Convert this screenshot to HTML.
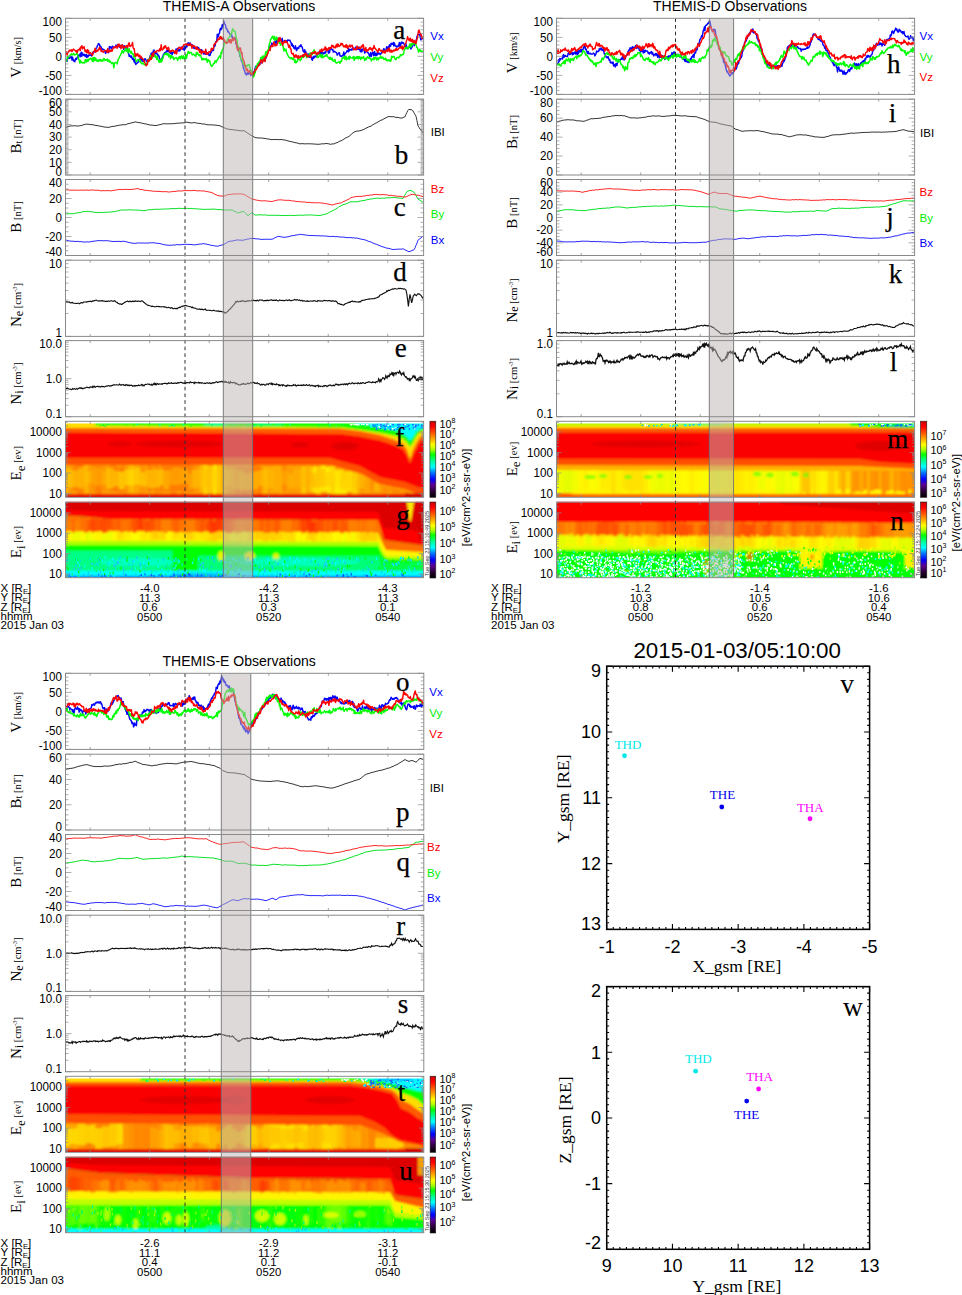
<!DOCTYPE html>
<html><head><meta charset="utf-8"><style>
html,body{margin:0;padding:0;background:#fff;}
svg{display:block;}
</style></head><body>
<svg width="962" height="1295" viewBox="0 0 962 1295">
<defs><filter id="blr" x="-5%" y="-20%" width="110%" height="140%"><feGaussianBlur stdDeviation="1.1"/></filter><clipPath id="cp_Af"><rect x="66" y="423.6" width="357.60" height="73.50"/></clipPath><clipPath id="cp_Ag"><rect x="66" y="501.8" width="357.60" height="75.80"/></clipPath><clipPath id="cp_Dm"><rect x="557" y="423.6" width="357.60" height="73.50"/></clipPath><clipPath id="cp_Dn"><rect x="557" y="501.8" width="357.60" height="75.80"/></clipPath><clipPath id="cp_Et"><rect x="66" y="1078.6" width="357.60" height="73.50"/></clipPath><clipPath id="cp_Eu"><rect x="66" y="1156.8" width="357.60" height="75.80"/></clipPath><linearGradient id="cbg" x1="0" y1="0" x2="0" y2="1"><stop offset="0.000" stop-color="#c80000"/><stop offset="0.070" stop-color="#ff0000"/><stop offset="0.120" stop-color="#ff3000"/><stop offset="0.180" stop-color="#ff7000"/><stop offset="0.240" stop-color="#ffb000"/><stop offset="0.310" stop-color="#ffff00"/><stop offset="0.370" stop-color="#b0ff00"/><stop offset="0.440" stop-color="#00ff00"/><stop offset="0.520" stop-color="#00ff90"/><stop offset="0.600" stop-color="#00ffff"/><stop offset="0.680" stop-color="#0070ff"/><stop offset="0.760" stop-color="#0000ff"/><stop offset="0.840" stop-color="#5c0090"/><stop offset="0.920" stop-color="#2a0035"/><stop offset="1.000" stop-color="#000000"/></linearGradient></defs>
<g clip-path="url(#cp_Af)"><g filter="url(#blr)">
<path d="M62.0 423.6L428.0 423.6L428.0 501.0L62.0 501.0Z" fill="#ff9b00"/>
<path d="M62.0 466.1L66.1 466.1L66.1 492.8L62.0 492.8Z" fill="#ffb000" fill-opacity="0.9"/>
<path d="M65.8 462.5L70.1 462.5L70.1 493.1L65.8 493.1Z" fill="#ffa900" fill-opacity="0.9"/>
<path d="M69.8 462.0L74.7 462.0L74.7 492.0L69.8 492.0Z" fill="#ff9100" fill-opacity="0.9"/>
<path d="M74.4 465.1L77.0 465.1L77.0 490.7L74.4 490.7Z" fill="#ff7b00" fill-opacity="0.9"/>
<path d="M76.7 464.9L83.0 464.9L83.0 493.6L76.7 493.6Z" fill="#ff7b00" fill-opacity="0.9"/>
<path d="M82.7 464.3L85.6 464.3L85.6 490.8L82.7 490.8Z" fill="#ffa300" fill-opacity="0.9"/>
<path d="M85.3 461.8L88.3 461.8L88.3 492.8L85.3 492.8Z" fill="#ffb800" fill-opacity="0.9"/>
<path d="M88.0 464.3L92.1 464.3L92.1 493.7L88.0 493.7Z" fill="#ff9c00" fill-opacity="0.9"/>
<path d="M91.8 464.0L96.1 464.0L96.1 491.9L91.8 491.9Z" fill="#ff8e00" fill-opacity="0.9"/>
<path d="M95.8 466.0L102.1 466.0L102.1 494.0L95.8 494.0Z" fill="#ff7b00" fill-opacity="0.9"/>
<path d="M101.8 463.3L105.4 463.3L105.4 490.9L101.8 490.9Z" fill="#ff9100" fill-opacity="0.9"/>
<path d="M105.1 466.1L110.4 466.1L110.4 492.4L105.1 492.4Z" fill="#ff9900" fill-opacity="0.9"/>
<path d="M110.1 461.9L116.3 461.9L116.3 491.5L110.1 491.5Z" fill="#ff7d00" fill-opacity="0.9"/>
<path d="M116.0 466.8L121.9 466.8L121.9 492.5L116.0 492.5Z" fill="#ff7f00" fill-opacity="0.9"/>
<path d="M121.6 465.8L124.2 465.8L124.2 491.8L121.6 491.8Z" fill="#ff7b00" fill-opacity="0.9"/>
<path d="M123.9 466.8L126.5 466.8L126.5 494.3L123.9 494.3Z" fill="#ff8800" fill-opacity="0.9"/>
<path d="M126.2 462.5L129.0 462.5L129.0 490.8L126.2 490.8Z" fill="#ff9d00" fill-opacity="0.9"/>
<path d="M128.7 464.8L134.2 464.8L134.2 492.7L128.7 492.7Z" fill="#ffb800" fill-opacity="0.9"/>
<path d="M133.9 462.7L137.0 462.7L137.0 493.7L133.9 493.7Z" fill="#ffa500" fill-opacity="0.9"/>
<path d="M136.7 463.1L139.4 463.1L139.4 491.8L136.7 491.8Z" fill="#ffab00" fill-opacity="0.9"/>
<path d="M139.1 463.6L145.3 463.6L145.3 494.9L139.1 494.9Z" fill="#ff9200" fill-opacity="0.9"/>
<path d="M145.0 466.4L148.2 466.4L148.2 493.7L145.0 493.7Z" fill="#ff9b00" fill-opacity="0.9"/>
<path d="M147.9 463.2L150.6 463.2L150.6 491.8L147.9 491.8Z" fill="#ff7b00" fill-opacity="0.9"/>
<path d="M150.3 463.7L155.6 463.7L155.6 490.9L150.3 490.9Z" fill="#ff8900" fill-opacity="0.9"/>
<path d="M155.3 463.4L158.0 463.4L158.0 493.5L155.3 493.5Z" fill="#ff8200" fill-opacity="0.9"/>
<path d="M157.7 467.0L161.5 467.0L161.5 492.9L157.7 492.9Z" fill="#ff8600" fill-opacity="0.9"/>
<path d="M161.2 463.2L165.8 463.2L165.8 491.3L161.2 491.3Z" fill="#ff7b00" fill-opacity="0.9"/>
<path d="M165.5 463.5L171.4 463.5L171.4 491.4L165.5 491.4Z" fill="#ff7b00" fill-opacity="0.9"/>
<path d="M171.1 463.3L176.4 463.3L176.4 495.3L171.1 495.3Z" fill="#ff7b00" fill-opacity="0.9"/>
<path d="M176.1 464.5L181.9 464.5L181.9 491.0L176.1 491.0Z" fill="#ff7b00" fill-opacity="0.9"/>
<path d="M181.6 463.6L184.1 463.6L184.1 494.0L181.6 494.0Z" fill="#ff7b00" fill-opacity="0.9"/>
<path d="M183.8 465.4L187.1 465.4L187.1 492.0L183.8 492.0Z" fill="#ff7b00" fill-opacity="0.9"/>
<path d="M186.8 462.8L189.8 462.8L189.8 491.6L186.8 491.6Z" fill="#ff7b00" fill-opacity="0.9"/>
<path d="M189.5 465.5L194.0 465.5L194.0 491.9L189.5 491.9Z" fill="#ff7b00" fill-opacity="0.9"/>
<path d="M193.7 462.6L199.7 462.6L199.7 491.8L193.7 491.8Z" fill="#ff9300" fill-opacity="0.9"/>
<path d="M199.4 463.4L203.5 463.4L203.5 492.3L199.4 492.3Z" fill="#ffb700" fill-opacity="0.9"/>
<path d="M203.2 464.4L207.8 464.4L207.8 495.0L203.2 495.0Z" fill="#ffd800" fill-opacity="0.9"/>
<path d="M207.5 466.1L213.7 466.1L213.7 493.4L207.5 493.4Z" fill="#ffca00" fill-opacity="0.9"/>
<path d="M213.4 462.7L216.3 462.7L216.3 495.1L213.4 495.1Z" fill="#fff200" fill-opacity="0.9"/>
<path d="M216.0 462.8L221.1 462.8L221.1 493.7L216.0 493.7Z" fill="#ffca00" fill-opacity="0.9"/>
<path d="M220.8 464.3L225.0 464.3L225.0 495.5L220.8 495.5Z" fill="#ffb600" fill-opacity="0.9"/>
<path d="M224.7 466.4L227.3 466.4L227.3 495.0L224.7 495.0Z" fill="#ffb200" fill-opacity="0.9"/>
<path d="M227.0 466.7L232.2 466.7L232.2 495.1L227.0 495.1Z" fill="#ffa100" fill-opacity="0.9"/>
<path d="M231.9 467.3L235.6 467.3L235.6 494.9L231.9 494.9Z" fill="#ff9200" fill-opacity="0.9"/>
<path d="M235.3 467.1L239.3 467.1L239.3 493.4L235.3 493.4Z" fill="#ff7b00" fill-opacity="0.9"/>
<path d="M239.0 465.8L243.8 465.8L243.8 493.5L239.0 493.5Z" fill="#ff8400" fill-opacity="0.9"/>
<path d="M243.5 467.8L246.1 467.8L246.1 494.9L243.5 494.9Z" fill="#ff7b00" fill-opacity="0.9"/>
<path d="M245.8 466.6L251.0 466.6L251.0 493.4L245.8 493.4Z" fill="#ff8400" fill-opacity="0.9"/>
<path d="M250.7 463.3L254.8 463.3L254.8 494.3L250.7 494.3Z" fill="#ff7b00" fill-opacity="0.9"/>
<path d="M254.5 465.3L256.9 465.3L256.9 491.7L254.5 491.7Z" fill="#ff7b00" fill-opacity="0.9"/>
<path d="M256.6 466.0L261.7 466.0L261.7 495.1L256.6 495.1Z" fill="#ff7b00" fill-opacity="0.9"/>
<path d="M261.4 464.5L264.7 464.5L264.7 493.9L261.4 493.9Z" fill="#ffa300" fill-opacity="0.9"/>
<path d="M264.4 467.5L267.6 467.5L267.6 493.8L264.4 493.8Z" fill="#ffbf00" fill-opacity="0.9"/>
<path d="M267.3 464.7L271.3 464.7L271.3 493.8L267.3 493.8Z" fill="#ff9e00" fill-opacity="0.9"/>
<path d="M271.0 467.1L274.1 467.1L274.1 495.1L271.0 495.1Z" fill="#ffa400" fill-opacity="0.9"/>
<path d="M273.8 466.0L279.6 466.0L279.6 492.1L273.8 492.1Z" fill="#ffad00" fill-opacity="0.9"/>
<path d="M279.3 467.3L282.2 467.3L282.2 494.7L279.3 494.7Z" fill="#ffad00" fill-opacity="0.9"/>
<path d="M281.9 464.5L287.0 464.5L287.0 491.3L281.9 491.3Z" fill="#ff8800" fill-opacity="0.9"/>
<path d="M286.7 464.3L290.8 464.3L290.8 492.6L286.7 492.6Z" fill="#ff9b00" fill-opacity="0.9"/>
<path d="M290.5 464.8L295.3 464.8L295.3 494.7L290.5 494.7Z" fill="#ff9b00" fill-opacity="0.9"/>
<path d="M295.0 463.6L301.3 463.6L301.3 490.7L295.0 490.7Z" fill="#ff9f00" fill-opacity="0.9"/>
<path d="M301.0 466.8L306.8 466.8L306.8 493.4L301.0 493.4Z" fill="#ffc600" fill-opacity="0.9"/>
<path d="M306.5 463.4L310.0 463.4L310.0 491.2L306.5 491.2Z" fill="#ffad00" fill-opacity="0.9"/>
<path d="M309.7 467.5L313.8 467.5L313.8 491.7L309.7 491.7Z" fill="#ffd600" fill-opacity="0.9"/>
<path d="M313.5 466.5L316.4 466.5L316.4 492.7L313.5 492.7Z" fill="#fff400" fill-opacity="0.9"/>
<path d="M316.1 467.4L320.9 467.4L320.9 495.3L316.1 495.3Z" fill="#ffe600" fill-opacity="0.9"/>
<path d="M320.6 465.8L325.6 465.8L325.6 491.4L320.6 491.4Z" fill="#fff400" fill-opacity="0.9"/>
<path d="M325.3 467.0L327.7 467.0L327.7 491.4L325.3 491.4Z" fill="#fff400" fill-opacity="0.9"/>
<path d="M327.4 467.0L330.8 467.0L330.8 493.1L327.4 493.1Z" fill="#fff400" fill-opacity="0.9"/>
<path d="M330.5 466.2L335.2 466.2L335.2 494.5L330.5 494.5Z" fill="#ffdd00" fill-opacity="0.9"/>
<path d="M334.9 470.2L340.8 470.2L340.8 494.1L334.9 494.1Z" fill="#fff400" fill-opacity="0.9"/>
<path d="M340.5 469.8L343.4 469.8L343.4 495.0L340.5 495.0Z" fill="#fff400" fill-opacity="0.9"/>
<path d="M343.1 471.8L346.9 471.8L346.9 494.5L343.1 494.5Z" fill="#ffee00" fill-opacity="0.9"/>
<path d="M346.6 471.6L352.6 471.6L352.6 491.5L346.6 491.5Z" fill="#fff100" fill-opacity="0.9"/>
<path d="M352.3 472.7L357.5 472.7L357.5 494.1L352.3 494.1Z" fill="#ffd500" fill-opacity="0.9"/>
<path d="M357.2 475.1L360.4 475.1L360.4 495.4L357.2 495.4Z" fill="#ffb200" fill-opacity="0.9"/>
<path d="M360.1 473.3L364.5 473.3L364.5 495.0L360.1 495.0Z" fill="#ff9a00" fill-opacity="0.9"/>
<path d="M364.2 474.7L370.0 474.7L370.0 492.7L364.2 492.7Z" fill="#ffa700" fill-opacity="0.9"/>
<path d="M369.7 479.4L374.2 479.4L374.2 490.6L369.7 490.6Z" fill="#ff9100" fill-opacity="0.9"/>
<path d="M373.9 483.6L379.4 483.6L379.4 491.4L373.9 491.4Z" fill="#ffb500" fill-opacity="0.9"/>
<path d="M379.1 482.4L382.7 482.4L382.7 491.2L379.1 491.2Z" fill="#ff9d00" fill-opacity="0.9"/>
<path d="M382.4 486.6L386.8 486.6L386.8 493.9L382.4 493.9Z" fill="#ff8b00" fill-opacity="0.9"/>
<path d="M386.5 488.1L392.6 488.1L392.6 490.9L386.5 490.9Z" fill="#ff8b00" fill-opacity="0.9"/>
<path d="M392.3 485.7L395.5 485.7L395.5 494.1L392.3 494.1Z" fill="#ff8900" fill-opacity="0.9"/>
<path d="M395.2 489.2L400.0 489.2L400.0 493.3L395.2 493.3Z" fill="#ff8700" fill-opacity="0.9"/>
<path d="M399.7 490.0L403.3 490.0L403.3 495.0L399.7 495.0Z" fill="#ff9100" fill-opacity="0.9"/>
<path d="M403.0 491.2L406.1 491.2L406.1 493.1L403.0 493.1Z" fill="#ff7b00" fill-opacity="0.9"/>
<path d="M405.8 489.6L410.4 489.6L410.4 493.0L405.8 493.0Z" fill="#ff9300" fill-opacity="0.9"/>
<path d="M410.1 492.3L414.8 492.3L414.8 493.1L410.1 493.1Z" fill="#ffbb00" fill-opacity="0.9"/>
<path d="M414.5 490.8L418.4 490.8L418.4 493.0L414.5 493.0Z" fill="#ffa100" fill-opacity="0.9"/>
<path d="M418.1 491.2L423.2 491.2L423.2 492.6L418.1 492.6Z" fill="#ffc600" fill-opacity="0.9"/>
<path d="M62.0 471.0L68.1 471.0L68.1 483.9L62.0 483.9Z" fill="#ffcf00" fill-opacity="0.6"/>
<path d="M67.8 468.7L71.2 468.7L71.2 487.9L67.8 487.9Z" fill="#ffd600" fill-opacity="0.6"/>
<path d="M70.9 470.4L78.4 470.4L78.4 487.0L70.9 487.0Z" fill="#ffd000" fill-opacity="0.6"/>
<path d="M78.1 468.1L82.2 468.1L82.2 488.5L78.1 488.5Z" fill="#ffd300" fill-opacity="0.6"/>
<path d="M81.9 467.6L85.6 467.6L85.6 487.2L81.9 487.2Z" fill="#ffc200" fill-opacity="0.6"/>
<path d="M85.3 472.2L90.6 472.2L90.6 483.3L85.3 483.3Z" fill="#ffc700" fill-opacity="0.6"/>
<path d="M90.3 470.2L94.0 470.2L94.0 483.7L90.3 483.7Z" fill="#ffb000" fill-opacity="0.6"/>
<path d="M93.7 467.9L102.9 467.9L102.9 485.7L93.7 485.7Z" fill="#ffb000" fill-opacity="0.6"/>
<path d="M102.6 471.0L106.7 471.0L106.7 484.2L102.6 484.2Z" fill="#ffba00" fill-opacity="0.6"/>
<path d="M106.4 468.3L113.9 468.3L113.9 488.2L106.4 488.2Z" fill="#ffd300" fill-opacity="0.6"/>
<path d="M113.6 470.9L119.3 470.9L119.3 486.2L113.6 486.2Z" fill="#ffd800" fill-opacity="0.6"/>
<path d="M119.0 471.7L124.6 471.7L124.6 489.1L119.0 489.1Z" fill="#fff200" fill-opacity="0.6"/>
<path d="M124.3 469.5L133.5 469.5L133.5 485.5L124.3 485.5Z" fill="#ffe900" fill-opacity="0.6"/>
<path d="M133.2 468.1L140.6 468.1L140.6 484.8L133.2 484.8Z" fill="#ffdf00" fill-opacity="0.6"/>
<path d="M140.3 472.3L145.8 472.3L145.8 486.4L140.3 486.4Z" fill="#ffde00" fill-opacity="0.6"/>
<path d="M145.5 470.0L148.9 470.0L148.9 486.6L145.5 486.6Z" fill="#ffcd00" fill-opacity="0.6"/>
<path d="M148.6 469.8L153.3 469.8L153.3 488.1L148.6 488.1Z" fill="#ffd100" fill-opacity="0.6"/>
<path d="M153.0 468.6L156.9 468.6L156.9 487.7L153.0 487.7Z" fill="#ffce00" fill-opacity="0.6"/>
<path d="M156.6 469.6L160.1 469.6L160.1 487.3L156.6 487.3Z" fill="#ffda00" fill-opacity="0.6"/>
<path d="M159.8 468.8L163.4 468.8L163.4 485.2L159.8 485.2Z" fill="#ffdc00" fill-opacity="0.6"/>
<path d="M163.1 470.5L169.3 470.5L169.3 489.3L163.1 489.3Z" fill="#ffc300" fill-opacity="0.6"/>
<path d="M169.0 469.8L173.3 469.8L173.3 484.7L169.0 484.7Z" fill="#ffb000" fill-opacity="0.6"/>
<path d="M173.0 467.7L180.8 467.7L180.8 485.2L173.0 485.2Z" fill="#ffb000" fill-opacity="0.6"/>
<path d="M180.5 469.1L188.4 469.1L188.4 483.7L180.5 483.7Z" fill="#ffb900" fill-opacity="0.6"/>
<path d="M188.1 473.6L191.6 473.6L191.6 489.7L188.1 489.7Z" fill="#ffb200" fill-opacity="0.6"/>
<path d="M191.3 469.7L197.7 469.7L197.7 488.4L191.3 488.4Z" fill="#ffcc00" fill-opacity="0.6"/>
<path d="M197.4 469.1L205.7 469.1L205.7 486.9L197.4 486.9Z" fill="#ffc500" fill-opacity="0.6"/>
<path d="M205.4 469.4L211.5 469.4L211.5 489.5L205.4 489.5Z" fill="#ffbe00" fill-opacity="0.6"/>
<path d="M211.2 469.6L219.9 469.6L219.9 489.1L211.2 489.1Z" fill="#ffd000" fill-opacity="0.6"/>
<path d="M219.6 471.0L224.6 471.0L224.6 488.0L219.6 488.0Z" fill="#ffb800" fill-opacity="0.6"/>
<path d="M224.3 469.6L231.8 469.6L231.8 485.4L224.3 485.4Z" fill="#ffc800" fill-opacity="0.6"/>
<path d="M231.5 468.7L238.9 468.7L238.9 489.3L231.5 489.3Z" fill="#ffbd00" fill-opacity="0.6"/>
<path d="M238.6 470.6L244.4 470.6L244.4 489.9L238.6 489.9Z" fill="#ffcb00" fill-opacity="0.6"/>
<path d="M244.1 473.5L250.8 473.5L250.8 489.8L244.1 489.8Z" fill="#ffc400" fill-opacity="0.6"/>
<path d="M250.5 471.6L258.3 471.6L258.3 489.5L250.5 489.5Z" fill="#ffc900" fill-opacity="0.6"/>
<path d="M258.0 470.2L266.1 470.2L266.1 486.3L258.0 486.3Z" fill="#ffc500" fill-opacity="0.6"/>
<path d="M265.8 468.2L273.5 468.2L273.5 488.4L265.8 488.4Z" fill="#ffc100" fill-opacity="0.6"/>
<path d="M273.2 473.6L281.9 473.6L281.9 489.6L273.2 489.6Z" fill="#ffb100" fill-opacity="0.6"/>
<path d="M281.6 470.5L288.1 470.5L288.1 484.8L281.6 484.8Z" fill="#ffb000" fill-opacity="0.6"/>
<path d="M287.8 473.9L293.2 473.9L293.2 488.4L287.8 488.4Z" fill="#ffba00" fill-opacity="0.6"/>
<path d="M292.9 469.0L299.5 469.0L299.5 487.5L292.9 487.5Z" fill="#ffb400" fill-opacity="0.6"/>
<path d="M299.2 469.8L306.7 469.8L306.7 486.8L299.2 486.8Z" fill="#ffb900" fill-opacity="0.6"/>
<path d="M306.4 469.2L311.6 469.2L311.6 484.9L306.4 484.9Z" fill="#ffb000" fill-opacity="0.6"/>
<path d="M311.3 472.9L316.5 472.9L316.5 488.3L311.3 488.3Z" fill="#ffb000" fill-opacity="0.6"/>
<path d="M316.2 468.6L325.1 468.6L325.1 487.3L316.2 487.3Z" fill="#ffb700" fill-opacity="0.6"/>
<path d="M324.8 472.5L330.8 472.5L330.8 486.5L324.8 486.5Z" fill="#ffc900" fill-opacity="0.6"/>
<path d="M330.5 474.1L335.2 474.1L335.2 484.5L330.5 484.5Z" fill="#ffd300" fill-opacity="0.6"/>
<path d="M334.9 469.7L340.4 469.7L340.4 487.1L334.9 487.1Z" fill="#ffdf00" fill-opacity="0.6"/>
<path d="M340.1 471.5L344.7 471.5L344.7 488.7L340.1 488.7Z" fill="#ffc800" fill-opacity="0.6"/>
<path d="M344.4 472.2L348.7 472.2L348.7 489.6L344.4 489.6Z" fill="#ffca00" fill-opacity="0.6"/>
<path d="M348.4 473.7L353.2 473.7L353.2 489.6L348.4 489.6Z" fill="#ffcc00" fill-opacity="0.6"/>
<path d="M352.9 473.2L357.5 473.2L357.5 487.0L352.9 487.0Z" fill="#ffca00" fill-opacity="0.6"/>
<path d="M357.2 474.5L364.6 474.5L364.6 488.0L357.2 488.0Z" fill="#ffc100" fill-opacity="0.6"/>
<path d="M62.0 456.0L330.0 456.0L345.0 460.0L360.0 464.0L380.0 475.0L395.0 478.0L405.0 480.0L415.0 484.0L428.0 488.0L428.0 497.0L415.0 493.0L405.0 489.0L395.0 487.0L380.0 484.0L360.0 473.0L345.0 469.0L330.0 465.0L62.0 465.0Z" fill="#ff5000"/>
<path d="M62.0 432.0L340.0 433.5L360.0 436.0L380.0 440.0L395.0 445.0L403.0 449.0L407.0 455.0L410.0 463.0L413.0 455.0L416.0 449.0L420.0 441.0L428.0 437.0L428.0 490.0L415.0 486.0L405.0 482.0L395.0 480.0L380.0 477.0L360.0 466.0L345.0 462.0L330.0 458.0L62.0 458.0Z" fill="#fb0000"/>
<path d="M62.0 417.6L428.0 417.6L428.0 437.5L420.0 441.5L416.0 449.5L413.0 455.5L410.0 463.5L407.0 455.5L403.0 449.5L395.0 445.5L380.0 440.5L360.0 436.5L340.0 434.0L62.0 432.5Z" fill="#ff5b00"/>
<path d="M62.0 417.6L428.0 417.6L428.0 434.0L420.0 437.0L416.0 444.0L413.0 450.0L410.0 459.0L407.0 450.0L403.0 444.0L395.0 440.0L380.0 435.0L360.0 431.0L340.0 428.5L62.0 428.0Z" fill="#ffdd00"/>
<path d="M95.0 417.6L428.0 417.6L428.0 430.0L420.0 432.0L416.0 437.0L413.0 443.0L410.0 447.0L407.0 443.0L403.0 439.0L395.0 436.0L380.0 433.0L360.0 430.0L340.0 427.5L95.0 425.6Z" fill="#19ff00"/>
<path d="M355.0 417.6L428.0 417.6L428.0 427.0L420.0 429.0L416.0 432.0L413.0 437.0L410.0 441.0L407.0 437.0L403.0 434.0L395.0 430.0L380.0 428.0L370.0 425.0L355.0 423.6Z" fill="#00ffff"/>
<path d="M62.0 494.0L428.0 494.0L428.0 501.0L62.0 501.0Z" fill="#e70000"/>
<path d="M405.0 493.0L428.0 493.0L428.0 501.0L405.0 501.0Z" fill="#c80000" fill-opacity="0.6"/>
<ellipse cx="180" cy="444" rx="45" ry="3.5" fill="#c80000" fill-opacity="0.45"/>
<ellipse cx="120" cy="444" rx="12" ry="3" fill="#c80000" fill-opacity="0.4"/>
<ellipse cx="300" cy="445" rx="10" ry="3" fill="#c80000" fill-opacity="0.4"/>
<ellipse cx="345" cy="446" rx="14" ry="4" fill="#c80000" fill-opacity="0.5"/>
<ellipse cx="215" cy="424.5" rx="12" ry="1.2" fill="#00ffff" fill-opacity="0.7"/>
<ellipse cx="270" cy="424.5" rx="15" ry="1.0" fill="#00ffe3" fill-opacity="0.6"/>
</g>
<path d="M253.8 425.0h1.6v1.4h-1.6zM335.3 425.0h1.6v1.4h-1.6zM289.3 423.7h1.6v1.4h-1.6zM168.8 425.4h1.6v1.4h-1.6zM182.8 424.3h1.6v1.4h-1.6zM159.0 424.5h1.6v1.4h-1.6zM329.1 424.2h1.6v1.4h-1.6zM173.1 425.1h1.6v1.4h-1.6zM136.2 423.7h1.6v1.4h-1.6z" fill="#00ffc0"/><path d="M102.4 424.5h1.6v1.4h-1.6zM260.5 425.3h1.6v1.4h-1.6zM233.7 424.7h1.6v1.4h-1.6zM281.5 424.4h1.6v1.4h-1.6zM328.7 425.1h1.6v1.4h-1.6zM252.5 423.8h1.6v1.4h-1.6zM342.9 423.6h1.6v1.4h-1.6zM339.8 423.9h1.6v1.4h-1.6zM318.4 424.8h1.6v1.4h-1.6zM171.2 424.3h1.6v1.4h-1.6zM171.8 424.7h1.6v1.4h-1.6zM247.0 424.9h1.6v1.4h-1.6zM274.7 423.7h1.6v1.4h-1.6zM106.9 423.9h1.6v1.4h-1.6zM104.3 425.4h1.6v1.4h-1.6zM231.1 424.4h1.6v1.4h-1.6zM211.2 424.4h1.6v1.4h-1.6z" fill="#00ff40"/><path d="M189.8 425.3h1.6v1.4h-1.6zM334.9 424.9h1.6v1.4h-1.6zM333.6 424.1h1.6v1.4h-1.6zM174.0 425.2h1.6v1.4h-1.6zM272.6 424.0h1.6v1.4h-1.6zM337.1 424.3h1.6v1.4h-1.6zM99.6 425.1h1.6v1.4h-1.6zM191.0 425.2h1.6v1.4h-1.6zM125.4 424.1h1.6v1.4h-1.6zM285.8 425.1h1.6v1.4h-1.6zM148.2 424.6h1.6v1.4h-1.6zM234.0 424.2h1.6v1.4h-1.6zM133.0 424.9h1.6v1.4h-1.6zM283.8 424.3h1.6v1.4h-1.6z" fill="#40ff00"/><path d="M420.9 427.0h1.6v1.4h-1.6zM399.3 424.3h1.6v1.4h-1.6zM420.8 426.0h1.6v1.4h-1.6zM419.9 427.0h1.6v1.4h-1.6zM415.1 424.6h1.6v1.4h-1.6zM384.2 425.5h1.6v1.4h-1.6zM380.3 425.6h1.6v1.4h-1.6zM402.8 423.8h1.6v1.4h-1.6zM375.8 428.8h1.6v1.4h-1.6zM380.1 423.8h1.6v1.4h-1.6zM412.7 427.2h1.6v1.4h-1.6zM372.1 424.3h1.6v1.4h-1.6zM407.5 425.1h1.6v1.4h-1.6zM398.4 423.7h1.6v1.4h-1.6zM403.7 428.2h1.6v1.4h-1.6zM385.8 423.6h1.6v1.4h-1.6zM400.3 427.1h1.6v1.4h-1.6zM417.4 424.4h1.6v1.4h-1.6zM392.3 424.0h1.6v1.4h-1.6zM414.9 426.0h1.6v1.4h-1.6zM393.6 425.7h1.6v1.4h-1.6z" fill="#3050ff"/><path d="M387.4 424.7h1.6v1.4h-1.6zM413.4 425.0h1.6v1.4h-1.6zM388.2 428.2h1.6v1.4h-1.6zM384.7 424.0h1.6v1.4h-1.6zM402.4 427.8h1.6v1.4h-1.6zM378.3 426.0h1.6v1.4h-1.6zM414.5 428.3h1.6v1.4h-1.6zM391.8 428.0h1.6v1.4h-1.6zM395.7 426.2h1.6v1.4h-1.6zM377.5 423.7h1.6v1.4h-1.6zM401.6 426.2h1.6v1.4h-1.6zM393.7 428.5h1.6v1.4h-1.6zM400.9 427.3h1.6v1.4h-1.6zM394.7 427.3h1.6v1.4h-1.6zM404.5 423.7h1.6v1.4h-1.6zM370.5 424.1h1.6v1.4h-1.6zM401.2 426.2h1.6v1.4h-1.6zM389.5 423.9h1.6v1.4h-1.6zM385.3 426.7h1.6v1.4h-1.6zM379.3 427.5h1.6v1.4h-1.6z" fill="#ffffff"/><path d="M375.5 425.9h1.6v1.4h-1.6zM373.1 425.9h1.6v1.4h-1.6zM393.6 429.0h1.6v1.4h-1.6zM385.1 425.8h1.6v1.4h-1.6zM396.9 426.5h1.6v1.4h-1.6zM384.1 429.0h1.6v1.4h-1.6zM379.4 427.7h1.6v1.4h-1.6zM420.9 424.5h1.6v1.4h-1.6zM385.2 425.5h1.6v1.4h-1.6zM398.0 426.1h1.6v1.4h-1.6zM401.0 426.6h1.6v1.4h-1.6zM389.5 425.9h1.6v1.4h-1.6zM389.7 428.8h1.6v1.4h-1.6zM382.8 425.0h1.6v1.4h-1.6zM412.2 424.0h1.6v1.4h-1.6zM406.7 426.0h1.6v1.4h-1.6zM401.8 425.8h1.6v1.4h-1.6zM408.6 428.3h1.6v1.4h-1.6zM396.9 424.3h1.6v1.4h-1.6z" fill="#0060ff"/><path d="M405.8 425.3h1.6v1.4h-1.6zM388.8 427.8h1.6v1.4h-1.6zM406.1 427.2h1.6v1.4h-1.6zM388.9 427.4h1.6v1.4h-1.6zM407.2 428.8h1.6v1.4h-1.6zM394.7 427.8h1.6v1.4h-1.6zM403.7 427.9h1.6v1.4h-1.6zM393.4 425.6h1.6v1.4h-1.6zM396.9 428.7h1.6v1.4h-1.6zM400.7 424.9h1.6v1.4h-1.6zM370.0 425.8h1.6v1.4h-1.6zM398.6 425.2h1.6v1.4h-1.6zM420.3 426.9h1.6v1.4h-1.6zM401.0 425.0h1.6v1.4h-1.6zM395.8 425.8h1.6v1.4h-1.6zM419.1 425.3h1.6v1.4h-1.6zM402.3 426.0h1.6v1.4h-1.6zM370.7 426.5h1.6v1.4h-1.6zM370.8 424.3h1.6v1.4h-1.6zM397.7 425.4h1.6v1.4h-1.6zM408.0 423.7h1.6v1.4h-1.6zM406.2 428.4h1.6v1.4h-1.6zM407.0 424.3h1.6v1.4h-1.6zM398.7 425.0h1.6v1.4h-1.6z" fill="#00ffff"/><path d="M375.9 428.0h1.6v1.4h-1.6zM384.2 427.8h1.6v1.4h-1.6zM404.9 426.1h1.6v1.4h-1.6zM408.0 424.5h1.6v1.4h-1.6zM398.4 425.4h1.6v1.4h-1.6zM375.6 426.7h1.6v1.4h-1.6zM398.1 425.4h1.6v1.4h-1.6zM388.8 427.6h1.6v1.4h-1.6zM376.9 423.6h1.6v1.4h-1.6zM398.0 425.9h1.6v1.4h-1.6zM373.5 424.8h1.6v1.4h-1.6zM396.3 428.5h1.6v1.4h-1.6zM374.7 424.3h1.6v1.4h-1.6z" fill="#0090ff"/><path d="M403.8 426.7h1.6v1.4h-1.6zM388.3 427.2h1.6v1.4h-1.6zM413.2 425.6h1.6v1.4h-1.6zM382.7 426.2h1.6v1.4h-1.6zM414.9 428.4h1.6v1.4h-1.6zM380.2 425.2h1.6v1.4h-1.6zM383.9 424.1h1.6v1.4h-1.6zM406.5 423.9h1.6v1.4h-1.6zM381.4 427.1h1.6v1.4h-1.6zM375.6 425.6h1.6v1.4h-1.6zM384.6 426.7h1.6v1.4h-1.6zM398.6 424.8h1.6v1.4h-1.6zM387.8 426.7h1.6v1.4h-1.6z" fill="#00c0ff"/><path d="M353.5 423.9h1.6v1.4h-1.6zM355.2 423.9h1.6v1.4h-1.6zM366.4 423.9h1.6v1.4h-1.6zM361.0 423.7h1.6v1.4h-1.6zM363.0 423.7h1.6v1.4h-1.6zM349.9 423.8h1.6v1.4h-1.6zM366.1 424.2h1.6v1.4h-1.6zM350.6 424.2h1.6v1.4h-1.6zM358.1 424.2h1.6v1.4h-1.6zM366.9 423.9h1.6v1.4h-1.6zM356.6 424.1h1.6v1.4h-1.6zM351.1 423.7h1.6v1.4h-1.6z" fill="#ffffff"/>
</g>
<g clip-path="url(#cp_Ag)"><g filter="url(#blr)">
<path d="M62.0 498.2L428.0 498.2L428.0 581.0L62.0 581.0Z" fill="#00ff00"/>
<path d="M62.0 551.0L172.0 551.0L172.0 572.0L62.0 572.0Z" fill="#00ff9e" fill-opacity="0.85"/>
<path d="M198.0 556.0L380.0 556.0L380.0 572.0L198.0 572.0Z" fill="#00ff9e" fill-opacity="0.75"/>
<path d="M380.0 562.0L428.0 562.0L428.0 572.0L380.0 572.0Z" fill="#00ff6c" fill-opacity="0.6"/>
<path d="M62.0 571.0L428.0 571.0L428.0 581.0L62.0 581.0Z" fill="#00ffff"/>
<path d="M62.0 576.0L428.0 576.0L428.0 581.0L62.0 581.0Z" fill="#0038ff" fill-opacity="0.8"/>
<path d="M62.0 530.0L378.0 531.0L382.0 540.0L386.0 549.0L420.0 551.0L428.0 552.0L428.0 558.0L420.0 558.0L386.0 557.0L382.0 552.0L378.0 543.0L62.0 541.0Z" fill="#fff400"/>
<path d="M62.0 530.4L64.2 530.4L64.2 539.9L62.0 539.9Z" fill="#ffe400" fill-opacity="0.8"/>
<path d="M63.9 530.9L66.3 530.9L66.3 540.1L63.9 540.1Z" fill="#ffd300" fill-opacity="0.8"/>
<path d="M66.0 528.5L69.0 528.5L69.0 539.6L66.0 539.6Z" fill="#ffe200" fill-opacity="0.8"/>
<path d="M68.7 530.9L72.0 530.9L72.0 539.2L68.7 539.2Z" fill="#fffa00" fill-opacity="0.8"/>
<path d="M71.7 531.5L74.1 531.5L74.1 540.8L71.7 540.8Z" fill="#e8ff00" fill-opacity="0.8"/>
<path d="M73.8 528.6L77.7 528.6L77.7 539.6L73.8 539.6Z" fill="#efff00" fill-opacity="0.8"/>
<path d="M77.4 531.4L80.5 531.4L80.5 539.7L77.4 539.7Z" fill="#e5ff00" fill-opacity="0.8"/>
<path d="M80.2 528.9L82.4 528.9L82.4 541.4L80.2 541.4Z" fill="#f9ff00" fill-opacity="0.8"/>
<path d="M82.1 529.6L85.0 529.6L85.0 540.1L82.1 540.1Z" fill="#fdff00" fill-opacity="0.8"/>
<path d="M84.7 531.2L87.0 531.2L87.0 539.3L84.7 539.3Z" fill="#e5ff00" fill-opacity="0.8"/>
<path d="M86.7 531.5L90.4 531.5L90.4 541.3L86.7 541.3Z" fill="#e5ff00" fill-opacity="0.8"/>
<path d="M90.1 530.3L93.8 530.3L93.8 540.9L90.1 540.9Z" fill="#f6ff00" fill-opacity="0.8"/>
<path d="M93.5 531.1L95.6 531.1L95.6 539.3L93.5 539.3Z" fill="#f4ff00" fill-opacity="0.8"/>
<path d="M95.3 529.8L99.4 529.8L99.4 539.8L95.3 539.8Z" fill="#fff300" fill-opacity="0.8"/>
<path d="M99.1 531.6L102.1 531.6L102.1 539.9L99.1 539.9Z" fill="#fff900" fill-opacity="0.8"/>
<path d="M101.8 530.8L103.6 530.8L103.6 541.7L101.8 541.7Z" fill="#ebff00" fill-opacity="0.8"/>
<path d="M103.3 530.3L106.4 530.3L106.4 541.0L103.3 541.0Z" fill="#ebff00" fill-opacity="0.8"/>
<path d="M106.1 530.3L108.4 530.3L108.4 540.6L106.1 540.6Z" fill="#f2ff00" fill-opacity="0.8"/>
<path d="M108.1 529.7L110.4 529.7L110.4 541.5L108.1 541.5Z" fill="#e5ff00" fill-opacity="0.8"/>
<path d="M110.1 529.6L112.7 529.6L112.7 539.1L110.1 539.1Z" fill="#ebff00" fill-opacity="0.8"/>
<path d="M112.4 531.0L114.4 531.0L114.4 539.9L112.4 539.9Z" fill="#ffff00" fill-opacity="0.8"/>
<path d="M114.1 531.3L117.6 531.3L117.6 541.7L114.1 541.7Z" fill="#fff500" fill-opacity="0.8"/>
<path d="M117.3 531.5L120.1 531.5L120.1 540.6L117.3 540.6Z" fill="#ffda00" fill-opacity="0.8"/>
<path d="M119.8 529.8L123.8 529.8L123.8 539.6L119.8 539.6Z" fill="#ffdb00" fill-opacity="0.8"/>
<path d="M123.5 528.9L127.5 528.9L127.5 541.3L123.5 541.3Z" fill="#ffed00" fill-opacity="0.8"/>
<path d="M127.2 531.2L131.0 531.2L131.0 539.0L127.2 539.0Z" fill="#ffee00" fill-opacity="0.8"/>
<path d="M130.7 529.9L133.1 529.9L133.1 539.4L130.7 539.4Z" fill="#fffa00" fill-opacity="0.8"/>
<path d="M132.8 531.4L134.8 531.4L134.8 541.8L132.8 541.8Z" fill="#fbff00" fill-opacity="0.8"/>
<path d="M134.5 529.5L138.1 529.5L138.1 541.8L134.5 541.8Z" fill="#f9ff00" fill-opacity="0.8"/>
<path d="M137.8 528.8L141.0 528.8L141.0 539.6L137.8 539.6Z" fill="#fff700" fill-opacity="0.8"/>
<path d="M140.7 531.4L144.6 531.4L144.6 540.7L140.7 540.7Z" fill="#ffe700" fill-opacity="0.8"/>
<path d="M144.3 531.3L147.1 531.3L147.1 539.9L144.3 539.9Z" fill="#ffe200" fill-opacity="0.8"/>
<path d="M146.8 531.0L150.0 531.0L150.0 539.0L146.8 539.0Z" fill="#ffef00" fill-opacity="0.8"/>
<path d="M149.7 528.8L153.2 528.8L153.2 540.8L149.7 540.8Z" fill="#ffd600" fill-opacity="0.8"/>
<path d="M152.9 530.5L156.3 530.5L156.3 539.8L152.9 539.8Z" fill="#ffc700" fill-opacity="0.8"/>
<path d="M156.0 531.5L158.8 531.5L158.8 539.4L156.0 539.4Z" fill="#ffc700" fill-opacity="0.8"/>
<path d="M158.5 528.8L160.5 528.8L160.5 540.4L158.5 540.4Z" fill="#ffdd00" fill-opacity="0.8"/>
<path d="M160.2 530.7L162.4 530.7L162.4 539.4L160.2 539.4Z" fill="#ffc900" fill-opacity="0.8"/>
<path d="M162.1 530.3L165.2 530.3L165.2 539.7L162.1 539.7Z" fill="#ffd200" fill-opacity="0.8"/>
<path d="M164.9 529.9L167.1 529.9L167.1 541.2L164.9 541.2Z" fill="#ffe400" fill-opacity="0.8"/>
<path d="M166.8 530.9L170.0 530.9L170.0 541.7L166.8 541.7Z" fill="#fffd00" fill-opacity="0.8"/>
<path d="M169.7 528.8L173.5 528.8L173.5 540.5L169.7 540.5Z" fill="#ffed00" fill-opacity="0.8"/>
<path d="M173.2 529.3L175.1 529.3L175.1 541.2L173.2 541.2Z" fill="#ffde00" fill-opacity="0.8"/>
<path d="M174.8 529.8L177.2 529.8L177.2 539.2L174.8 539.2Z" fill="#ffd300" fill-opacity="0.8"/>
<path d="M176.9 531.5L179.7 531.5L179.7 540.0L176.9 540.0Z" fill="#ffde00" fill-opacity="0.8"/>
<path d="M179.4 531.7L182.5 531.7L182.5 539.4L179.4 539.4Z" fill="#ffdb00" fill-opacity="0.8"/>
<path d="M182.2 531.0L185.5 531.0L185.5 542.1L182.2 542.1Z" fill="#ffdb00" fill-opacity="0.8"/>
<path d="M185.2 530.4L187.8 530.4L187.8 540.9L185.2 540.9Z" fill="#ffd000" fill-opacity="0.8"/>
<path d="M187.5 531.8L189.4 531.8L189.4 540.3L187.5 540.3Z" fill="#ffc700" fill-opacity="0.8"/>
<path d="M189.1 529.2L191.7 529.2L191.7 539.4L189.1 539.4Z" fill="#ffc700" fill-opacity="0.8"/>
<path d="M191.4 531.1L193.4 531.1L193.4 540.6L191.4 540.6Z" fill="#ffc700" fill-opacity="0.8"/>
<path d="M193.1 530.8L196.4 530.8L196.4 540.6L193.1 540.6Z" fill="#ffe100" fill-opacity="0.8"/>
<path d="M196.1 530.1L199.2 530.1L199.2 539.9L196.1 539.9Z" fill="#ffe700" fill-opacity="0.8"/>
<path d="M198.9 529.6L200.9 529.6L200.9 541.4L198.9 541.4Z" fill="#ffeb00" fill-opacity="0.8"/>
<path d="M200.6 530.3L204.4 530.3L204.4 540.0L200.6 540.0Z" fill="#ffdf00" fill-opacity="0.8"/>
<path d="M204.1 530.8L206.9 530.8L206.9 542.2L204.1 542.2Z" fill="#ffdf00" fill-opacity="0.8"/>
<path d="M206.6 530.4L208.6 530.4L208.6 541.4L206.6 541.4Z" fill="#ffe000" fill-opacity="0.8"/>
<path d="M208.3 530.8L212.3 530.8L212.3 541.6L208.3 541.6Z" fill="#ffd100" fill-opacity="0.8"/>
<path d="M212.0 531.0L215.5 531.0L215.5 541.4L212.0 541.4Z" fill="#ffc700" fill-opacity="0.8"/>
<path d="M215.2 530.1L217.6 530.1L217.6 541.2L215.2 541.2Z" fill="#ffc700" fill-opacity="0.8"/>
<path d="M217.3 531.9L221.2 531.9L221.2 539.4L217.3 539.4Z" fill="#ffc700" fill-opacity="0.8"/>
<path d="M220.9 530.1L223.4 530.1L223.4 539.8L220.9 539.8Z" fill="#ffd100" fill-opacity="0.8"/>
<path d="M223.1 529.9L226.3 529.9L226.3 542.2L223.1 542.2Z" fill="#ffe800" fill-opacity="0.8"/>
<path d="M226.0 529.3L229.7 529.3L229.7 542.3L226.0 542.3Z" fill="#ffea00" fill-opacity="0.8"/>
<path d="M229.4 530.0L232.9 530.0L232.9 541.3L229.4 541.3Z" fill="#fffb00" fill-opacity="0.8"/>
<path d="M232.6 531.8L236.1 531.8L236.1 540.4L232.6 540.4Z" fill="#f5ff00" fill-opacity="0.8"/>
<path d="M235.8 529.4L238.3 529.4L238.3 541.5L235.8 541.5Z" fill="#fff500" fill-opacity="0.8"/>
<path d="M238.0 529.8L240.3 529.8L240.3 540.6L238.0 540.6Z" fill="#ffef00" fill-opacity="0.8"/>
<path d="M240.0 530.3L244.1 530.3L244.1 541.3L240.0 541.3Z" fill="#fff100" fill-opacity="0.8"/>
<path d="M243.8 530.2L246.3 530.2L246.3 540.3L243.8 540.3Z" fill="#faff00" fill-opacity="0.8"/>
<path d="M246.0 529.1L248.3 529.1L248.3 541.9L246.0 541.9Z" fill="#ffea00" fill-opacity="0.8"/>
<path d="M248.0 529.1L252.1 529.1L252.1 541.0L248.0 541.0Z" fill="#ffde00" fill-opacity="0.8"/>
<path d="M251.8 531.1L253.7 531.1L253.7 540.3L251.8 540.3Z" fill="#ffd800" fill-opacity="0.8"/>
<path d="M253.4 529.3L255.3 529.3L255.3 540.5L253.4 540.5Z" fill="#ffd600" fill-opacity="0.8"/>
<path d="M255.0 530.1L257.9 530.1L257.9 540.0L255.0 540.0Z" fill="#ffc700" fill-opacity="0.8"/>
<path d="M257.6 530.6L261.4 530.6L261.4 539.7L257.6 539.7Z" fill="#ffc700" fill-opacity="0.8"/>
<path d="M261.1 530.7L263.3 530.7L263.3 540.3L261.1 540.3Z" fill="#ffcc00" fill-opacity="0.8"/>
<path d="M263.0 531.8L266.8 531.8L266.8 542.3L263.0 542.3Z" fill="#ffc700" fill-opacity="0.8"/>
<path d="M266.5 529.3L268.4 529.3L268.4 542.3L266.5 542.3Z" fill="#ffc700" fill-opacity="0.8"/>
<path d="M268.1 529.6L271.8 529.6L271.8 539.8L268.1 539.8Z" fill="#ffc700" fill-opacity="0.8"/>
<path d="M271.5 530.9L275.3 530.9L275.3 541.1L271.5 541.1Z" fill="#ffc700" fill-opacity="0.8"/>
<path d="M275.0 529.9L278.8 529.9L278.8 540.7L275.0 540.7Z" fill="#ffd000" fill-opacity="0.8"/>
<path d="M278.5 531.8L281.0 531.8L281.0 539.9L278.5 539.9Z" fill="#ffc900" fill-opacity="0.8"/>
<path d="M280.7 531.1L282.7 531.1L282.7 540.3L280.7 540.3Z" fill="#ffc800" fill-opacity="0.8"/>
<path d="M282.4 529.2L284.9 529.2L284.9 541.2L282.4 541.2Z" fill="#ffe000" fill-opacity="0.8"/>
<path d="M284.6 529.6L288.1 529.6L288.1 540.0L284.6 540.0Z" fill="#ffd800" fill-opacity="0.8"/>
<path d="M287.8 530.3L291.9 530.3L291.9 541.8L287.8 541.8Z" fill="#ffd600" fill-opacity="0.8"/>
<path d="M291.6 529.4L295.2 529.4L295.2 542.2L291.6 542.2Z" fill="#ffd400" fill-opacity="0.8"/>
<path d="M294.9 530.2L297.3 530.2L297.3 541.4L294.9 541.4Z" fill="#ffee00" fill-opacity="0.8"/>
<path d="M297.0 531.3L300.3 531.3L300.3 541.3L297.0 541.3Z" fill="#feff00" fill-opacity="0.8"/>
<path d="M300.0 531.6L302.2 531.6L302.2 542.5L300.0 542.5Z" fill="#ffec00" fill-opacity="0.8"/>
<path d="M301.9 531.5L305.4 531.5L305.4 542.5L301.9 542.5Z" fill="#fffc00" fill-opacity="0.8"/>
<path d="M305.1 532.1L308.3 532.1L308.3 541.0L305.1 541.0Z" fill="#ffe500" fill-opacity="0.8"/>
<path d="M308.0 531.6L312.1 531.6L312.1 539.9L308.0 539.9Z" fill="#ffcd00" fill-opacity="0.8"/>
<path d="M311.8 531.0L314.5 531.0L314.5 542.1L311.8 542.1Z" fill="#ffc700" fill-opacity="0.8"/>
<path d="M314.2 532.0L317.6 532.0L317.6 541.5L314.2 541.5Z" fill="#ffda00" fill-opacity="0.8"/>
<path d="M317.3 532.2L321.3 532.2L321.3 541.6L317.3 541.6Z" fill="#ffea00" fill-opacity="0.8"/>
<path d="M321.0 531.9L324.8 531.9L324.8 541.0L321.0 541.0Z" fill="#ffdd00" fill-opacity="0.8"/>
<path d="M324.5 529.8L326.5 529.8L326.5 541.6L324.5 541.6Z" fill="#ffe200" fill-opacity="0.8"/>
<path d="M326.2 529.6L330.0 529.6L330.0 540.0L326.2 540.0Z" fill="#ffe900" fill-opacity="0.8"/>
<path d="M329.7 529.3L332.6 529.3L332.6 542.0L329.7 542.0Z" fill="#ffe500" fill-opacity="0.8"/>
<path d="M332.3 532.0L334.6 532.0L334.6 541.6L332.3 541.6Z" fill="#fffb00" fill-opacity="0.8"/>
<path d="M334.3 529.6L338.3 529.6L338.3 540.7L334.3 540.7Z" fill="#fffa00" fill-opacity="0.8"/>
<path d="M338.0 531.6L340.9 531.6L340.9 542.3L338.0 542.3Z" fill="#fff200" fill-opacity="0.8"/>
<path d="M340.6 530.6L344.0 530.6L344.0 541.2L340.6 541.2Z" fill="#feff00" fill-opacity="0.8"/>
<path d="M343.7 530.9L346.7 530.9L346.7 541.4L343.7 541.4Z" fill="#efff00" fill-opacity="0.8"/>
<path d="M346.4 531.0L348.3 531.0L348.3 542.5L346.4 542.5Z" fill="#fffb00" fill-opacity="0.8"/>
<path d="M348.0 532.3L351.7 532.3L351.7 541.2L348.0 541.2Z" fill="#ffee00" fill-opacity="0.8"/>
<path d="M351.4 531.3L354.2 531.3L354.2 541.8L351.4 541.8Z" fill="#f3ff00" fill-opacity="0.8"/>
<path d="M353.9 529.9L357.1 529.9L357.1 540.8L353.9 540.8Z" fill="#ffee00" fill-opacity="0.8"/>
<path d="M356.8 530.8L360.4 530.8L360.4 540.3L356.8 540.3Z" fill="#ffdd00" fill-opacity="0.8"/>
<path d="M360.1 530.8L362.9 530.8L362.9 541.5L360.1 541.5Z" fill="#ffcb00" fill-opacity="0.8"/>
<path d="M362.6 531.1L365.3 531.1L365.3 542.2L362.6 542.2Z" fill="#ffc700" fill-opacity="0.8"/>
<path d="M365.0 530.5L369.0 530.5L369.0 540.9L365.0 540.9Z" fill="#ffc700" fill-opacity="0.8"/>
<path d="M368.7 532.1L372.5 532.1L372.5 540.8L368.7 540.8Z" fill="#ffc700" fill-opacity="0.8"/>
<path d="M372.2 529.6L376.1 529.6L376.1 541.1L372.2 541.1Z" fill="#ffc700" fill-opacity="0.8"/>
<path d="M375.8 531.9L379.2 531.9L379.2 541.0L375.8 541.0Z" fill="#ffda00" fill-opacity="0.8"/>
<path d="M378.9 530.0L382.4 530.0L382.4 540.9L378.9 540.9Z" fill="#ffe500" fill-opacity="0.8"/>
<path d="M62.0 541.0L378.0 542.0L382.0 551.0L386.0 556.0L428.0 557.0L428.0 560.0L386.0 559.0L382.0 554.0L378.0 546.0L62.0 545.0Z" fill="#b0ff00"/>
<path d="M62.0 515.0L90.0 517.0L110.0 519.0L378.0 520.0L381.0 529.0L384.0 540.0L420.0 545.0L428.0 546.0L428.0 553.0L420.0 552.0L386.0 550.0L382.0 542.0L378.0 532.0L62.0 531.0Z" fill="#ff7000"/>
<path d="M62.0 517.1L66.2 517.1L66.2 533.0L62.0 533.0Z" fill="#ff6e00" fill-opacity="0.8"/>
<path d="M65.9 519.6L68.2 519.6L68.2 530.4L65.9 530.4Z" fill="#ff8500" fill-opacity="0.8"/>
<path d="M67.9 520.9L71.9 520.9L71.9 530.3L67.9 530.3Z" fill="#ff8500" fill-opacity="0.8"/>
<path d="M71.6 519.8L74.9 519.8L74.9 532.7L71.6 532.7Z" fill="#ff6800" fill-opacity="0.8"/>
<path d="M74.6 520.6L78.2 520.6L78.2 531.4L74.6 531.4Z" fill="#ff8500" fill-opacity="0.8"/>
<path d="M77.9 520.4L80.4 520.4L80.4 531.4L77.9 531.4Z" fill="#ff8500" fill-opacity="0.8"/>
<path d="M80.1 520.9L84.3 520.9L84.3 531.3L80.1 531.3Z" fill="#ff7300" fill-opacity="0.8"/>
<path d="M84.0 518.1L87.5 518.1L87.5 532.9L84.0 532.9Z" fill="#ff6b00" fill-opacity="0.8"/>
<path d="M87.2 520.9L89.8 520.9L89.8 531.7L87.2 531.7Z" fill="#ff5800" fill-opacity="0.8"/>
<path d="M89.5 519.7L91.7 519.7L91.7 529.8L89.5 529.8Z" fill="#ff4300" fill-opacity="0.8"/>
<path d="M91.4 517.2L93.3 517.2L93.3 532.8L91.4 532.8Z" fill="#ff4000" fill-opacity="0.8"/>
<path d="M93.0 518.7L96.0 518.7L96.0 531.7L93.0 531.7Z" fill="#ff3f00" fill-opacity="0.8"/>
<path d="M95.7 518.6L99.8 518.6L99.8 531.4L95.7 531.4Z" fill="#ff4c00" fill-opacity="0.8"/>
<path d="M99.5 519.3L102.1 519.3L102.1 530.8L99.5 530.8Z" fill="#ff4600" fill-opacity="0.8"/>
<path d="M101.8 517.5L105.3 517.5L105.3 533.1L101.8 533.1Z" fill="#ff4400" fill-opacity="0.8"/>
<path d="M105.0 518.7L107.7 518.7L107.7 532.8L105.0 532.8Z" fill="#ff4900" fill-opacity="0.8"/>
<path d="M107.4 518.7L111.5 518.7L111.5 529.5L107.4 529.5Z" fill="#ff4800" fill-opacity="0.8"/>
<path d="M111.2 519.3L115.3 519.3L115.3 530.5L111.2 530.5Z" fill="#ff5e00" fill-opacity="0.8"/>
<path d="M115.0 517.9L117.6 517.9L117.6 529.3L115.0 529.3Z" fill="#ff6700" fill-opacity="0.8"/>
<path d="M117.3 519.7L120.4 519.7L120.4 530.0L117.3 530.0Z" fill="#ff5400" fill-opacity="0.8"/>
<path d="M120.1 518.8L123.7 518.8L123.7 532.5L120.1 532.5Z" fill="#ff7200" fill-opacity="0.8"/>
<path d="M123.4 520.6L127.5 520.6L127.5 531.2L123.4 531.2Z" fill="#ff7400" fill-opacity="0.8"/>
<path d="M127.2 521.1L130.3 521.1L130.3 532.2L127.2 532.2Z" fill="#ff6f00" fill-opacity="0.8"/>
<path d="M130.0 519.8L133.0 519.8L133.0 530.6L130.0 530.6Z" fill="#ff5f00" fill-opacity="0.8"/>
<path d="M132.7 519.6L136.4 519.6L136.4 533.0L132.7 533.0Z" fill="#ff4a00" fill-opacity="0.8"/>
<path d="M136.1 519.7L138.0 519.7L138.0 530.6L136.1 530.6Z" fill="#ff4a00" fill-opacity="0.8"/>
<path d="M137.7 518.9L139.9 518.9L139.9 530.3L137.7 530.3Z" fill="#ff3d00" fill-opacity="0.8"/>
<path d="M139.6 518.6L141.5 518.6L141.5 529.7L139.6 529.7Z" fill="#ff2600" fill-opacity="0.8"/>
<path d="M141.2 520.7L143.5 520.7L143.5 529.9L141.2 529.9Z" fill="#ff3600" fill-opacity="0.8"/>
<path d="M143.2 519.1L145.7 519.1L145.7 530.1L143.2 530.1Z" fill="#ff5100" fill-opacity="0.8"/>
<path d="M145.4 520.9L148.1 520.9L148.1 532.6L145.4 532.6Z" fill="#ff4100" fill-opacity="0.8"/>
<path d="M147.8 520.6L149.7 520.6L149.7 529.4L147.8 529.4Z" fill="#ff4900" fill-opacity="0.8"/>
<path d="M149.4 518.8L151.7 518.8L151.7 532.2L149.4 532.2Z" fill="#ff4a00" fill-opacity="0.8"/>
<path d="M151.4 518.2L155.0 518.2L155.0 530.2L151.4 530.2Z" fill="#ff4c00" fill-opacity="0.8"/>
<path d="M154.7 519.9L157.2 519.9L157.2 529.9L154.7 529.9Z" fill="#ff6a00" fill-opacity="0.8"/>
<path d="M156.9 517.5L160.9 517.5L160.9 531.3L156.9 531.3Z" fill="#ff6000" fill-opacity="0.8"/>
<path d="M160.6 519.2L163.9 519.2L163.9 529.4L160.6 529.4Z" fill="#ff7f00" fill-opacity="0.8"/>
<path d="M163.6 519.8L167.3 519.8L167.3 533.2L163.6 533.2Z" fill="#ff8500" fill-opacity="0.8"/>
<path d="M167.0 519.4L170.9 519.4L170.9 529.9L167.0 529.9Z" fill="#ff8500" fill-opacity="0.8"/>
<path d="M170.6 520.6L173.3 520.6L173.3 529.3L170.6 529.3Z" fill="#ff6d00" fill-opacity="0.8"/>
<path d="M173.0 518.0L175.7 518.0L175.7 532.5L173.0 532.5Z" fill="#ff6300" fill-opacity="0.8"/>
<path d="M175.4 518.8L179.5 518.8L179.5 532.7L175.4 532.7Z" fill="#ff6000" fill-opacity="0.8"/>
<path d="M179.2 518.4L182.2 518.4L182.2 530.0L179.2 530.0Z" fill="#ff7500" fill-opacity="0.8"/>
<path d="M181.9 520.1L185.8 520.1L185.8 532.6L181.9 532.6Z" fill="#ff7400" fill-opacity="0.8"/>
<path d="M185.5 519.0L189.8 519.0L189.8 532.8L185.5 532.8Z" fill="#ff8500" fill-opacity="0.8"/>
<path d="M189.5 520.0L193.2 520.0L193.2 530.1L189.5 530.1Z" fill="#ff8500" fill-opacity="0.8"/>
<path d="M192.9 518.9L195.1 518.9L195.1 530.3L192.9 530.3Z" fill="#ff8500" fill-opacity="0.8"/>
<path d="M194.8 518.0L197.9 518.0L197.9 531.6L194.8 531.6Z" fill="#ff6600" fill-opacity="0.8"/>
<path d="M197.6 519.5L201.5 519.5L201.5 532.4L197.6 532.4Z" fill="#ff5f00" fill-opacity="0.8"/>
<path d="M201.2 520.1L203.1 520.1L203.1 532.6L201.2 532.6Z" fill="#ff4100" fill-opacity="0.8"/>
<path d="M202.8 517.7L206.7 517.7L206.7 530.1L202.8 530.1Z" fill="#ff5c00" fill-opacity="0.8"/>
<path d="M206.4 521.0L209.4 521.0L209.4 531.0L206.4 531.0Z" fill="#ff3f00" fill-opacity="0.8"/>
<path d="M209.1 518.7L212.5 518.7L212.5 533.3L209.1 533.3Z" fill="#ff2f00" fill-opacity="0.8"/>
<path d="M212.2 521.0L216.3 521.0L216.3 532.6L212.2 532.6Z" fill="#ff2600" fill-opacity="0.8"/>
<path d="M216.0 518.6L219.5 518.6L219.5 530.4L216.0 530.4Z" fill="#ff3100" fill-opacity="0.8"/>
<path d="M219.2 518.6L221.1 518.6L221.1 529.5L219.2 529.5Z" fill="#ff2600" fill-opacity="0.8"/>
<path d="M220.8 519.2L223.4 519.2L223.4 530.8L220.8 530.8Z" fill="#ff4000" fill-opacity="0.8"/>
<path d="M223.1 519.1L225.3 519.1L225.3 530.9L223.1 530.9Z" fill="#ff4200" fill-opacity="0.8"/>
<path d="M225.0 519.6L228.9 519.6L228.9 533.0L225.0 533.0Z" fill="#ff4f00" fill-opacity="0.8"/>
<path d="M228.6 517.6L232.8 517.6L232.8 533.3L228.6 533.3Z" fill="#ff5700" fill-opacity="0.8"/>
<path d="M232.5 518.0L235.5 518.0L235.5 530.4L232.5 530.4Z" fill="#ff6a00" fill-opacity="0.8"/>
<path d="M235.2 517.7L237.8 517.7L237.8 533.5L235.2 533.5Z" fill="#ff8200" fill-opacity="0.8"/>
<path d="M237.5 519.4L241.4 519.4L241.4 532.7L237.5 532.7Z" fill="#ff8500" fill-opacity="0.8"/>
<path d="M241.1 518.9L244.1 518.9L244.1 531.0L241.1 531.0Z" fill="#ff8500" fill-opacity="0.8"/>
<path d="M243.8 519.3L247.9 519.3L247.9 532.0L243.8 532.0Z" fill="#ff8000" fill-opacity="0.8"/>
<path d="M247.6 520.7L249.5 520.7L249.5 532.2L247.6 532.2Z" fill="#ff7300" fill-opacity="0.8"/>
<path d="M249.2 517.6L251.9 517.6L251.9 529.8L249.2 529.8Z" fill="#ff8200" fill-opacity="0.8"/>
<path d="M251.6 520.6L253.8 520.6L253.8 530.4L251.6 530.4Z" fill="#ff8500" fill-opacity="0.8"/>
<path d="M253.5 520.0L256.5 520.0L256.5 529.6L253.5 529.6Z" fill="#ff7c00" fill-opacity="0.8"/>
<path d="M256.2 518.7L260.3 518.7L260.3 530.5L256.2 530.5Z" fill="#ff7600" fill-opacity="0.8"/>
<path d="M260.0 518.9L263.5 518.9L263.5 531.1L260.0 531.1Z" fill="#ff5900" fill-opacity="0.8"/>
<path d="M263.2 519.2L266.4 519.2L266.4 533.2L263.2 533.2Z" fill="#ff6f00" fill-opacity="0.8"/>
<path d="M266.1 518.6L269.3 518.6L269.3 533.0L266.1 533.0Z" fill="#ff5900" fill-opacity="0.8"/>
<path d="M269.0 519.7L272.8 519.7L272.8 532.3L269.0 532.3Z" fill="#ff6b00" fill-opacity="0.8"/>
<path d="M272.5 518.5L275.7 518.5L275.7 531.8L272.5 531.8Z" fill="#ff6500" fill-opacity="0.8"/>
<path d="M275.4 519.1L278.1 519.1L278.1 533.5L275.4 533.5Z" fill="#ff5100" fill-opacity="0.8"/>
<path d="M277.8 519.3L281.0 519.3L281.0 530.1L277.8 530.1Z" fill="#ff6300" fill-opacity="0.8"/>
<path d="M280.7 520.0L284.4 520.0L284.4 530.8L280.7 530.8Z" fill="#ff8100" fill-opacity="0.8"/>
<path d="M284.1 520.3L287.8 520.3L287.8 532.5L284.1 532.5Z" fill="#ff8500" fill-opacity="0.8"/>
<path d="M287.5 519.1L289.9 519.1L289.9 532.2L287.5 532.2Z" fill="#ff8500" fill-opacity="0.8"/>
<path d="M289.6 519.4L292.1 519.4L292.1 532.9L289.6 532.9Z" fill="#ff8500" fill-opacity="0.8"/>
<path d="M291.8 519.7L294.0 519.7L294.0 530.3L291.8 530.3Z" fill="#ff6800" fill-opacity="0.8"/>
<path d="M293.7 519.5L295.7 519.5L295.7 530.3L293.7 530.3Z" fill="#ff7000" fill-opacity="0.8"/>
<path d="M295.4 518.7L297.4 518.7L297.4 531.4L295.4 531.4Z" fill="#ff7000" fill-opacity="0.8"/>
<path d="M297.1 520.0L300.0 520.0L300.0 530.6L297.1 530.6Z" fill="#ff6300" fill-opacity="0.8"/>
<path d="M299.7 517.9L302.0 517.9L302.0 530.1L299.7 530.1Z" fill="#ff4b00" fill-opacity="0.8"/>
<path d="M301.7 519.8L303.7 519.8L303.7 533.4L301.7 533.4Z" fill="#ff3500" fill-opacity="0.8"/>
<path d="M303.4 519.4L306.7 519.4L306.7 532.6L303.4 532.6Z" fill="#ff4000" fill-opacity="0.8"/>
<path d="M306.4 519.3L308.8 519.3L308.8 529.8L306.4 529.8Z" fill="#ff2c00" fill-opacity="0.8"/>
<path d="M308.5 518.3L311.2 518.3L311.2 533.3L308.5 533.3Z" fill="#ff2900" fill-opacity="0.8"/>
<path d="M310.9 521.3L315.0 521.3L315.0 532.4L310.9 532.4Z" fill="#ff2800" fill-opacity="0.8"/>
<path d="M314.7 521.5L317.8 521.5L317.8 533.4L314.7 533.4Z" fill="#ff3e00" fill-opacity="0.8"/>
<path d="M317.5 518.0L320.5 518.0L320.5 532.2L317.5 532.2Z" fill="#ff4600" fill-opacity="0.8"/>
<path d="M320.2 518.9L324.1 518.9L324.1 532.2L320.2 532.2Z" fill="#ff4d00" fill-opacity="0.8"/>
<path d="M323.8 518.8L327.6 518.8L327.6 532.3L323.8 532.3Z" fill="#ff6300" fill-opacity="0.8"/>
<path d="M327.3 519.0L329.2 519.0L329.2 533.1L327.3 533.1Z" fill="#ff4e00" fill-opacity="0.8"/>
<path d="M328.9 517.8L331.8 517.8L331.8 530.2L328.9 530.2Z" fill="#ff6400" fill-opacity="0.8"/>
<path d="M331.5 520.9L334.0 520.9L334.0 532.3L331.5 532.3Z" fill="#ff5300" fill-opacity="0.8"/>
<path d="M333.7 520.7L336.2 520.7L336.2 531.2L333.7 531.2Z" fill="#ff4800" fill-opacity="0.8"/>
<path d="M335.9 518.6L337.9 518.6L337.9 530.5L335.9 530.5Z" fill="#ff4a00" fill-opacity="0.8"/>
<path d="M337.6 521.3L340.4 521.3L340.4 530.9L337.6 530.9Z" fill="#ff6700" fill-opacity="0.8"/>
<path d="M340.1 517.8L344.2 517.8L344.2 533.4L340.1 533.4Z" fill="#ff5700" fill-opacity="0.8"/>
<path d="M343.9 521.3L347.7 521.3L347.7 531.7L343.9 531.7Z" fill="#ff5500" fill-opacity="0.8"/>
<path d="M347.4 519.0L349.3 519.0L349.3 533.2L347.4 533.2Z" fill="#ff6d00" fill-opacity="0.8"/>
<path d="M349.0 519.2L352.8 519.2L352.8 530.2L349.0 530.2Z" fill="#ff8500" fill-opacity="0.8"/>
<path d="M352.5 519.5L354.9 519.5L354.9 530.4L352.5 530.4Z" fill="#ff8500" fill-opacity="0.8"/>
<path d="M354.6 521.4L358.0 521.4L358.0 531.7L354.6 531.7Z" fill="#ff8500" fill-opacity="0.8"/>
<path d="M357.7 519.2L360.6 519.2L360.6 530.8L357.7 530.8Z" fill="#ff7300" fill-opacity="0.8"/>
<path d="M360.3 518.8L362.4 518.8L362.4 532.8L360.3 532.8Z" fill="#ff8100" fill-opacity="0.8"/>
<path d="M362.1 518.9L364.8 518.9L364.8 530.1L362.1 530.1Z" fill="#ff7300" fill-opacity="0.8"/>
<path d="M364.5 521.5L367.1 521.5L367.1 530.6L364.5 530.6Z" fill="#ff7b00" fill-opacity="0.8"/>
<path d="M366.8 518.8L369.1 518.8L369.1 533.7L366.8 533.7Z" fill="#ff8500" fill-opacity="0.8"/>
<path d="M368.8 518.0L372.9 518.0L372.9 531.8L368.8 531.8Z" fill="#ff8500" fill-opacity="0.8"/>
<path d="M372.6 519.5L375.9 519.5L375.9 532.9L372.6 532.9Z" fill="#ff8500" fill-opacity="0.8"/>
<path d="M375.6 520.6L377.4 520.6L377.4 533.0L375.6 533.0Z" fill="#ff7700" fill-opacity="0.8"/>
<path d="M377.1 519.9L380.1 519.9L380.1 530.4L377.1 530.4Z" fill="#ff7900" fill-opacity="0.8"/>
<path d="M379.8 519.2L382.9 519.2L382.9 530.1L379.8 530.1Z" fill="#ff8500" fill-opacity="0.8"/>
<path d="M62.0 496.2L428.0 496.2L428.0 546.0L420.0 545.0L384.0 540.0L381.0 529.0L378.0 520.0L110.0 519.0L90.0 517.0L62.0 515.0Z" fill="#ff0000"/>
<path d="M62.0 496.2L428.0 496.2L428.0 532.0L384.0 528.0L381.0 520.0L378.0 512.0L90.0 511.0L62.0 510.0Z" fill="#d00000" fill-opacity="0.75"/>
<path d="M406.0 496.2L415.0 496.2L411.0 521.0L409.5 521.0Z" fill="#fff400" fill-opacity="0.95"/>
<path d="M418.0 508.0L428.0 508.0L428.0 540.0L418.0 540.0Z" fill="#d00000" fill-opacity="0.6"/>
<ellipse cx="221" cy="556" rx="3" ry="5" fill="#fff400" fill-opacity="0.9"/>
<ellipse cx="250" cy="556" rx="5" ry="4" fill="#fff400" fill-opacity="0.9"/>
<ellipse cx="276" cy="557" rx="3" ry="4" fill="#fff400" fill-opacity="0.9"/>
<ellipse cx="140" cy="562" rx="40" ry="4" fill="#00ffff" fill-opacity="0.5"/>
<ellipse cx="300" cy="562" rx="60" ry="4" fill="#00ffff" fill-opacity="0.5"/>
<ellipse cx="200" cy="575" rx="30" ry="2" fill="#0070ff" fill-opacity="0.5"/>
</g>
<path d="M132.5 560.1h1.3v2.5h-1.3zM395.1 562.8h1.3v2.5h-1.3zM91.4 574.3h1.3v2.5h-1.3zM311.5 570.2h1.3v2.5h-1.3zM148.3 557.6h1.3v2.5h-1.3zM401.8 569.6h1.3v2.5h-1.3zM325.3 561.7h1.3v2.5h-1.3zM87.7 572.4h1.3v2.5h-1.3zM83.1 573.5h1.3v2.5h-1.3zM239.7 568.0h1.3v2.5h-1.3zM391.9 562.5h1.3v2.5h-1.3zM344.4 561.5h1.3v2.5h-1.3zM234.4 570.6h1.3v2.5h-1.3zM225.3 575.7h1.3v2.5h-1.3zM230.6 565.1h1.3v2.5h-1.3zM66.6 558.7h1.3v2.5h-1.3zM77.7 568.1h1.3v2.5h-1.3zM317.7 563.4h1.3v2.5h-1.3zM117.0 561.0h1.3v2.5h-1.3zM350.3 571.9h1.3v2.5h-1.3zM202.7 566.0h1.3v2.5h-1.3zM374.1 575.8h1.3v2.5h-1.3zM414.0 567.4h1.3v2.5h-1.3zM412.0 570.1h1.3v2.5h-1.3zM390.9 568.9h1.3v2.5h-1.3zM386.3 559.5h1.3v2.5h-1.3zM325.9 564.8h1.3v2.5h-1.3zM383.5 562.9h1.3v2.5h-1.3zM264.1 567.8h1.3v2.5h-1.3zM326.2 557.3h1.3v2.5h-1.3zM179.7 573.9h1.3v2.5h-1.3zM337.5 568.1h1.3v2.5h-1.3zM139.7 563.9h1.3v2.5h-1.3zM153.8 575.8h1.3v2.5h-1.3zM202.4 562.1h1.3v2.5h-1.3zM402.7 557.3h1.3v2.5h-1.3zM162.8 558.0h1.3v2.5h-1.3zM220.4 559.8h1.3v2.5h-1.3zM371.4 561.1h1.3v2.5h-1.3zM73.6 567.8h1.3v2.5h-1.3zM279.6 573.6h1.3v2.5h-1.3zM247.3 557.1h1.3v2.5h-1.3zM216.5 571.2h1.3v2.5h-1.3zM336.6 557.6h1.3v2.5h-1.3zM136.2 556.4h1.3v2.5h-1.3zM98.2 558.3h1.3v2.5h-1.3zM199.9 563.7h1.3v2.5h-1.3zM68.9 572.2h1.3v2.5h-1.3zM343.2 567.7h1.3v2.5h-1.3zM400.6 575.9h1.3v2.5h-1.3zM172.8 567.6h1.3v2.5h-1.3zM115.3 563.4h1.3v2.5h-1.3zM316.6 568.4h1.3v2.5h-1.3zM75.3 564.6h1.3v2.5h-1.3zM99.1 557.4h1.3v2.5h-1.3zM250.1 574.9h1.3v2.5h-1.3zM178.3 568.8h1.3v2.5h-1.3zM117.8 561.6h1.3v2.5h-1.3zM264.2 569.9h1.3v2.5h-1.3zM299.7 569.9h1.3v2.5h-1.3zM91.4 562.4h1.3v2.5h-1.3zM331.7 561.4h1.3v2.5h-1.3zM125.9 557.9h1.3v2.5h-1.3zM272.2 566.1h1.3v2.5h-1.3zM113.4 564.8h1.3v2.5h-1.3zM216.2 573.6h1.3v2.5h-1.3zM258.4 566.1h1.3v2.5h-1.3zM229.5 565.2h1.3v2.5h-1.3zM139.0 569.7h1.3v2.5h-1.3zM173.1 571.3h1.3v2.5h-1.3zM211.9 556.6h1.3v2.5h-1.3zM338.3 574.3h1.3v2.5h-1.3zM381.1 571.0h1.3v2.5h-1.3zM131.0 567.4h1.3v2.5h-1.3zM325.3 574.6h1.3v2.5h-1.3zM324.1 563.8h1.3v2.5h-1.3zM99.7 571.3h1.3v2.5h-1.3zM80.5 566.8h1.3v2.5h-1.3zM143.3 562.4h1.3v2.5h-1.3zM123.0 569.1h1.3v2.5h-1.3zM368.0 568.0h1.3v2.5h-1.3zM213.4 560.1h1.3v2.5h-1.3zM417.2 556.2h1.3v2.5h-1.3zM222.1 568.9h1.3v2.5h-1.3zM277.5 562.8h1.3v2.5h-1.3zM123.0 572.5h1.3v2.5h-1.3zM402.8 572.9h1.3v2.5h-1.3zM223.8 561.4h1.3v2.5h-1.3zM207.0 576.6h1.3v2.5h-1.3zM304.1 571.1h1.3v2.5h-1.3z" fill="#20c0ff"/><path d="M383.5 566.1h1.3v2.5h-1.3zM120.3 561.3h1.3v2.5h-1.3zM77.8 574.8h1.3v2.5h-1.3zM369.0 559.3h1.3v2.5h-1.3zM391.5 570.8h1.3v2.5h-1.3zM289.1 565.3h1.3v2.5h-1.3zM411.5 570.0h1.3v2.5h-1.3zM317.2 572.7h1.3v2.5h-1.3zM382.1 557.5h1.3v2.5h-1.3zM325.9 570.7h1.3v2.5h-1.3zM115.0 566.5h1.3v2.5h-1.3zM361.1 565.2h1.3v2.5h-1.3zM132.0 564.2h1.3v2.5h-1.3zM257.6 572.8h1.3v2.5h-1.3zM175.5 575.5h1.3v2.5h-1.3zM335.0 570.1h1.3v2.5h-1.3zM98.8 558.5h1.3v2.5h-1.3zM382.6 560.5h1.3v2.5h-1.3zM133.9 568.5h1.3v2.5h-1.3zM241.2 575.7h1.3v2.5h-1.3zM71.7 573.0h1.3v2.5h-1.3zM334.1 560.1h1.3v2.5h-1.3zM271.5 562.2h1.3v2.5h-1.3zM234.5 557.8h1.3v2.5h-1.3zM216.7 576.4h1.3v2.5h-1.3zM143.4 564.8h1.3v2.5h-1.3zM233.1 557.6h1.3v2.5h-1.3zM151.2 570.5h1.3v2.5h-1.3zM226.7 569.8h1.3v2.5h-1.3zM107.7 574.6h1.3v2.5h-1.3zM411.4 561.5h1.3v2.5h-1.3zM159.6 573.4h1.3v2.5h-1.3zM115.0 557.1h1.3v2.5h-1.3zM323.3 557.5h1.3v2.5h-1.3zM109.0 571.8h1.3v2.5h-1.3zM227.9 562.3h1.3v2.5h-1.3zM202.0 569.8h1.3v2.5h-1.3zM263.2 561.3h1.3v2.5h-1.3zM170.8 558.3h1.3v2.5h-1.3zM186.1 558.2h1.3v2.5h-1.3zM293.2 571.2h1.3v2.5h-1.3zM177.4 562.1h1.3v2.5h-1.3zM352.3 566.1h1.3v2.5h-1.3zM273.2 561.3h1.3v2.5h-1.3zM109.7 572.0h1.3v2.5h-1.3zM166.7 563.0h1.3v2.5h-1.3zM198.2 572.2h1.3v2.5h-1.3zM66.4 575.8h1.3v2.5h-1.3zM410.0 564.8h1.3v2.5h-1.3zM253.4 560.2h1.3v2.5h-1.3zM220.6 573.1h1.3v2.5h-1.3zM232.6 573.4h1.3v2.5h-1.3zM160.5 568.0h1.3v2.5h-1.3zM95.7 569.8h1.3v2.5h-1.3zM412.3 566.9h1.3v2.5h-1.3zM193.2 558.2h1.3v2.5h-1.3zM101.1 574.1h1.3v2.5h-1.3zM278.4 574.7h1.3v2.5h-1.3zM222.7 574.5h1.3v2.5h-1.3zM90.1 557.7h1.3v2.5h-1.3zM220.8 562.2h1.3v2.5h-1.3zM231.2 556.8h1.3v2.5h-1.3zM97.6 565.2h1.3v2.5h-1.3zM205.3 574.0h1.3v2.5h-1.3zM82.2 566.5h1.3v2.5h-1.3zM420.3 562.9h1.3v2.5h-1.3zM394.6 573.5h1.3v2.5h-1.3zM157.0 559.6h1.3v2.5h-1.3zM166.8 556.8h1.3v2.5h-1.3zM371.3 572.6h1.3v2.5h-1.3zM239.9 574.3h1.3v2.5h-1.3zM165.0 573.4h1.3v2.5h-1.3z" fill="#00ff80"/><path d="M66.2 565.9h1.3v2.5h-1.3zM78.0 571.0h1.3v2.5h-1.3zM126.6 556.7h1.3v2.5h-1.3zM405.2 560.1h1.3v2.5h-1.3zM384.3 577.0h1.3v2.5h-1.3zM104.0 572.9h1.3v2.5h-1.3zM167.9 557.3h1.3v2.5h-1.3zM183.9 556.3h1.3v2.5h-1.3zM256.1 576.4h1.3v2.5h-1.3zM309.8 574.1h1.3v2.5h-1.3zM103.0 568.7h1.3v2.5h-1.3zM308.0 568.8h1.3v2.5h-1.3zM226.6 572.5h1.3v2.5h-1.3zM408.1 556.4h1.3v2.5h-1.3zM97.2 563.5h1.3v2.5h-1.3zM386.3 570.4h1.3v2.5h-1.3zM284.1 560.4h1.3v2.5h-1.3zM181.7 573.7h1.3v2.5h-1.3zM269.5 569.2h1.3v2.5h-1.3zM173.9 561.9h1.3v2.5h-1.3zM76.9 558.4h1.3v2.5h-1.3zM396.8 560.8h1.3v2.5h-1.3zM99.1 559.2h1.3v2.5h-1.3zM320.6 575.4h1.3v2.5h-1.3zM199.9 558.5h1.3v2.5h-1.3zM341.2 566.5h1.3v2.5h-1.3zM401.5 569.9h1.3v2.5h-1.3zM120.3 566.9h1.3v2.5h-1.3zM349.1 557.2h1.3v2.5h-1.3zM269.0 561.8h1.3v2.5h-1.3zM254.8 564.2h1.3v2.5h-1.3zM67.4 567.9h1.3v2.5h-1.3zM392.7 573.6h1.3v2.5h-1.3zM323.4 568.8h1.3v2.5h-1.3zM318.0 571.1h1.3v2.5h-1.3zM174.5 567.0h1.3v2.5h-1.3zM294.4 565.2h1.3v2.5h-1.3zM392.7 559.6h1.3v2.5h-1.3zM217.9 573.8h1.3v2.5h-1.3zM402.8 572.6h1.3v2.5h-1.3zM146.8 556.6h1.3v2.5h-1.3zM259.2 569.7h1.3v2.5h-1.3zM222.2 561.7h1.3v2.5h-1.3zM182.3 573.0h1.3v2.5h-1.3zM175.4 567.6h1.3v2.5h-1.3zM315.1 567.4h1.3v2.5h-1.3zM378.3 566.9h1.3v2.5h-1.3zM187.3 571.4h1.3v2.5h-1.3zM364.8 556.9h1.3v2.5h-1.3zM126.3 559.6h1.3v2.5h-1.3zM300.4 568.2h1.3v2.5h-1.3zM328.5 563.8h1.3v2.5h-1.3zM340.6 570.7h1.3v2.5h-1.3zM288.6 573.5h1.3v2.5h-1.3zM281.7 575.1h1.3v2.5h-1.3zM314.6 560.2h1.3v2.5h-1.3zM349.1 564.7h1.3v2.5h-1.3zM327.5 560.3h1.3v2.5h-1.3zM196.5 558.0h1.3v2.5h-1.3zM404.5 571.6h1.3v2.5h-1.3zM148.0 562.2h1.3v2.5h-1.3zM160.4 573.3h1.3v2.5h-1.3zM346.7 564.8h1.3v2.5h-1.3zM254.5 576.9h1.3v2.5h-1.3zM370.7 573.7h1.3v2.5h-1.3zM235.4 562.7h1.3v2.5h-1.3zM112.5 571.7h1.3v2.5h-1.3zM312.8 574.4h1.3v2.5h-1.3zM75.4 558.4h1.3v2.5h-1.3zM175.4 563.1h1.3v2.5h-1.3zM386.9 569.3h1.3v2.5h-1.3zM369.8 571.3h1.3v2.5h-1.3zM227.7 570.4h1.3v2.5h-1.3zM139.3 570.0h1.3v2.5h-1.3zM282.3 568.9h1.3v2.5h-1.3zM307.4 569.4h1.3v2.5h-1.3zM173.9 567.8h1.3v2.5h-1.3zM165.6 565.9h1.3v2.5h-1.3zM392.1 559.8h1.3v2.5h-1.3z" fill="#00ff00"/><path d="M101.6 559.2h1.3v2.5h-1.3zM358.2 571.8h1.3v2.5h-1.3zM169.9 570.2h1.3v2.5h-1.3zM327.4 571.1h1.3v2.5h-1.3zM343.0 559.7h1.3v2.5h-1.3zM400.1 557.1h1.3v2.5h-1.3zM294.7 559.9h1.3v2.5h-1.3zM97.0 576.7h1.3v2.5h-1.3zM279.6 574.0h1.3v2.5h-1.3zM385.9 569.7h1.3v2.5h-1.3zM112.5 557.4h1.3v2.5h-1.3zM76.0 558.6h1.3v2.5h-1.3zM404.9 568.9h1.3v2.5h-1.3zM254.3 558.6h1.3v2.5h-1.3zM161.7 568.7h1.3v2.5h-1.3zM108.2 562.7h1.3v2.5h-1.3zM83.3 570.0h1.3v2.5h-1.3zM143.0 561.8h1.3v2.5h-1.3zM174.3 566.8h1.3v2.5h-1.3zM286.7 564.4h1.3v2.5h-1.3zM335.0 561.9h1.3v2.5h-1.3zM129.6 569.7h1.3v2.5h-1.3zM311.7 576.7h1.3v2.5h-1.3zM238.5 568.5h1.3v2.5h-1.3zM328.8 573.1h1.3v2.5h-1.3zM196.4 573.1h1.3v2.5h-1.3zM84.0 564.8h1.3v2.5h-1.3zM162.8 571.1h1.3v2.5h-1.3zM375.9 557.6h1.3v2.5h-1.3zM392.8 563.9h1.3v2.5h-1.3zM384.4 559.1h1.3v2.5h-1.3zM303.9 558.6h1.3v2.5h-1.3zM78.8 564.6h1.3v2.5h-1.3zM409.0 568.6h1.3v2.5h-1.3zM400.7 556.7h1.3v2.5h-1.3zM356.0 557.8h1.3v2.5h-1.3zM335.1 563.8h1.3v2.5h-1.3zM261.5 565.3h1.3v2.5h-1.3zM260.7 571.4h1.3v2.5h-1.3zM149.0 571.0h1.3v2.5h-1.3zM296.1 557.2h1.3v2.5h-1.3zM204.7 569.2h1.3v2.5h-1.3zM298.3 559.7h1.3v2.5h-1.3zM245.4 576.0h1.3v2.5h-1.3zM343.2 567.4h1.3v2.5h-1.3zM232.4 558.2h1.3v2.5h-1.3zM140.7 566.8h1.3v2.5h-1.3zM202.3 569.3h1.3v2.5h-1.3zM292.9 561.4h1.3v2.5h-1.3zM224.9 560.9h1.3v2.5h-1.3zM157.8 565.7h1.3v2.5h-1.3zM66.7 576.4h1.3v2.5h-1.3zM203.4 569.5h1.3v2.5h-1.3zM296.5 575.3h1.3v2.5h-1.3zM199.2 568.2h1.3v2.5h-1.3zM133.7 560.0h1.3v2.5h-1.3zM197.9 557.9h1.3v2.5h-1.3zM385.3 570.5h1.3v2.5h-1.3zM113.1 574.9h1.3v2.5h-1.3zM134.6 567.2h1.3v2.5h-1.3zM283.1 567.3h1.3v2.5h-1.3zM91.3 567.3h1.3v2.5h-1.3zM97.4 563.2h1.3v2.5h-1.3zM104.6 556.2h1.3v2.5h-1.3zM229.4 561.8h1.3v2.5h-1.3zM178.6 560.1h1.3v2.5h-1.3zM108.3 563.9h1.3v2.5h-1.3zM358.2 569.8h1.3v2.5h-1.3zM235.7 560.3h1.3v2.5h-1.3zM417.4 562.5h1.3v2.5h-1.3zM175.3 564.2h1.3v2.5h-1.3zM339.9 565.9h1.3v2.5h-1.3zM396.0 562.7h1.3v2.5h-1.3zM192.1 561.6h1.3v2.5h-1.3zM267.4 557.9h1.3v2.5h-1.3zM143.7 573.7h1.3v2.5h-1.3zM312.6 557.7h1.3v2.5h-1.3zM282.2 563.1h1.3v2.5h-1.3zM225.3 567.8h1.3v2.5h-1.3zM77.1 561.7h1.3v2.5h-1.3zM289.1 556.4h1.3v2.5h-1.3z" fill="#00ffff"/><path d="M396.1 563.7h1.3v2.5h-1.3zM131.9 563.6h1.3v2.5h-1.3zM267.8 575.7h1.3v2.5h-1.3zM150.6 572.9h1.3v2.5h-1.3zM296.0 566.4h1.3v2.5h-1.3zM175.2 557.1h1.3v2.5h-1.3zM96.1 562.6h1.3v2.5h-1.3zM252.5 558.8h1.3v2.5h-1.3zM107.3 562.5h1.3v2.5h-1.3zM177.7 558.7h1.3v2.5h-1.3zM87.9 570.7h1.3v2.5h-1.3zM201.6 572.2h1.3v2.5h-1.3zM271.2 565.3h1.3v2.5h-1.3zM287.1 559.4h1.3v2.5h-1.3zM310.7 560.4h1.3v2.5h-1.3zM196.9 573.0h1.3v2.5h-1.3zM79.5 559.6h1.3v2.5h-1.3zM98.5 560.2h1.3v2.5h-1.3zM395.8 570.5h1.3v2.5h-1.3zM139.8 562.0h1.3v2.5h-1.3zM397.7 560.9h1.3v2.5h-1.3zM350.7 572.7h1.3v2.5h-1.3zM339.6 560.7h1.3v2.5h-1.3zM115.2 566.9h1.3v2.5h-1.3zM366.1 566.0h1.3v2.5h-1.3zM66.6 570.1h1.3v2.5h-1.3zM289.2 576.3h1.3v2.5h-1.3zM384.0 576.7h1.3v2.5h-1.3zM409.5 558.8h1.3v2.5h-1.3zM242.9 576.2h1.3v2.5h-1.3zM295.4 572.1h1.3v2.5h-1.3zM193.0 573.0h1.3v2.5h-1.3zM358.0 559.0h1.3v2.5h-1.3zM135.2 572.9h1.3v2.5h-1.3zM293.0 556.8h1.3v2.5h-1.3zM115.7 563.6h1.3v2.5h-1.3zM410.5 558.9h1.3v2.5h-1.3zM150.8 570.0h1.3v2.5h-1.3zM173.7 559.5h1.3v2.5h-1.3zM228.1 557.3h1.3v2.5h-1.3zM238.8 559.0h1.3v2.5h-1.3zM266.4 556.2h1.3v2.5h-1.3zM313.7 568.8h1.3v2.5h-1.3zM272.0 567.3h1.3v2.5h-1.3zM97.5 563.4h1.3v2.5h-1.3zM225.6 568.0h1.3v2.5h-1.3zM160.5 569.2h1.3v2.5h-1.3zM407.4 558.4h1.3v2.5h-1.3zM367.4 568.2h1.3v2.5h-1.3zM101.6 574.0h1.3v2.5h-1.3zM212.6 574.3h1.3v2.5h-1.3zM89.6 557.4h1.3v2.5h-1.3zM211.2 565.7h1.3v2.5h-1.3zM181.4 563.6h1.3v2.5h-1.3zM107.0 567.3h1.3v2.5h-1.3zM228.0 573.2h1.3v2.5h-1.3zM210.2 570.9h1.3v2.5h-1.3zM113.9 560.3h1.3v2.5h-1.3zM299.9 571.9h1.3v2.5h-1.3zM183.0 570.5h1.3v2.5h-1.3zM122.9 566.4h1.3v2.5h-1.3zM151.0 573.4h1.3v2.5h-1.3zM262.7 572.9h1.3v2.5h-1.3zM384.4 567.1h1.3v2.5h-1.3zM118.6 557.2h1.3v2.5h-1.3zM236.2 567.0h1.3v2.5h-1.3zM419.3 560.2h1.3v2.5h-1.3zM207.2 556.7h1.3v2.5h-1.3zM205.7 572.2h1.3v2.5h-1.3zM155.4 570.3h1.3v2.5h-1.3zM119.7 556.1h1.3v2.5h-1.3zM206.4 567.7h1.3v2.5h-1.3zM128.2 563.4h1.3v2.5h-1.3zM176.5 570.2h1.3v2.5h-1.3zM396.9 574.7h1.3v2.5h-1.3zM165.3 565.4h1.3v2.5h-1.3zM362.8 568.4h1.3v2.5h-1.3zM398.4 562.1h1.3v2.5h-1.3zM78.6 576.3h1.3v2.5h-1.3zM253.8 566.8h1.3v2.5h-1.3zM399.5 558.6h1.3v2.5h-1.3zM328.0 556.9h1.3v2.5h-1.3zM276.5 570.7h1.3v2.5h-1.3zM167.6 569.8h1.3v2.5h-1.3zM198.3 572.5h1.3v2.5h-1.3zM190.1 573.8h1.3v2.5h-1.3zM144.9 565.6h1.3v2.5h-1.3zM315.4 571.9h1.3v2.5h-1.3zM323.0 566.3h1.3v2.5h-1.3zM143.9 570.0h1.3v2.5h-1.3zM67.3 559.1h1.3v2.5h-1.3zM407.7 566.2h1.3v2.5h-1.3zM274.7 560.8h1.3v2.5h-1.3zM139.7 575.3h1.3v2.5h-1.3zM276.6 572.8h1.3v2.5h-1.3zM235.6 567.0h1.3v2.5h-1.3zM330.7 568.8h1.3v2.5h-1.3zM94.3 563.4h1.3v2.5h-1.3z" fill="#00e0e0"/><path d="M401.1 573.3h1.3v2h-1.3zM167.1 577.5h1.3v2h-1.3zM128.9 576.7h1.3v2h-1.3zM109.8 575.1h1.3v2h-1.3zM403.8 576.5h1.3v2h-1.3zM251.6 576.5h1.3v2h-1.3zM321.0 577.5h1.3v2h-1.3zM138.7 575.5h1.3v2h-1.3zM183.3 574.2h1.3v2h-1.3zM346.3 573.5h1.3v2h-1.3zM219.9 576.0h1.3v2h-1.3zM68.3 574.4h1.3v2h-1.3zM375.1 574.3h1.3v2h-1.3zM218.3 575.4h1.3v2h-1.3zM237.3 576.4h1.3v2h-1.3zM74.5 575.8h1.3v2h-1.3zM69.6 576.1h1.3v2h-1.3zM266.3 577.1h1.3v2h-1.3zM158.4 574.0h1.3v2h-1.3zM303.2 573.2h1.3v2h-1.3zM224.8 573.7h1.3v2h-1.3zM238.3 577.1h1.3v2h-1.3zM251.3 576.4h1.3v2h-1.3zM106.6 577.6h1.3v2h-1.3zM190.4 574.9h1.3v2h-1.3zM365.5 574.4h1.3v2h-1.3zM294.2 574.7h1.3v2h-1.3zM97.9 573.7h1.3v2h-1.3zM125.2 573.9h1.3v2h-1.3zM312.7 577.5h1.3v2h-1.3zM160.7 574.5h1.3v2h-1.3zM243.2 574.9h1.3v2h-1.3z" fill="#0080ff"/><path d="M284.8 573.2h1.3v2h-1.3zM341.5 574.2h1.3v2h-1.3zM310.3 574.7h1.3v2h-1.3zM396.4 576.3h1.3v2h-1.3zM371.7 577.2h1.3v2h-1.3zM241.7 575.4h1.3v2h-1.3zM401.4 575.0h1.3v2h-1.3zM151.2 574.1h1.3v2h-1.3zM258.7 576.6h1.3v2h-1.3zM118.3 575.2h1.3v2h-1.3zM347.5 575.0h1.3v2h-1.3zM248.9 576.9h1.3v2h-1.3zM181.4 576.5h1.3v2h-1.3zM165.0 574.4h1.3v2h-1.3zM152.2 576.1h1.3v2h-1.3zM420.5 573.5h1.3v2h-1.3zM236.9 573.5h1.3v2h-1.3zM290.9 573.2h1.3v2h-1.3zM67.1 574.2h1.3v2h-1.3zM115.5 576.3h1.3v2h-1.3zM119.4 577.5h1.3v2h-1.3zM274.2 576.0h1.3v2h-1.3zM287.8 575.4h1.3v2h-1.3zM306.1 575.2h1.3v2h-1.3zM285.5 577.4h1.3v2h-1.3zM225.0 577.1h1.3v2h-1.3zM91.7 575.1h1.3v2h-1.3zM396.0 576.9h1.3v2h-1.3zM153.1 575.4h1.3v2h-1.3zM300.1 577.2h1.3v2h-1.3zM202.0 574.9h1.3v2h-1.3zM390.7 575.0h1.3v2h-1.3zM285.5 575.2h1.3v2h-1.3zM245.6 575.2h1.3v2h-1.3zM222.6 576.6h1.3v2h-1.3zM288.0 575.7h1.3v2h-1.3zM249.4 576.3h1.3v2h-1.3zM368.6 577.0h1.3v2h-1.3zM193.8 575.0h1.3v2h-1.3zM383.8 573.5h1.3v2h-1.3zM168.6 577.1h1.3v2h-1.3zM207.1 573.7h1.3v2h-1.3zM363.1 574.3h1.3v2h-1.3zM207.9 575.1h1.3v2h-1.3zM300.7 575.2h1.3v2h-1.3zM279.7 577.5h1.3v2h-1.3zM280.7 574.5h1.3v2h-1.3zM271.3 573.6h1.3v2h-1.3z" fill="#00c0ff"/><path d="M354.5 576.1h1.3v2h-1.3zM285.2 575.9h1.3v2h-1.3zM320.9 577.4h1.3v2h-1.3zM308.6 573.6h1.3v2h-1.3zM352.6 576.8h1.3v2h-1.3zM366.6 575.0h1.3v2h-1.3zM179.8 575.3h1.3v2h-1.3zM243.2 577.2h1.3v2h-1.3zM221.7 574.4h1.3v2h-1.3zM150.7 574.3h1.3v2h-1.3zM402.3 574.6h1.3v2h-1.3zM173.3 573.7h1.3v2h-1.3zM179.3 577.4h1.3v2h-1.3zM321.7 576.4h1.3v2h-1.3zM101.3 575.4h1.3v2h-1.3zM153.2 574.9h1.3v2h-1.3zM196.9 573.7h1.3v2h-1.3zM238.4 573.3h1.3v2h-1.3zM170.0 576.3h1.3v2h-1.3zM305.7 575.2h1.3v2h-1.3zM250.7 577.0h1.3v2h-1.3zM140.6 574.1h1.3v2h-1.3zM342.7 575.0h1.3v2h-1.3zM241.6 576.6h1.3v2h-1.3zM189.2 573.8h1.3v2h-1.3zM161.3 574.9h1.3v2h-1.3zM279.0 576.5h1.3v2h-1.3zM188.0 573.2h1.3v2h-1.3zM144.3 573.5h1.3v2h-1.3zM201.0 574.4h1.3v2h-1.3zM126.8 577.1h1.3v2h-1.3zM336.5 574.5h1.3v2h-1.3zM279.5 573.5h1.3v2h-1.3zM183.4 574.2h1.3v2h-1.3zM144.3 577.5h1.3v2h-1.3zM342.9 574.1h1.3v2h-1.3zM350.7 573.4h1.3v2h-1.3zM104.1 574.7h1.3v2h-1.3zM347.4 575.9h1.3v2h-1.3zM276.1 575.7h1.3v2h-1.3z" fill="#0050ff"/>
</g>
<g clip-path="url(#cp_Dm)"><g filter="url(#blr)">
<path d="M553.0 423.6L919.0 423.6L919.0 501.0L553.0 501.0Z" fill="#fff400"/>
<path d="M553.0 467.4L555.3 467.4L555.3 493.1L553.0 493.1Z" fill="#efff00" fill-opacity="0.8"/>
<path d="M555.0 466.4L557.9 466.4L557.9 493.5L555.0 493.5Z" fill="#deff00" fill-opacity="0.8"/>
<path d="M557.6 469.0L560.5 469.0L560.5 489.8L557.6 489.8Z" fill="#eaff00" fill-opacity="0.8"/>
<path d="M560.2 467.5L564.6 467.5L564.6 495.0L560.2 495.0Z" fill="#e8ff00" fill-opacity="0.8"/>
<path d="M564.3 470.6L567.0 470.6L567.0 491.4L564.3 491.4Z" fill="#deff00" fill-opacity="0.8"/>
<path d="M566.7 467.2L569.8 467.2L569.8 494.7L566.7 494.7Z" fill="#deff00" fill-opacity="0.8"/>
<path d="M569.5 468.5L572.6 468.5L572.6 492.3L569.5 492.3Z" fill="#deff00" fill-opacity="0.8"/>
<path d="M572.3 467.1L578.5 467.1L578.5 490.2L572.3 490.2Z" fill="#efff00" fill-opacity="0.8"/>
<path d="M578.2 465.2L583.8 465.2L583.8 493.4L578.2 493.4Z" fill="#fff700" fill-opacity="0.8"/>
<path d="M583.5 466.3L589.3 466.3L589.3 493.8L583.5 493.8Z" fill="#fff100" fill-opacity="0.8"/>
<path d="M589.0 468.8L594.2 468.8L594.2 490.3L589.0 490.3Z" fill="#fffe00" fill-opacity="0.8"/>
<path d="M593.9 467.0L596.4 467.0L596.4 491.4L593.9 491.4Z" fill="#f8ff00" fill-opacity="0.8"/>
<path d="M596.1 470.8L600.9 470.8L600.9 494.9L596.1 494.9Z" fill="#fff700" fill-opacity="0.8"/>
<path d="M600.6 466.8L606.9 466.8L606.9 490.1L600.6 490.1Z" fill="#ffea00" fill-opacity="0.8"/>
<path d="M606.6 469.0L611.4 469.0L611.4 489.6L606.6 489.6Z" fill="#ffe800" fill-opacity="0.8"/>
<path d="M611.1 468.6L614.2 468.6L614.2 493.2L611.1 493.2Z" fill="#ffdd00" fill-opacity="0.8"/>
<path d="M613.9 470.5L616.6 470.5L616.6 492.9L613.9 492.9Z" fill="#ffe200" fill-opacity="0.8"/>
<path d="M616.3 467.7L622.5 467.7L622.5 493.8L616.3 493.8Z" fill="#ffef00" fill-opacity="0.8"/>
<path d="M622.2 468.4L626.3 468.4L626.3 489.7L622.2 489.7Z" fill="#ffe200" fill-opacity="0.8"/>
<path d="M626.0 465.7L628.7 465.7L628.7 490.2L626.0 490.2Z" fill="#ffdd00" fill-opacity="0.8"/>
<path d="M628.4 470.1L632.1 470.1L632.1 491.9L628.4 491.9Z" fill="#ffdd00" fill-opacity="0.8"/>
<path d="M631.8 466.7L636.0 466.7L636.0 491.2L631.8 491.2Z" fill="#ffdd00" fill-opacity="0.8"/>
<path d="M635.7 465.2L640.5 465.2L640.5 489.7L635.7 489.7Z" fill="#ffdd00" fill-opacity="0.8"/>
<path d="M640.2 469.2L643.0 469.2L643.0 494.8L640.2 494.8Z" fill="#ffdd00" fill-opacity="0.8"/>
<path d="M642.7 469.6L648.1 469.6L648.1 494.9L642.7 494.9Z" fill="#ffe800" fill-opacity="0.8"/>
<path d="M647.8 467.3L651.5 467.3L651.5 490.7L647.8 490.7Z" fill="#fffd00" fill-opacity="0.8"/>
<path d="M651.2 465.7L654.2 465.7L654.2 494.2L651.2 494.2Z" fill="#eaff00" fill-opacity="0.8"/>
<path d="M653.9 466.2L656.4 466.2L656.4 490.2L653.9 490.2Z" fill="#f0ff00" fill-opacity="0.8"/>
<path d="M656.1 466.1L661.7 466.1L661.7 491.7L656.1 491.7Z" fill="#e6ff00" fill-opacity="0.8"/>
<path d="M661.4 470.2L666.5 470.2L666.5 491.4L661.4 491.4Z" fill="#e7ff00" fill-opacity="0.8"/>
<path d="M666.2 467.8L670.6 467.8L670.6 493.3L666.2 493.3Z" fill="#f2ff00" fill-opacity="0.8"/>
<path d="M670.3 465.7L674.4 465.7L674.4 493.7L670.3 493.7Z" fill="#dfff00" fill-opacity="0.8"/>
<path d="M674.1 469.1L679.4 469.1L679.4 492.5L674.1 492.5Z" fill="#f6ff00" fill-opacity="0.8"/>
<path d="M679.1 465.7L682.1 465.7L682.1 491.5L679.1 491.5Z" fill="#fff700" fill-opacity="0.8"/>
<path d="M681.8 466.8L684.7 466.8L684.7 491.6L681.8 491.6Z" fill="#fffd00" fill-opacity="0.8"/>
<path d="M684.4 466.5L689.5 466.5L689.5 493.7L684.4 493.7Z" fill="#fffb00" fill-opacity="0.8"/>
<path d="M689.2 465.2L694.4 465.2L694.4 492.7L689.2 492.7Z" fill="#ffed00" fill-opacity="0.8"/>
<path d="M694.1 466.2L700.0 466.2L700.0 493.9L694.1 493.9Z" fill="#fff700" fill-opacity="0.8"/>
<path d="M699.7 469.9L703.5 469.9L703.5 491.3L699.7 491.3Z" fill="#fffb00" fill-opacity="0.8"/>
<path d="M703.2 467.1L706.3 467.1L706.3 493.2L703.2 493.2Z" fill="#f5ff00" fill-opacity="0.8"/>
<path d="M706.0 465.4L709.7 465.4L709.7 490.5L706.0 490.5Z" fill="#fffc00" fill-opacity="0.8"/>
<path d="M709.4 468.0L714.2 468.0L714.2 494.6L709.4 494.6Z" fill="#fffd00" fill-opacity="0.8"/>
<path d="M713.9 465.2L717.3 465.2L717.3 491.9L713.9 491.9Z" fill="#f1ff00" fill-opacity="0.8"/>
<path d="M717.0 465.0L720.5 465.0L720.5 489.0L717.0 489.0Z" fill="#f0ff00" fill-opacity="0.8"/>
<path d="M720.2 466.8L724.1 466.8L724.1 494.5L720.2 494.5Z" fill="#fdff00" fill-opacity="0.8"/>
<path d="M723.8 469.7L728.4 469.7L728.4 490.4L723.8 490.4Z" fill="#f8ff00" fill-opacity="0.8"/>
<path d="M728.1 468.2L732.8 468.2L732.8 490.9L728.1 490.9Z" fill="#fff600" fill-opacity="0.8"/>
<path d="M732.5 466.1L735.2 466.1L735.2 491.2L732.5 491.2Z" fill="#fff300" fill-opacity="0.8"/>
<path d="M734.9 469.0L739.3 469.0L739.3 492.1L734.9 492.1Z" fill="#ffdf00" fill-opacity="0.8"/>
<path d="M739.0 467.3L744.8 467.3L744.8 493.1L739.0 493.1Z" fill="#ffe800" fill-opacity="0.8"/>
<path d="M744.5 467.5L749.0 467.5L749.0 493.9L744.5 493.9Z" fill="#fff400" fill-opacity="0.8"/>
<path d="M748.7 465.3L752.0 465.3L752.0 494.7L748.7 494.7Z" fill="#ffeb00" fill-opacity="0.8"/>
<path d="M751.7 470.9L756.7 470.9L756.7 493.8L751.7 493.8Z" fill="#fff300" fill-opacity="0.8"/>
<path d="M756.4 468.0L759.0 468.0L759.0 495.0L756.4 495.0Z" fill="#fffd00" fill-opacity="0.8"/>
<path d="M758.7 466.9L761.5 466.9L761.5 489.3L758.7 489.3Z" fill="#eaff00" fill-opacity="0.8"/>
<path d="M761.2 467.6L765.2 467.6L765.2 489.8L761.2 489.8Z" fill="#ecff00" fill-opacity="0.8"/>
<path d="M764.9 467.6L767.2 467.6L767.2 491.9L764.9 491.9Z" fill="#fbff00" fill-opacity="0.8"/>
<path d="M766.9 470.4L771.2 470.4L771.2 494.0L766.9 494.0Z" fill="#fffa00" fill-opacity="0.8"/>
<path d="M770.9 466.0L776.1 466.0L776.1 489.5L770.9 489.5Z" fill="#fcff00" fill-opacity="0.8"/>
<path d="M775.8 468.4L781.5 468.4L781.5 494.5L775.8 494.5Z" fill="#e6ff00" fill-opacity="0.8"/>
<path d="M781.2 467.5L784.8 467.5L784.8 494.7L781.2 494.7Z" fill="#e0ff00" fill-opacity="0.8"/>
<path d="M784.5 465.2L789.5 465.2L789.5 493.4L784.5 493.4Z" fill="#f1ff00" fill-opacity="0.8"/>
<path d="M789.2 469.9L793.3 469.9L793.3 493.4L789.2 493.4Z" fill="#ecff00" fill-opacity="0.8"/>
<path d="M793.0 470.5L799.0 470.5L799.0 491.6L793.0 491.6Z" fill="#f9ff00" fill-opacity="0.8"/>
<path d="M798.7 467.7L803.2 467.7L803.2 489.8L798.7 489.8Z" fill="#fff800" fill-opacity="0.8"/>
<path d="M800.0 464.8L802.5 464.8L802.5 494.4L800.0 494.4Z" fill="#ffd200" fill-opacity="0.9"/>
<path d="M802.2 463.6L806.0 463.6L806.0 492.1L802.2 492.1Z" fill="#ffc100" fill-opacity="0.9"/>
<path d="M805.7 468.7L810.6 468.7L810.6 494.3L805.7 494.3Z" fill="#ffbf00" fill-opacity="0.9"/>
<path d="M810.3 467.5L813.7 467.5L813.7 489.8L810.3 489.8Z" fill="#ffe600" fill-opacity="0.9"/>
<path d="M813.4 468.1L815.7 468.1L815.7 494.0L813.4 494.0Z" fill="#ffd400" fill-opacity="0.9"/>
<path d="M815.4 463.5L820.6 463.5L820.6 489.7L815.4 489.7Z" fill="#ffeb00" fill-opacity="0.9"/>
<path d="M820.3 464.0L825.5 464.0L825.5 489.1L820.3 489.1Z" fill="#fff400" fill-opacity="0.9"/>
<path d="M825.2 465.1L827.6 465.1L827.6 490.0L825.2 490.0Z" fill="#fff400" fill-opacity="0.9"/>
<path d="M827.3 464.0L830.6 464.0L830.6 493.9L827.3 493.9Z" fill="#ffd200" fill-opacity="0.9"/>
<path d="M830.3 466.5L834.8 466.5L834.8 493.6L830.3 493.6Z" fill="#ffcc00" fill-opacity="0.9"/>
<path d="M834.5 465.0L838.5 465.0L838.5 490.5L834.5 490.5Z" fill="#ffe200" fill-opacity="0.9"/>
<path d="M838.2 465.6L841.7 465.6L841.7 489.4L838.2 489.4Z" fill="#ffbb00" fill-opacity="0.9"/>
<path d="M841.4 465.7L845.2 465.7L845.2 493.2L841.4 493.2Z" fill="#ffa300" fill-opacity="0.9"/>
<path d="M844.9 467.0L847.4 467.0L847.4 489.3L844.9 489.3Z" fill="#ffc500" fill-opacity="0.9"/>
<path d="M847.1 464.2L850.3 464.2L850.3 489.2L847.1 489.2Z" fill="#ffce00" fill-opacity="0.9"/>
<path d="M850.0 467.1L852.4 467.1L852.4 494.7L850.0 494.7Z" fill="#ffab00" fill-opacity="0.9"/>
<path d="M852.1 468.2L855.8 468.2L855.8 492.7L852.1 492.7Z" fill="#ff8900" fill-opacity="0.9"/>
<path d="M855.5 464.4L859.4 464.4L859.4 491.3L855.5 491.3Z" fill="#ff8800" fill-opacity="0.9"/>
<path d="M859.1 468.1L863.6 468.1L863.6 492.1L859.1 492.1Z" fill="#ff9f00" fill-opacity="0.9"/>
<path d="M863.3 466.9L867.4 466.9L867.4 489.8L863.3 489.8Z" fill="#ff8700" fill-opacity="0.9"/>
<path d="M867.1 463.2L870.1 463.2L870.1 494.7L867.1 494.7Z" fill="#ffac00" fill-opacity="0.9"/>
<path d="M869.8 467.7L873.9 467.7L873.9 490.9L869.8 490.9Z" fill="#ff8900" fill-opacity="0.9"/>
<path d="M873.6 465.7L878.8 465.7L878.8 489.5L873.6 489.5Z" fill="#ff8500" fill-opacity="0.9"/>
<path d="M878.5 465.2L881.8 465.2L881.8 489.5L878.5 489.5Z" fill="#ff9e00" fill-opacity="0.9"/>
<path d="M881.5 464.3L885.9 464.3L885.9 493.7L881.5 493.7Z" fill="#ff8500" fill-opacity="0.9"/>
<path d="M885.6 468.4L889.7 468.4L889.7 491.3L885.6 491.3Z" fill="#ff8700" fill-opacity="0.9"/>
<path d="M889.4 468.8L894.1 468.8L894.1 490.1L889.4 490.1Z" fill="#ffa900" fill-opacity="0.9"/>
<path d="M893.8 467.3L896.1 467.3L896.1 493.0L893.8 493.0Z" fill="#ff8d00" fill-opacity="0.9"/>
<path d="M895.8 463.7L900.4 463.7L900.4 490.9L895.8 490.9Z" fill="#ff9600" fill-opacity="0.9"/>
<path d="M900.1 464.4L905.3 464.4L905.3 491.7L900.1 491.7Z" fill="#ff8500" fill-opacity="0.9"/>
<path d="M905.0 463.0L908.7 463.0L908.7 494.0L905.0 494.0Z" fill="#ff8500" fill-opacity="0.9"/>
<path d="M908.4 463.8L911.4 463.8L911.4 489.5L908.4 489.5Z" fill="#ff8500" fill-opacity="0.9"/>
<path d="M911.1 468.8L916.1 468.8L916.1 494.2L911.1 494.2Z" fill="#ff8500" fill-opacity="0.9"/>
<path d="M915.8 466.5L920.3 466.5L920.3 495.0L915.8 495.0Z" fill="#ffa500" fill-opacity="0.9"/>
<path d="M553.0 464.0L919.0 464.0L919.0 471.0L553.0 470.0Z" fill="#ffb000"/>
<path d="M553.0 458.0L860.0 458.0L919.0 462.0L919.0 469.0L860.0 466.0L553.0 465.0Z" fill="#ff5000"/>
<path d="M553.0 432.0L919.0 432.0L919.0 464.0L880.0 462.0L860.0 459.0L553.0 459.0Z" fill="#fb0000"/>
<path d="M553.0 417.6L919.0 417.6L919.0 432.5L553.0 432.5Z" fill="#ff5b00"/>
<path d="M553.0 417.6L919.0 417.6L919.0 428.0L553.0 428.0Z" fill="#ffdd00"/>
<path d="M553.0 417.6L919.0 417.6L919.0 425.6L553.0 425.6Z" fill="#b0ff00"/>
<path d="M850.0 417.6L919.0 417.6L919.0 428.5L880.0 427.5L850.0 425.6Z" fill="#00ff00"/>
<path d="M553.0 494.0L919.0 494.0L919.0 501.0L553.0 501.0Z" fill="#ff6500"/>
<ellipse cx="645" cy="444" rx="55" ry="3.5" fill="#c80000" fill-opacity="0.45"/>
<ellipse cx="880" cy="446" rx="25" ry="5" fill="#c80000" fill-opacity="0.5"/>
<ellipse cx="590" cy="477" rx="6" ry="2" fill="#65ff00" fill-opacity="0.7"/>
<ellipse cx="603" cy="476" rx="4" ry="2" fill="#65ff00" fill-opacity="0.7"/>
<ellipse cx="628" cy="477" rx="4" ry="2" fill="#65ff00" fill-opacity="0.7"/>
<ellipse cx="648" cy="477" rx="4" ry="2" fill="#65ff00" fill-opacity="0.7"/>
<ellipse cx="660" cy="476" rx="3" ry="2" fill="#65ff00" fill-opacity="0.7"/>
<ellipse cx="757" cy="474" rx="4" ry="2.5" fill="#65ff00" fill-opacity="0.7"/>
<ellipse cx="770" cy="475" rx="4" ry="2.5" fill="#65ff00" fill-opacity="0.7"/>
<ellipse cx="795" cy="474" rx="4" ry="2.5" fill="#65ff00" fill-opacity="0.7"/>
<ellipse cx="806" cy="475" rx="3" ry="2.5" fill="#65ff00" fill-opacity="0.7"/>
<ellipse cx="565" cy="495" rx="10" ry="2" fill="#ff5000" fill-opacity="0.8"/>
<ellipse cx="700" cy="424" rx="25" ry="1.5" fill="#00ffba" fill-opacity="0.5"/>
<ellipse cx="900" cy="426" rx="12" ry="1.5" fill="#00a6ff" fill-opacity="0.6"/>
</g>
<path d="M669.8 425.4h1.6v1.4h-1.6zM646.6 424.5h1.6v1.4h-1.6zM644.5 425.1h1.6v1.4h-1.6zM669.8 423.8h1.6v1.4h-1.6zM644.5 423.8h1.6v1.4h-1.6z" fill="#ffffff"/><path d="M661.0 423.9h1.6v1.4h-1.6zM652.9 424.9h1.6v1.4h-1.6zM675.4 425.2h1.6v1.4h-1.6zM676.3 424.9h1.6v1.4h-1.6zM683.9 424.5h1.6v1.4h-1.6zM672.9 424.8h1.6v1.4h-1.6zM676.2 424.6h1.6v1.4h-1.6zM648.3 425.3h1.6v1.4h-1.6zM689.1 424.6h1.6v1.4h-1.6zM697.8 423.8h1.6v1.4h-1.6zM641.6 424.7h1.6v1.4h-1.6zM692.7 424.0h1.6v1.4h-1.6z" fill="#00c0ff"/><path d="M684.9 425.1h1.6v1.4h-1.6zM656.0 425.0h1.6v1.4h-1.6zM685.2 424.4h1.6v1.4h-1.6zM675.4 424.5h1.6v1.4h-1.6zM669.4 425.2h1.6v1.4h-1.6zM672.0 425.5h1.6v1.4h-1.6zM659.6 425.4h1.6v1.4h-1.6zM699.4 424.3h1.6v1.4h-1.6z" fill="#00ffff"/><path d="M859.2 425.3h1.6v1.4h-1.6zM869.3 424.3h1.6v1.4h-1.6zM908.4 424.8h1.6v1.4h-1.6zM906.6 424.2h1.6v1.4h-1.6zM889.9 423.9h1.6v1.4h-1.6zM881.0 424.0h1.6v1.4h-1.6zM859.6 425.3h1.6v1.4h-1.6zM903.6 423.8h1.6v1.4h-1.6zM883.0 425.4h1.6v1.4h-1.6zM875.7 423.7h1.6v1.4h-1.6zM882.3 424.0h1.6v1.4h-1.6zM912.7 424.0h1.6v1.4h-1.6zM910.0 424.6h1.6v1.4h-1.6zM912.6 425.0h1.6v1.4h-1.6zM869.7 424.3h1.6v1.4h-1.6zM872.2 424.1h1.6v1.4h-1.6zM912.4 425.4h1.6v1.4h-1.6z" fill="#ffffff"/><path d="M859.3 425.4h1.6v1.4h-1.6zM880.8 425.3h1.6v1.4h-1.6zM873.3 423.7h1.6v1.4h-1.6zM894.9 425.2h1.6v1.4h-1.6zM858.7 423.6h1.6v1.4h-1.6zM886.7 424.1h1.6v1.4h-1.6zM905.5 425.0h1.6v1.4h-1.6zM896.9 424.5h1.6v1.4h-1.6zM883.0 425.0h1.6v1.4h-1.6zM868.1 424.7h1.6v1.4h-1.6zM910.1 423.9h1.6v1.4h-1.6zM909.1 424.1h1.6v1.4h-1.6zM886.7 425.0h1.6v1.4h-1.6zM900.0 425.0h1.6v1.4h-1.6zM900.6 424.1h1.6v1.4h-1.6z" fill="#0060ff"/><path d="M860.0 424.9h1.6v1.4h-1.6zM884.1 423.7h1.6v1.4h-1.6zM889.3 424.7h1.6v1.4h-1.6zM868.1 425.5h1.6v1.4h-1.6zM862.4 424.8h1.6v1.4h-1.6zM912.9 424.3h1.6v1.4h-1.6zM912.3 425.5h1.6v1.4h-1.6zM862.2 423.9h1.6v1.4h-1.6z" fill="#00ffff"/>
</g>
<g clip-path="url(#cp_Dn)"><g filter="url(#blr)">
<path d="M553.0 498.2L919.0 498.2L919.0 581.0L553.0 581.0Z" fill="#00ff00"/>
<path d="M735.0 547.0L919.0 547.0L919.0 568.0L735.0 568.0Z" fill="#fff400"/>
<path d="M736.0 549.0L770.0 548.0L800.0 551.0L800.0 574.0L736.0 574.0Z" fill="#00ff00"/>
<path d="M822.0 552.0L860.0 550.0L905.0 552.0L905.0 574.0L822.0 574.0Z" fill="#00ff00"/>
<path d="M553.0 543.0L919.0 544.0L919.0 551.0L553.0 550.0Z" fill="#d8ff00"/>
<path d="M553.0 534.0L919.0 537.0L919.0 549.0L740.0 547.0L553.0 546.0Z" fill="#fff400"/>
<path d="M553.0 521.0L919.0 522.0L919.0 538.0L553.0 535.0Z" fill="#ff8500"/>
<path d="M553.0 520.7L555.8 520.7L555.8 536.7L553.0 536.7Z" fill="#ff8400" fill-opacity="0.7"/>
<path d="M555.5 522.2L558.7 522.2L558.7 534.6L555.5 534.6Z" fill="#ff7600" fill-opacity="0.7"/>
<path d="M558.4 523.1L562.0 523.1L562.0 535.7L558.4 535.7Z" fill="#ff7000" fill-opacity="0.7"/>
<path d="M561.7 520.6L565.6 520.6L565.6 533.7L561.7 533.7Z" fill="#ff7500" fill-opacity="0.7"/>
<path d="M565.3 522.7L568.9 522.7L568.9 535.6L565.3 535.6Z" fill="#ff8e00" fill-opacity="0.7"/>
<path d="M568.6 520.2L570.6 520.2L570.6 536.6L568.6 536.6Z" fill="#ff7800" fill-opacity="0.7"/>
<path d="M570.3 523.0L574.2 523.0L574.2 536.1L570.3 536.1Z" fill="#ff8e00" fill-opacity="0.7"/>
<path d="M573.9 520.6L576.0 520.6L576.0 536.8L573.9 536.8Z" fill="#ff8100" fill-opacity="0.7"/>
<path d="M575.7 520.3L579.2 520.3L579.2 534.5L575.7 534.5Z" fill="#ff5d00" fill-opacity="0.7"/>
<path d="M578.9 520.8L582.3 520.8L582.3 536.8L578.9 536.8Z" fill="#ff5500" fill-opacity="0.7"/>
<path d="M582.0 520.7L585.9 520.7L585.9 535.9L582.0 535.9Z" fill="#ff6400" fill-opacity="0.7"/>
<path d="M585.6 522.1L588.4 522.1L588.4 534.9L585.6 534.9Z" fill="#ff5800" fill-opacity="0.7"/>
<path d="M588.1 521.9L590.0 521.9L590.0 536.2L588.1 536.2Z" fill="#ff7300" fill-opacity="0.7"/>
<path d="M589.7 522.3L592.5 522.3L592.5 536.8L589.7 536.8Z" fill="#ff6100" fill-opacity="0.7"/>
<path d="M592.2 520.7L595.7 520.7L595.7 533.6L592.2 533.6Z" fill="#ff6e00" fill-opacity="0.7"/>
<path d="M595.4 523.6L597.3 523.6L597.3 536.4L595.4 536.4Z" fill="#ff5300" fill-opacity="0.7"/>
<path d="M597.0 520.6L599.0 520.6L599.0 536.9L597.0 536.9Z" fill="#ff4700" fill-opacity="0.7"/>
<path d="M598.7 522.6L602.2 522.6L602.2 535.1L598.7 535.1Z" fill="#ff3b00" fill-opacity="0.7"/>
<path d="M601.9 521.1L605.8 521.1L605.8 535.2L601.9 535.2Z" fill="#ff3b00" fill-opacity="0.7"/>
<path d="M605.5 521.8L609.1 521.8L609.1 535.2L605.5 535.2Z" fill="#ff3b00" fill-opacity="0.7"/>
<path d="M608.8 521.0L613.0 521.0L613.0 536.2L608.8 536.2Z" fill="#ff4b00" fill-opacity="0.7"/>
<path d="M612.7 521.5L615.2 521.5L615.2 537.2L612.7 537.2Z" fill="#ff3b00" fill-opacity="0.7"/>
<path d="M614.9 523.2L617.7 523.2L617.7 536.4L614.9 536.4Z" fill="#ff3b00" fill-opacity="0.7"/>
<path d="M617.4 520.3L619.7 520.3L619.7 534.3L617.4 534.3Z" fill="#ff5400" fill-opacity="0.7"/>
<path d="M619.4 521.1L622.9 521.1L622.9 535.8L619.4 535.8Z" fill="#ff7400" fill-opacity="0.7"/>
<path d="M622.6 521.1L624.8 521.1L624.8 536.3L622.6 536.3Z" fill="#ff8100" fill-opacity="0.7"/>
<path d="M624.5 522.6L626.6 522.6L626.6 536.4L624.5 536.4Z" fill="#ff5c00" fill-opacity="0.7"/>
<path d="M626.3 524.1L629.5 524.1L629.5 537.2L626.3 537.2Z" fill="#ff5c00" fill-opacity="0.7"/>
<path d="M629.2 522.6L633.0 522.6L633.0 537.4L629.2 537.4Z" fill="#ff7f00" fill-opacity="0.7"/>
<path d="M632.7 522.8L636.1 522.8L636.1 534.4L632.7 534.4Z" fill="#ff7e00" fill-opacity="0.7"/>
<path d="M635.8 520.5L639.4 520.5L639.4 535.7L635.8 535.7Z" fill="#ff6900" fill-opacity="0.7"/>
<path d="M639.1 523.0L642.4 523.0L642.4 537.4L639.1 537.4Z" fill="#ff7400" fill-opacity="0.7"/>
<path d="M642.1 520.9L646.2 520.9L646.2 537.2L642.1 537.2Z" fill="#ff8200" fill-opacity="0.7"/>
<path d="M645.9 523.7L649.2 523.7L649.2 534.9L645.9 534.9Z" fill="#ff6a00" fill-opacity="0.7"/>
<path d="M648.9 523.5L652.2 523.5L652.2 536.6L648.9 536.6Z" fill="#ff7800" fill-opacity="0.7"/>
<path d="M651.9 522.6L654.3 522.6L654.3 534.8L651.9 534.8Z" fill="#ff7800" fill-opacity="0.7"/>
<path d="M654.0 520.6L656.2 520.6L656.2 535.8L654.0 535.8Z" fill="#ff7a00" fill-opacity="0.7"/>
<path d="M655.9 520.5L660.1 520.5L660.1 537.2L655.9 537.2Z" fill="#ff6200" fill-opacity="0.7"/>
<path d="M659.8 520.4L663.4 520.4L663.4 536.9L659.8 536.9Z" fill="#ff5300" fill-opacity="0.7"/>
<path d="M663.1 521.6L665.4 521.6L665.4 535.4L663.1 535.4Z" fill="#ff3c00" fill-opacity="0.7"/>
<path d="M665.1 521.2L667.3 521.2L667.3 537.4L665.1 537.4Z" fill="#ff3b00" fill-opacity="0.7"/>
<path d="M667.0 522.9L670.1 522.9L670.1 536.1L667.0 536.1Z" fill="#ff5500" fill-opacity="0.7"/>
<path d="M669.8 521.4L671.6 521.4L671.6 534.1L669.8 534.1Z" fill="#ff3d00" fill-opacity="0.7"/>
<path d="M671.3 521.9L675.1 521.9L675.1 534.7L671.3 534.7Z" fill="#ff3b00" fill-opacity="0.7"/>
<path d="M674.8 523.1L677.9 523.1L677.9 536.0L674.8 536.0Z" fill="#ff3b00" fill-opacity="0.7"/>
<path d="M677.6 521.1L680.8 521.1L680.8 534.8L677.6 534.8Z" fill="#ff3b00" fill-opacity="0.7"/>
<path d="M680.5 523.6L683.5 523.6L683.5 537.5L680.5 537.5Z" fill="#ff3b00" fill-opacity="0.7"/>
<path d="M683.2 520.8L686.1 520.8L686.1 535.6L683.2 535.6Z" fill="#ff3b00" fill-opacity="0.7"/>
<path d="M685.8 524.4L687.8 524.4L687.8 536.8L685.8 536.8Z" fill="#ff3b00" fill-opacity="0.7"/>
<path d="M687.5 523.6L691.2 523.6L691.2 534.5L687.5 534.5Z" fill="#ff4400" fill-opacity="0.7"/>
<path d="M690.9 523.8L693.6 523.8L693.6 534.8L690.9 534.8Z" fill="#ff4f00" fill-opacity="0.7"/>
<path d="M693.3 523.8L695.5 523.8L695.5 535.4L693.3 535.4Z" fill="#ff6e00" fill-opacity="0.7"/>
<path d="M695.2 523.7L699.2 523.7L699.2 535.0L695.2 535.0Z" fill="#ff7c00" fill-opacity="0.7"/>
<path d="M698.9 523.9L703.0 523.9L703.0 537.0L698.9 537.0Z" fill="#ff5900" fill-opacity="0.7"/>
<path d="M702.7 524.3L706.7 524.3L706.7 535.3L702.7 535.3Z" fill="#ff3b00" fill-opacity="0.7"/>
<path d="M706.4 521.8L710.4 521.8L710.4 534.9L706.4 534.9Z" fill="#ff3b00" fill-opacity="0.7"/>
<path d="M710.1 522.6L714.1 522.6L714.1 537.8L710.1 537.8Z" fill="#ff3d00" fill-opacity="0.7"/>
<path d="M713.8 523.2L716.8 523.2L716.8 536.5L713.8 536.5Z" fill="#ff4f00" fill-opacity="0.7"/>
<path d="M716.5 524.1L719.0 524.1L719.0 535.3L716.5 535.3Z" fill="#ff4100" fill-opacity="0.7"/>
<path d="M718.7 522.5L722.5 522.5L722.5 535.1L718.7 535.1Z" fill="#ff3b00" fill-opacity="0.7"/>
<path d="M722.2 521.5L725.7 521.5L725.7 537.8L722.2 537.8Z" fill="#ff4b00" fill-opacity="0.7"/>
<path d="M725.4 523.9L727.9 523.9L727.9 538.4L725.4 538.4Z" fill="#ff6900" fill-opacity="0.7"/>
<path d="M727.6 522.7L730.1 522.7L730.1 537.5L727.6 537.5Z" fill="#ff7100" fill-opacity="0.7"/>
<path d="M729.8 521.4L731.7 521.4L731.7 538.2L729.8 538.2Z" fill="#ff6500" fill-opacity="0.7"/>
<path d="M731.4 522.3L734.2 522.3L734.2 537.1L731.4 537.1Z" fill="#ff4400" fill-opacity="0.7"/>
<path d="M733.9 521.7L735.8 521.7L735.8 536.0L733.9 536.0Z" fill="#ff5a00" fill-opacity="0.7"/>
<path d="M735.5 520.9L737.7 520.9L737.7 536.8L735.5 536.8Z" fill="#ff6000" fill-opacity="0.7"/>
<path d="M737.4 523.0L741.6 523.0L741.6 538.5L737.4 538.5Z" fill="#ff4600" fill-opacity="0.7"/>
<path d="M741.3 522.3L745.0 522.3L745.0 534.9L741.3 534.9Z" fill="#ff3c00" fill-opacity="0.7"/>
<path d="M744.7 523.7L748.7 523.7L748.7 537.3L744.7 537.3Z" fill="#ff3b00" fill-opacity="0.7"/>
<path d="M748.4 524.4L752.2 524.4L752.2 537.7L748.4 537.7Z" fill="#ff3b00" fill-opacity="0.7"/>
<path d="M751.9 522.8L753.8 522.8L753.8 536.4L751.9 536.4Z" fill="#ff3b00" fill-opacity="0.7"/>
<path d="M753.5 520.7L756.3 520.7L756.3 537.1L753.5 537.1Z" fill="#ff4c00" fill-opacity="0.7"/>
<path d="M756.0 524.3L759.4 524.3L759.4 538.3L756.0 538.3Z" fill="#ff6b00" fill-opacity="0.7"/>
<path d="M759.1 522.1L763.0 522.1L763.0 536.6L759.1 536.6Z" fill="#ff6800" fill-opacity="0.7"/>
<path d="M762.7 524.3L765.5 524.3L765.5 538.3L762.7 538.3Z" fill="#ff4600" fill-opacity="0.7"/>
<path d="M765.2 523.3L768.3 523.3L768.3 535.9L765.2 535.9Z" fill="#ff4500" fill-opacity="0.7"/>
<path d="M768.0 521.7L770.2 521.7L770.2 535.9L768.0 535.9Z" fill="#ff3b00" fill-opacity="0.7"/>
<path d="M769.9 522.7L773.0 522.7L773.0 535.4L769.9 535.4Z" fill="#ff5900" fill-opacity="0.7"/>
<path d="M772.7 523.8L776.5 523.8L776.5 535.9L772.7 535.9Z" fill="#ff7900" fill-opacity="0.7"/>
<path d="M776.2 524.4L780.0 524.4L780.0 535.5L776.2 535.5Z" fill="#ff6200" fill-opacity="0.7"/>
<path d="M779.7 522.0L784.0 522.0L784.0 534.9L779.7 534.9Z" fill="#ff7c00" fill-opacity="0.7"/>
<path d="M783.7 522.9L786.7 522.9L786.7 538.6L783.7 538.6Z" fill="#ff9c00" fill-opacity="0.7"/>
<path d="M786.4 521.0L790.2 521.0L790.2 538.9L786.4 538.9Z" fill="#ff9100" fill-opacity="0.7"/>
<path d="M789.9 521.2L792.6 521.2L792.6 536.1L789.9 536.1Z" fill="#ff6f00" fill-opacity="0.7"/>
<path d="M792.3 521.4L796.4 521.4L796.4 536.8L792.3 536.8Z" fill="#ff5d00" fill-opacity="0.7"/>
<path d="M796.1 521.5L799.3 521.5L799.3 535.3L796.1 535.3Z" fill="#ff6f00" fill-opacity="0.7"/>
<path d="M799.0 522.1L802.1 522.1L802.1 536.9L799.0 536.9Z" fill="#ff7500" fill-opacity="0.7"/>
<path d="M801.8 523.7L804.4 523.7L804.4 535.6L801.8 535.6Z" fill="#ff7e00" fill-opacity="0.7"/>
<path d="M804.1 521.8L806.2 521.8L806.2 537.0L804.1 537.0Z" fill="#ff8200" fill-opacity="0.7"/>
<path d="M805.9 524.0L809.8 524.0L809.8 538.8L805.9 538.8Z" fill="#ff6100" fill-opacity="0.7"/>
<path d="M809.5 521.2L811.9 521.2L811.9 536.3L809.5 536.3Z" fill="#ff6c00" fill-opacity="0.7"/>
<path d="M811.6 522.0L814.0 522.0L814.0 538.9L811.6 538.9Z" fill="#ff7f00" fill-opacity="0.7"/>
<path d="M813.7 522.8L816.8 522.8L816.8 538.1L813.7 538.1Z" fill="#ff6200" fill-opacity="0.7"/>
<path d="M816.5 524.4L820.0 524.4L820.0 537.5L816.5 537.5Z" fill="#ff5b00" fill-opacity="0.7"/>
<path d="M819.7 521.1L822.8 521.1L822.8 536.9L819.7 536.9Z" fill="#ff6f00" fill-opacity="0.7"/>
<path d="M822.5 524.5L825.3 524.5L825.3 535.3L822.5 535.3Z" fill="#ff8b00" fill-opacity="0.7"/>
<path d="M825.0 522.4L827.9 522.4L827.9 538.6L825.0 538.6Z" fill="#ff9d00" fill-opacity="0.7"/>
<path d="M827.6 523.6L831.8 523.6L831.8 538.8L827.6 538.8Z" fill="#ffa500" fill-opacity="0.7"/>
<path d="M831.5 522.5L834.0 522.5L834.0 538.6L831.5 538.6Z" fill="#ffa500" fill-opacity="0.7"/>
<path d="M833.7 521.5L836.3 521.5L836.3 538.0L833.7 538.0Z" fill="#ff8800" fill-opacity="0.7"/>
<path d="M836.0 522.1L839.4 522.1L839.4 538.7L836.0 538.7Z" fill="#ffa500" fill-opacity="0.7"/>
<path d="M839.1 522.7L841.9 522.7L841.9 537.5L839.1 537.5Z" fill="#ffa500" fill-opacity="0.7"/>
<path d="M841.6 524.5L844.5 524.5L844.5 538.1L841.6 538.1Z" fill="#ffa500" fill-opacity="0.7"/>
<path d="M844.2 523.9L847.1 523.9L847.1 536.4L844.2 536.4Z" fill="#ffa500" fill-opacity="0.7"/>
<path d="M846.8 521.2L849.8 521.2L849.8 536.0L846.8 536.0Z" fill="#ff9200" fill-opacity="0.7"/>
<path d="M849.5 524.0L851.5 524.0L851.5 538.1L849.5 538.1Z" fill="#ff8500" fill-opacity="0.7"/>
<path d="M851.2 522.3L854.5 522.3L854.5 537.3L851.2 537.3Z" fill="#ffa500" fill-opacity="0.7"/>
<path d="M854.2 522.3L856.9 522.3L856.9 536.4L854.2 536.4Z" fill="#ffa500" fill-opacity="0.7"/>
<path d="M856.6 520.9L858.5 520.9L858.5 537.2L856.6 537.2Z" fill="#ffa000" fill-opacity="0.7"/>
<path d="M858.2 523.7L861.0 523.7L861.0 537.3L858.2 537.3Z" fill="#ff8900" fill-opacity="0.7"/>
<path d="M860.7 523.7L862.6 523.7L862.6 538.1L860.7 538.1Z" fill="#ff7900" fill-opacity="0.7"/>
<path d="M862.3 522.4L866.5 522.4L866.5 537.7L862.3 537.7Z" fill="#ff7a00" fill-opacity="0.7"/>
<path d="M866.2 521.4L868.3 521.4L868.3 538.3L866.2 538.3Z" fill="#ff7000" fill-opacity="0.7"/>
<path d="M868.0 521.6L871.3 521.6L871.3 538.4L868.0 538.4Z" fill="#ff6200" fill-opacity="0.7"/>
<path d="M871.0 523.9L875.2 523.9L875.2 536.3L871.0 536.3Z" fill="#ff3e00" fill-opacity="0.7"/>
<path d="M874.9 524.8L878.6 524.8L878.6 535.8L874.9 535.8Z" fill="#ff5600" fill-opacity="0.7"/>
<path d="M878.3 521.2L880.2 521.2L880.2 539.5L878.3 539.5Z" fill="#ff5e00" fill-opacity="0.7"/>
<path d="M879.9 524.4L884.0 524.4L884.0 537.1L879.9 537.1Z" fill="#ff7000" fill-opacity="0.7"/>
<path d="M883.7 524.7L887.5 524.7L887.5 537.5L883.7 537.5Z" fill="#ff8c00" fill-opacity="0.7"/>
<path d="M887.2 520.9L889.6 520.9L889.6 535.9L887.2 535.9Z" fill="#ff9000" fill-opacity="0.7"/>
<path d="M889.3 524.9L892.3 524.9L892.3 537.9L889.3 537.9Z" fill="#ff8800" fill-opacity="0.7"/>
<path d="M892.0 521.0L894.7 521.0L894.7 539.5L892.0 539.5Z" fill="#ff9a00" fill-opacity="0.7"/>
<path d="M894.4 524.0L897.9 524.0L897.9 538.6L894.4 538.6Z" fill="#ffa500" fill-opacity="0.7"/>
<path d="M897.6 524.4L901.0 524.4L901.0 539.5L897.6 539.5Z" fill="#ffa500" fill-opacity="0.7"/>
<path d="M900.7 522.7L904.4 522.7L904.4 538.4L900.7 538.4Z" fill="#ffa500" fill-opacity="0.7"/>
<path d="M904.1 522.9L908.3 522.9L908.3 536.2L904.1 536.2Z" fill="#ffa500" fill-opacity="0.7"/>
<path d="M908.0 523.7L909.9 523.7L909.9 536.8L908.0 536.8Z" fill="#ffa500" fill-opacity="0.7"/>
<path d="M909.6 522.1L913.3 522.1L913.3 538.0L909.6 538.0Z" fill="#ff9b00" fill-opacity="0.7"/>
<path d="M913.0 523.5L916.9 523.5L916.9 539.0L913.0 539.0Z" fill="#ffa500" fill-opacity="0.7"/>
<path d="M916.6 523.5L920.8 523.5L920.8 539.2L916.6 539.2Z" fill="#ffa500" fill-opacity="0.7"/>
<path d="M553.0 534.1L556.4 534.1L556.4 544.9L553.0 544.9Z" fill="#e9ff00" fill-opacity="0.7"/>
<path d="M556.1 536.6L559.7 536.6L559.7 544.4L556.1 544.4Z" fill="#f6ff00" fill-opacity="0.7"/>
<path d="M559.4 533.9L562.3 533.9L562.3 546.1L559.4 546.1Z" fill="#d8ff00" fill-opacity="0.7"/>
<path d="M562.0 535.7L563.9 535.7L563.9 546.3L562.0 546.3Z" fill="#d8ff00" fill-opacity="0.7"/>
<path d="M563.6 536.3L565.9 536.3L565.9 544.1L563.6 544.1Z" fill="#deff00" fill-opacity="0.7"/>
<path d="M565.6 534.5L569.4 534.5L569.4 544.7L565.6 544.7Z" fill="#edff00" fill-opacity="0.7"/>
<path d="M569.1 533.5L573.3 533.5L573.3 544.5L569.1 544.5Z" fill="#e1ff00" fill-opacity="0.7"/>
<path d="M573.0 536.4L576.9 536.4L576.9 547.1L573.0 547.1Z" fill="#e8ff00" fill-opacity="0.7"/>
<path d="M576.6 534.7L579.8 534.7L579.8 546.4L576.6 546.4Z" fill="#fff500" fill-opacity="0.7"/>
<path d="M579.5 536.7L583.4 536.7L583.4 546.5L579.5 546.5Z" fill="#ffed00" fill-opacity="0.7"/>
<path d="M583.1 534.2L586.6 534.2L586.6 545.4L583.1 545.4Z" fill="#f2ff00" fill-opacity="0.7"/>
<path d="M586.3 533.7L588.3 533.7L588.3 545.4L586.3 545.4Z" fill="#dfff00" fill-opacity="0.7"/>
<path d="M588.0 534.8L591.4 534.8L591.4 545.1L588.0 545.1Z" fill="#d8ff00" fill-opacity="0.7"/>
<path d="M591.1 535.9L593.6 535.9L593.6 546.8L591.1 546.8Z" fill="#f8ff00" fill-opacity="0.7"/>
<path d="M593.3 534.0L595.5 534.0L595.5 545.9L593.3 545.9Z" fill="#fff700" fill-opacity="0.7"/>
<path d="M595.2 535.6L599.5 535.6L599.5 547.1L595.2 547.1Z" fill="#ffee00" fill-opacity="0.7"/>
<path d="M599.2 534.3L603.1 534.3L603.1 544.5L599.2 544.5Z" fill="#ffdc00" fill-opacity="0.7"/>
<path d="M602.8 534.3L605.4 534.3L605.4 548.2L602.8 548.2Z" fill="#ffeb00" fill-opacity="0.7"/>
<path d="M605.1 536.1L609.1 536.1L609.1 546.0L605.1 546.0Z" fill="#fff700" fill-opacity="0.7"/>
<path d="M608.8 534.5L612.8 534.5L612.8 545.5L608.8 545.5Z" fill="#fff900" fill-opacity="0.7"/>
<path d="M612.5 535.8L615.7 535.8L615.7 548.1L612.5 548.1Z" fill="#f4ff00" fill-opacity="0.7"/>
<path d="M615.4 537.5L618.2 537.5L618.2 546.6L615.4 546.6Z" fill="#dfff00" fill-opacity="0.7"/>
<path d="M617.9 534.0L620.0 534.0L620.0 547.0L617.9 547.0Z" fill="#d8ff00" fill-opacity="0.7"/>
<path d="M619.7 533.8L623.5 533.8L623.5 546.1L619.7 546.1Z" fill="#d8ff00" fill-opacity="0.7"/>
<path d="M623.2 537.5L627.4 537.5L627.4 548.0L623.2 548.0Z" fill="#daff00" fill-opacity="0.7"/>
<path d="M627.1 536.3L629.0 536.3L629.0 546.8L627.1 546.8Z" fill="#eaff00" fill-opacity="0.7"/>
<path d="M628.7 534.1L631.1 534.1L631.1 546.4L628.7 546.4Z" fill="#f4ff00" fill-opacity="0.7"/>
<path d="M630.8 537.2L633.8 537.2L633.8 545.7L630.8 545.7Z" fill="#ffeb00" fill-opacity="0.7"/>
<path d="M633.5 537.3L636.5 537.3L636.5 548.2L633.5 548.2Z" fill="#feff00" fill-opacity="0.7"/>
<path d="M636.2 536.1L638.8 536.1L638.8 545.3L636.2 545.3Z" fill="#fff700" fill-opacity="0.7"/>
<path d="M638.5 536.8L642.2 536.8L642.2 546.8L638.5 546.8Z" fill="#fff500" fill-opacity="0.7"/>
<path d="M641.9 533.8L643.7 533.8L643.7 548.5L641.9 548.5Z" fill="#feff00" fill-opacity="0.7"/>
<path d="M643.4 535.0L647.4 535.0L647.4 545.0L643.4 545.0Z" fill="#ffeb00" fill-opacity="0.7"/>
<path d="M647.1 534.1L651.1 534.1L651.1 546.7L647.1 546.7Z" fill="#ffce00" fill-opacity="0.7"/>
<path d="M650.8 536.9L652.7 536.9L652.7 545.3L650.8 545.3Z" fill="#ffc700" fill-opacity="0.7"/>
<path d="M652.4 534.9L655.4 534.9L655.4 548.3L652.4 548.3Z" fill="#ffc700" fill-opacity="0.7"/>
<path d="M655.1 536.0L658.0 536.0L658.0 547.8L655.1 547.8Z" fill="#ffd900" fill-opacity="0.7"/>
<path d="M657.7 537.8L660.0 537.8L660.0 547.5L657.7 547.5Z" fill="#ffe500" fill-opacity="0.7"/>
<path d="M659.7 534.4L662.6 534.4L662.6 545.8L659.7 545.8Z" fill="#ffe400" fill-opacity="0.7"/>
<path d="M662.3 534.8L664.9 534.8L664.9 545.8L662.3 545.8Z" fill="#ffde00" fill-opacity="0.7"/>
<path d="M664.6 534.8L666.6 534.8L666.6 548.5L664.6 548.5Z" fill="#ffd600" fill-opacity="0.7"/>
<path d="M666.3 534.9L670.3 534.9L670.3 547.6L666.3 547.6Z" fill="#fff100" fill-opacity="0.7"/>
<path d="M670.0 537.7L672.3 537.7L672.3 547.3L670.0 547.3Z" fill="#f4ff00" fill-opacity="0.7"/>
<path d="M672.0 537.2L675.0 537.2L675.0 545.7L672.0 545.7Z" fill="#fff600" fill-opacity="0.7"/>
<path d="M674.7 535.7L676.7 535.7L676.7 546.9L674.7 546.9Z" fill="#fffa00" fill-opacity="0.7"/>
<path d="M676.4 538.0L680.0 538.0L680.0 545.4L676.4 545.4Z" fill="#ffef00" fill-opacity="0.7"/>
<path d="M679.7 537.5L682.5 537.5L682.5 546.0L679.7 546.0Z" fill="#fffa00" fill-opacity="0.7"/>
<path d="M682.2 535.8L684.5 535.8L684.5 546.2L682.2 546.2Z" fill="#fffd00" fill-opacity="0.7"/>
<path d="M684.2 535.9L686.6 535.9L686.6 548.5L684.2 548.5Z" fill="#ffe200" fill-opacity="0.7"/>
<path d="M686.3 538.1L689.5 538.1L689.5 548.4L686.3 548.4Z" fill="#ffff00" fill-opacity="0.7"/>
<path d="M689.2 537.5L693.4 537.5L693.4 545.8L689.2 545.8Z" fill="#ffe400" fill-opacity="0.7"/>
<path d="M693.1 535.8L696.2 535.8L696.2 545.4L693.1 545.4Z" fill="#fff600" fill-opacity="0.7"/>
<path d="M695.9 535.2L698.6 535.2L698.6 548.3L695.9 548.3Z" fill="#ffd700" fill-opacity="0.7"/>
<path d="M698.3 538.0L701.2 538.0L701.2 549.2L698.3 549.2Z" fill="#ffdc00" fill-opacity="0.7"/>
<path d="M700.9 534.8L704.1 534.8L704.1 546.4L700.9 546.4Z" fill="#ffce00" fill-opacity="0.7"/>
<path d="M703.8 536.4L708.1 536.4L708.1 548.2L703.8 548.2Z" fill="#ffc900" fill-opacity="0.7"/>
<path d="M707.8 536.3L709.7 536.3L709.7 548.7L707.8 548.7Z" fill="#ffc700" fill-opacity="0.7"/>
<path d="M709.4 534.6L711.6 534.6L711.6 546.0L709.4 546.0Z" fill="#ffc700" fill-opacity="0.7"/>
<path d="M711.3 535.3L714.6 535.3L714.6 545.8L711.3 545.8Z" fill="#ffc700" fill-opacity="0.7"/>
<path d="M714.3 536.7L718.3 536.7L718.3 547.8L714.3 547.8Z" fill="#ffd700" fill-opacity="0.7"/>
<path d="M718.0 536.5L720.9 536.5L720.9 549.1L718.0 549.1Z" fill="#ffd100" fill-opacity="0.7"/>
<path d="M720.6 535.3L722.9 535.3L722.9 547.0L720.6 547.0Z" fill="#ffc700" fill-opacity="0.7"/>
<path d="M722.6 535.7L726.0 535.7L726.0 548.4L722.6 548.4Z" fill="#ffd300" fill-opacity="0.7"/>
<path d="M725.7 538.4L727.7 538.4L727.7 549.4L725.7 549.4Z" fill="#ffd600" fill-opacity="0.7"/>
<path d="M727.4 535.5L729.4 535.5L729.4 549.2L727.4 549.2Z" fill="#ffe800" fill-opacity="0.7"/>
<path d="M729.1 535.9L733.1 535.9L733.1 546.1L729.1 546.1Z" fill="#ffd000" fill-opacity="0.7"/>
<path d="M732.8 536.9L736.7 536.9L736.7 549.4L732.8 549.4Z" fill="#ffc700" fill-opacity="0.7"/>
<path d="M736.4 537.8L739.8 537.8L739.8 546.7L736.4 546.7Z" fill="#ffe600" fill-opacity="0.7"/>
<path d="M739.5 535.1L743.0 535.1L743.0 546.0L739.5 546.0Z" fill="#ffca00" fill-opacity="0.7"/>
<path d="M742.7 535.7L744.8 535.7L744.8 548.0L742.7 548.0Z" fill="#ffc700" fill-opacity="0.7"/>
<path d="M744.5 537.1L748.1 537.1L748.1 546.6L744.5 546.6Z" fill="#ffd900" fill-opacity="0.7"/>
<path d="M747.8 538.0L750.8 538.0L750.8 546.0L747.8 546.0Z" fill="#ffc700" fill-opacity="0.7"/>
<path d="M750.5 534.6L753.3 534.6L753.3 548.7L750.5 548.7Z" fill="#ffd500" fill-opacity="0.7"/>
<path d="M753.0 537.6L756.4 537.6L756.4 547.9L753.0 547.9Z" fill="#ffe400" fill-opacity="0.7"/>
<path d="M756.1 535.0L759.0 535.0L759.0 549.2L756.1 549.2Z" fill="#fbff00" fill-opacity="0.7"/>
<path d="M758.7 538.0L762.8 538.0L762.8 548.0L758.7 548.0Z" fill="#feff00" fill-opacity="0.7"/>
<path d="M762.5 536.0L764.6 536.0L764.6 549.3L762.5 549.3Z" fill="#e3ff00" fill-opacity="0.7"/>
<path d="M764.3 538.3L768.1 538.3L768.1 546.6L764.3 546.6Z" fill="#fdff00" fill-opacity="0.7"/>
<path d="M767.8 537.9L770.2 537.9L770.2 549.3L767.8 549.3Z" fill="#e0ff00" fill-opacity="0.7"/>
<path d="M769.9 535.4L772.8 535.4L772.8 549.5L769.9 549.5Z" fill="#e9ff00" fill-opacity="0.7"/>
<path d="M772.5 538.1L776.4 538.1L776.4 549.3L772.5 549.3Z" fill="#fff400" fill-opacity="0.7"/>
<path d="M776.1 536.2L778.0 536.2L778.0 549.6L776.1 549.6Z" fill="#ffe500" fill-opacity="0.7"/>
<path d="M777.7 538.1L781.5 538.1L781.5 546.9L777.7 546.9Z" fill="#ffce00" fill-opacity="0.7"/>
<path d="M781.2 538.4L785.0 538.4L785.0 549.3L781.2 549.3Z" fill="#ffe700" fill-opacity="0.7"/>
<path d="M784.7 536.7L787.0 536.7L787.0 547.1L784.7 547.1Z" fill="#ffd300" fill-opacity="0.7"/>
<path d="M786.7 535.0L790.5 535.0L790.5 546.7L786.7 546.7Z" fill="#ffe400" fill-opacity="0.7"/>
<path d="M790.2 538.8L792.8 538.8L792.8 547.1L790.2 547.1Z" fill="#ffcd00" fill-opacity="0.7"/>
<path d="M792.5 538.9L795.9 538.9L795.9 548.1L792.5 548.1Z" fill="#ffd300" fill-opacity="0.7"/>
<path d="M795.6 538.9L799.8 538.9L799.8 546.7L795.6 546.7Z" fill="#ffec00" fill-opacity="0.7"/>
<path d="M799.5 535.5L803.7 535.5L803.7 547.8L799.5 547.8Z" fill="#fffa00" fill-opacity="0.7"/>
<path d="M803.4 537.5L807.0 537.5L807.0 548.1L803.4 548.1Z" fill="#f7ff00" fill-opacity="0.7"/>
<path d="M806.7 536.1L809.5 536.1L809.5 548.9L806.7 548.9Z" fill="#fcff00" fill-opacity="0.7"/>
<path d="M809.2 537.3L811.0 537.3L811.0 549.0L809.2 549.0Z" fill="#ffe600" fill-opacity="0.7"/>
<path d="M810.7 536.6L814.3 536.6L814.3 546.4L810.7 546.4Z" fill="#ffdc00" fill-opacity="0.7"/>
<path d="M814.0 536.4L817.5 536.4L817.5 549.5L814.0 549.5Z" fill="#ffe600" fill-opacity="0.7"/>
<path d="M817.2 536.4L820.8 536.4L820.8 547.8L817.2 547.8Z" fill="#fff300" fill-opacity="0.7"/>
<path d="M820.5 535.7L823.3 535.7L823.3 547.9L820.5 547.9Z" fill="#feff00" fill-opacity="0.7"/>
<path d="M823.0 538.8L827.1 538.8L827.1 548.7L823.0 548.7Z" fill="#fff500" fill-opacity="0.7"/>
<path d="M826.8 535.3L829.4 535.3L829.4 547.4L826.8 547.4Z" fill="#fff200" fill-opacity="0.7"/>
<path d="M829.1 537.9L832.0 537.9L832.0 548.1L829.1 548.1Z" fill="#ffed00" fill-opacity="0.7"/>
<path d="M831.7 537.2L834.6 537.2L834.6 549.9L831.7 549.9Z" fill="#ffff00" fill-opacity="0.7"/>
<path d="M834.3 535.7L838.1 535.7L838.1 548.4L834.3 548.4Z" fill="#e7ff00" fill-opacity="0.7"/>
<path d="M837.8 538.6L841.1 538.6L841.1 549.4L837.8 549.4Z" fill="#dbff00" fill-opacity="0.7"/>
<path d="M840.8 536.2L844.3 536.2L844.3 546.5L840.8 546.5Z" fill="#d8ff00" fill-opacity="0.7"/>
<path d="M844.0 538.8L846.4 538.8L846.4 546.7L844.0 546.7Z" fill="#d8ff00" fill-opacity="0.7"/>
<path d="M846.1 536.2L849.0 536.2L849.0 549.2L846.1 549.2Z" fill="#e1ff00" fill-opacity="0.7"/>
<path d="M848.7 538.1L851.7 538.1L851.7 546.5L848.7 546.5Z" fill="#d8ff00" fill-opacity="0.7"/>
<path d="M851.4 535.9L855.1 535.9L855.1 548.2L851.4 548.2Z" fill="#ebff00" fill-opacity="0.7"/>
<path d="M854.8 537.6L857.0 537.6L857.0 546.7L854.8 546.7Z" fill="#fff300" fill-opacity="0.7"/>
<path d="M856.7 537.3L859.1 537.3L859.1 549.7L856.7 549.7Z" fill="#ffdd00" fill-opacity="0.7"/>
<path d="M858.8 537.9L862.3 537.9L862.3 550.3L858.8 550.3Z" fill="#ffc700" fill-opacity="0.7"/>
<path d="M862.0 538.4L866.0 538.4L866.0 548.6L862.0 548.6Z" fill="#ffc700" fill-opacity="0.7"/>
<path d="M865.7 539.2L869.6 539.2L869.6 549.6L865.7 549.6Z" fill="#ffc700" fill-opacity="0.7"/>
<path d="M869.3 536.6L872.3 536.6L872.3 549.2L869.3 549.2Z" fill="#ffd600" fill-opacity="0.7"/>
<path d="M872.0 538.1L875.7 538.1L875.7 547.7L872.0 547.7Z" fill="#ffd400" fill-opacity="0.7"/>
<path d="M875.4 536.7L877.4 536.7L877.4 547.9L875.4 547.9Z" fill="#ffe200" fill-opacity="0.7"/>
<path d="M877.1 536.6L880.3 536.6L880.3 549.4L877.1 549.4Z" fill="#fff900" fill-opacity="0.7"/>
<path d="M880.0 537.3L883.5 537.3L883.5 548.9L880.0 548.9Z" fill="#e6ff00" fill-opacity="0.7"/>
<path d="M883.2 537.4L886.1 537.4L886.1 550.3L883.2 550.3Z" fill="#d8ff00" fill-opacity="0.7"/>
<path d="M885.8 539.2L889.0 539.2L889.0 549.8L885.8 549.8Z" fill="#e6ff00" fill-opacity="0.7"/>
<path d="M888.7 537.2L891.5 537.2L891.5 549.8L888.7 549.8Z" fill="#d8ff00" fill-opacity="0.7"/>
<path d="M891.2 537.5L895.1 537.5L895.1 549.8L891.2 549.8Z" fill="#f9ff00" fill-opacity="0.7"/>
<path d="M894.8 536.7L898.0 536.7L898.0 547.7L894.8 547.7Z" fill="#fffe00" fill-opacity="0.7"/>
<path d="M897.7 537.2L900.6 537.2L900.6 549.6L897.7 549.6Z" fill="#deff00" fill-opacity="0.7"/>
<path d="M900.3 537.7L903.1 537.7L903.1 547.4L900.3 547.4Z" fill="#d8ff00" fill-opacity="0.7"/>
<path d="M902.8 537.5L906.1 537.5L906.1 549.1L902.8 549.1Z" fill="#d8ff00" fill-opacity="0.7"/>
<path d="M905.8 536.4L907.7 536.4L907.7 548.7L905.8 548.7Z" fill="#e2ff00" fill-opacity="0.7"/>
<path d="M907.4 536.8L909.3 536.8L909.3 548.2L907.4 548.2Z" fill="#d9ff00" fill-opacity="0.7"/>
<path d="M909.0 538.9L912.7 538.9L912.7 550.3L909.0 550.3Z" fill="#d8ff00" fill-opacity="0.7"/>
<path d="M912.4 536.0L914.9 536.0L914.9 549.1L912.4 549.1Z" fill="#d8ff00" fill-opacity="0.7"/>
<path d="M914.6 538.6L918.9 538.6L918.9 550.1L914.6 550.1Z" fill="#d8ff00" fill-opacity="0.7"/>
<path d="M918.6 539.8L922.0 539.8L922.0 547.8L918.6 547.8Z" fill="#eaff00" fill-opacity="0.7"/>
<path d="M553.0 496.2L919.0 496.2L919.0 523.0L800.0 522.0L553.0 522.0Z" fill="#ff0000"/>
<path d="M780.0 496.2L919.0 496.2L919.0 514.0L860.0 510.0L780.0 504.0Z" fill="#d00000" fill-opacity="0.7"/>
<ellipse cx="750" cy="556" rx="3.5" ry="5" fill="#ff7000" fill-opacity="0.8"/>
<ellipse cx="812" cy="557" rx="2" ry="3" fill="#ff8500" fill-opacity="0.7"/>
<ellipse cx="706" cy="566" rx="2" ry="9" fill="#ff7000" fill-opacity="0.8"/>
<ellipse cx="650" cy="550" rx="60" ry="3" fill="#d8ff00" fill-opacity="0.5"/>
</g>
<path d="M730.0 575.6h1.4v1.8h-1.4zM677.6 573.8h1.4v1.8h-1.4zM664.0 572.6h1.4v1.8h-1.4zM592.9 576.6h1.4v1.8h-1.4zM737.8 561.7h1.4v1.8h-1.4zM701.5 555.7h1.4v1.8h-1.4zM637.8 549.3h1.4v1.8h-1.4zM601.6 556.1h1.4v1.8h-1.4zM646.9 561.9h1.4v1.8h-1.4zM699.1 577.1h1.4v1.8h-1.4zM686.8 575.7h1.4v1.8h-1.4zM635.4 562.2h1.4v1.8h-1.4zM616.6 562.4h1.4v1.8h-1.4zM662.6 555.4h1.4v1.8h-1.4zM736.1 565.2h1.4v1.8h-1.4zM691.1 551.8h1.4v1.8h-1.4zM694.0 570.5h1.4v1.8h-1.4zM728.9 550.8h1.4v1.8h-1.4zM655.4 561.2h1.4v1.8h-1.4zM714.1 553.5h1.4v1.8h-1.4zM593.0 558.5h1.4v1.8h-1.4zM631.1 549.7h1.4v1.8h-1.4zM621.9 566.1h1.4v1.8h-1.4zM733.7 562.1h1.4v1.8h-1.4zM659.9 568.7h1.4v1.8h-1.4zM636.6 555.8h1.4v1.8h-1.4zM585.6 561.2h1.4v1.8h-1.4zM611.0 574.4h1.4v1.8h-1.4zM592.8 553.3h1.4v1.8h-1.4zM619.6 555.9h1.4v1.8h-1.4zM663.4 575.4h1.4v1.8h-1.4zM698.4 561.2h1.4v1.8h-1.4zM641.0 570.7h1.4v1.8h-1.4zM645.5 574.3h1.4v1.8h-1.4zM684.9 549.8h1.4v1.8h-1.4zM656.3 574.8h1.4v1.8h-1.4zM627.9 562.3h1.4v1.8h-1.4zM663.9 575.9h1.4v1.8h-1.4zM723.7 574.6h1.4v1.8h-1.4zM734.9 552.9h1.4v1.8h-1.4zM691.7 561.7h1.4v1.8h-1.4zM714.8 569.9h1.4v1.8h-1.4zM610.3 565.1h1.4v1.8h-1.4zM655.3 561.1h1.4v1.8h-1.4zM597.9 554.2h1.4v1.8h-1.4zM630.2 569.7h1.4v1.8h-1.4zM718.5 565.3h1.4v1.8h-1.4zM717.0 563.4h1.4v1.8h-1.4zM631.3 575.8h1.4v1.8h-1.4zM584.4 555.2h1.4v1.8h-1.4zM684.9 555.8h1.4v1.8h-1.4zM707.3 575.0h1.4v1.8h-1.4zM687.3 559.7h1.4v1.8h-1.4zM632.9 561.9h1.4v1.8h-1.4zM572.8 554.4h1.4v1.8h-1.4zM660.6 568.5h1.4v1.8h-1.4zM591.3 552.2h1.4v1.8h-1.4zM617.8 561.6h1.4v1.8h-1.4zM671.8 555.7h1.4v1.8h-1.4zM687.2 559.8h1.4v1.8h-1.4zM664.7 564.5h1.4v1.8h-1.4zM661.4 565.9h1.4v1.8h-1.4zM569.8 570.0h1.4v1.8h-1.4zM584.0 577.1h1.4v1.8h-1.4zM703.8 549.1h1.4v1.8h-1.4zM636.3 571.5h1.4v1.8h-1.4zM589.3 565.2h1.4v1.8h-1.4zM701.0 565.2h1.4v1.8h-1.4z" fill="#e0ffff"/><path d="M641.9 564.5h1.4v1.8h-1.4zM730.0 550.3h1.4v1.8h-1.4zM708.3 565.0h1.4v1.8h-1.4zM580.6 576.8h1.4v1.8h-1.4zM605.7 553.7h1.4v1.8h-1.4zM648.2 550.9h1.4v1.8h-1.4zM584.3 574.3h1.4v1.8h-1.4zM559.1 567.2h1.4v1.8h-1.4zM688.3 562.0h1.4v1.8h-1.4zM664.1 569.7h1.4v1.8h-1.4zM573.3 551.3h1.4v1.8h-1.4zM569.7 573.3h1.4v1.8h-1.4zM562.2 573.2h1.4v1.8h-1.4zM596.2 559.0h1.4v1.8h-1.4zM647.0 568.3h1.4v1.8h-1.4zM674.1 561.3h1.4v1.8h-1.4zM628.0 572.6h1.4v1.8h-1.4zM717.8 549.4h1.4v1.8h-1.4zM580.0 574.0h1.4v1.8h-1.4zM712.8 556.0h1.4v1.8h-1.4zM685.6 570.5h1.4v1.8h-1.4zM732.4 550.1h1.4v1.8h-1.4zM631.6 550.2h1.4v1.8h-1.4zM626.7 572.0h1.4v1.8h-1.4zM661.1 551.5h1.4v1.8h-1.4zM580.7 576.0h1.4v1.8h-1.4zM698.3 566.4h1.4v1.8h-1.4zM654.4 555.3h1.4v1.8h-1.4zM567.5 556.7h1.4v1.8h-1.4zM599.9 554.4h1.4v1.8h-1.4zM667.8 549.3h1.4v1.8h-1.4zM722.3 576.3h1.4v1.8h-1.4zM622.4 556.4h1.4v1.8h-1.4zM621.8 566.5h1.4v1.8h-1.4zM578.6 556.1h1.4v1.8h-1.4zM604.6 557.1h1.4v1.8h-1.4zM592.3 567.3h1.4v1.8h-1.4zM686.0 567.8h1.4v1.8h-1.4zM711.4 572.1h1.4v1.8h-1.4zM636.4 567.1h1.4v1.8h-1.4zM707.5 573.6h1.4v1.8h-1.4zM605.3 549.8h1.4v1.8h-1.4zM729.2 569.6h1.4v1.8h-1.4zM736.9 564.8h1.4v1.8h-1.4zM609.7 564.4h1.4v1.8h-1.4zM661.3 551.7h1.4v1.8h-1.4zM590.2 557.0h1.4v1.8h-1.4zM720.1 551.5h1.4v1.8h-1.4zM716.8 559.1h1.4v1.8h-1.4zM571.4 554.6h1.4v1.8h-1.4zM569.6 558.8h1.4v1.8h-1.4zM566.7 570.9h1.4v1.8h-1.4zM674.5 553.9h1.4v1.8h-1.4zM654.4 569.0h1.4v1.8h-1.4zM722.2 564.6h1.4v1.8h-1.4zM710.5 571.8h1.4v1.8h-1.4zM660.7 571.9h1.4v1.8h-1.4zM585.4 575.9h1.4v1.8h-1.4zM589.4 564.4h1.4v1.8h-1.4zM594.7 573.7h1.4v1.8h-1.4zM665.6 574.2h1.4v1.8h-1.4zM739.0 564.9h1.4v1.8h-1.4zM694.7 577.4h1.4v1.8h-1.4zM638.2 553.0h1.4v1.8h-1.4zM592.3 562.4h1.4v1.8h-1.4zM593.0 564.6h1.4v1.8h-1.4zM705.3 562.8h1.4v1.8h-1.4zM717.9 552.2h1.4v1.8h-1.4zM559.0 565.9h1.4v1.8h-1.4zM613.2 577.2h1.4v1.8h-1.4zM717.7 571.9h1.4v1.8h-1.4zM701.4 553.0h1.4v1.8h-1.4zM733.6 558.8h1.4v1.8h-1.4zM648.2 554.8h1.4v1.8h-1.4zM694.4 551.4h1.4v1.8h-1.4zM669.7 567.4h1.4v1.8h-1.4zM564.7 573.7h1.4v1.8h-1.4zM585.1 573.6h1.4v1.8h-1.4zM575.4 571.4h1.4v1.8h-1.4zM611.4 551.6h1.4v1.8h-1.4zM602.1 565.7h1.4v1.8h-1.4zM642.8 567.9h1.4v1.8h-1.4zM650.5 556.2h1.4v1.8h-1.4zM718.3 577.5h1.4v1.8h-1.4zM579.1 554.8h1.4v1.8h-1.4zM561.3 559.2h1.4v1.8h-1.4zM692.1 574.1h1.4v1.8h-1.4zM560.5 567.5h1.4v1.8h-1.4zM646.6 565.1h1.4v1.8h-1.4zM736.8 553.9h1.4v1.8h-1.4zM707.4 556.4h1.4v1.8h-1.4zM642.8 551.1h1.4v1.8h-1.4zM567.1 565.1h1.4v1.8h-1.4zM710.2 572.9h1.4v1.8h-1.4zM679.1 564.3h1.4v1.8h-1.4z" fill="#00ffff"/><path d="M710.8 568.0h1.4v1.8h-1.4zM719.1 569.4h1.4v1.8h-1.4zM720.3 576.3h1.4v1.8h-1.4zM571.5 569.6h1.4v1.8h-1.4zM676.0 574.1h1.4v1.8h-1.4zM663.0 572.7h1.4v1.8h-1.4zM706.7 568.7h1.4v1.8h-1.4zM611.1 549.8h1.4v1.8h-1.4zM617.2 555.8h1.4v1.8h-1.4zM643.2 560.6h1.4v1.8h-1.4zM564.1 553.1h1.4v1.8h-1.4zM739.6 566.1h1.4v1.8h-1.4zM676.1 550.8h1.4v1.8h-1.4zM702.1 555.2h1.4v1.8h-1.4zM726.3 554.5h1.4v1.8h-1.4zM727.6 573.6h1.4v1.8h-1.4zM582.8 556.6h1.4v1.8h-1.4zM684.6 556.6h1.4v1.8h-1.4zM679.8 559.8h1.4v1.8h-1.4zM690.0 561.9h1.4v1.8h-1.4zM612.4 560.0h1.4v1.8h-1.4zM686.0 555.9h1.4v1.8h-1.4zM701.5 563.4h1.4v1.8h-1.4zM705.5 553.1h1.4v1.8h-1.4zM700.1 569.7h1.4v1.8h-1.4zM579.3 553.7h1.4v1.8h-1.4zM633.4 556.0h1.4v1.8h-1.4zM583.0 566.1h1.4v1.8h-1.4zM584.8 572.4h1.4v1.8h-1.4zM619.7 566.8h1.4v1.8h-1.4zM558.3 557.5h1.4v1.8h-1.4zM669.6 576.9h1.4v1.8h-1.4zM649.8 554.5h1.4v1.8h-1.4zM681.9 561.1h1.4v1.8h-1.4zM655.1 569.0h1.4v1.8h-1.4zM693.7 572.8h1.4v1.8h-1.4zM625.0 570.4h1.4v1.8h-1.4zM725.1 564.1h1.4v1.8h-1.4zM630.1 554.4h1.4v1.8h-1.4zM602.9 568.6h1.4v1.8h-1.4zM680.8 565.2h1.4v1.8h-1.4zM571.2 567.4h1.4v1.8h-1.4zM664.4 575.2h1.4v1.8h-1.4zM717.2 554.9h1.4v1.8h-1.4zM652.6 555.9h1.4v1.8h-1.4zM657.9 552.0h1.4v1.8h-1.4zM631.8 573.2h1.4v1.8h-1.4zM681.0 570.3h1.4v1.8h-1.4zM724.3 571.8h1.4v1.8h-1.4zM583.2 554.3h1.4v1.8h-1.4zM677.8 549.5h1.4v1.8h-1.4zM602.7 550.3h1.4v1.8h-1.4zM682.6 575.9h1.4v1.8h-1.4zM726.2 562.4h1.4v1.8h-1.4zM735.8 562.3h1.4v1.8h-1.4zM571.5 557.6h1.4v1.8h-1.4zM609.8 551.5h1.4v1.8h-1.4zM707.0 561.7h1.4v1.8h-1.4zM704.3 563.5h1.4v1.8h-1.4zM678.3 568.3h1.4v1.8h-1.4zM614.6 566.7h1.4v1.8h-1.4zM629.5 551.6h1.4v1.8h-1.4zM576.6 551.7h1.4v1.8h-1.4zM640.6 560.2h1.4v1.8h-1.4zM738.1 575.6h1.4v1.8h-1.4zM734.1 563.5h1.4v1.8h-1.4zM575.1 550.8h1.4v1.8h-1.4zM679.5 568.5h1.4v1.8h-1.4zM564.0 575.3h1.4v1.8h-1.4zM626.8 569.5h1.4v1.8h-1.4zM724.6 560.9h1.4v1.8h-1.4zM576.6 551.1h1.4v1.8h-1.4zM576.5 551.6h1.4v1.8h-1.4zM716.0 569.9h1.4v1.8h-1.4zM627.7 569.8h1.4v1.8h-1.4zM715.1 551.8h1.4v1.8h-1.4zM692.8 565.2h1.4v1.8h-1.4zM637.1 555.8h1.4v1.8h-1.4zM600.3 558.7h1.4v1.8h-1.4zM715.1 563.7h1.4v1.8h-1.4zM735.6 556.2h1.4v1.8h-1.4zM691.9 559.7h1.4v1.8h-1.4zM720.2 568.2h1.4v1.8h-1.4zM630.2 577.4h1.4v1.8h-1.4zM666.8 562.8h1.4v1.8h-1.4zM594.6 556.4h1.4v1.8h-1.4zM558.4 550.6h1.4v1.8h-1.4zM680.1 561.9h1.4v1.8h-1.4zM729.0 576.3h1.4v1.8h-1.4zM655.3 576.2h1.4v1.8h-1.4zM585.4 572.7h1.4v1.8h-1.4zM577.5 563.6h1.4v1.8h-1.4zM669.6 552.3h1.4v1.8h-1.4z" fill="#80ff00"/><path d="M718.7 569.2h1.4v1.8h-1.4zM739.9 571.6h1.4v1.8h-1.4zM722.9 559.4h1.4v1.8h-1.4zM634.4 559.9h1.4v1.8h-1.4zM649.9 553.6h1.4v1.8h-1.4zM648.0 554.6h1.4v1.8h-1.4zM685.5 554.1h1.4v1.8h-1.4zM689.8 561.3h1.4v1.8h-1.4zM569.9 566.9h1.4v1.8h-1.4zM714.3 567.0h1.4v1.8h-1.4zM602.5 571.8h1.4v1.8h-1.4zM633.2 555.9h1.4v1.8h-1.4zM619.0 573.9h1.4v1.8h-1.4zM711.3 563.8h1.4v1.8h-1.4zM608.1 565.9h1.4v1.8h-1.4zM601.9 554.7h1.4v1.8h-1.4zM661.5 573.1h1.4v1.8h-1.4zM671.6 563.1h1.4v1.8h-1.4zM673.2 561.2h1.4v1.8h-1.4zM636.5 571.3h1.4v1.8h-1.4zM583.7 576.3h1.4v1.8h-1.4zM708.5 569.8h1.4v1.8h-1.4zM670.8 554.6h1.4v1.8h-1.4zM702.3 575.9h1.4v1.8h-1.4zM684.8 563.4h1.4v1.8h-1.4zM559.8 552.6h1.4v1.8h-1.4zM673.5 577.2h1.4v1.8h-1.4zM615.0 553.0h1.4v1.8h-1.4zM563.4 549.9h1.4v1.8h-1.4zM669.8 550.7h1.4v1.8h-1.4zM736.0 550.1h1.4v1.8h-1.4zM719.1 563.6h1.4v1.8h-1.4zM698.9 551.0h1.4v1.8h-1.4zM600.8 563.0h1.4v1.8h-1.4zM604.7 571.8h1.4v1.8h-1.4zM613.8 555.2h1.4v1.8h-1.4zM608.0 577.4h1.4v1.8h-1.4zM671.6 566.8h1.4v1.8h-1.4zM610.8 560.8h1.4v1.8h-1.4zM639.0 565.8h1.4v1.8h-1.4zM608.8 571.3h1.4v1.8h-1.4zM618.8 566.7h1.4v1.8h-1.4zM726.9 565.5h1.4v1.8h-1.4zM659.1 571.3h1.4v1.8h-1.4zM657.3 555.6h1.4v1.8h-1.4zM701.3 563.9h1.4v1.8h-1.4zM620.8 570.6h1.4v1.8h-1.4zM649.8 571.8h1.4v1.8h-1.4zM728.6 568.7h1.4v1.8h-1.4zM643.7 576.4h1.4v1.8h-1.4zM640.3 560.7h1.4v1.8h-1.4zM669.0 562.7h1.4v1.8h-1.4zM666.1 577.0h1.4v1.8h-1.4zM736.3 572.6h1.4v1.8h-1.4zM706.1 558.6h1.4v1.8h-1.4zM710.3 567.9h1.4v1.8h-1.4zM627.1 566.3h1.4v1.8h-1.4zM567.0 576.2h1.4v1.8h-1.4zM635.8 552.4h1.4v1.8h-1.4zM595.7 576.5h1.4v1.8h-1.4zM584.3 558.2h1.4v1.8h-1.4zM603.9 576.9h1.4v1.8h-1.4zM597.3 563.8h1.4v1.8h-1.4zM626.3 567.3h1.4v1.8h-1.4zM650.3 572.9h1.4v1.8h-1.4zM692.4 553.9h1.4v1.8h-1.4zM725.6 576.1h1.4v1.8h-1.4zM679.6 570.3h1.4v1.8h-1.4zM583.7 552.0h1.4v1.8h-1.4zM571.9 558.6h1.4v1.8h-1.4zM673.9 558.8h1.4v1.8h-1.4zM715.4 574.8h1.4v1.8h-1.4zM583.9 555.9h1.4v1.8h-1.4zM727.5 557.2h1.4v1.8h-1.4z" fill="#00ff00"/><path d="M633.4 559.6h1.4v1.8h-1.4zM686.2 560.1h1.4v1.8h-1.4zM592.4 553.8h1.4v1.8h-1.4zM570.1 575.3h1.4v1.8h-1.4zM633.9 575.5h1.4v1.8h-1.4zM715.7 574.7h1.4v1.8h-1.4zM668.1 552.3h1.4v1.8h-1.4zM620.7 566.7h1.4v1.8h-1.4zM736.5 560.8h1.4v1.8h-1.4zM712.6 576.6h1.4v1.8h-1.4zM620.1 574.4h1.4v1.8h-1.4zM598.1 551.4h1.4v1.8h-1.4zM730.2 577.3h1.4v1.8h-1.4zM705.4 569.3h1.4v1.8h-1.4zM679.6 556.9h1.4v1.8h-1.4zM571.9 550.2h1.4v1.8h-1.4zM582.3 570.4h1.4v1.8h-1.4zM579.9 555.5h1.4v1.8h-1.4zM562.9 567.3h1.4v1.8h-1.4zM700.2 565.1h1.4v1.8h-1.4zM607.3 570.3h1.4v1.8h-1.4zM636.6 551.7h1.4v1.8h-1.4zM579.1 561.3h1.4v1.8h-1.4zM603.9 561.9h1.4v1.8h-1.4zM623.0 576.5h1.4v1.8h-1.4zM643.8 567.1h1.4v1.8h-1.4zM701.5 568.7h1.4v1.8h-1.4zM595.3 555.7h1.4v1.8h-1.4zM674.2 572.2h1.4v1.8h-1.4zM663.1 564.2h1.4v1.8h-1.4zM716.0 562.5h1.4v1.8h-1.4zM643.7 570.2h1.4v1.8h-1.4zM701.7 569.9h1.4v1.8h-1.4zM600.4 577.5h1.4v1.8h-1.4zM709.6 561.3h1.4v1.8h-1.4zM668.5 561.3h1.4v1.8h-1.4zM577.2 564.6h1.4v1.8h-1.4zM691.0 552.0h1.4v1.8h-1.4zM658.5 565.8h1.4v1.8h-1.4zM722.5 574.0h1.4v1.8h-1.4zM565.1 554.2h1.4v1.8h-1.4zM709.0 567.5h1.4v1.8h-1.4zM589.3 577.1h1.4v1.8h-1.4zM614.8 556.9h1.4v1.8h-1.4zM604.3 566.8h1.4v1.8h-1.4zM717.3 555.5h1.4v1.8h-1.4zM580.9 568.5h1.4v1.8h-1.4zM560.9 550.2h1.4v1.8h-1.4zM659.7 554.4h1.4v1.8h-1.4zM610.6 565.8h1.4v1.8h-1.4zM559.6 566.5h1.4v1.8h-1.4zM618.3 565.3h1.4v1.8h-1.4zM727.9 565.5h1.4v1.8h-1.4zM660.8 573.7h1.4v1.8h-1.4zM655.5 556.4h1.4v1.8h-1.4zM597.7 551.9h1.4v1.8h-1.4zM594.3 575.6h1.4v1.8h-1.4zM726.4 562.1h1.4v1.8h-1.4zM573.1 565.6h1.4v1.8h-1.4zM690.3 574.8h1.4v1.8h-1.4zM561.0 556.5h1.4v1.8h-1.4zM676.3 556.6h1.4v1.8h-1.4zM692.4 553.7h1.4v1.8h-1.4zM709.2 555.7h1.4v1.8h-1.4zM603.9 574.4h1.4v1.8h-1.4zM638.2 567.3h1.4v1.8h-1.4zM651.2 571.9h1.4v1.8h-1.4zM626.4 565.4h1.4v1.8h-1.4zM705.9 553.9h1.4v1.8h-1.4zM731.3 553.0h1.4v1.8h-1.4zM711.4 573.1h1.4v1.8h-1.4zM628.0 549.8h1.4v1.8h-1.4zM732.6 572.6h1.4v1.8h-1.4zM574.9 561.7h1.4v1.8h-1.4zM736.8 572.6h1.4v1.8h-1.4zM623.3 552.8h1.4v1.8h-1.4zM720.0 560.4h1.4v1.8h-1.4zM723.1 566.9h1.4v1.8h-1.4zM579.3 554.9h1.4v1.8h-1.4zM670.7 559.2h1.4v1.8h-1.4zM562.7 561.9h1.4v1.8h-1.4zM680.4 563.3h1.4v1.8h-1.4zM608.4 565.7h1.4v1.8h-1.4zM673.2 556.2h1.4v1.8h-1.4zM691.6 563.3h1.4v1.8h-1.4zM650.4 569.7h1.4v1.8h-1.4zM594.9 565.5h1.4v1.8h-1.4zM688.7 550.9h1.4v1.8h-1.4zM730.3 576.4h1.4v1.8h-1.4zM628.2 549.3h1.4v1.8h-1.4z" fill="#40ff40"/><path d="M650.1 573.7h1.4v1.8h-1.4zM739.9 577.5h1.4v1.8h-1.4zM604.4 576.8h1.4v1.8h-1.4zM703.2 567.0h1.4v1.8h-1.4zM581.7 568.8h1.4v1.8h-1.4zM701.2 565.9h1.4v1.8h-1.4zM686.1 553.4h1.4v1.8h-1.4zM726.5 563.3h1.4v1.8h-1.4zM595.6 560.4h1.4v1.8h-1.4zM612.0 575.2h1.4v1.8h-1.4zM595.2 572.8h1.4v1.8h-1.4zM729.7 574.3h1.4v1.8h-1.4zM716.3 553.9h1.4v1.8h-1.4zM646.4 574.8h1.4v1.8h-1.4zM631.4 551.1h1.4v1.8h-1.4zM610.7 569.7h1.4v1.8h-1.4zM725.7 555.2h1.4v1.8h-1.4zM719.4 570.7h1.4v1.8h-1.4zM561.1 576.8h1.4v1.8h-1.4zM712.2 565.3h1.4v1.8h-1.4zM592.7 575.8h1.4v1.8h-1.4zM706.2 573.8h1.4v1.8h-1.4zM600.5 571.9h1.4v1.8h-1.4zM697.7 560.6h1.4v1.8h-1.4zM734.0 567.6h1.4v1.8h-1.4zM618.0 553.4h1.4v1.8h-1.4zM670.5 566.8h1.4v1.8h-1.4zM632.5 572.5h1.4v1.8h-1.4zM654.2 577.2h1.4v1.8h-1.4zM608.3 560.4h1.4v1.8h-1.4zM563.6 559.4h1.4v1.8h-1.4zM588.0 576.5h1.4v1.8h-1.4zM591.9 557.3h1.4v1.8h-1.4zM598.8 552.5h1.4v1.8h-1.4zM731.8 574.1h1.4v1.8h-1.4zM644.3 554.7h1.4v1.8h-1.4zM694.5 557.3h1.4v1.8h-1.4zM633.6 574.7h1.4v1.8h-1.4zM699.0 562.5h1.4v1.8h-1.4zM584.0 551.9h1.4v1.8h-1.4zM559.5 549.2h1.4v1.8h-1.4zM729.9 568.2h1.4v1.8h-1.4zM697.8 570.8h1.4v1.8h-1.4zM591.6 569.9h1.4v1.8h-1.4zM560.7 552.6h1.4v1.8h-1.4zM660.6 561.0h1.4v1.8h-1.4zM647.7 549.3h1.4v1.8h-1.4zM571.4 557.0h1.4v1.8h-1.4zM664.9 551.9h1.4v1.8h-1.4zM732.4 576.5h1.4v1.8h-1.4zM595.0 574.2h1.4v1.8h-1.4zM667.8 570.1h1.4v1.8h-1.4zM604.0 562.0h1.4v1.8h-1.4zM711.3 558.0h1.4v1.8h-1.4zM736.6 574.4h1.4v1.8h-1.4zM717.0 568.0h1.4v1.8h-1.4zM730.3 552.3h1.4v1.8h-1.4zM649.4 571.3h1.4v1.8h-1.4zM567.7 576.3h1.4v1.8h-1.4zM680.0 566.2h1.4v1.8h-1.4zM611.4 569.5h1.4v1.8h-1.4zM570.0 572.3h1.4v1.8h-1.4zM689.1 553.0h1.4v1.8h-1.4zM713.7 567.4h1.4v1.8h-1.4zM693.7 566.2h1.4v1.8h-1.4zM638.5 576.3h1.4v1.8h-1.4zM720.0 570.5h1.4v1.8h-1.4zM623.3 555.9h1.4v1.8h-1.4zM726.4 556.7h1.4v1.8h-1.4zM604.9 560.4h1.4v1.8h-1.4zM617.0 567.3h1.4v1.8h-1.4zM561.8 569.3h1.4v1.8h-1.4zM624.0 563.9h1.4v1.8h-1.4zM591.2 554.0h1.4v1.8h-1.4zM594.6 577.6h1.4v1.8h-1.4zM635.1 549.6h1.4v1.8h-1.4zM623.3 563.2h1.4v1.8h-1.4zM700.0 554.4h1.4v1.8h-1.4zM725.9 566.2h1.4v1.8h-1.4zM626.4 554.7h1.4v1.8h-1.4z" fill="#ffffff"/><path d="M653.0 556.2h1.5v1.6h-1.5zM712.6 556.4h1.5v1.6h-1.5zM635.6 577.5h1.5v1.6h-1.5zM705.5 564.9h1.5v1.6h-1.5zM634.2 558.9h1.5v1.6h-1.5zM691.3 565.9h1.5v1.6h-1.5zM573.6 576.2h1.5v1.6h-1.5zM717.9 569.9h1.5v1.6h-1.5zM620.4 562.2h1.5v1.6h-1.5zM677.8 559.8h1.5v1.6h-1.5zM577.7 567.1h1.5v1.6h-1.5zM685.1 572.5h1.5v1.6h-1.5zM609.3 559.7h1.5v1.6h-1.5zM658.5 572.8h1.5v1.6h-1.5zM727.4 574.4h1.5v1.6h-1.5zM701.6 557.6h1.5v1.6h-1.5zM563.7 568.2h1.5v1.6h-1.5zM673.7 563.6h1.5v1.6h-1.5zM592.4 572.2h1.5v1.6h-1.5zM672.9 577.3h1.5v1.6h-1.5zM635.0 576.7h1.5v1.6h-1.5zM703.2 570.8h1.5v1.6h-1.5zM674.4 569.9h1.5v1.6h-1.5zM609.3 564.9h1.5v1.6h-1.5zM606.1 576.2h1.5v1.6h-1.5zM688.9 574.1h1.5v1.6h-1.5zM635.4 565.9h1.5v1.6h-1.5zM670.4 574.3h1.5v1.6h-1.5zM702.9 560.5h1.5v1.6h-1.5zM568.5 570.3h1.5v1.6h-1.5zM584.8 567.8h1.5v1.6h-1.5zM739.0 558.8h1.5v1.6h-1.5zM696.3 560.5h1.5v1.6h-1.5zM636.4 556.0h1.5v1.6h-1.5zM737.6 558.4h1.5v1.6h-1.5zM645.3 565.1h1.5v1.6h-1.5zM651.1 559.8h1.5v1.6h-1.5zM637.5 559.4h1.5v1.6h-1.5zM692.6 563.7h1.5v1.6h-1.5zM687.1 574.4h1.5v1.6h-1.5zM602.7 572.7h1.5v1.6h-1.5zM588.5 574.8h1.5v1.6h-1.5zM633.8 567.4h1.5v1.6h-1.5zM668.2 558.4h1.5v1.6h-1.5zM671.1 561.6h1.5v1.6h-1.5zM724.0 568.9h1.5v1.6h-1.5zM606.8 557.2h1.5v1.6h-1.5zM716.4 562.8h1.5v1.6h-1.5zM686.9 564.3h1.5v1.6h-1.5zM668.9 563.7h1.5v1.6h-1.5zM584.5 565.7h1.5v1.6h-1.5zM739.4 570.7h1.5v1.6h-1.5zM654.5 576.9h1.5v1.6h-1.5zM622.4 566.4h1.5v1.6h-1.5zM697.4 570.1h1.5v1.6h-1.5zM620.1 561.2h1.5v1.6h-1.5zM660.6 564.2h1.5v1.6h-1.5zM647.8 558.0h1.5v1.6h-1.5zM671.8 570.1h1.5v1.6h-1.5zM645.1 558.4h1.5v1.6h-1.5zM600.5 558.8h1.5v1.6h-1.5zM651.4 576.1h1.5v1.6h-1.5zM630.0 567.1h1.5v1.6h-1.5zM612.0 567.8h1.5v1.6h-1.5zM637.7 563.1h1.5v1.6h-1.5zM583.5 575.9h1.5v1.6h-1.5zM723.2 561.5h1.5v1.6h-1.5zM614.3 560.4h1.5v1.6h-1.5zM679.1 558.3h1.5v1.6h-1.5zM686.0 563.0h1.5v1.6h-1.5zM587.6 563.0h1.5v1.6h-1.5zM683.1 575.3h1.5v1.6h-1.5zM718.8 566.8h1.5v1.6h-1.5zM635.1 557.6h1.5v1.6h-1.5zM566.8 574.2h1.5v1.6h-1.5zM732.9 561.8h1.5v1.6h-1.5zM600.9 574.1h1.5v1.6h-1.5zM585.1 560.9h1.5v1.6h-1.5zM723.4 571.0h1.5v1.6h-1.5zM586.6 556.6h1.5v1.6h-1.5zM723.7 571.4h1.5v1.6h-1.5zM706.9 567.7h1.5v1.6h-1.5zM582.6 575.1h1.5v1.6h-1.5zM596.6 563.4h1.5v1.6h-1.5zM671.3 568.6h1.5v1.6h-1.5zM712.7 565.4h1.5v1.6h-1.5zM668.9 573.4h1.5v1.6h-1.5zM686.1 567.3h1.5v1.6h-1.5zM719.4 566.7h1.5v1.6h-1.5zM587.1 576.1h1.5v1.6h-1.5zM691.8 565.2h1.5v1.6h-1.5zM569.9 576.7h1.5v1.6h-1.5zM605.1 572.0h1.5v1.6h-1.5zM632.8 569.4h1.5v1.6h-1.5zM622.9 569.2h1.5v1.6h-1.5zM645.2 565.2h1.5v1.6h-1.5zM559.5 567.9h1.5v1.6h-1.5zM581.4 559.9h1.5v1.6h-1.5zM579.7 572.3h1.5v1.6h-1.5zM709.6 570.1h1.5v1.6h-1.5zM609.3 576.4h1.5v1.6h-1.5zM732.7 570.7h1.5v1.6h-1.5zM613.1 562.4h1.5v1.6h-1.5zM721.7 573.4h1.5v1.6h-1.5zM699.6 569.7h1.5v1.6h-1.5zM561.6 570.0h1.5v1.6h-1.5zM621.8 560.4h1.5v1.6h-1.5zM669.6 566.8h1.5v1.6h-1.5zM700.8 556.7h1.5v1.6h-1.5zM726.3 569.1h1.5v1.6h-1.5zM639.9 569.1h1.5v1.6h-1.5zM664.8 568.7h1.5v1.6h-1.5zM670.6 573.0h1.5v1.6h-1.5zM672.2 559.8h1.5v1.6h-1.5zM682.2 564.1h1.5v1.6h-1.5zM723.6 565.3h1.5v1.6h-1.5zM666.9 566.1h1.5v1.6h-1.5zM619.4 568.7h1.5v1.6h-1.5zM633.9 558.4h1.5v1.6h-1.5zM589.0 574.1h1.5v1.6h-1.5zM569.3 561.6h1.5v1.6h-1.5zM602.5 575.5h1.5v1.6h-1.5zM669.3 564.2h1.5v1.6h-1.5zM721.0 571.8h1.5v1.6h-1.5zM719.8 573.7h1.5v1.6h-1.5zM672.8 576.9h1.5v1.6h-1.5zM612.6 556.6h1.5v1.6h-1.5zM631.3 556.5h1.5v1.6h-1.5zM701.0 566.6h1.5v1.6h-1.5zM610.5 567.4h1.5v1.6h-1.5zM739.3 567.1h1.5v1.6h-1.5zM585.4 567.7h1.5v1.6h-1.5zM602.8 567.8h1.5v1.6h-1.5zM581.5 572.1h1.5v1.6h-1.5zM630.4 567.4h1.5v1.6h-1.5zM686.4 558.4h1.5v1.6h-1.5zM648.0 566.4h1.5v1.6h-1.5zM612.7 574.1h1.5v1.6h-1.5zM730.6 574.7h1.5v1.6h-1.5zM650.2 562.6h1.5v1.6h-1.5zM559.1 556.8h1.5v1.6h-1.5zM736.4 556.9h1.5v1.6h-1.5zM582.6 556.5h1.5v1.6h-1.5zM560.6 566.3h1.5v1.6h-1.5zM629.8 559.6h1.5v1.6h-1.5zM720.1 574.1h1.5v1.6h-1.5zM563.3 556.4h1.5v1.6h-1.5zM649.9 569.1h1.5v1.6h-1.5zM608.3 573.9h1.5v1.6h-1.5zM566.5 567.8h1.5v1.6h-1.5zM609.1 575.6h1.5v1.6h-1.5zM668.4 576.2h1.5v1.6h-1.5zM715.5 562.8h1.5v1.6h-1.5zM565.8 557.8h1.5v1.6h-1.5zM681.9 562.7h1.5v1.6h-1.5zM582.2 576.8h1.5v1.6h-1.5zM648.7 561.0h1.5v1.6h-1.5zM679.6 561.1h1.5v1.6h-1.5zM577.4 567.4h1.5v1.6h-1.5zM618.4 565.3h1.5v1.6h-1.5zM721.1 572.1h1.5v1.6h-1.5zM645.0 572.2h1.5v1.6h-1.5zM657.8 568.8h1.5v1.6h-1.5zM616.0 573.3h1.5v1.6h-1.5zM641.2 567.2h1.5v1.6h-1.5zM681.0 565.2h1.5v1.6h-1.5zM667.2 557.3h1.5v1.6h-1.5zM709.5 560.4h1.5v1.6h-1.5zM580.4 568.6h1.5v1.6h-1.5zM692.0 571.6h1.5v1.6h-1.5zM560.0 572.7h1.5v1.6h-1.5zM734.6 567.6h1.5v1.6h-1.5zM627.2 561.9h1.5v1.6h-1.5zM569.8 575.6h1.5v1.6h-1.5zM652.3 561.5h1.5v1.6h-1.5zM692.8 572.4h1.5v1.6h-1.5zM599.8 577.2h1.5v1.6h-1.5zM739.6 571.1h1.5v1.6h-1.5zM733.8 558.2h1.5v1.6h-1.5zM605.2 563.7h1.5v1.6h-1.5zM601.8 556.3h1.5v1.6h-1.5zM638.4 560.3h1.5v1.6h-1.5zM724.9 566.3h1.5v1.6h-1.5zM601.7 556.4h1.5v1.6h-1.5zM583.5 559.0h1.5v1.6h-1.5zM655.9 567.6h1.5v1.6h-1.5zM724.4 568.7h1.5v1.6h-1.5zM579.5 556.7h1.5v1.6h-1.5zM722.2 565.9h1.5v1.6h-1.5zM695.4 566.1h1.5v1.6h-1.5zM641.1 577.4h1.5v1.6h-1.5zM600.8 571.6h1.5v1.6h-1.5zM597.4 557.2h1.5v1.6h-1.5zM672.9 558.6h1.5v1.6h-1.5zM697.9 577.4h1.5v1.6h-1.5zM655.2 569.7h1.5v1.6h-1.5zM665.8 575.5h1.5v1.6h-1.5zM627.2 562.7h1.5v1.6h-1.5zM557.2 560.2h1.5v1.6h-1.5zM593.5 576.6h1.5v1.6h-1.5zM621.2 569.4h1.5v1.6h-1.5zM671.8 559.6h1.5v1.6h-1.5zM602.3 570.7h1.5v1.6h-1.5zM656.0 562.4h1.5v1.6h-1.5zM738.5 563.7h1.5v1.6h-1.5zM588.0 571.3h1.5v1.6h-1.5zM653.4 569.9h1.5v1.6h-1.5zM682.2 572.3h1.5v1.6h-1.5zM638.8 571.3h1.5v1.6h-1.5zM635.6 565.2h1.5v1.6h-1.5zM645.2 573.8h1.5v1.6h-1.5zM578.7 568.7h1.5v1.6h-1.5zM676.9 571.2h1.5v1.6h-1.5zM669.1 569.8h1.5v1.6h-1.5zM647.8 564.9h1.5v1.6h-1.5zM659.5 556.6h1.5v1.6h-1.5zM592.1 562.1h1.5v1.6h-1.5zM599.2 564.7h1.5v1.6h-1.5zM702.9 568.2h1.5v1.6h-1.5zM600.7 562.0h1.5v1.6h-1.5zM564.1 568.2h1.5v1.6h-1.5zM570.0 576.9h1.5v1.6h-1.5zM639.6 574.8h1.5v1.6h-1.5zM588.5 556.2h1.5v1.6h-1.5zM739.2 568.6h1.5v1.6h-1.5zM591.4 568.8h1.5v1.6h-1.5zM673.6 566.6h1.5v1.6h-1.5zM612.4 571.2h1.5v1.6h-1.5zM581.7 573.0h1.5v1.6h-1.5zM633.7 576.0h1.5v1.6h-1.5zM725.9 570.6h1.5v1.6h-1.5zM633.3 568.0h1.5v1.6h-1.5zM609.6 570.5h1.5v1.6h-1.5zM588.1 560.3h1.5v1.6h-1.5zM725.4 575.1h1.5v1.6h-1.5zM599.7 570.2h1.5v1.6h-1.5zM721.0 571.9h1.5v1.6h-1.5zM600.8 556.7h1.5v1.6h-1.5zM736.8 569.4h1.5v1.6h-1.5zM612.6 566.0h1.5v1.6h-1.5zM717.1 571.9h1.5v1.6h-1.5zM599.5 560.6h1.5v1.6h-1.5zM596.2 559.7h1.5v1.6h-1.5zM737.9 559.8h1.5v1.6h-1.5zM598.2 575.1h1.5v1.6h-1.5zM732.2 566.9h1.5v1.6h-1.5zM655.8 574.8h1.5v1.6h-1.5zM630.4 577.2h1.5v1.6h-1.5zM581.3 563.5h1.5v1.6h-1.5zM622.7 564.2h1.5v1.6h-1.5zM597.3 565.5h1.5v1.6h-1.5zM629.2 562.5h1.5v1.6h-1.5zM580.6 571.5h1.5v1.6h-1.5zM673.3 563.6h1.5v1.6h-1.5zM725.9 571.7h1.5v1.6h-1.5zM620.8 563.8h1.5v1.6h-1.5zM584.7 565.2h1.5v1.6h-1.5zM723.7 556.9h1.5v1.6h-1.5zM701.9 560.8h1.5v1.6h-1.5zM623.7 571.2h1.5v1.6h-1.5zM622.6 556.3h1.5v1.6h-1.5zM712.0 557.5h1.5v1.6h-1.5zM607.7 577.0h1.5v1.6h-1.5zM567.7 569.2h1.5v1.6h-1.5zM627.5 558.8h1.5v1.6h-1.5zM707.4 564.7h1.5v1.6h-1.5zM589.6 563.5h1.5v1.6h-1.5zM616.4 562.1h1.5v1.6h-1.5zM626.9 574.3h1.5v1.6h-1.5zM629.8 557.6h1.5v1.6h-1.5zM704.4 557.5h1.5v1.6h-1.5zM622.1 562.7h1.5v1.6h-1.5zM575.7 556.1h1.5v1.6h-1.5zM603.6 566.0h1.5v1.6h-1.5zM637.8 557.5h1.5v1.6h-1.5zM714.1 562.7h1.5v1.6h-1.5zM716.3 568.1h1.5v1.6h-1.5zM666.1 576.5h1.5v1.6h-1.5zM709.3 576.9h1.5v1.6h-1.5zM581.6 557.7h1.5v1.6h-1.5zM737.5 566.2h1.5v1.6h-1.5zM671.7 567.5h1.5v1.6h-1.5zM638.8 574.2h1.5v1.6h-1.5zM667.9 558.1h1.5v1.6h-1.5zM574.4 567.3h1.5v1.6h-1.5zM681.6 559.0h1.5v1.6h-1.5zM661.7 564.1h1.5v1.6h-1.5zM644.5 566.4h1.5v1.6h-1.5zM595.1 570.6h1.5v1.6h-1.5zM719.2 573.7h1.5v1.6h-1.5zM581.1 564.0h1.5v1.6h-1.5zM600.4 567.8h1.5v1.6h-1.5zM607.6 564.3h1.5v1.6h-1.5zM600.2 559.9h1.5v1.6h-1.5zM634.5 564.8h1.5v1.6h-1.5zM672.5 558.6h1.5v1.6h-1.5zM643.9 558.8h1.5v1.6h-1.5zM618.2 563.7h1.5v1.6h-1.5zM619.1 570.9h1.5v1.6h-1.5zM642.0 570.2h1.5v1.6h-1.5zM650.7 557.4h1.5v1.6h-1.5zM560.1 561.2h1.5v1.6h-1.5zM667.3 560.5h1.5v1.6h-1.5zM713.4 564.6h1.5v1.6h-1.5zM725.7 564.8h1.5v1.6h-1.5zM596.1 568.0h1.5v1.6h-1.5zM697.0 566.4h1.5v1.6h-1.5zM647.2 572.6h1.5v1.6h-1.5zM679.1 567.8h1.5v1.6h-1.5zM724.9 563.7h1.5v1.6h-1.5zM645.9 574.3h1.5v1.6h-1.5zM616.5 561.7h1.5v1.6h-1.5zM718.1 577.5h1.5v1.6h-1.5zM631.1 567.6h1.5v1.6h-1.5zM682.0 562.1h1.5v1.6h-1.5zM567.1 576.9h1.5v1.6h-1.5zM594.7 569.9h1.5v1.6h-1.5zM723.2 564.0h1.5v1.6h-1.5zM614.9 574.3h1.5v1.6h-1.5zM654.3 576.7h1.5v1.6h-1.5zM619.1 556.4h1.5v1.6h-1.5zM660.1 574.4h1.5v1.6h-1.5zM676.9 572.9h1.5v1.6h-1.5zM577.7 556.3h1.5v1.6h-1.5zM661.3 559.1h1.5v1.6h-1.5zM669.3 566.5h1.5v1.6h-1.5zM581.1 556.0h1.5v1.6h-1.5zM737.8 566.7h1.5v1.6h-1.5zM677.3 569.4h1.5v1.6h-1.5zM574.2 560.2h1.5v1.6h-1.5zM568.5 557.1h1.5v1.6h-1.5zM614.7 569.7h1.5v1.6h-1.5zM712.6 560.8h1.5v1.6h-1.5zM577.3 570.1h1.5v1.6h-1.5zM740.0 569.8h1.5v1.6h-1.5zM666.6 574.4h1.5v1.6h-1.5zM716.6 563.5h1.5v1.6h-1.5zM665.6 573.7h1.5v1.6h-1.5zM693.8 573.9h1.5v1.6h-1.5zM597.4 556.6h1.5v1.6h-1.5zM714.7 558.8h1.5v1.6h-1.5zM645.5 568.9h1.5v1.6h-1.5zM591.5 563.1h1.5v1.6h-1.5zM715.2 575.1h1.5v1.6h-1.5zM629.9 563.6h1.5v1.6h-1.5zM564.2 562.8h1.5v1.6h-1.5zM717.7 574.4h1.5v1.6h-1.5zM617.1 561.7h1.5v1.6h-1.5zM592.6 570.8h1.5v1.6h-1.5zM691.5 557.6h1.5v1.6h-1.5zM708.3 566.3h1.5v1.6h-1.5zM662.4 568.8h1.5v1.6h-1.5zM659.7 569.3h1.5v1.6h-1.5zM578.3 563.5h1.5v1.6h-1.5zM692.7 562.6h1.5v1.6h-1.5zM669.8 571.7h1.5v1.6h-1.5zM687.1 576.5h1.5v1.6h-1.5zM644.6 556.1h1.5v1.6h-1.5zM564.7 565.5h1.5v1.6h-1.5zM576.6 559.1h1.5v1.6h-1.5zM568.1 574.5h1.5v1.6h-1.5zM588.1 568.3h1.5v1.6h-1.5zM624.3 557.8h1.5v1.6h-1.5zM603.1 576.8h1.5v1.6h-1.5zM590.1 563.1h1.5v1.6h-1.5zM704.5 574.9h1.5v1.6h-1.5zM691.0 560.3h1.5v1.6h-1.5zM712.4 569.5h1.5v1.6h-1.5zM566.7 569.3h1.5v1.6h-1.5zM711.8 558.1h1.5v1.6h-1.5zM608.1 572.1h1.5v1.6h-1.5zM666.3 565.7h1.5v1.6h-1.5zM735.6 557.8h1.5v1.6h-1.5zM717.7 558.1h1.5v1.6h-1.5zM618.5 558.5h1.5v1.6h-1.5zM645.5 563.2h1.5v1.6h-1.5zM666.9 565.9h1.5v1.6h-1.5zM618.6 558.2h1.5v1.6h-1.5zM564.1 575.9h1.5v1.6h-1.5zM667.8 559.7h1.5v1.6h-1.5zM716.7 560.6h1.5v1.6h-1.5zM605.4 565.3h1.5v1.6h-1.5zM679.7 562.3h1.5v1.6h-1.5zM701.5 558.9h1.5v1.6h-1.5zM589.0 559.9h1.5v1.6h-1.5zM570.9 569.0h1.5v1.6h-1.5zM707.8 561.0h1.5v1.6h-1.5zM718.3 558.0h1.5v1.6h-1.5zM583.6 565.5h1.5v1.6h-1.5zM641.1 565.8h1.5v1.6h-1.5zM706.7 566.0h1.5v1.6h-1.5zM726.7 561.7h1.5v1.6h-1.5zM739.7 563.6h1.5v1.6h-1.5zM655.5 572.7h1.5v1.6h-1.5zM635.0 569.5h1.5v1.6h-1.5zM734.2 569.7h1.5v1.6h-1.5zM671.3 567.0h1.5v1.6h-1.5zM572.3 576.7h1.5v1.6h-1.5zM560.1 568.5h1.5v1.6h-1.5zM714.6 558.0h1.5v1.6h-1.5zM650.5 566.9h1.5v1.6h-1.5zM586.7 558.5h1.5v1.6h-1.5zM633.3 566.9h1.5v1.6h-1.5zM735.4 576.9h1.5v1.6h-1.5zM610.0 566.3h1.5v1.6h-1.5zM659.2 567.5h1.5v1.6h-1.5zM564.7 571.7h1.5v1.6h-1.5zM673.2 564.7h1.5v1.6h-1.5zM706.0 556.8h1.5v1.6h-1.5zM712.6 559.6h1.5v1.6h-1.5zM718.2 570.6h1.5v1.6h-1.5zM623.9 564.3h1.5v1.6h-1.5zM565.2 562.5h1.5v1.6h-1.5zM689.3 567.0h1.5v1.6h-1.5zM565.2 558.9h1.5v1.6h-1.5zM559.9 560.0h1.5v1.6h-1.5zM711.5 556.2h1.5v1.6h-1.5zM727.2 560.3h1.5v1.6h-1.5zM582.5 577.6h1.5v1.6h-1.5zM637.8 575.8h1.5v1.6h-1.5zM707.1 573.4h1.5v1.6h-1.5zM585.0 573.9h1.5v1.6h-1.5zM629.0 561.9h1.5v1.6h-1.5zM562.5 565.9h1.5v1.6h-1.5zM612.6 577.0h1.5v1.6h-1.5zM604.6 558.2h1.5v1.6h-1.5zM572.8 565.0h1.5v1.6h-1.5zM694.7 577.4h1.5v1.6h-1.5zM584.8 577.6h1.5v1.6h-1.5zM685.9 570.2h1.5v1.6h-1.5zM659.9 562.7h1.5v1.6h-1.5zM715.5 565.9h1.5v1.6h-1.5zM725.9 561.3h1.5v1.6h-1.5zM635.5 565.0h1.5v1.6h-1.5zM576.8 559.2h1.5v1.6h-1.5zM602.0 568.6h1.5v1.6h-1.5zM702.9 568.3h1.5v1.6h-1.5zM725.1 575.6h1.5v1.6h-1.5zM681.8 572.0h1.5v1.6h-1.5zM679.1 576.1h1.5v1.6h-1.5zM611.5 576.2h1.5v1.6h-1.5zM638.0 560.6h1.5v1.6h-1.5zM584.1 556.2h1.5v1.6h-1.5zM650.3 566.1h1.5v1.6h-1.5zM736.9 566.2h1.5v1.6h-1.5zM639.0 557.0h1.5v1.6h-1.5zM586.0 562.3h1.5v1.6h-1.5zM625.7 574.2h1.5v1.6h-1.5zM663.9 567.8h1.5v1.6h-1.5zM622.2 577.3h1.5v1.6h-1.5zM711.6 559.1h1.5v1.6h-1.5zM723.2 558.2h1.5v1.6h-1.5zM723.9 564.2h1.5v1.6h-1.5zM570.9 572.3h1.5v1.6h-1.5zM628.5 574.4h1.5v1.6h-1.5zM584.7 576.2h1.5v1.6h-1.5zM690.0 556.5h1.5v1.6h-1.5zM646.0 562.4h1.5v1.6h-1.5zM613.1 576.5h1.5v1.6h-1.5zM694.8 562.7h1.5v1.6h-1.5zM683.7 563.0h1.5v1.6h-1.5zM692.6 568.2h1.5v1.6h-1.5zM666.8 560.3h1.5v1.6h-1.5zM731.0 560.3h1.5v1.6h-1.5zM688.6 577.6h1.5v1.6h-1.5zM627.2 557.1h1.5v1.6h-1.5zM634.0 574.7h1.5v1.6h-1.5zM638.2 567.7h1.5v1.6h-1.5zM656.5 562.5h1.5v1.6h-1.5zM706.0 566.9h1.5v1.6h-1.5zM657.8 563.7h1.5v1.6h-1.5zM680.4 565.0h1.5v1.6h-1.5zM562.4 577.1h1.5v1.6h-1.5zM676.0 563.3h1.5v1.6h-1.5zM566.4 560.9h1.5v1.6h-1.5zM679.7 559.3h1.5v1.6h-1.5zM611.4 573.0h1.5v1.6h-1.5zM595.0 557.0h1.5v1.6h-1.5zM609.9 560.1h1.5v1.6h-1.5zM728.7 558.8h1.5v1.6h-1.5zM573.3 567.1h1.5v1.6h-1.5zM599.9 561.2h1.5v1.6h-1.5zM605.2 571.1h1.5v1.6h-1.5zM722.8 563.6h1.5v1.6h-1.5zM669.8 572.7h1.5v1.6h-1.5zM582.1 570.9h1.5v1.6h-1.5zM652.5 569.4h1.5v1.6h-1.5zM591.5 566.8h1.5v1.6h-1.5zM621.9 564.4h1.5v1.6h-1.5zM610.5 565.9h1.5v1.6h-1.5zM587.3 556.4h1.5v1.6h-1.5zM710.2 567.0h1.5v1.6h-1.5zM720.6 561.7h1.5v1.6h-1.5zM604.3 569.8h1.5v1.6h-1.5zM649.4 565.4h1.5v1.6h-1.5zM701.0 563.1h1.5v1.6h-1.5zM713.8 576.4h1.5v1.6h-1.5zM660.9 556.6h1.5v1.6h-1.5zM728.2 565.8h1.5v1.6h-1.5zM720.5 567.4h1.5v1.6h-1.5zM705.2 571.2h1.5v1.6h-1.5zM702.8 565.3h1.5v1.6h-1.5zM727.0 567.3h1.5v1.6h-1.5zM559.3 575.3h1.5v1.6h-1.5zM566.3 574.7h1.5v1.6h-1.5zM676.3 561.7h1.5v1.6h-1.5zM724.4 564.5h1.5v1.6h-1.5zM721.1 577.5h1.5v1.6h-1.5zM607.0 575.3h1.5v1.6h-1.5zM610.3 563.5h1.5v1.6h-1.5zM680.7 559.2h1.5v1.6h-1.5zM576.5 569.8h1.5v1.6h-1.5zM597.8 557.6h1.5v1.6h-1.5zM670.9 573.8h1.5v1.6h-1.5zM708.7 562.7h1.5v1.6h-1.5zM561.7 576.8h1.5v1.6h-1.5zM632.9 574.5h1.5v1.6h-1.5zM693.0 568.0h1.5v1.6h-1.5zM576.8 562.5h1.5v1.6h-1.5zM658.3 576.7h1.5v1.6h-1.5zM670.4 561.5h1.5v1.6h-1.5zM714.7 562.0h1.5v1.6h-1.5zM590.6 559.6h1.5v1.6h-1.5zM644.4 573.0h1.5v1.6h-1.5zM623.6 572.9h1.5v1.6h-1.5zM738.3 567.2h1.5v1.6h-1.5zM561.5 559.8h1.5v1.6h-1.5zM630.9 559.7h1.5v1.6h-1.5zM712.4 569.9h1.5v1.6h-1.5zM616.1 570.2h1.5v1.6h-1.5zM620.4 561.4h1.5v1.6h-1.5zM697.7 573.7h1.5v1.6h-1.5zM601.8 571.3h1.5v1.6h-1.5zM682.7 569.9h1.5v1.6h-1.5zM723.3 569.5h1.5v1.6h-1.5zM593.4 575.7h1.5v1.6h-1.5zM693.7 558.5h1.5v1.6h-1.5zM650.5 563.6h1.5v1.6h-1.5zM599.1 570.8h1.5v1.6h-1.5zM602.3 576.8h1.5v1.6h-1.5zM690.2 569.6h1.5v1.6h-1.5zM737.7 557.1h1.5v1.6h-1.5zM693.2 558.5h1.5v1.6h-1.5zM603.3 574.2h1.5v1.6h-1.5zM580.4 562.7h1.5v1.6h-1.5zM588.3 576.5h1.5v1.6h-1.5zM562.1 570.4h1.5v1.6h-1.5zM711.1 562.4h1.5v1.6h-1.5z" fill="#ffffff"/><path d="M599.7 569.9h1.5v1.6h-1.5zM619.0 571.1h1.5v1.6h-1.5zM570.3 564.0h1.5v1.6h-1.5zM627.2 573.6h1.5v1.6h-1.5zM575.5 570.2h1.5v1.6h-1.5zM625.2 571.5h1.5v1.6h-1.5zM572.7 569.1h1.5v1.6h-1.5zM701.4 562.7h1.5v1.6h-1.5zM720.9 562.8h1.5v1.6h-1.5zM722.9 556.9h1.5v1.6h-1.5zM639.3 559.2h1.5v1.6h-1.5zM561.5 569.5h1.5v1.6h-1.5zM610.6 566.5h1.5v1.6h-1.5zM667.9 576.3h1.5v1.6h-1.5zM631.7 574.4h1.5v1.6h-1.5zM572.2 558.4h1.5v1.6h-1.5zM737.1 570.9h1.5v1.6h-1.5zM624.2 567.4h1.5v1.6h-1.5zM649.1 556.2h1.5v1.6h-1.5zM557.9 562.6h1.5v1.6h-1.5zM651.8 560.2h1.5v1.6h-1.5zM613.0 560.1h1.5v1.6h-1.5zM679.4 569.6h1.5v1.6h-1.5zM587.8 574.7h1.5v1.6h-1.5zM719.7 564.8h1.5v1.6h-1.5zM652.3 557.7h1.5v1.6h-1.5zM573.2 574.8h1.5v1.6h-1.5zM735.6 567.8h1.5v1.6h-1.5zM705.1 568.9h1.5v1.6h-1.5zM734.5 567.7h1.5v1.6h-1.5zM608.7 556.6h1.5v1.6h-1.5zM724.8 562.1h1.5v1.6h-1.5zM692.1 571.1h1.5v1.6h-1.5zM624.8 572.1h1.5v1.6h-1.5zM737.6 570.2h1.5v1.6h-1.5zM591.8 566.6h1.5v1.6h-1.5zM571.4 565.6h1.5v1.6h-1.5zM676.7 564.1h1.5v1.6h-1.5zM672.4 564.4h1.5v1.6h-1.5zM678.5 577.2h1.5v1.6h-1.5zM708.7 573.0h1.5v1.6h-1.5zM568.5 572.1h1.5v1.6h-1.5zM588.9 567.8h1.5v1.6h-1.5zM734.7 569.6h1.5v1.6h-1.5zM629.3 572.0h1.5v1.6h-1.5zM585.0 571.4h1.5v1.6h-1.5zM587.8 565.5h1.5v1.6h-1.5zM696.0 566.1h1.5v1.6h-1.5zM690.6 560.7h1.5v1.6h-1.5zM609.0 562.6h1.5v1.6h-1.5zM597.0 561.4h1.5v1.6h-1.5zM628.7 570.7h1.5v1.6h-1.5zM649.7 575.4h1.5v1.6h-1.5zM695.3 570.4h1.5v1.6h-1.5zM622.9 568.2h1.5v1.6h-1.5zM577.4 558.5h1.5v1.6h-1.5zM567.0 556.6h1.5v1.6h-1.5zM682.3 565.9h1.5v1.6h-1.5zM661.7 561.3h1.5v1.6h-1.5zM567.3 563.9h1.5v1.6h-1.5zM569.8 560.8h1.5v1.6h-1.5zM715.4 568.6h1.5v1.6h-1.5zM698.3 571.4h1.5v1.6h-1.5zM676.0 566.3h1.5v1.6h-1.5zM663.2 559.4h1.5v1.6h-1.5zM633.9 570.7h1.5v1.6h-1.5zM600.0 566.9h1.5v1.6h-1.5zM688.1 568.2h1.5v1.6h-1.5zM646.4 569.8h1.5v1.6h-1.5zM698.3 560.6h1.5v1.6h-1.5zM732.4 562.5h1.5v1.6h-1.5zM679.5 559.8h1.5v1.6h-1.5zM727.3 564.5h1.5v1.6h-1.5zM677.4 573.0h1.5v1.6h-1.5zM665.2 568.6h1.5v1.6h-1.5zM697.1 571.7h1.5v1.6h-1.5zM666.3 556.7h1.5v1.6h-1.5zM676.6 566.7h1.5v1.6h-1.5zM595.1 566.3h1.5v1.6h-1.5zM617.8 564.1h1.5v1.6h-1.5zM578.2 558.3h1.5v1.6h-1.5zM599.1 563.3h1.5v1.6h-1.5zM629.8 559.0h1.5v1.6h-1.5zM616.3 562.3h1.5v1.6h-1.5zM657.4 570.8h1.5v1.6h-1.5zM576.3 557.1h1.5v1.6h-1.5zM726.0 558.9h1.5v1.6h-1.5zM595.6 556.7h1.5v1.6h-1.5zM720.4 559.4h1.5v1.6h-1.5zM604.1 565.2h1.5v1.6h-1.5zM674.1 569.3h1.5v1.6h-1.5zM662.9 571.5h1.5v1.6h-1.5zM669.8 566.3h1.5v1.6h-1.5zM735.3 567.0h1.5v1.6h-1.5zM675.5 570.2h1.5v1.6h-1.5zM667.2 575.1h1.5v1.6h-1.5zM561.2 570.7h1.5v1.6h-1.5zM606.8 558.6h1.5v1.6h-1.5zM712.6 571.1h1.5v1.6h-1.5zM635.6 562.5h1.5v1.6h-1.5zM571.0 556.3h1.5v1.6h-1.5zM604.4 565.8h1.5v1.6h-1.5zM591.4 576.2h1.5v1.6h-1.5zM585.9 566.1h1.5v1.6h-1.5zM619.7 572.0h1.5v1.6h-1.5zM626.4 577.0h1.5v1.6h-1.5zM731.4 576.6h1.5v1.6h-1.5zM657.7 569.8h1.5v1.6h-1.5zM664.9 568.1h1.5v1.6h-1.5zM622.7 570.4h1.5v1.6h-1.5zM578.3 562.3h1.5v1.6h-1.5zM705.2 566.2h1.5v1.6h-1.5zM717.0 575.0h1.5v1.6h-1.5zM704.3 577.3h1.5v1.6h-1.5zM724.2 576.9h1.5v1.6h-1.5zM707.3 572.2h1.5v1.6h-1.5zM600.4 567.1h1.5v1.6h-1.5zM614.6 570.7h1.5v1.6h-1.5zM626.8 556.1h1.5v1.6h-1.5zM577.3 556.0h1.5v1.6h-1.5zM724.3 558.8h1.5v1.6h-1.5zM616.5 565.1h1.5v1.6h-1.5zM653.0 561.2h1.5v1.6h-1.5zM594.4 570.3h1.5v1.6h-1.5zM704.4 570.5h1.5v1.6h-1.5zM734.0 571.1h1.5v1.6h-1.5zM710.2 574.7h1.5v1.6h-1.5zM609.8 564.6h1.5v1.6h-1.5zM560.3 572.4h1.5v1.6h-1.5zM715.7 558.7h1.5v1.6h-1.5zM657.3 561.7h1.5v1.6h-1.5zM629.7 575.4h1.5v1.6h-1.5zM593.1 560.3h1.5v1.6h-1.5zM630.3 557.1h1.5v1.6h-1.5zM643.6 568.8h1.5v1.6h-1.5zM658.0 559.1h1.5v1.6h-1.5zM620.3 571.4h1.5v1.6h-1.5zM637.7 565.0h1.5v1.6h-1.5zM713.1 557.4h1.5v1.6h-1.5zM673.8 569.9h1.5v1.6h-1.5zM633.3 570.0h1.5v1.6h-1.5zM685.6 563.4h1.5v1.6h-1.5zM715.9 559.7h1.5v1.6h-1.5zM732.1 572.0h1.5v1.6h-1.5zM618.4 563.2h1.5v1.6h-1.5zM606.5 559.7h1.5v1.6h-1.5zM632.6 558.7h1.5v1.6h-1.5zM565.8 556.0h1.5v1.6h-1.5zM599.1 570.2h1.5v1.6h-1.5zM710.4 576.1h1.5v1.6h-1.5zM620.6 559.3h1.5v1.6h-1.5zM624.4 558.3h1.5v1.6h-1.5zM695.5 561.7h1.5v1.6h-1.5zM668.9 566.1h1.5v1.6h-1.5zM678.7 573.2h1.5v1.6h-1.5zM650.2 577.2h1.5v1.6h-1.5zM621.7 572.0h1.5v1.6h-1.5zM570.6 576.8h1.5v1.6h-1.5z" fill="#c0ffff"/><path d="M637.5 566.2h1.5v1.6h-1.5zM644.0 568.6h1.5v1.6h-1.5zM588.0 573.7h1.5v1.6h-1.5zM637.5 559.8h1.5v1.6h-1.5zM739.5 558.6h1.5v1.6h-1.5zM728.7 564.5h1.5v1.6h-1.5zM561.8 557.8h1.5v1.6h-1.5zM562.1 568.3h1.5v1.6h-1.5zM592.8 564.0h1.5v1.6h-1.5zM737.4 574.3h1.5v1.6h-1.5zM682.0 566.8h1.5v1.6h-1.5zM577.0 556.5h1.5v1.6h-1.5zM710.4 572.6h1.5v1.6h-1.5zM597.3 577.6h1.5v1.6h-1.5zM727.4 569.5h1.5v1.6h-1.5zM571.8 574.1h1.5v1.6h-1.5zM582.7 571.9h1.5v1.6h-1.5zM729.1 558.7h1.5v1.6h-1.5zM616.8 557.8h1.5v1.6h-1.5zM715.9 567.7h1.5v1.6h-1.5zM614.8 560.0h1.5v1.6h-1.5zM640.3 576.2h1.5v1.6h-1.5zM603.1 575.1h1.5v1.6h-1.5zM714.2 567.1h1.5v1.6h-1.5zM688.3 556.1h1.5v1.6h-1.5zM697.9 573.3h1.5v1.6h-1.5zM697.8 575.5h1.5v1.6h-1.5zM600.5 560.2h1.5v1.6h-1.5zM579.5 562.7h1.5v1.6h-1.5zM638.2 569.6h1.5v1.6h-1.5zM617.2 557.3h1.5v1.6h-1.5zM647.1 560.2h1.5v1.6h-1.5zM677.1 560.5h1.5v1.6h-1.5zM605.9 572.3h1.5v1.6h-1.5zM716.8 566.8h1.5v1.6h-1.5zM692.4 562.0h1.5v1.6h-1.5zM648.2 573.5h1.5v1.6h-1.5zM650.7 558.4h1.5v1.6h-1.5zM643.8 575.4h1.5v1.6h-1.5zM660.6 562.3h1.5v1.6h-1.5zM561.9 557.6h1.5v1.6h-1.5zM737.6 572.1h1.5v1.6h-1.5zM586.4 558.9h1.5v1.6h-1.5zM669.3 564.6h1.5v1.6h-1.5zM726.6 573.5h1.5v1.6h-1.5zM621.5 558.3h1.5v1.6h-1.5zM649.6 559.6h1.5v1.6h-1.5zM628.5 568.0h1.5v1.6h-1.5zM703.3 559.6h1.5v1.6h-1.5zM589.0 574.1h1.5v1.6h-1.5zM689.7 568.4h1.5v1.6h-1.5zM719.0 575.3h1.5v1.6h-1.5zM620.1 575.6h1.5v1.6h-1.5zM624.2 565.3h1.5v1.6h-1.5zM560.1 561.4h1.5v1.6h-1.5zM711.7 574.7h1.5v1.6h-1.5zM634.0 563.8h1.5v1.6h-1.5zM664.6 560.0h1.5v1.6h-1.5zM735.3 560.8h1.5v1.6h-1.5zM738.7 558.7h1.5v1.6h-1.5zM558.4 568.0h1.5v1.6h-1.5zM631.8 559.0h1.5v1.6h-1.5zM600.3 559.0h1.5v1.6h-1.5zM672.6 562.1h1.5v1.6h-1.5zM663.7 569.7h1.5v1.6h-1.5zM558.6 563.3h1.5v1.6h-1.5zM720.3 560.5h1.5v1.6h-1.5zM694.1 563.9h1.5v1.6h-1.5zM559.8 571.4h1.5v1.6h-1.5zM646.5 573.9h1.5v1.6h-1.5zM697.8 564.5h1.5v1.6h-1.5zM739.6 564.7h1.5v1.6h-1.5zM692.8 567.1h1.5v1.6h-1.5zM625.6 558.5h1.5v1.6h-1.5zM667.8 556.7h1.5v1.6h-1.5zM604.3 573.2h1.5v1.6h-1.5zM557.5 560.8h1.5v1.6h-1.5zM622.8 564.0h1.5v1.6h-1.5zM618.9 569.4h1.5v1.6h-1.5zM607.2 566.5h1.5v1.6h-1.5zM703.4 575.2h1.5v1.6h-1.5zM597.9 565.9h1.5v1.6h-1.5zM611.7 576.4h1.5v1.6h-1.5zM720.2 559.9h1.5v1.6h-1.5zM673.0 569.0h1.5v1.6h-1.5zM696.8 572.1h1.5v1.6h-1.5zM561.6 575.7h1.5v1.6h-1.5zM573.0 572.6h1.5v1.6h-1.5zM691.8 573.9h1.5v1.6h-1.5zM674.2 563.8h1.5v1.6h-1.5zM678.3 577.2h1.5v1.6h-1.5zM654.9 570.5h1.5v1.6h-1.5zM603.7 570.1h1.5v1.6h-1.5zM672.3 571.1h1.5v1.6h-1.5zM633.7 576.2h1.5v1.6h-1.5zM560.5 576.2h1.5v1.6h-1.5zM614.4 571.9h1.5v1.6h-1.5zM623.3 571.9h1.5v1.6h-1.5zM711.9 559.3h1.5v1.6h-1.5zM602.3 557.1h1.5v1.6h-1.5zM595.4 568.5h1.5v1.6h-1.5zM737.3 557.1h1.5v1.6h-1.5zM638.2 561.3h1.5v1.6h-1.5zM562.0 572.3h1.5v1.6h-1.5zM623.3 577.4h1.5v1.6h-1.5zM559.9 563.7h1.5v1.6h-1.5zM588.3 574.3h1.5v1.6h-1.5zM723.1 574.1h1.5v1.6h-1.5zM612.1 569.4h1.5v1.6h-1.5zM683.8 575.8h1.5v1.6h-1.5zM710.2 562.5h1.5v1.6h-1.5zM704.1 566.2h1.5v1.6h-1.5zM579.9 570.8h1.5v1.6h-1.5zM650.2 566.2h1.5v1.6h-1.5zM578.9 573.2h1.5v1.6h-1.5zM580.6 556.9h1.5v1.6h-1.5zM574.2 557.3h1.5v1.6h-1.5zM648.0 558.0h1.5v1.6h-1.5zM738.8 574.3h1.5v1.6h-1.5zM725.4 576.9h1.5v1.6h-1.5zM715.5 558.3h1.5v1.6h-1.5zM642.4 562.0h1.5v1.6h-1.5zM608.8 567.9h1.5v1.6h-1.5zM702.1 560.0h1.5v1.6h-1.5zM634.0 568.7h1.5v1.6h-1.5zM674.7 557.8h1.5v1.6h-1.5zM720.3 576.6h1.5v1.6h-1.5zM663.4 574.7h1.5v1.6h-1.5zM576.5 567.2h1.5v1.6h-1.5zM594.3 575.4h1.5v1.6h-1.5zM720.5 563.9h1.5v1.6h-1.5zM653.5 576.2h1.5v1.6h-1.5zM728.9 572.2h1.5v1.6h-1.5zM675.7 574.1h1.5v1.6h-1.5zM624.8 573.7h1.5v1.6h-1.5zM690.3 572.3h1.5v1.6h-1.5zM622.3 576.4h1.5v1.6h-1.5zM617.7 566.0h1.5v1.6h-1.5zM721.3 577.0h1.5v1.6h-1.5zM664.2 572.1h1.5v1.6h-1.5zM626.1 566.2h1.5v1.6h-1.5zM611.5 577.5h1.5v1.6h-1.5zM735.0 564.1h1.5v1.6h-1.5zM702.7 573.9h1.5v1.6h-1.5zM622.7 563.0h1.5v1.6h-1.5zM592.0 574.2h1.5v1.6h-1.5zM734.9 566.9h1.5v1.6h-1.5zM713.4 556.1h1.5v1.6h-1.5zM616.4 558.0h1.5v1.6h-1.5zM635.6 559.6h1.5v1.6h-1.5zM594.2 570.0h1.5v1.6h-1.5zM679.3 571.8h1.5v1.6h-1.5zM560.9 570.4h1.5v1.6h-1.5zM589.5 573.6h1.5v1.6h-1.5zM558.3 565.4h1.5v1.6h-1.5zM650.8 569.9h1.5v1.6h-1.5zM640.1 567.5h1.5v1.6h-1.5zM590.5 574.6h1.5v1.6h-1.5zM648.9 563.5h1.5v1.6h-1.5zM683.0 568.4h1.5v1.6h-1.5zM611.1 561.7h1.5v1.6h-1.5zM644.3 568.6h1.5v1.6h-1.5zM559.6 571.3h1.5v1.6h-1.5zM629.7 564.9h1.5v1.6h-1.5zM639.4 573.6h1.5v1.6h-1.5zM691.4 564.7h1.5v1.6h-1.5zM669.7 576.8h1.5v1.6h-1.5zM716.3 569.4h1.5v1.6h-1.5zM587.4 563.9h1.5v1.6h-1.5zM710.0 557.3h1.5v1.6h-1.5zM564.4 562.9h1.5v1.6h-1.5zM623.3 565.5h1.5v1.6h-1.5zM659.2 572.2h1.5v1.6h-1.5zM655.5 563.0h1.5v1.6h-1.5zM689.0 572.8h1.5v1.6h-1.5zM738.1 564.2h1.5v1.6h-1.5zM570.2 571.6h1.5v1.6h-1.5zM658.9 566.6h1.5v1.6h-1.5zM687.9 568.6h1.5v1.6h-1.5zM561.6 572.2h1.5v1.6h-1.5zM682.7 574.3h1.5v1.6h-1.5zM631.1 560.2h1.5v1.6h-1.5zM712.1 560.0h1.5v1.6h-1.5zM685.2 556.7h1.5v1.6h-1.5zM633.6 564.8h1.5v1.6h-1.5zM685.0 567.1h1.5v1.6h-1.5zM615.9 557.0h1.5v1.6h-1.5zM689.3 570.7h1.5v1.6h-1.5zM643.2 557.0h1.5v1.6h-1.5zM619.5 559.6h1.5v1.6h-1.5zM630.4 570.9h1.5v1.6h-1.5zM730.0 562.8h1.5v1.6h-1.5zM684.7 559.6h1.5v1.6h-1.5zM691.8 565.3h1.5v1.6h-1.5z" fill="#00ffff"/><path d="M874.0 570.7h1.4v1.8h-1.4zM882.6 575.4h1.4v1.8h-1.4zM858.4 567.7h1.4v1.8h-1.4zM777.5 572.4h1.4v1.8h-1.4zM786.4 577.3h1.4v1.8h-1.4zM766.4 568.0h1.4v1.8h-1.4zM839.5 571.1h1.4v1.8h-1.4zM791.8 576.0h1.4v1.8h-1.4zM828.6 573.8h1.4v1.8h-1.4zM863.5 572.5h1.4v1.8h-1.4zM862.7 569.7h1.4v1.8h-1.4zM848.7 570.6h1.4v1.8h-1.4zM886.7 568.7h1.4v1.8h-1.4zM881.5 571.4h1.4v1.8h-1.4zM764.6 567.4h1.4v1.8h-1.4zM865.3 576.8h1.4v1.8h-1.4zM805.3 575.9h1.4v1.8h-1.4zM755.6 572.7h1.4v1.8h-1.4zM776.3 569.6h1.4v1.8h-1.4zM766.7 570.0h1.4v1.8h-1.4zM822.8 577.2h1.4v1.8h-1.4zM883.9 569.1h1.4v1.8h-1.4zM905.4 566.0h1.4v1.8h-1.4zM822.9 572.6h1.4v1.8h-1.4zM888.9 573.9h1.4v1.8h-1.4zM888.8 576.9h1.4v1.8h-1.4zM907.4 577.3h1.4v1.8h-1.4zM811.8 568.2h1.4v1.8h-1.4zM796.4 570.9h1.4v1.8h-1.4zM774.9 573.2h1.4v1.8h-1.4zM825.0 574.4h1.4v1.8h-1.4zM803.0 571.1h1.4v1.8h-1.4zM846.1 571.5h1.4v1.8h-1.4zM897.7 571.3h1.4v1.8h-1.4zM905.6 566.5h1.4v1.8h-1.4zM811.0 573.4h1.4v1.8h-1.4zM811.3 576.0h1.4v1.8h-1.4zM846.3 576.5h1.4v1.8h-1.4zM872.2 575.1h1.4v1.8h-1.4zM755.4 567.0h1.4v1.8h-1.4zM849.5 575.8h1.4v1.8h-1.4zM830.3 572.6h1.4v1.8h-1.4zM806.1 576.1h1.4v1.8h-1.4zM866.0 577.6h1.4v1.8h-1.4zM874.3 573.5h1.4v1.8h-1.4zM888.6 574.3h1.4v1.8h-1.4zM765.7 575.9h1.4v1.8h-1.4zM764.9 571.8h1.4v1.8h-1.4zM887.3 571.9h1.4v1.8h-1.4zM779.0 572.6h1.4v1.8h-1.4zM883.8 572.7h1.4v1.8h-1.4zM748.4 566.2h1.4v1.8h-1.4zM847.0 566.5h1.4v1.8h-1.4zM897.3 566.4h1.4v1.8h-1.4zM862.1 573.0h1.4v1.8h-1.4zM819.1 571.2h1.4v1.8h-1.4zM901.7 575.4h1.4v1.8h-1.4zM812.6 567.1h1.4v1.8h-1.4zM906.2 569.8h1.4v1.8h-1.4zM829.8 572.3h1.4v1.8h-1.4zM832.6 570.8h1.4v1.8h-1.4zM804.7 571.7h1.4v1.8h-1.4zM890.6 567.9h1.4v1.8h-1.4zM910.4 573.0h1.4v1.8h-1.4zM871.8 567.9h1.4v1.8h-1.4zM825.2 567.7h1.4v1.8h-1.4zM844.7 566.5h1.4v1.8h-1.4zM770.0 568.3h1.4v1.8h-1.4zM890.7 575.7h1.4v1.8h-1.4zM796.3 575.4h1.4v1.8h-1.4zM745.5 573.8h1.4v1.8h-1.4zM874.5 572.0h1.4v1.8h-1.4zM834.7 567.6h1.4v1.8h-1.4zM907.5 568.3h1.4v1.8h-1.4zM766.7 566.8h1.4v1.8h-1.4zM760.1 567.6h1.4v1.8h-1.4zM874.5 574.1h1.4v1.8h-1.4zM878.9 571.9h1.4v1.8h-1.4z" fill="#ffffff"/><path d="M831.8 569.7h1.4v1.8h-1.4zM754.7 576.6h1.4v1.8h-1.4zM892.4 566.3h1.4v1.8h-1.4zM912.6 576.0h1.4v1.8h-1.4zM749.7 570.2h1.4v1.8h-1.4zM804.4 569.7h1.4v1.8h-1.4zM839.6 573.1h1.4v1.8h-1.4zM744.0 569.9h1.4v1.8h-1.4zM826.7 567.0h1.4v1.8h-1.4zM901.6 571.2h1.4v1.8h-1.4zM805.3 567.7h1.4v1.8h-1.4zM826.8 571.2h1.4v1.8h-1.4zM848.9 574.6h1.4v1.8h-1.4zM743.8 575.5h1.4v1.8h-1.4zM871.3 575.2h1.4v1.8h-1.4zM882.3 574.8h1.4v1.8h-1.4zM809.2 574.2h1.4v1.8h-1.4zM900.5 572.2h1.4v1.8h-1.4zM762.2 574.1h1.4v1.8h-1.4zM746.4 568.5h1.4v1.8h-1.4zM769.3 572.2h1.4v1.8h-1.4zM770.1 573.2h1.4v1.8h-1.4zM744.8 575.5h1.4v1.8h-1.4zM824.3 569.4h1.4v1.8h-1.4zM875.1 570.1h1.4v1.8h-1.4zM772.4 569.0h1.4v1.8h-1.4zM907.0 577.1h1.4v1.8h-1.4zM800.4 574.0h1.4v1.8h-1.4zM757.6 572.7h1.4v1.8h-1.4zM899.3 576.9h1.4v1.8h-1.4zM839.2 569.8h1.4v1.8h-1.4zM909.4 566.6h1.4v1.8h-1.4zM838.7 568.0h1.4v1.8h-1.4zM742.2 576.1h1.4v1.8h-1.4zM798.7 575.0h1.4v1.8h-1.4zM846.9 569.3h1.4v1.8h-1.4zM880.7 569.4h1.4v1.8h-1.4z" fill="#40ff40"/><path d="M752.6 572.4h1.4v1.8h-1.4zM762.7 574.2h1.4v1.8h-1.4zM881.5 569.2h1.4v1.8h-1.4zM751.9 567.3h1.4v1.8h-1.4zM910.3 576.9h1.4v1.8h-1.4zM866.5 571.2h1.4v1.8h-1.4zM888.4 572.3h1.4v1.8h-1.4zM885.4 567.4h1.4v1.8h-1.4zM795.9 570.8h1.4v1.8h-1.4zM891.7 566.1h1.4v1.8h-1.4zM834.7 573.9h1.4v1.8h-1.4zM904.7 577.0h1.4v1.8h-1.4zM769.9 577.5h1.4v1.8h-1.4zM779.6 576.6h1.4v1.8h-1.4zM879.5 573.6h1.4v1.8h-1.4zM867.4 570.9h1.4v1.8h-1.4zM877.9 571.9h1.4v1.8h-1.4zM879.1 567.3h1.4v1.8h-1.4zM792.8 574.6h1.4v1.8h-1.4zM909.5 577.1h1.4v1.8h-1.4zM803.5 567.0h1.4v1.8h-1.4zM897.3 571.9h1.4v1.8h-1.4zM783.4 573.3h1.4v1.8h-1.4zM777.5 575.8h1.4v1.8h-1.4zM817.0 575.9h1.4v1.8h-1.4zM832.5 569.8h1.4v1.8h-1.4zM783.7 569.2h1.4v1.8h-1.4zM802.7 574.8h1.4v1.8h-1.4zM883.7 568.4h1.4v1.8h-1.4zM866.2 574.5h1.4v1.8h-1.4zM835.1 576.1h1.4v1.8h-1.4zM792.4 571.5h1.4v1.8h-1.4zM885.1 573.8h1.4v1.8h-1.4zM789.8 570.1h1.4v1.8h-1.4zM832.8 576.4h1.4v1.8h-1.4zM776.1 574.8h1.4v1.8h-1.4zM762.1 566.6h1.4v1.8h-1.4zM865.9 566.4h1.4v1.8h-1.4zM859.8 573.3h1.4v1.8h-1.4zM805.7 566.5h1.4v1.8h-1.4zM812.6 571.5h1.4v1.8h-1.4zM800.4 577.3h1.4v1.8h-1.4zM807.9 571.3h1.4v1.8h-1.4z" fill="#00ffff"/><path d="M899.2 573.5h1.4v1.8h-1.4zM767.3 571.6h1.4v1.8h-1.4zM743.7 571.5h1.4v1.8h-1.4zM911.2 567.9h1.4v1.8h-1.4zM886.3 573.0h1.4v1.8h-1.4zM744.5 570.8h1.4v1.8h-1.4zM761.7 567.8h1.4v1.8h-1.4zM783.9 572.4h1.4v1.8h-1.4zM856.2 568.9h1.4v1.8h-1.4zM779.1 570.0h1.4v1.8h-1.4zM788.7 569.4h1.4v1.8h-1.4zM880.6 577.1h1.4v1.8h-1.4zM853.3 571.1h1.4v1.8h-1.4zM781.4 574.4h1.4v1.8h-1.4zM747.7 576.9h1.4v1.8h-1.4zM851.9 576.2h1.4v1.8h-1.4zM883.2 569.4h1.4v1.8h-1.4zM790.1 567.2h1.4v1.8h-1.4zM834.8 572.5h1.4v1.8h-1.4zM753.3 572.0h1.4v1.8h-1.4zM900.4 567.4h1.4v1.8h-1.4zM812.9 566.5h1.4v1.8h-1.4zM801.5 576.9h1.4v1.8h-1.4zM900.3 574.5h1.4v1.8h-1.4zM844.1 573.1h1.4v1.8h-1.4zM850.5 570.4h1.4v1.8h-1.4zM787.2 576.8h1.4v1.8h-1.4zM854.9 567.9h1.4v1.8h-1.4zM757.9 566.5h1.4v1.8h-1.4zM772.7 576.1h1.4v1.8h-1.4zM758.0 566.7h1.4v1.8h-1.4zM806.8 573.3h1.4v1.8h-1.4zM869.8 571.5h1.4v1.8h-1.4zM768.4 569.1h1.4v1.8h-1.4zM828.9 573.4h1.4v1.8h-1.4zM804.1 570.4h1.4v1.8h-1.4zM772.7 572.3h1.4v1.8h-1.4zM797.1 577.4h1.4v1.8h-1.4zM858.9 574.8h1.4v1.8h-1.4zM788.5 571.9h1.4v1.8h-1.4zM899.1 573.0h1.4v1.8h-1.4zM815.4 568.3h1.4v1.8h-1.4z" fill="#00ff00"/><path d="M793.2 562.5h1.5v1.8h-1.5zM776.0 571.5h1.5v1.8h-1.5zM789.1 566.5h1.5v1.8h-1.5zM793.1 570.1h1.5v1.8h-1.5zM747.3 570.7h1.5v1.8h-1.5zM750.9 554.0h1.5v1.8h-1.5zM770.5 553.2h1.5v1.8h-1.5zM748.7 558.9h1.5v1.8h-1.5zM760.8 558.1h1.5v1.8h-1.5zM795.3 551.1h1.5v1.8h-1.5zM785.3 563.2h1.5v1.8h-1.5zM779.5 565.5h1.5v1.8h-1.5zM773.3 552.5h1.5v1.8h-1.5zM771.3 555.4h1.5v1.8h-1.5zM757.2 567.8h1.5v1.8h-1.5zM782.5 562.0h1.5v1.8h-1.5zM766.9 564.2h1.5v1.8h-1.5zM767.1 560.0h1.5v1.8h-1.5zM768.4 564.9h1.5v1.8h-1.5zM742.0 553.6h1.5v1.8h-1.5zM738.3 561.8h1.5v1.8h-1.5zM741.0 566.0h1.5v1.8h-1.5zM751.7 557.3h1.5v1.8h-1.5zM749.6 569.7h1.5v1.8h-1.5zM794.9 559.7h1.5v1.8h-1.5zM740.9 560.3h1.5v1.8h-1.5zM783.9 555.3h1.5v1.8h-1.5zM799.2 568.4h1.5v1.8h-1.5zM768.1 564.1h1.5v1.8h-1.5zM771.8 550.2h1.5v1.8h-1.5zM767.1 555.8h1.5v1.8h-1.5zM799.3 551.9h1.5v1.8h-1.5zM764.9 567.0h1.5v1.8h-1.5zM746.8 566.6h1.5v1.8h-1.5zM760.3 571.1h1.5v1.8h-1.5zM760.6 559.1h1.5v1.8h-1.5zM790.9 563.1h1.5v1.8h-1.5zM773.1 568.1h1.5v1.8h-1.5zM765.1 557.0h1.5v1.8h-1.5zM756.0 555.2h1.5v1.8h-1.5zM757.4 560.8h1.5v1.8h-1.5zM739.5 551.7h1.5v1.8h-1.5zM762.4 557.4h1.5v1.8h-1.5z" fill="#c0ffc0"/><path d="M774.0 563.4h1.5v1.8h-1.5zM767.2 551.0h1.5v1.8h-1.5zM779.6 563.9h1.5v1.8h-1.5zM746.6 568.9h1.5v1.8h-1.5zM789.5 564.6h1.5v1.8h-1.5zM746.3 559.4h1.5v1.8h-1.5zM790.6 556.5h1.5v1.8h-1.5zM775.1 568.2h1.5v1.8h-1.5zM774.4 564.1h1.5v1.8h-1.5zM758.7 570.2h1.5v1.8h-1.5zM755.1 553.0h1.5v1.8h-1.5zM796.7 560.4h1.5v1.8h-1.5zM787.3 550.9h1.5v1.8h-1.5zM741.4 571.6h1.5v1.8h-1.5zM739.7 558.7h1.5v1.8h-1.5zM755.7 565.8h1.5v1.8h-1.5zM783.0 557.5h1.5v1.8h-1.5zM787.4 568.9h1.5v1.8h-1.5zM780.3 565.6h1.5v1.8h-1.5zM754.1 559.9h1.5v1.8h-1.5zM757.9 551.5h1.5v1.8h-1.5zM748.8 567.7h1.5v1.8h-1.5zM751.6 559.6h1.5v1.8h-1.5zM746.0 554.0h1.5v1.8h-1.5zM742.7 571.8h1.5v1.8h-1.5zM775.9 569.1h1.5v1.8h-1.5zM770.2 550.0h1.5v1.8h-1.5zM770.8 562.1h1.5v1.8h-1.5zM753.3 566.7h1.5v1.8h-1.5zM775.0 567.9h1.5v1.8h-1.5zM770.8 567.1h1.5v1.8h-1.5zM774.2 563.0h1.5v1.8h-1.5zM755.7 552.0h1.5v1.8h-1.5zM762.8 556.3h1.5v1.8h-1.5zM788.6 555.1h1.5v1.8h-1.5z" fill="#ffffff"/><path d="M786.4 564.5h1.5v1.8h-1.5zM775.6 570.6h1.5v1.8h-1.5zM797.6 561.0h1.5v1.8h-1.5zM759.3 567.0h1.5v1.8h-1.5zM780.1 561.8h1.5v1.8h-1.5zM776.2 551.8h1.5v1.8h-1.5zM759.9 568.6h1.5v1.8h-1.5zM769.3 561.0h1.5v1.8h-1.5zM761.9 553.0h1.5v1.8h-1.5zM742.3 553.3h1.5v1.8h-1.5zM742.0 566.1h1.5v1.8h-1.5zM788.0 563.5h1.5v1.8h-1.5zM767.9 554.1h1.5v1.8h-1.5zM759.2 555.3h1.5v1.8h-1.5zM741.1 558.9h1.5v1.8h-1.5zM754.2 557.4h1.5v1.8h-1.5zM762.7 564.7h1.5v1.8h-1.5zM784.9 565.2h1.5v1.8h-1.5zM739.2 569.6h1.5v1.8h-1.5zM791.3 565.9h1.5v1.8h-1.5zM753.2 552.7h1.5v1.8h-1.5zM743.4 553.4h1.5v1.8h-1.5zM793.8 567.6h1.5v1.8h-1.5zM791.3 555.2h1.5v1.8h-1.5zM773.1 564.1h1.5v1.8h-1.5zM743.2 560.7h1.5v1.8h-1.5zM742.6 553.0h1.5v1.8h-1.5zM791.7 563.4h1.5v1.8h-1.5zM785.1 565.9h1.5v1.8h-1.5zM789.3 550.2h1.5v1.8h-1.5zM786.1 565.4h1.5v1.8h-1.5zM775.2 560.7h1.5v1.8h-1.5z" fill="#00ffff"/><path d="M861.3 559.7h1.5v1.8h-1.5zM885.6 557.0h1.5v1.8h-1.5zM864.6 567.2h1.5v1.8h-1.5zM854.3 556.1h1.5v1.8h-1.5zM850.1 564.7h1.5v1.8h-1.5zM844.4 569.0h1.5v1.8h-1.5zM843.2 553.2h1.5v1.8h-1.5zM861.0 559.4h1.5v1.8h-1.5zM882.3 552.7h1.5v1.8h-1.5zM869.3 566.0h1.5v1.8h-1.5zM858.6 566.8h1.5v1.8h-1.5zM889.7 569.0h1.5v1.8h-1.5zM848.6 561.8h1.5v1.8h-1.5zM890.4 564.4h1.5v1.8h-1.5zM861.6 563.4h1.5v1.8h-1.5zM885.1 555.8h1.5v1.8h-1.5zM851.8 564.4h1.5v1.8h-1.5zM878.2 557.2h1.5v1.8h-1.5zM856.1 557.5h1.5v1.8h-1.5zM878.8 571.3h1.5v1.8h-1.5zM876.7 568.7h1.5v1.8h-1.5zM875.8 566.2h1.5v1.8h-1.5zM841.9 554.4h1.5v1.8h-1.5zM851.6 571.3h1.5v1.8h-1.5zM838.8 555.2h1.5v1.8h-1.5zM853.3 567.4h1.5v1.8h-1.5zM863.6 571.3h1.5v1.8h-1.5zM869.1 564.3h1.5v1.8h-1.5zM833.0 564.0h1.5v1.8h-1.5zM839.7 568.5h1.5v1.8h-1.5zM857.2 559.4h1.5v1.8h-1.5zM867.7 562.2h1.5v1.8h-1.5zM853.8 561.7h1.5v1.8h-1.5zM870.3 563.2h1.5v1.8h-1.5zM860.6 571.0h1.5v1.8h-1.5z" fill="#c0ffc0"/><path d="M888.3 553.9h1.5v1.8h-1.5zM863.3 571.3h1.5v1.8h-1.5zM843.2 555.2h1.5v1.8h-1.5zM872.2 564.3h1.5v1.8h-1.5zM890.3 569.5h1.5v1.8h-1.5zM855.7 570.1h1.5v1.8h-1.5zM870.8 555.4h1.5v1.8h-1.5zM836.6 571.1h1.5v1.8h-1.5zM832.8 562.2h1.5v1.8h-1.5zM848.4 556.5h1.5v1.8h-1.5zM859.8 558.9h1.5v1.8h-1.5zM878.3 566.9h1.5v1.8h-1.5zM841.9 571.3h1.5v1.8h-1.5zM853.4 561.6h1.5v1.8h-1.5zM840.0 560.6h1.5v1.8h-1.5zM862.0 556.7h1.5v1.8h-1.5zM881.9 554.9h1.5v1.8h-1.5zM853.9 561.5h1.5v1.8h-1.5zM866.2 552.7h1.5v1.8h-1.5zM882.3 557.1h1.5v1.8h-1.5zM837.7 559.3h1.5v1.8h-1.5zM864.5 563.0h1.5v1.8h-1.5zM837.9 553.8h1.5v1.8h-1.5zM837.9 557.4h1.5v1.8h-1.5zM838.4 554.0h1.5v1.8h-1.5zM859.6 563.1h1.5v1.8h-1.5zM890.9 564.4h1.5v1.8h-1.5zM842.8 560.9h1.5v1.8h-1.5zM868.9 564.4h1.5v1.8h-1.5zM867.5 557.8h1.5v1.8h-1.5zM878.0 553.0h1.5v1.8h-1.5zM879.8 567.1h1.5v1.8h-1.5z" fill="#ffffff"/><path d="M860.5 561.8h1.5v1.8h-1.5zM834.6 566.2h1.5v1.8h-1.5zM890.3 552.3h1.5v1.8h-1.5zM842.3 562.9h1.5v1.8h-1.5zM892.0 565.1h1.5v1.8h-1.5zM885.9 566.1h1.5v1.8h-1.5zM888.7 562.8h1.5v1.8h-1.5zM874.8 558.1h1.5v1.8h-1.5zM870.4 571.8h1.5v1.8h-1.5zM888.1 571.2h1.5v1.8h-1.5zM848.8 568.1h1.5v1.8h-1.5zM846.3 552.7h1.5v1.8h-1.5zM868.2 568.9h1.5v1.8h-1.5zM838.5 555.6h1.5v1.8h-1.5zM879.5 557.9h1.5v1.8h-1.5zM852.3 563.3h1.5v1.8h-1.5zM854.8 570.1h1.5v1.8h-1.5zM842.2 561.1h1.5v1.8h-1.5zM844.7 556.0h1.5v1.8h-1.5zM834.0 566.2h1.5v1.8h-1.5zM879.2 566.4h1.5v1.8h-1.5zM889.1 557.7h1.5v1.8h-1.5zM889.3 569.8h1.5v1.8h-1.5zM846.6 562.9h1.5v1.8h-1.5zM850.9 555.1h1.5v1.8h-1.5zM867.6 570.7h1.5v1.8h-1.5zM865.2 568.5h1.5v1.8h-1.5zM864.6 559.1h1.5v1.8h-1.5zM851.3 566.9h1.5v1.8h-1.5zM850.9 571.9h1.5v1.8h-1.5zM862.0 565.9h1.5v1.8h-1.5zM891.7 571.7h1.5v1.8h-1.5zM840.9 568.5h1.5v1.8h-1.5z" fill="#00ffff"/><path d="M800.4 566.3h1.5v2.2h-1.5zM808.2 563.1h1.5v2.2h-1.5zM829.4 557.6h1.5v2.2h-1.5zM817.1 567.1h1.5v2.2h-1.5zM799.6 558.2h1.5v2.2h-1.5zM809.5 550.0h1.5v2.2h-1.5zM818.6 565.6h1.5v2.2h-1.5z" fill="#80ff00"/><path d="M812.7 547.8h1.5v2.2h-1.5zM814.1 563.2h1.5v2.2h-1.5zM803.3 547.1h1.5v2.2h-1.5zM815.0 549.0h1.5v2.2h-1.5zM798.4 550.5h1.5v2.2h-1.5zM808.2 549.1h1.5v2.2h-1.5z" fill="#40ff20"/><path d="M823.4 564.7h1.5v2.2h-1.5zM818.4 560.6h1.5v2.2h-1.5zM810.0 559.7h1.5v2.2h-1.5zM828.2 552.1h1.5v2.2h-1.5zM807.6 561.3h1.5v2.2h-1.5zM807.1 557.9h1.5v2.2h-1.5zM827.6 556.1h1.5v2.2h-1.5zM830.9 560.8h1.5v2.2h-1.5zM812.1 549.1h1.5v2.2h-1.5zM799.1 561.6h1.5v2.2h-1.5zM823.9 564.6h1.5v2.2h-1.5zM801.9 564.3h1.5v2.2h-1.5z" fill="#00ff00"/><path d="M902.6 567.0h1.5v2.2h-1.5zM899.5 561.5h1.5v2.2h-1.5zM903.0 547.5h1.5v2.2h-1.5zM904.7 564.9h1.5v2.2h-1.5z" fill="#40ff20"/><path d="M897.0 550.6h1.5v2.2h-1.5zM898.5 562.4h1.5v2.2h-1.5zM910.6 559.7h1.5v2.2h-1.5z" fill="#80ff00"/><path d="M897.8 567.2h1.5v2.2h-1.5zM901.7 557.2h1.5v2.2h-1.5zM894.2 563.0h1.5v2.2h-1.5zM911.5 549.8h1.5v2.2h-1.5zM904.9 553.7h1.5v2.2h-1.5z" fill="#00ff00"/><path d="M825.6 546.0h1.5v2.5h-1.5zM750.6 548.8h1.5v2.5h-1.5zM834.2 546.2h1.5v2.5h-1.5zM885.7 555.7h1.5v2.5h-1.5zM894.2 552.2h1.5v2.5h-1.5zM748.3 548.5h1.5v2.5h-1.5zM794.3 554.0h1.5v2.5h-1.5zM893.6 546.9h1.5v2.5h-1.5zM821.3 552.8h1.5v2.5h-1.5zM854.1 555.3h1.5v2.5h-1.5zM808.9 549.4h1.5v2.5h-1.5zM872.9 547.9h1.5v2.5h-1.5zM759.9 550.9h1.5v2.5h-1.5zM848.9 555.7h1.5v2.5h-1.5zM893.1 554.3h1.5v2.5h-1.5zM813.9 550.5h1.5v2.5h-1.5zM841.5 546.6h1.5v2.5h-1.5zM745.3 546.6h1.5v2.5h-1.5zM797.9 553.0h1.5v2.5h-1.5zM842.6 547.5h1.5v2.5h-1.5zM761.5 547.8h1.5v2.5h-1.5zM759.6 555.9h1.5v2.5h-1.5zM902.0 552.9h1.5v2.5h-1.5zM894.8 550.5h1.5v2.5h-1.5zM822.9 555.7h1.5v2.5h-1.5zM796.8 552.5h1.5v2.5h-1.5zM841.7 554.2h1.5v2.5h-1.5zM874.3 549.1h1.5v2.5h-1.5zM792.7 553.9h1.5v2.5h-1.5zM873.6 547.9h1.5v2.5h-1.5zM889.8 548.5h1.5v2.5h-1.5zM747.9 549.2h1.5v2.5h-1.5zM841.9 553.6h1.5v2.5h-1.5zM894.5 546.2h1.5v2.5h-1.5zM769.4 551.5h1.5v2.5h-1.5zM890.8 551.6h1.5v2.5h-1.5zM889.4 554.6h1.5v2.5h-1.5zM738.8 554.8h1.5v2.5h-1.5zM773.9 546.0h1.5v2.5h-1.5zM881.1 554.7h1.5v2.5h-1.5zM792.1 548.6h1.5v2.5h-1.5zM843.1 546.1h1.5v2.5h-1.5z" fill="#c0ff00"/><path d="M851.9 550.7h1.5v2.5h-1.5zM745.4 554.5h1.5v2.5h-1.5zM745.7 548.0h1.5v2.5h-1.5zM736.3 548.8h1.5v2.5h-1.5zM815.7 555.2h1.5v2.5h-1.5zM902.3 548.2h1.5v2.5h-1.5zM891.6 555.1h1.5v2.5h-1.5zM904.7 555.0h1.5v2.5h-1.5zM903.6 548.7h1.5v2.5h-1.5zM860.5 547.9h1.5v2.5h-1.5zM796.7 553.9h1.5v2.5h-1.5zM819.0 546.1h1.5v2.5h-1.5zM831.6 551.8h1.5v2.5h-1.5zM740.4 554.0h1.5v2.5h-1.5zM869.4 548.7h1.5v2.5h-1.5zM821.0 546.8h1.5v2.5h-1.5zM870.8 547.6h1.5v2.5h-1.5zM855.6 548.9h1.5v2.5h-1.5zM878.3 555.1h1.5v2.5h-1.5zM822.0 549.1h1.5v2.5h-1.5zM748.1 551.9h1.5v2.5h-1.5zM781.3 555.0h1.5v2.5h-1.5zM787.5 553.3h1.5v2.5h-1.5zM776.0 549.8h1.5v2.5h-1.5zM805.8 550.5h1.5v2.5h-1.5zM828.2 550.2h1.5v2.5h-1.5zM763.6 554.7h1.5v2.5h-1.5zM823.9 553.1h1.5v2.5h-1.5zM736.2 550.3h1.5v2.5h-1.5z" fill="#ffff00"/><path d="M752.5 551.3h1.5v2.5h-1.5zM738.7 549.7h1.5v2.5h-1.5zM866.6 549.6h1.5v2.5h-1.5zM863.4 553.3h1.5v2.5h-1.5zM894.0 553.8h1.5v2.5h-1.5zM851.8 551.3h1.5v2.5h-1.5zM763.9 546.5h1.5v2.5h-1.5zM874.0 548.6h1.5v2.5h-1.5zM825.3 548.4h1.5v2.5h-1.5zM902.1 550.9h1.5v2.5h-1.5zM864.7 553.6h1.5v2.5h-1.5zM891.3 555.7h1.5v2.5h-1.5zM829.7 552.1h1.5v2.5h-1.5zM823.8 552.1h1.5v2.5h-1.5zM797.9 548.6h1.5v2.5h-1.5zM738.5 555.5h1.5v2.5h-1.5zM789.1 553.1h1.5v2.5h-1.5zM878.4 555.4h1.5v2.5h-1.5zM749.4 549.2h1.5v2.5h-1.5z" fill="#e0ff00"/>
</g>
<g clip-path="url(#cp_Et)"><g filter="url(#blr)">
<path d="M62.0 1078.6L428.0 1078.6L428.0 1156.0L62.0 1156.0Z" fill="#ff9000"/>
<path d="M62.0 1120.3L65.3 1120.3L65.3 1150.6L62.0 1150.6Z" fill="#ffb500" fill-opacity="0.9"/>
<path d="M65.0 1124.2L68.2 1124.2L68.2 1148.5L65.0 1148.5Z" fill="#ffb200" fill-opacity="0.9"/>
<path d="M67.9 1122.3L74.1 1122.3L74.1 1149.6L67.9 1149.6Z" fill="#ffa200" fill-opacity="0.9"/>
<path d="M73.8 1124.6L78.4 1124.6L78.4 1148.5L73.8 1148.5Z" fill="#ffac00" fill-opacity="0.9"/>
<path d="M78.1 1119.8L84.4 1119.8L84.4 1147.8L78.1 1147.8Z" fill="#ff9400" fill-opacity="0.9"/>
<path d="M84.1 1120.6L88.3 1120.6L88.3 1149.6L84.1 1149.6Z" fill="#ff8500" fill-opacity="0.9"/>
<path d="M88.0 1124.4L91.7 1124.4L91.7 1150.3L88.0 1150.3Z" fill="#ff8500" fill-opacity="0.9"/>
<path d="M91.4 1122.0L94.5 1122.0L94.5 1150.7L91.4 1150.7Z" fill="#ff8500" fill-opacity="0.9"/>
<path d="M94.2 1124.8L98.4 1124.8L98.4 1150.6L94.2 1150.6Z" fill="#ff8500" fill-opacity="0.9"/>
<path d="M98.1 1122.9L103.7 1122.9L103.7 1147.4L98.1 1147.4Z" fill="#ff8500" fill-opacity="0.9"/>
<path d="M103.4 1120.0L109.6 1120.0L109.6 1148.7L103.4 1148.7Z" fill="#ff8800" fill-opacity="0.9"/>
<path d="M109.3 1124.8L113.3 1124.8L113.3 1147.1L109.3 1147.1Z" fill="#ff9c00" fill-opacity="0.9"/>
<path d="M113.0 1120.9L118.9 1120.9L118.9 1148.3L113.0 1148.3Z" fill="#ff9800" fill-opacity="0.9"/>
<path d="M118.6 1123.9L122.7 1123.9L122.7 1149.8L118.6 1149.8Z" fill="#ffb200" fill-opacity="0.9"/>
<path d="M122.4 1124.1L128.6 1124.1L128.6 1151.5L122.4 1151.5Z" fill="#ff9c00" fill-opacity="0.9"/>
<path d="M128.3 1122.9L134.4 1122.9L134.4 1149.1L128.3 1149.1Z" fill="#ff9200" fill-opacity="0.9"/>
<path d="M134.1 1124.4L139.6 1124.4L139.6 1150.7L134.1 1150.7Z" fill="#ff8500" fill-opacity="0.9"/>
<path d="M139.3 1120.7L141.7 1120.7L141.7 1149.4L139.3 1149.4Z" fill="#ff8b00" fill-opacity="0.9"/>
<path d="M141.4 1124.6L146.1 1124.6L146.1 1147.6L141.4 1147.6Z" fill="#ff8700" fill-opacity="0.9"/>
<path d="M145.8 1121.4L151.0 1121.4L151.0 1151.4L145.8 1151.4Z" fill="#ff8500" fill-opacity="0.9"/>
<path d="M150.7 1123.1L153.2 1123.1L153.2 1149.5L150.7 1149.5Z" fill="#ff8800" fill-opacity="0.9"/>
<path d="M152.9 1124.9L159.1 1124.9L159.1 1148.0L152.9 1148.0Z" fill="#ff8500" fill-opacity="0.9"/>
<path d="M158.8 1123.7L163.0 1123.7L163.0 1148.6L158.8 1148.6Z" fill="#ff9d00" fill-opacity="0.9"/>
<path d="M162.7 1122.9L168.2 1122.9L168.2 1151.3L162.7 1151.3Z" fill="#ffb800" fill-opacity="0.9"/>
<path d="M167.9 1124.0L170.2 1124.0L170.2 1150.1L167.9 1150.1Z" fill="#ffac00" fill-opacity="0.9"/>
<path d="M169.9 1125.4L174.5 1125.4L174.5 1147.9L169.9 1147.9Z" fill="#ffac00" fill-opacity="0.9"/>
<path d="M174.2 1124.3L179.3 1124.3L179.3 1148.9L174.2 1148.9Z" fill="#ffa100" fill-opacity="0.9"/>
<path d="M179.0 1122.1L181.3 1122.1L181.3 1150.4L179.0 1150.4Z" fill="#ff8e00" fill-opacity="0.9"/>
<path d="M181.0 1122.7L187.3 1122.7L187.3 1150.8L181.0 1150.8Z" fill="#ff8500" fill-opacity="0.9"/>
<path d="M187.0 1123.6L190.8 1123.6L190.8 1149.8L187.0 1149.8Z" fill="#ff9100" fill-opacity="0.9"/>
<path d="M190.5 1122.9L195.6 1122.9L195.6 1150.2L190.5 1150.2Z" fill="#ff8e00" fill-opacity="0.9"/>
<path d="M195.3 1120.9L198.9 1120.9L198.9 1147.2L195.3 1147.2Z" fill="#ff8700" fill-opacity="0.9"/>
<path d="M198.6 1123.0L204.3 1123.0L204.3 1146.8L198.6 1146.8Z" fill="#ff9a00" fill-opacity="0.9"/>
<path d="M204.0 1121.2L209.4 1121.2L209.4 1147.9L204.0 1147.9Z" fill="#ffa500" fill-opacity="0.9"/>
<path d="M209.1 1121.0L215.1 1121.0L215.1 1151.3L209.1 1151.3Z" fill="#ff9400" fill-opacity="0.9"/>
<path d="M214.8 1123.7L217.4 1123.7L217.4 1150.4L214.8 1150.4Z" fill="#ff9500" fill-opacity="0.9"/>
<path d="M217.1 1122.4L220.0 1122.4L220.0 1150.2L217.1 1150.2Z" fill="#ff8500" fill-opacity="0.9"/>
<path d="M219.7 1121.1L225.7 1121.1L225.7 1149.8L219.7 1149.8Z" fill="#ff8500" fill-opacity="0.9"/>
<path d="M225.4 1125.1L229.4 1125.1L229.4 1147.0L225.4 1147.0Z" fill="#ff8500" fill-opacity="0.9"/>
<path d="M229.1 1125.8L233.7 1125.8L233.7 1149.6L229.1 1149.6Z" fill="#ff8500" fill-opacity="0.9"/>
<path d="M233.4 1122.0L238.2 1122.0L238.2 1150.8L233.4 1150.8Z" fill="#ff8500" fill-opacity="0.9"/>
<path d="M237.9 1122.1L242.5 1122.1L242.5 1149.1L237.9 1149.1Z" fill="#ff8500" fill-opacity="0.9"/>
<path d="M242.2 1126.0L246.1 1126.0L246.1 1150.7L242.2 1150.7Z" fill="#ff9900" fill-opacity="0.9"/>
<path d="M245.8 1126.3L250.0 1126.3L250.0 1147.1L245.8 1147.1Z" fill="#ffb600" fill-opacity="0.9"/>
<path d="M249.7 1125.7L254.0 1125.7L254.0 1149.8L249.7 1149.8Z" fill="#ffb100" fill-opacity="0.9"/>
<path d="M253.7 1126.3L258.4 1126.3L258.4 1150.6L253.7 1150.6Z" fill="#ffb000" fill-opacity="0.9"/>
<path d="M258.1 1126.2L261.8 1126.2L261.8 1148.9L258.1 1148.9Z" fill="#ff9d00" fill-opacity="0.9"/>
<path d="M261.5 1126.4L264.2 1126.4L264.2 1147.5L261.5 1147.5Z" fill="#ffba00" fill-opacity="0.9"/>
<path d="M263.9 1122.7L269.4 1122.7L269.4 1147.3L263.9 1147.3Z" fill="#ffd000" fill-opacity="0.9"/>
<path d="M269.1 1124.0L274.6 1124.0L274.6 1150.5L269.1 1150.5Z" fill="#ffe800" fill-opacity="0.9"/>
<path d="M274.3 1121.7L278.7 1121.7L278.7 1150.7L274.3 1150.7Z" fill="#ffe800" fill-opacity="0.9"/>
<path d="M278.4 1124.3L281.9 1124.3L281.9 1150.4L278.4 1150.4Z" fill="#ffe800" fill-opacity="0.9"/>
<path d="M281.6 1122.7L285.2 1122.7L285.2 1148.9L281.6 1148.9Z" fill="#ffe800" fill-opacity="0.9"/>
<path d="M284.9 1125.6L290.3 1125.6L290.3 1149.9L284.9 1149.9Z" fill="#ffe800" fill-opacity="0.9"/>
<path d="M290.0 1122.0L294.5 1122.0L294.5 1149.0L290.0 1149.0Z" fill="#ffe800" fill-opacity="0.9"/>
<path d="M294.2 1122.2L298.2 1122.2L298.2 1147.3L294.2 1147.3Z" fill="#ffdc00" fill-opacity="0.9"/>
<path d="M297.9 1122.2L300.2 1122.2L300.2 1149.2L297.9 1149.2Z" fill="#ffdd00" fill-opacity="0.9"/>
<path d="M299.9 1122.9L304.0 1122.9L304.0 1151.1L299.9 1151.1Z" fill="#ffe800" fill-opacity="0.9"/>
<path d="M303.7 1124.8L307.9 1124.8L307.9 1150.3L303.7 1150.3Z" fill="#ffe800" fill-opacity="0.9"/>
<path d="M307.6 1126.2L311.9 1126.2L311.9 1149.9L307.6 1149.9Z" fill="#ffcd00" fill-opacity="0.9"/>
<path d="M311.6 1124.6L314.0 1124.6L314.0 1147.3L311.6 1147.3Z" fill="#ffd400" fill-opacity="0.9"/>
<path d="M313.7 1125.8L318.0 1125.8L318.0 1150.3L313.7 1150.3Z" fill="#ffc800" fill-opacity="0.9"/>
<path d="M317.7 1125.2L322.9 1125.2L322.9 1149.0L317.7 1149.0Z" fill="#ffd600" fill-opacity="0.9"/>
<path d="M322.6 1123.0L328.0 1123.0L328.0 1150.1L322.6 1150.1Z" fill="#ffe800" fill-opacity="0.9"/>
<path d="M327.7 1126.0L332.9 1126.0L332.9 1150.4L327.7 1150.4Z" fill="#ffe800" fill-opacity="0.9"/>
<path d="M332.6 1122.5L337.5 1122.5L337.5 1147.7L332.6 1147.7Z" fill="#ffe800" fill-opacity="0.9"/>
<path d="M337.2 1123.1L342.5 1123.1L342.5 1146.7L337.2 1146.7Z" fill="#ffca00" fill-opacity="0.9"/>
<path d="M342.2 1123.4L345.9 1123.4L345.9 1151.2L342.2 1151.2Z" fill="#ffab00" fill-opacity="0.9"/>
<path d="M345.6 1127.3L351.1 1127.3L351.1 1149.9L345.6 1149.9Z" fill="#ff9400" fill-opacity="0.9"/>
<path d="M350.8 1124.4L353.8 1124.4L353.8 1149.8L350.8 1149.8Z" fill="#ff9800" fill-opacity="0.9"/>
<path d="M353.5 1122.6L357.3 1122.6L357.3 1147.6L353.5 1147.6Z" fill="#ff8900" fill-opacity="0.9"/>
<path d="M357.0 1126.2L360.1 1126.2L360.1 1150.9L357.0 1150.9Z" fill="#ff9f00" fill-opacity="0.9"/>
<path d="M359.8 1123.0L362.5 1123.0L362.5 1147.7L359.8 1147.7Z" fill="#ffa000" fill-opacity="0.9"/>
<path d="M362.2 1128.1L365.1 1128.1L365.1 1150.7L362.2 1150.7Z" fill="#ff9400" fill-opacity="0.9"/>
<path d="M364.8 1126.2L368.2 1126.2L368.2 1149.8L364.8 1149.8Z" fill="#ff9a00" fill-opacity="0.9"/>
<path d="M367.9 1128.6L371.1 1128.6L371.1 1149.3L367.9 1149.3Z" fill="#ff8800" fill-opacity="0.9"/>
<path d="M370.8 1129.3L376.6 1129.3L376.6 1150.1L370.8 1150.1Z" fill="#ff8500" fill-opacity="0.9"/>
<path d="M376.3 1133.9L379.7 1133.9L379.7 1147.5L376.3 1147.5Z" fill="#ffa600" fill-opacity="0.9"/>
<path d="M379.4 1135.2L382.8 1135.2L382.8 1148.4L379.4 1148.4Z" fill="#ff9800" fill-opacity="0.9"/>
<path d="M382.5 1132.9L387.7 1132.9L387.7 1149.3L382.5 1149.3Z" fill="#ff9f00" fill-opacity="0.9"/>
<path d="M387.4 1136.6L390.4 1136.6L390.4 1149.7L387.4 1149.7Z" fill="#ffb200" fill-opacity="0.9"/>
<path d="M390.1 1138.7L393.3 1138.7L393.3 1147.9L390.1 1147.9Z" fill="#ffc600" fill-opacity="0.9"/>
<path d="M393.0 1139.1L397.5 1139.1L397.5 1151.0L393.0 1151.0Z" fill="#ffba00" fill-opacity="0.9"/>
<path d="M397.2 1140.8L403.4 1140.8L403.4 1147.0L397.2 1147.0Z" fill="#ffdb00" fill-opacity="0.9"/>
<path d="M62.0 1127.4L70.2 1127.4L70.2 1145.9L62.0 1145.9Z" fill="#fff400" fill-opacity="0.6"/>
<path d="M69.9 1128.5L77.9 1128.5L77.9 1144.0L69.9 1144.0Z" fill="#fff800" fill-opacity="0.6"/>
<path d="M77.6 1124.1L85.9 1124.1L85.9 1145.1L77.6 1145.1Z" fill="#fffb00" fill-opacity="0.6"/>
<path d="M85.6 1125.3L92.0 1125.3L92.0 1143.1L85.6 1143.1Z" fill="#ffff00" fill-opacity="0.6"/>
<path d="M91.7 1124.4L95.4 1124.4L95.4 1144.6L91.7 1144.6Z" fill="#ffff00" fill-opacity="0.6"/>
<path d="M95.1 1128.1L102.3 1128.1L102.3 1148.4L95.1 1148.4Z" fill="#ffff00" fill-opacity="0.6"/>
<path d="M102.0 1126.5L109.7 1126.5L109.7 1147.0L102.0 1147.0Z" fill="#ffed00" fill-opacity="0.6"/>
<path d="M109.4 1123.9L117.1 1123.9L117.1 1146.1L109.4 1146.1Z" fill="#ffec00" fill-opacity="0.6"/>
<path d="M116.8 1123.6L122.8 1123.6L122.8 1144.1L116.8 1144.1Z" fill="#fff800" fill-opacity="0.6"/>
<path d="M150.0 1127.7L157.0 1127.7L157.0 1147.7L150.0 1147.7Z" fill="#ffbf00" fill-opacity="0.45"/>
<path d="M156.7 1129.9L165.6 1129.9L165.6 1147.8L156.7 1147.8Z" fill="#ffbe00" fill-opacity="0.45"/>
<path d="M165.3 1125.4L173.8 1125.4L173.8 1150.0L165.3 1150.0Z" fill="#ffd400" fill-opacity="0.45"/>
<path d="M173.5 1129.9L181.3 1129.9L181.3 1143.4L173.5 1143.4Z" fill="#ffe000" fill-opacity="0.45"/>
<path d="M181.0 1125.8L186.4 1125.8L186.4 1143.1L181.0 1143.1Z" fill="#ffe200" fill-opacity="0.45"/>
<path d="M186.1 1126.5L192.5 1126.5L192.5 1147.3L186.1 1147.3Z" fill="#ffdc00" fill-opacity="0.45"/>
<path d="M192.2 1126.2L201.4 1126.2L201.4 1142.7L192.2 1142.7Z" fill="#fff100" fill-opacity="0.45"/>
<path d="M201.1 1127.5L208.4 1127.5L208.4 1144.0L201.1 1144.0Z" fill="#fff400" fill-opacity="0.45"/>
<path d="M208.1 1127.6L216.1 1127.6L216.1 1148.6L208.1 1148.6Z" fill="#ffe700" fill-opacity="0.45"/>
<path d="M215.8 1131.7L220.5 1131.7L220.5 1143.8L215.8 1143.8Z" fill="#ffef00" fill-opacity="0.45"/>
<path d="M220.2 1129.4L224.3 1129.4L224.3 1148.6L220.2 1148.6Z" fill="#fff400" fill-opacity="0.45"/>
<path d="M224.0 1127.2L227.6 1127.2L227.6 1144.6L224.0 1144.6Z" fill="#fff400" fill-opacity="0.45"/>
<path d="M227.3 1125.1L232.0 1125.1L232.0 1149.4L227.3 1149.4Z" fill="#fff400" fill-opacity="0.45"/>
<path d="M231.7 1129.1L236.2 1129.1L236.2 1147.3L231.7 1147.3Z" fill="#fff200" fill-opacity="0.45"/>
<path d="M235.9 1131.5L242.1 1131.5L242.1 1143.4L235.9 1143.4Z" fill="#fff100" fill-opacity="0.45"/>
<path d="M241.8 1129.9L246.3 1129.9L246.3 1145.4L241.8 1145.4Z" fill="#fff400" fill-opacity="0.45"/>
<path d="M246.0 1125.0L251.6 1125.0L251.6 1147.2L246.0 1147.2Z" fill="#fff400" fill-opacity="0.45"/>
<path d="M251.3 1125.9L256.0 1125.9L256.0 1144.5L251.3 1144.5Z" fill="#fff400" fill-opacity="0.45"/>
<path d="M255.7 1129.0L260.2 1129.0L260.2 1145.9L255.7 1145.9Z" fill="#ffe000" fill-opacity="0.45"/>
<path d="M259.9 1128.5L264.5 1128.5L264.5 1143.1L259.9 1143.1Z" fill="#ffd000" fill-opacity="0.45"/>
<path d="M264.2 1126.6L268.6 1126.6L268.6 1145.3L264.2 1145.3Z" fill="#ffbb00" fill-opacity="0.45"/>
<path d="M268.3 1126.0L272.2 1126.0L272.2 1146.5L268.3 1146.5Z" fill="#ffb000" fill-opacity="0.45"/>
<path d="M271.9 1127.0L279.5 1127.0L279.5 1144.1L271.9 1144.1Z" fill="#ffb000" fill-opacity="0.45"/>
<path d="M279.2 1128.9L286.7 1128.9L286.7 1149.7L279.2 1149.7Z" fill="#ffbc00" fill-opacity="0.45"/>
<path d="M286.4 1128.8L295.2 1128.8L295.2 1143.3L286.4 1143.3Z" fill="#ffb300" fill-opacity="0.45"/>
<path d="M294.9 1126.8L303.1 1126.8L303.1 1142.5L294.9 1142.5Z" fill="#ffb000" fill-opacity="0.45"/>
<path d="M302.8 1130.8L309.3 1130.8L309.3 1148.0L302.8 1148.0Z" fill="#ffb300" fill-opacity="0.45"/>
<path d="M309.0 1127.8L314.9 1127.8L314.9 1147.3L309.0 1147.3Z" fill="#ffb200" fill-opacity="0.45"/>
<path d="M314.6 1125.7L321.7 1125.7L321.7 1148.4L314.6 1148.4Z" fill="#ffb000" fill-opacity="0.45"/>
<path d="M321.4 1128.4L325.0 1128.4L325.0 1142.2L321.4 1142.2Z" fill="#ffbb00" fill-opacity="0.45"/>
<path d="M324.7 1126.7L331.7 1126.7L331.7 1142.6L324.7 1142.6Z" fill="#ffc400" fill-opacity="0.45"/>
<path d="M331.4 1124.4L336.9 1124.4L336.9 1148.7L331.4 1148.7Z" fill="#ffc000" fill-opacity="0.45"/>
<path d="M336.6 1128.4L345.8 1128.4L345.8 1148.5L336.6 1148.5Z" fill="#ffbf00" fill-opacity="0.45"/>
<path d="M345.5 1127.8L352.8 1127.8L352.8 1146.2L345.5 1146.2Z" fill="#ffb700" fill-opacity="0.45"/>
<path d="M352.5 1130.2L357.9 1130.2L357.9 1147.3L352.5 1147.3Z" fill="#ffca00" fill-opacity="0.45"/>
<path d="M357.6 1131.9L361.0 1131.9L361.0 1145.3L357.6 1145.3Z" fill="#ffbd00" fill-opacity="0.45"/>
<path d="M375.0 1138.0L400.0 1138.0L400.0 1148.0L375.0 1148.0Z" fill="#ffd200" fill-opacity="0.8"/>
<path d="M62.0 1113.0L360.0 1115.0L375.0 1121.0L385.0 1127.0L392.0 1133.0L400.0 1138.0L428.0 1143.0L428.0 1147.0L400.0 1142.0L392.0 1138.0L380.0 1132.0L360.0 1125.0L62.0 1123.0Z" fill="#ff5000"/>
<path d="M62.0 1085.0L350.0 1085.0L365.0 1087.0L380.0 1090.0L392.0 1093.0L397.0 1100.0L401.0 1108.0L410.0 1112.0L418.0 1118.0L428.0 1122.0L428.0 1146.0L400.0 1140.0L392.0 1135.0L385.0 1128.0L375.0 1122.0L360.0 1116.0L62.0 1114.0Z" fill="#fb0000"/>
<path d="M62.0 1072.6L428.0 1072.6L428.0 1122.5L418.0 1118.5L410.0 1112.5L401.0 1108.5L397.0 1100.5L392.0 1093.5L380.0 1090.5L365.0 1087.5L350.0 1085.5L62.0 1085.5Z" fill="#ff5b00"/>
<path d="M62.0 1072.6L428.0 1072.6L428.0 1116.0L418.0 1110.0L410.0 1104.0L401.0 1100.0L397.0 1094.0L392.0 1090.0L380.0 1087.0L365.0 1084.0L350.0 1082.0L62.0 1082.0Z" fill="#ffdd00"/>
<path d="M140.0 1072.6L428.0 1072.6L428.0 1110.0L418.0 1100.0L410.0 1096.0L401.0 1093.0L397.0 1090.0L392.0 1088.0L380.0 1085.0L365.0 1082.0L350.0 1080.6L140.0 1080.6Z" fill="#00ff00"/>
<path d="M360.0 1072.6L428.0 1072.6L428.0 1092.0L418.0 1091.0L410.0 1089.0L400.0 1086.0L392.0 1083.0L375.0 1080.0L360.0 1078.6Z" fill="#00ffff"/>
<path d="M62.0 1149.0L428.0 1149.0L428.0 1156.0L62.0 1156.0Z" fill="#e70000"/>
<path d="M405.0 1148.0L428.0 1148.0L428.0 1156.0L405.0 1156.0Z" fill="#c80000" fill-opacity="0.7"/>
<ellipse cx="185" cy="1100" rx="45" ry="4" fill="#c80000" fill-opacity="0.45"/>
<ellipse cx="330" cy="1100" rx="25" ry="4" fill="#c80000" fill-opacity="0.45"/>
<ellipse cx="235" cy="1100" rx="12" ry="5" fill="#c80000" fill-opacity="0.4"/>
<ellipse cx="395" cy="1079.5" rx="20" ry="1.5" fill="#0070ff" fill-opacity="0.6"/>
</g>
<path d="M176.3 1079.8h1.6v1.4h-1.6zM192.7 1079.2h1.6v1.4h-1.6zM269.3 1080.5h1.6v1.4h-1.6zM285.7 1079.3h1.6v1.4h-1.6zM175.8 1079.3h1.6v1.4h-1.6zM167.4 1080.1h1.6v1.4h-1.6zM320.8 1078.8h1.6v1.4h-1.6zM147.1 1080.3h1.6v1.4h-1.6zM155.9 1078.6h1.6v1.4h-1.6zM189.0 1078.7h1.6v1.4h-1.6zM231.7 1078.6h1.6v1.4h-1.6zM187.3 1079.9h1.6v1.4h-1.6zM322.7 1080.5h1.6v1.4h-1.6zM318.7 1079.5h1.6v1.4h-1.6zM344.6 1080.5h1.6v1.4h-1.6zM263.7 1078.9h1.6v1.4h-1.6z" fill="#00ffc0"/><path d="M202.8 1079.4h1.6v1.4h-1.6zM219.1 1079.4h1.6v1.4h-1.6zM157.4 1080.0h1.6v1.4h-1.6zM185.1 1079.4h1.6v1.4h-1.6zM145.5 1080.3h1.6v1.4h-1.6zM264.3 1079.5h1.6v1.4h-1.6zM315.2 1080.0h1.6v1.4h-1.6zM260.8 1078.7h1.6v1.4h-1.6zM213.7 1079.8h1.6v1.4h-1.6zM343.5 1080.3h1.6v1.4h-1.6z" fill="#00ff40"/><path d="M176.6 1080.0h1.6v1.4h-1.6zM292.5 1080.3h1.6v1.4h-1.6zM316.3 1080.5h1.6v1.4h-1.6zM163.2 1078.7h1.6v1.4h-1.6zM307.0 1080.4h1.6v1.4h-1.6zM213.2 1080.0h1.6v1.4h-1.6zM350.9 1080.3h1.6v1.4h-1.6zM192.6 1078.7h1.6v1.4h-1.6zM157.2 1080.3h1.6v1.4h-1.6zM170.3 1079.6h1.6v1.4h-1.6zM297.2 1079.1h1.6v1.4h-1.6zM297.5 1078.7h1.6v1.4h-1.6zM188.7 1080.0h1.6v1.4h-1.6zM308.3 1079.5h1.6v1.4h-1.6z" fill="#00e0ff"/><path d="M364.9 1079.7h1.6v1.4h-1.6zM414.8 1086.7h1.6v1.4h-1.6zM420.1 1081.7h1.6v1.4h-1.6zM397.5 1083.6h1.6v1.4h-1.6zM364.5 1085.0h1.6v1.4h-1.6zM365.8 1078.6h1.6v1.4h-1.6zM396.2 1081.8h1.6v1.4h-1.6zM414.1 1086.2h1.6v1.4h-1.6zM396.5 1086.4h1.6v1.4h-1.6zM420.9 1083.5h1.6v1.4h-1.6zM367.2 1083.7h1.6v1.4h-1.6zM416.1 1085.4h1.6v1.4h-1.6zM410.1 1081.8h1.6v1.4h-1.6zM362.6 1080.8h1.6v1.4h-1.6zM388.9 1085.6h1.6v1.4h-1.6zM406.2 1080.6h1.6v1.4h-1.6zM384.1 1086.0h1.6v1.4h-1.6z" fill="#ffffff"/><path d="M389.4 1079.8h1.6v1.4h-1.6zM372.8 1082.0h1.6v1.4h-1.6zM379.0 1079.9h1.6v1.4h-1.6zM398.8 1080.2h1.6v1.4h-1.6zM403.5 1085.5h1.6v1.4h-1.6zM390.9 1079.4h1.6v1.4h-1.6zM403.5 1085.4h1.6v1.4h-1.6zM405.8 1086.8h1.6v1.4h-1.6zM370.4 1080.0h1.6v1.4h-1.6zM420.9 1080.0h1.6v1.4h-1.6zM408.4 1080.6h1.6v1.4h-1.6zM370.5 1084.2h1.6v1.4h-1.6zM363.9 1084.6h1.6v1.4h-1.6zM365.0 1085.3h1.6v1.4h-1.6zM408.4 1080.5h1.6v1.4h-1.6zM383.7 1084.8h1.6v1.4h-1.6zM377.9 1080.0h1.6v1.4h-1.6zM375.2 1082.9h1.6v1.4h-1.6zM373.2 1079.7h1.6v1.4h-1.6zM378.2 1083.1h1.6v1.4h-1.6z" fill="#3050ff"/><path d="M394.9 1081.6h1.6v1.4h-1.6zM384.4 1083.1h1.6v1.4h-1.6zM409.6 1085.7h1.6v1.4h-1.6zM384.0 1083.9h1.6v1.4h-1.6zM386.9 1081.2h1.6v1.4h-1.6zM396.4 1084.4h1.6v1.4h-1.6zM384.5 1086.5h1.6v1.4h-1.6zM371.8 1083.2h1.6v1.4h-1.6zM372.8 1080.2h1.6v1.4h-1.6zM382.3 1082.9h1.6v1.4h-1.6zM407.8 1079.7h1.6v1.4h-1.6zM391.8 1085.4h1.6v1.4h-1.6zM411.5 1080.7h1.6v1.4h-1.6zM379.4 1084.2h1.6v1.4h-1.6zM395.8 1082.4h1.6v1.4h-1.6zM399.6 1085.6h1.6v1.4h-1.6zM385.2 1080.7h1.6v1.4h-1.6zM374.2 1081.0h1.6v1.4h-1.6zM374.4 1082.9h1.6v1.4h-1.6zM370.8 1082.3h1.6v1.4h-1.6zM403.7 1079.7h1.6v1.4h-1.6zM416.3 1082.7h1.6v1.4h-1.6zM393.0 1082.8h1.6v1.4h-1.6z" fill="#0090ff"/><path d="M419.6 1081.9h1.6v1.4h-1.6zM419.2 1083.7h1.6v1.4h-1.6zM414.7 1086.4h1.6v1.4h-1.6zM373.0 1083.0h1.6v1.4h-1.6zM412.4 1081.3h1.6v1.4h-1.6zM374.4 1084.5h1.6v1.4h-1.6zM378.9 1079.2h1.6v1.4h-1.6zM378.7 1080.7h1.6v1.4h-1.6zM369.3 1082.2h1.6v1.4h-1.6zM416.6 1086.7h1.6v1.4h-1.6zM393.3 1081.8h1.6v1.4h-1.6zM404.4 1082.4h1.6v1.4h-1.6zM412.1 1085.3h1.6v1.4h-1.6zM419.1 1083.8h1.6v1.4h-1.6zM400.0 1080.6h1.6v1.4h-1.6zM386.8 1081.8h1.6v1.4h-1.6zM404.7 1081.5h1.6v1.4h-1.6z" fill="#00c0ff"/><path d="M370.5 1082.3h1.6v1.4h-1.6zM417.3 1079.4h1.6v1.4h-1.6zM376.9 1084.1h1.6v1.4h-1.6zM370.2 1081.3h1.6v1.4h-1.6zM403.9 1085.8h1.6v1.4h-1.6zM373.0 1086.5h1.6v1.4h-1.6zM419.8 1082.3h1.6v1.4h-1.6zM372.2 1082.6h1.6v1.4h-1.6zM397.8 1083.9h1.6v1.4h-1.6zM413.8 1084.1h1.6v1.4h-1.6zM406.1 1079.9h1.6v1.4h-1.6zM379.0 1086.4h1.6v1.4h-1.6zM369.4 1084.2h1.6v1.4h-1.6zM396.5 1086.3h1.6v1.4h-1.6zM409.8 1080.9h1.6v1.4h-1.6zM397.3 1078.8h1.6v1.4h-1.6zM391.9 1081.7h1.6v1.4h-1.6zM379.5 1079.4h1.6v1.4h-1.6zM394.5 1086.9h1.6v1.4h-1.6zM390.6 1082.8h1.6v1.4h-1.6zM387.5 1084.7h1.6v1.4h-1.6zM416.9 1086.7h1.6v1.4h-1.6zM390.3 1080.8h1.6v1.4h-1.6z" fill="#0060ff"/><path d="M364.4 1084.1h1.6v1.4h-1.6zM420.0 1080.2h1.6v1.4h-1.6zM392.5 1083.1h1.6v1.4h-1.6zM387.7 1086.5h1.6v1.4h-1.6zM397.7 1081.9h1.6v1.4h-1.6zM366.4 1080.3h1.6v1.4h-1.6zM389.4 1078.7h1.6v1.4h-1.6zM371.8 1079.2h1.6v1.4h-1.6zM393.5 1080.8h1.6v1.4h-1.6zM388.8 1081.5h1.6v1.4h-1.6zM363.2 1085.1h1.6v1.4h-1.6zM374.8 1082.2h1.6v1.4h-1.6zM418.3 1084.3h1.6v1.4h-1.6zM404.7 1082.1h1.6v1.4h-1.6zM403.8 1081.5h1.6v1.4h-1.6zM416.4 1085.3h1.6v1.4h-1.6zM383.6 1085.1h1.6v1.4h-1.6zM413.2 1085.8h1.6v1.4h-1.6zM409.2 1080.5h1.6v1.4h-1.6zM385.8 1086.2h1.6v1.4h-1.6zM387.2 1081.3h1.6v1.4h-1.6zM386.1 1082.3h1.6v1.4h-1.6zM398.7 1080.1h1.6v1.4h-1.6zM368.7 1083.8h1.6v1.4h-1.6zM370.7 1086.8h1.6v1.4h-1.6zM390.1 1086.9h1.6v1.4h-1.6zM374.2 1080.0h1.6v1.4h-1.6zM420.6 1079.3h1.6v1.4h-1.6zM393.2 1082.4h1.6v1.4h-1.6zM416.9 1085.0h1.6v1.4h-1.6z" fill="#00ffff"/><path d="M343.8 1078.9h1.6v1.4h-1.6zM344.8 1079.3h1.6v1.4h-1.6zM361.9 1079.5h1.6v1.4h-1.6zM353.9 1079.5h1.6v1.4h-1.6zM346.2 1079.4h1.6v1.4h-1.6zM344.0 1078.7h1.6v1.4h-1.6zM356.4 1078.7h1.6v1.4h-1.6zM347.4 1078.9h1.6v1.4h-1.6zM360.9 1079.0h1.6v1.4h-1.6zM341.6 1079.5h1.6v1.4h-1.6zM360.9 1078.7h1.6v1.4h-1.6zM341.5 1079.0h1.6v1.4h-1.6z" fill="#ffffff"/>
</g>
<g clip-path="url(#cp_Eu)"><g filter="url(#blr)">
<path d="M62.0 1153.2L428.0 1153.2L428.0 1236.0L62.0 1236.0Z" fill="#00ff00"/>
<path d="M62.0 1229.0L428.0 1229.0L428.0 1236.0L62.0 1236.0Z" fill="#00ffff"/>
<path d="M62.0 1207.5L65.5 1207.5L65.5 1224.6L62.0 1224.6Z" fill="#7cff00" fill-opacity="0.5"/>
<path d="M65.2 1204.9L68.2 1204.9L68.2 1224.9L65.2 1224.9Z" fill="#a2ff00" fill-opacity="0.5"/>
<path d="M67.9 1202.3L71.1 1202.3L71.1 1227.1L67.9 1227.1Z" fill="#81ff00" fill-opacity="0.5"/>
<path d="M70.8 1206.1L75.7 1206.1L75.7 1224.7L70.8 1224.7Z" fill="#a5ff00" fill-opacity="0.5"/>
<path d="M75.4 1206.8L78.7 1206.8L78.7 1224.4L75.4 1224.4Z" fill="#60ff00" fill-opacity="0.5"/>
<path d="M78.4 1203.7L81.2 1203.7L81.2 1229.8L78.4 1229.8Z" fill="#b7ff00" fill-opacity="0.5"/>
<path d="M80.9 1206.0L84.9 1206.0L84.9 1223.4L80.9 1223.4Z" fill="#d1ff00" fill-opacity="0.5"/>
<path d="M84.6 1204.3L88.9 1204.3L88.9 1223.0L84.6 1223.0Z" fill="#b9ff00" fill-opacity="0.5"/>
<path d="M88.6 1201.1L90.6 1201.1L90.6 1225.1L88.6 1225.1Z" fill="#a8ff00" fill-opacity="0.5"/>
<path d="M90.3 1204.4L95.1 1204.4L95.1 1222.9L90.3 1222.9Z" fill="#d8ff00" fill-opacity="0.5"/>
<path d="M94.8 1202.7L97.8 1202.7L97.8 1227.0L94.8 1227.0Z" fill="#a7ff00" fill-opacity="0.5"/>
<path d="M97.5 1204.9L101.4 1204.9L101.4 1225.4L97.5 1225.4Z" fill="#4cff00" fill-opacity="0.5"/>
<path d="M101.1 1204.1L104.3 1204.1L104.3 1222.8L101.1 1222.8Z" fill="#06ff00" fill-opacity="0.5"/>
<path d="M104.0 1206.0L108.2 1206.0L108.2 1225.3L104.0 1225.3Z" fill="#23ff00" fill-opacity="0.5"/>
<path d="M107.9 1202.6L113.1 1202.6L113.1 1225.0L107.9 1225.0Z" fill="#09ff00" fill-opacity="0.5"/>
<path d="M112.8 1207.1L117.8 1207.1L117.8 1229.5L112.8 1229.5Z" fill="#00ff12" fill-opacity="0.5"/>
<path d="M117.5 1204.6L122.3 1204.6L122.3 1229.0L117.5 1229.0Z" fill="#00ff12" fill-opacity="0.5"/>
<path d="M122.0 1202.4L126.3 1202.4L126.3 1226.9L122.0 1226.9Z" fill="#22ff00" fill-opacity="0.5"/>
<path d="M126.0 1202.7L130.3 1202.7L130.3 1228.7L126.0 1228.7Z" fill="#00ff0c" fill-opacity="0.5"/>
<path d="M130.0 1204.9L133.8 1204.9L133.8 1224.1L130.0 1224.1Z" fill="#00ff12" fill-opacity="0.5"/>
<path d="M133.5 1204.2L136.2 1204.2L136.2 1223.2L133.5 1223.2Z" fill="#00ff12" fill-opacity="0.5"/>
<path d="M135.9 1205.7L140.8 1205.7L140.8 1222.7L135.9 1222.7Z" fill="#3fff00" fill-opacity="0.5"/>
<path d="M140.5 1204.0L144.4 1204.0L144.4 1223.0L140.5 1223.0Z" fill="#00ff03" fill-opacity="0.5"/>
<path d="M144.1 1203.2L147.7 1203.2L147.7 1223.9L144.1 1223.9Z" fill="#00ff12" fill-opacity="0.5"/>
<path d="M147.4 1205.6L150.8 1205.6L150.8 1228.3L147.4 1228.3Z" fill="#3aff00" fill-opacity="0.5"/>
<path d="M150.5 1201.5L154.8 1201.5L154.8 1222.5L150.5 1222.5Z" fill="#40ff00" fill-opacity="0.5"/>
<path d="M154.5 1203.7L156.8 1203.7L156.8 1229.4L154.5 1229.4Z" fill="#43ff00" fill-opacity="0.5"/>
<path d="M156.5 1206.1L159.0 1206.1L159.0 1226.9L156.5 1226.9Z" fill="#00ff03" fill-opacity="0.5"/>
<path d="M158.7 1204.6L160.7 1204.6L160.7 1228.6L158.7 1228.6Z" fill="#00ff12" fill-opacity="0.5"/>
<path d="M160.4 1205.3L164.9 1205.3L164.9 1229.5L160.4 1229.5Z" fill="#2fff00" fill-opacity="0.5"/>
<path d="M164.6 1202.1L168.1 1202.1L168.1 1228.7L164.6 1228.7Z" fill="#06ff00" fill-opacity="0.5"/>
<path d="M167.8 1208.8L171.8 1208.8L171.8 1227.1L167.8 1227.1Z" fill="#1dff00" fill-opacity="0.5"/>
<path d="M171.5 1208.4L174.4 1208.4L174.4 1223.4L171.5 1223.4Z" fill="#43ff00" fill-opacity="0.5"/>
<path d="M174.1 1201.9L179.2 1201.9L179.2 1226.1L174.1 1226.1Z" fill="#32ff00" fill-opacity="0.5"/>
<path d="M178.9 1203.2L183.5 1203.2L183.5 1228.1L178.9 1228.1Z" fill="#31ff00" fill-opacity="0.5"/>
<path d="M183.2 1203.9L185.3 1203.9L185.3 1226.9L183.2 1226.9Z" fill="#52ff00" fill-opacity="0.5"/>
<path d="M185.0 1202.6L188.6 1202.6L188.6 1228.6L185.0 1228.6Z" fill="#27ff00" fill-opacity="0.5"/>
<path d="M188.3 1205.7L191.7 1205.7L191.7 1228.1L188.3 1228.1Z" fill="#00ff02" fill-opacity="0.5"/>
<path d="M191.4 1202.2L193.5 1202.2L193.5 1228.1L191.4 1228.1Z" fill="#00ff08" fill-opacity="0.5"/>
<path d="M193.2 1205.5L195.2 1205.5L195.2 1226.1L193.2 1226.1Z" fill="#36ff00" fill-opacity="0.5"/>
<path d="M194.9 1204.6L198.5 1204.6L198.5 1223.4L194.9 1223.4Z" fill="#0bff00" fill-opacity="0.5"/>
<path d="M198.2 1205.9L201.3 1205.9L201.3 1224.6L198.2 1224.6Z" fill="#1dff00" fill-opacity="0.5"/>
<path d="M201.0 1207.2L204.9 1207.2L204.9 1222.0L201.0 1222.0Z" fill="#55ff00" fill-opacity="0.5"/>
<path d="M204.6 1207.6L208.2 1207.6L208.2 1226.7L204.6 1226.7Z" fill="#15ff00" fill-opacity="0.5"/>
<path d="M207.9 1205.1L211.2 1205.1L211.2 1223.7L207.9 1223.7Z" fill="#2aff00" fill-opacity="0.5"/>
<path d="M210.9 1201.3L215.9 1201.3L215.9 1224.3L210.9 1224.3Z" fill="#00ff12" fill-opacity="0.5"/>
<path d="M215.6 1205.9L217.9 1205.9L217.9 1225.1L215.6 1225.1Z" fill="#00ff12" fill-opacity="0.5"/>
<path d="M217.6 1208.5L222.8 1208.5L222.8 1229.8L217.6 1229.8Z" fill="#00ff12" fill-opacity="0.5"/>
<path d="M222.5 1201.6L226.3 1201.6L226.3 1229.5L222.5 1229.5Z" fill="#22ff00" fill-opacity="0.5"/>
<path d="M226.0 1208.4L229.3 1208.4L229.3 1225.2L226.0 1225.2Z" fill="#03ff00" fill-opacity="0.5"/>
<path d="M229.0 1207.4L231.1 1207.4L231.1 1223.4L229.0 1223.4Z" fill="#00ff12" fill-opacity="0.5"/>
<path d="M230.8 1207.5L234.8 1207.5L234.8 1229.8L230.8 1229.8Z" fill="#00ff12" fill-opacity="0.5"/>
<path d="M234.5 1208.2L237.6 1208.2L237.6 1223.9L234.5 1223.9Z" fill="#20ff00" fill-opacity="0.5"/>
<path d="M237.3 1208.6L240.8 1208.6L240.8 1226.5L237.3 1226.5Z" fill="#80ff00" fill-opacity="0.5"/>
<path d="M240.5 1207.6L244.2 1207.6L244.2 1229.6L240.5 1229.6Z" fill="#24ff00" fill-opacity="0.5"/>
<path d="M243.9 1202.0L247.7 1202.0L247.7 1227.1L243.9 1227.1Z" fill="#00ff0c" fill-opacity="0.5"/>
<path d="M247.4 1207.7L251.6 1207.7L251.6 1222.3L247.4 1222.3Z" fill="#03ff00" fill-opacity="0.5"/>
<path d="M251.3 1203.5L253.1 1203.5L253.1 1222.4L251.3 1222.4Z" fill="#00ff12" fill-opacity="0.5"/>
<path d="M252.8 1207.5L255.5 1207.5L255.5 1226.2L252.8 1226.2Z" fill="#00ff12" fill-opacity="0.5"/>
<path d="M255.2 1202.2L257.7 1202.2L257.7 1229.9L255.2 1229.9Z" fill="#00ff11" fill-opacity="0.5"/>
<path d="M257.4 1205.6L259.5 1205.6L259.5 1229.2L257.4 1229.2Z" fill="#00ff12" fill-opacity="0.5"/>
<path d="M259.2 1205.9L263.3 1205.9L263.3 1227.9L259.2 1227.9Z" fill="#00ff12" fill-opacity="0.5"/>
<path d="M263.0 1203.0L268.1 1203.0L268.1 1228.6L263.0 1228.6Z" fill="#02ff00" fill-opacity="0.5"/>
<path d="M267.8 1202.6L272.0 1202.6L272.0 1228.7L267.8 1228.7Z" fill="#4dff00" fill-opacity="0.5"/>
<path d="M271.7 1203.0L275.2 1203.0L275.2 1222.8L271.7 1222.8Z" fill="#17ff00" fill-opacity="0.5"/>
<path d="M274.9 1206.1L279.8 1206.1L279.8 1224.0L274.9 1224.0Z" fill="#00ff12" fill-opacity="0.5"/>
<path d="M279.5 1207.8L282.2 1207.8L282.2 1222.5L279.5 1222.5Z" fill="#00ff12" fill-opacity="0.5"/>
<path d="M281.9 1204.9L285.1 1204.9L285.1 1227.0L281.9 1227.0Z" fill="#00ff12" fill-opacity="0.5"/>
<path d="M284.8 1207.8L289.6 1207.8L289.6 1229.1L284.8 1229.1Z" fill="#01ff00" fill-opacity="0.5"/>
<path d="M289.3 1201.5L293.9 1201.5L293.9 1226.2L289.3 1226.2Z" fill="#00ff12" fill-opacity="0.5"/>
<path d="M293.6 1205.2L296.1 1205.2L296.1 1226.3L293.6 1226.3Z" fill="#00ff12" fill-opacity="0.5"/>
<path d="M295.8 1202.7L300.3 1202.7L300.3 1226.6L295.8 1226.6Z" fill="#1cff00" fill-opacity="0.5"/>
<path d="M300.0 1206.8L303.5 1206.8L303.5 1227.7L300.0 1227.7Z" fill="#11ff00" fill-opacity="0.5"/>
<path d="M303.2 1201.7L307.4 1201.7L307.4 1226.7L303.2 1226.7Z" fill="#00ff04" fill-opacity="0.5"/>
<path d="M307.1 1201.8L309.8 1201.8L309.8 1222.6L307.1 1222.6Z" fill="#00ff12" fill-opacity="0.5"/>
<path d="M309.5 1205.9L312.9 1205.9L312.9 1224.0L309.5 1224.0Z" fill="#40ff00" fill-opacity="0.5"/>
<path d="M312.6 1206.4L317.7 1206.4L317.7 1222.6L312.6 1222.6Z" fill="#05ff00" fill-opacity="0.5"/>
<path d="M317.4 1207.7L322.6 1207.7L322.6 1225.0L317.4 1225.0Z" fill="#55ff00" fill-opacity="0.5"/>
<path d="M322.3 1208.4L325.6 1208.4L325.6 1226.7L322.3 1226.7Z" fill="#54ff00" fill-opacity="0.5"/>
<path d="M325.3 1204.4L328.0 1204.4L328.0 1227.8L325.3 1227.8Z" fill="#a3ff00" fill-opacity="0.5"/>
<path d="M327.7 1202.0L332.8 1202.0L332.8 1228.5L327.7 1228.5Z" fill="#c5ff00" fill-opacity="0.5"/>
<path d="M332.5 1204.0L335.9 1204.0L335.9 1223.4L332.5 1223.4Z" fill="#d8ff00" fill-opacity="0.5"/>
<path d="M335.6 1204.4L337.8 1204.4L337.8 1222.1L335.6 1222.1Z" fill="#d8ff00" fill-opacity="0.5"/>
<path d="M337.5 1202.7L341.1 1202.7L341.1 1229.4L337.5 1229.4Z" fill="#d8ff00" fill-opacity="0.5"/>
<path d="M340.8 1202.7L346.0 1202.7L346.0 1223.2L340.8 1223.2Z" fill="#baff00" fill-opacity="0.5"/>
<path d="M345.7 1202.7L347.9 1202.7L347.9 1228.4L345.7 1228.4Z" fill="#62ff00" fill-opacity="0.5"/>
<path d="M347.6 1206.0L350.9 1206.0L350.9 1223.1L347.6 1223.1Z" fill="#50ff00" fill-opacity="0.5"/>
<path d="M350.6 1205.1L355.1 1205.1L355.1 1223.7L350.6 1223.7Z" fill="#20ff00" fill-opacity="0.5"/>
<path d="M354.8 1204.1L357.5 1204.1L357.5 1225.5L354.8 1225.5Z" fill="#00ff12" fill-opacity="0.5"/>
<path d="M357.2 1203.7L359.4 1203.7L359.4 1227.4L357.2 1227.4Z" fill="#27ff00" fill-opacity="0.5"/>
<path d="M359.1 1208.8L361.5 1208.8L361.5 1223.9L359.1 1223.9Z" fill="#00ff12" fill-opacity="0.5"/>
<path d="M361.2 1204.4L363.1 1204.4L363.1 1222.1L361.2 1222.1Z" fill="#3aff00" fill-opacity="0.5"/>
<path d="M362.8 1208.7L366.8 1208.7L366.8 1228.5L362.8 1228.5Z" fill="#1aff00" fill-opacity="0.5"/>
<path d="M366.5 1203.6L370.6 1203.6L370.6 1229.3L366.5 1229.3Z" fill="#41ff00" fill-opacity="0.5"/>
<path d="M370.3 1201.4L375.4 1201.4L375.4 1222.5L370.3 1222.5Z" fill="#10ff00" fill-opacity="0.5"/>
<path d="M375.1 1207.4L378.7 1207.4L378.7 1229.3L375.1 1229.3Z" fill="#27ff00" fill-opacity="0.5"/>
<path d="M378.4 1204.2L381.6 1204.2L381.6 1229.2L378.4 1229.2Z" fill="#1cff00" fill-opacity="0.5"/>
<path d="M381.3 1202.6L383.9 1202.6L383.9 1229.4L381.3 1229.4Z" fill="#00ff12" fill-opacity="0.5"/>
<path d="M383.6 1203.0L385.9 1203.0L385.9 1225.0L383.6 1225.0Z" fill="#47ff00" fill-opacity="0.5"/>
<path d="M385.6 1201.6L388.1 1201.6L388.1 1223.3L385.6 1223.3Z" fill="#a2ff00" fill-opacity="0.5"/>
<path d="M387.8 1204.1L392.0 1204.1L392.0 1225.6L387.8 1225.6Z" fill="#9fff00" fill-opacity="0.5"/>
<path d="M62.0 1190.0L390.0 1191.0L395.0 1200.0L428.0 1208.0L428.0 1217.0L395.0 1214.0L390.0 1201.0L62.0 1200.0Z" fill="#fff400"/>
<path d="M62.0 1199.0L390.0 1200.0L395.0 1212.0L428.0 1216.0L428.0 1220.0L395.0 1217.0L390.0 1205.0L62.0 1205.0Z" fill="#bdff00"/>
<path d="M62.0 1168.0L100.0 1173.0L250.0 1178.0L390.0 1179.0L395.0 1195.0L428.0 1200.0L428.0 1209.0L395.0 1201.0L390.0 1192.0L62.0 1191.0Z" fill="#ff5b00"/>
<path d="M62.0 1178.1L66.1 1178.1L66.1 1190.0L62.0 1190.0Z" fill="#ff8600" fill-opacity="0.7"/>
<path d="M65.8 1176.0L68.8 1176.0L68.8 1191.0L65.8 1191.0Z" fill="#ff6500" fill-opacity="0.7"/>
<path d="M68.5 1178.7L70.7 1178.7L70.7 1189.7L68.5 1189.7Z" fill="#ff3f00" fill-opacity="0.7"/>
<path d="M70.4 1177.1L72.5 1177.1L72.5 1192.1L70.4 1192.1Z" fill="#ff4100" fill-opacity="0.7"/>
<path d="M72.2 1175.8L74.8 1175.8L74.8 1189.9L72.2 1189.9Z" fill="#ff3a00" fill-opacity="0.7"/>
<path d="M74.5 1177.7L76.5 1177.7L76.5 1191.5L74.5 1191.5Z" fill="#ff3600" fill-opacity="0.7"/>
<path d="M76.2 1177.1L80.4 1177.1L80.4 1190.9L76.2 1190.9Z" fill="#ff4600" fill-opacity="0.7"/>
<path d="M80.1 1177.3L84.3 1177.3L84.3 1190.8L80.1 1190.8Z" fill="#ff5600" fill-opacity="0.7"/>
<path d="M84.0 1177.2L87.5 1177.2L87.5 1192.0L84.0 1192.0Z" fill="#ff6800" fill-opacity="0.7"/>
<path d="M87.2 1176.9L90.4 1176.9L90.4 1190.1L87.2 1190.1Z" fill="#ff6100" fill-opacity="0.7"/>
<path d="M90.1 1180.7L92.2 1180.7L92.2 1193.0L90.1 1193.0Z" fill="#ff6c00" fill-opacity="0.7"/>
<path d="M91.9 1179.6L95.8 1179.6L95.8 1192.7L91.9 1192.7Z" fill="#ff7700" fill-opacity="0.7"/>
<path d="M95.5 1180.5L98.1 1180.5L98.1 1190.5L95.5 1190.5Z" fill="#ff7f00" fill-opacity="0.7"/>
<path d="M97.8 1181.2L100.8 1181.2L100.8 1191.2L97.8 1191.2Z" fill="#ff8b00" fill-opacity="0.7"/>
<path d="M100.5 1180.6L102.6 1180.6L102.6 1189.6L100.5 1189.6Z" fill="#ffa500" fill-opacity="0.7"/>
<path d="M102.3 1180.1L105.7 1180.1L105.7 1190.5L102.3 1190.5Z" fill="#ffa500" fill-opacity="0.7"/>
<path d="M105.4 1179.7L108.9 1179.7L108.9 1191.8L105.4 1191.8Z" fill="#ffa500" fill-opacity="0.7"/>
<path d="M108.6 1182.0L111.0 1182.0L111.0 1193.0L108.6 1193.0Z" fill="#ff7d00" fill-opacity="0.7"/>
<path d="M110.7 1180.3L114.9 1180.3L114.9 1192.5L110.7 1192.5Z" fill="#ff5900" fill-opacity="0.7"/>
<path d="M114.6 1181.7L117.4 1181.7L117.4 1192.8L114.6 1192.8Z" fill="#ff7c00" fill-opacity="0.7"/>
<path d="M117.1 1179.0L119.5 1179.0L119.5 1192.0L117.1 1192.0Z" fill="#ff8700" fill-opacity="0.7"/>
<path d="M119.2 1178.2L121.4 1178.2L121.4 1190.8L119.2 1190.8Z" fill="#ff6d00" fill-opacity="0.7"/>
<path d="M121.1 1178.6L124.9 1178.6L124.9 1189.3L121.1 1189.3Z" fill="#ff6e00" fill-opacity="0.7"/>
<path d="M124.6 1179.2L128.1 1179.2L128.1 1191.6L124.6 1191.6Z" fill="#ff9100" fill-opacity="0.7"/>
<path d="M127.8 1181.3L130.4 1181.3L130.4 1192.1L127.8 1192.1Z" fill="#ffa500" fill-opacity="0.7"/>
<path d="M130.1 1180.0L133.4 1180.0L133.4 1193.0L130.1 1193.0Z" fill="#ffa500" fill-opacity="0.7"/>
<path d="M133.1 1181.9L136.2 1181.9L136.2 1190.6L133.1 1190.6Z" fill="#ffa500" fill-opacity="0.7"/>
<path d="M135.9 1181.6L139.0 1181.6L139.0 1191.9L135.9 1191.9Z" fill="#ffa500" fill-opacity="0.7"/>
<path d="M138.7 1179.5L141.8 1179.5L141.8 1191.1L138.7 1191.1Z" fill="#ffa500" fill-opacity="0.7"/>
<path d="M141.5 1181.0L144.6 1181.0L144.6 1192.2L141.5 1192.2Z" fill="#ffa500" fill-opacity="0.7"/>
<path d="M144.3 1181.0L146.2 1181.0L146.2 1190.6L144.3 1190.6Z" fill="#ffa500" fill-opacity="0.7"/>
<path d="M145.9 1182.1L148.0 1182.1L148.0 1190.6L145.9 1190.6Z" fill="#ff9500" fill-opacity="0.7"/>
<path d="M147.7 1180.4L151.0 1180.4L151.0 1191.6L147.7 1191.6Z" fill="#ff9100" fill-opacity="0.7"/>
<path d="M150.7 1181.7L154.8 1181.7L154.8 1192.0L150.7 1192.0Z" fill="#ff7300" fill-opacity="0.7"/>
<path d="M154.5 1181.1L158.2 1181.1L158.2 1192.0L154.5 1192.0Z" fill="#ff5e00" fill-opacity="0.7"/>
<path d="M157.9 1178.9L161.6 1178.9L161.6 1191.9L157.9 1191.9Z" fill="#ff8300" fill-opacity="0.7"/>
<path d="M161.3 1180.8L164.1 1180.8L164.1 1190.1L161.3 1190.1Z" fill="#ff9900" fill-opacity="0.7"/>
<path d="M163.8 1181.9L167.5 1181.9L167.5 1190.5L163.8 1190.5Z" fill="#ffa500" fill-opacity="0.7"/>
<path d="M167.2 1181.3L171.4 1181.3L171.4 1189.8L167.2 1189.8Z" fill="#ffa500" fill-opacity="0.7"/>
<path d="M171.1 1181.7L174.2 1181.7L174.2 1192.2L171.1 1192.2Z" fill="#ffa500" fill-opacity="0.7"/>
<path d="M173.9 1180.3L177.1 1180.3L177.1 1190.3L173.9 1190.3Z" fill="#ffa500" fill-opacity="0.7"/>
<path d="M176.8 1180.4L178.9 1180.4L178.9 1193.3L176.8 1193.3Z" fill="#ff9500" fill-opacity="0.7"/>
<path d="M178.6 1182.0L182.5 1182.0L182.5 1191.4L178.6 1191.4Z" fill="#ffa500" fill-opacity="0.7"/>
<path d="M182.2 1180.1L186.5 1180.1L186.5 1192.1L182.2 1192.1Z" fill="#ffa500" fill-opacity="0.7"/>
<path d="M186.2 1179.6L188.6 1179.6L188.6 1190.7L186.2 1190.7Z" fill="#ffa500" fill-opacity="0.7"/>
<path d="M188.3 1181.8L191.5 1181.8L191.5 1190.3L188.3 1190.3Z" fill="#ffa500" fill-opacity="0.7"/>
<path d="M191.2 1178.3L193.6 1178.3L193.6 1190.7L191.2 1190.7Z" fill="#ffa500" fill-opacity="0.7"/>
<path d="M193.3 1180.4L195.9 1180.4L195.9 1189.7L193.3 1189.7Z" fill="#ffa500" fill-opacity="0.7"/>
<path d="M195.6 1180.7L199.4 1180.7L199.4 1190.2L195.6 1190.2Z" fill="#ff8100" fill-opacity="0.7"/>
<path d="M199.1 1179.0L201.3 1179.0L201.3 1192.8L199.1 1192.8Z" fill="#ffa500" fill-opacity="0.7"/>
<path d="M201.0 1179.8L204.7 1179.8L204.7 1191.6L201.0 1191.6Z" fill="#ff8700" fill-opacity="0.7"/>
<path d="M204.4 1180.9L208.0 1180.9L208.0 1189.5L204.4 1189.5Z" fill="#ff7a00" fill-opacity="0.7"/>
<path d="M207.7 1179.5L212.0 1179.5L212.0 1190.7L207.7 1190.7Z" fill="#ff7400" fill-opacity="0.7"/>
<path d="M211.7 1178.5L215.4 1178.5L215.4 1190.3L211.7 1190.3Z" fill="#ff5100" fill-opacity="0.7"/>
<path d="M215.1 1180.8L217.0 1180.8L217.0 1191.9L215.1 1191.9Z" fill="#ff4500" fill-opacity="0.7"/>
<path d="M216.7 1181.9L219.0 1181.9L219.0 1190.7L216.7 1190.7Z" fill="#ff4c00" fill-opacity="0.7"/>
<path d="M218.7 1181.6L221.0 1181.6L221.0 1190.4L218.7 1190.4Z" fill="#ff6300" fill-opacity="0.7"/>
<path d="M220.7 1181.7L224.3 1181.7L224.3 1189.7L220.7 1189.7Z" fill="#ff5a00" fill-opacity="0.7"/>
<path d="M224.0 1180.4L226.5 1180.4L226.5 1189.8L224.0 1189.8Z" fill="#ff3500" fill-opacity="0.7"/>
<path d="M226.2 1181.0L228.3 1181.0L228.3 1190.7L226.2 1190.7Z" fill="#ff4e00" fill-opacity="0.7"/>
<path d="M228.0 1181.6L230.0 1181.6L230.0 1192.3L228.0 1192.3Z" fill="#ff6200" fill-opacity="0.7"/>
<path d="M229.7 1178.8L232.7 1178.8L232.7 1189.9L229.7 1189.9Z" fill="#ff7500" fill-opacity="0.7"/>
<path d="M232.4 1178.5L236.4 1178.5L236.4 1192.6L232.4 1192.6Z" fill="#ff6c00" fill-opacity="0.7"/>
<path d="M236.1 1182.0L240.3 1182.0L240.3 1190.8L236.1 1190.8Z" fill="#ff7400" fill-opacity="0.7"/>
<path d="M240.0 1180.5L242.7 1180.5L242.7 1191.0L240.0 1191.0Z" fill="#ff7c00" fill-opacity="0.7"/>
<path d="M242.4 1179.6L244.8 1179.6L244.8 1191.8L242.4 1191.8Z" fill="#ff9e00" fill-opacity="0.7"/>
<path d="M244.5 1180.5L248.4 1180.5L248.4 1191.1L244.5 1191.1Z" fill="#ff8d00" fill-opacity="0.7"/>
<path d="M248.1 1181.6L250.3 1181.6L250.3 1190.9L248.1 1190.9Z" fill="#ff7e00" fill-opacity="0.7"/>
<path d="M250.0 1179.9L253.7 1179.9L253.7 1189.5L250.0 1189.5Z" fill="#ff6100" fill-opacity="0.7"/>
<path d="M253.4 1178.8L257.3 1178.8L257.3 1192.0L253.4 1192.0Z" fill="#ff6000" fill-opacity="0.7"/>
<path d="M257.0 1181.1L260.4 1181.1L260.4 1191.7L257.0 1191.7Z" fill="#ff5600" fill-opacity="0.7"/>
<path d="M260.1 1181.1L262.0 1181.1L262.0 1193.0L260.1 1193.0Z" fill="#ff3600" fill-opacity="0.7"/>
<path d="M261.7 1180.4L264.7 1180.4L264.7 1192.5L261.7 1192.5Z" fill="#ff3000" fill-opacity="0.7"/>
<path d="M264.4 1181.6L266.5 1181.6L266.5 1191.0L264.4 1191.0Z" fill="#ff3e00" fill-opacity="0.7"/>
<path d="M266.2 1181.6L269.3 1181.6L269.3 1190.0L266.2 1190.0Z" fill="#ff4a00" fill-opacity="0.7"/>
<path d="M269.0 1178.8L271.5 1178.8L271.5 1191.2L269.0 1191.2Z" fill="#ff6e00" fill-opacity="0.7"/>
<path d="M271.2 1181.0L275.4 1181.0L275.4 1192.6L271.2 1192.6Z" fill="#ff8a00" fill-opacity="0.7"/>
<path d="M275.1 1178.6L278.6 1178.6L278.6 1192.5L275.1 1192.5Z" fill="#ffa500" fill-opacity="0.7"/>
<path d="M278.3 1181.2L280.7 1181.2L280.7 1193.5L278.3 1193.5Z" fill="#ff8e00" fill-opacity="0.7"/>
<path d="M280.4 1179.2L283.2 1179.2L283.2 1190.7L280.4 1190.7Z" fill="#ff7600" fill-opacity="0.7"/>
<path d="M282.9 1180.7L285.6 1180.7L285.6 1190.7L282.9 1190.7Z" fill="#ff8000" fill-opacity="0.7"/>
<path d="M285.3 1180.5L287.4 1180.5L287.4 1192.9L285.3 1192.9Z" fill="#ff8300" fill-opacity="0.7"/>
<path d="M287.1 1179.5L290.4 1179.5L290.4 1192.5L287.1 1192.5Z" fill="#ff8600" fill-opacity="0.7"/>
<path d="M290.1 1179.7L294.1 1179.7L294.1 1192.6L290.1 1192.6Z" fill="#ffa500" fill-opacity="0.7"/>
<path d="M293.8 1179.5L296.2 1179.5L296.2 1193.6L293.8 1193.6Z" fill="#ffa500" fill-opacity="0.7"/>
<path d="M295.9 1181.3L298.1 1181.3L298.1 1190.2L295.9 1190.2Z" fill="#ffa500" fill-opacity="0.7"/>
<path d="M297.8 1180.5L301.6 1180.5L301.6 1191.7L297.8 1191.7Z" fill="#ffa500" fill-opacity="0.7"/>
<path d="M301.3 1179.5L305.4 1179.5L305.4 1190.8L301.3 1190.8Z" fill="#ff8200" fill-opacity="0.7"/>
<path d="M305.1 1182.0L307.1 1182.0L307.1 1190.7L305.1 1190.7Z" fill="#ff9e00" fill-opacity="0.7"/>
<path d="M306.8 1179.8L309.9 1179.8L309.9 1189.9L306.8 1189.9Z" fill="#ff9a00" fill-opacity="0.7"/>
<path d="M309.6 1182.1L311.4 1182.1L311.4 1190.6L309.6 1190.6Z" fill="#ffa500" fill-opacity="0.7"/>
<path d="M311.1 1182.3L313.6 1182.3L313.6 1190.0L311.1 1190.0Z" fill="#ff8100" fill-opacity="0.7"/>
<path d="M313.3 1180.4L317.1 1180.4L317.1 1193.0L313.3 1193.0Z" fill="#ff8700" fill-opacity="0.7"/>
<path d="M316.8 1182.2L318.6 1182.2L318.6 1193.6L316.8 1193.6Z" fill="#ff8400" fill-opacity="0.7"/>
<path d="M318.3 1179.8L322.1 1179.8L322.1 1193.6L318.3 1193.6Z" fill="#ff8400" fill-opacity="0.7"/>
<path d="M321.8 1179.8L323.6 1179.8L323.6 1193.6L321.8 1193.6Z" fill="#ffa400" fill-opacity="0.7"/>
<path d="M323.3 1179.0L326.1 1179.0L326.1 1190.9L323.3 1190.9Z" fill="#ff8500" fill-opacity="0.7"/>
<path d="M325.8 1181.8L328.2 1181.8L328.2 1192.9L325.8 1192.9Z" fill="#ffa500" fill-opacity="0.7"/>
<path d="M327.9 1181.3L331.3 1181.3L331.3 1192.6L327.9 1192.6Z" fill="#ffa500" fill-opacity="0.7"/>
<path d="M331.0 1178.7L333.5 1178.7L333.5 1193.4L331.0 1193.4Z" fill="#ffa500" fill-opacity="0.7"/>
<path d="M333.2 1182.3L335.1 1182.3L335.1 1189.9L333.2 1189.9Z" fill="#ffa500" fill-opacity="0.7"/>
<path d="M334.8 1182.7L337.1 1182.7L337.1 1193.3L334.8 1193.3Z" fill="#ffa500" fill-opacity="0.7"/>
<path d="M336.8 1179.7L339.1 1179.7L339.1 1191.4L336.8 1191.4Z" fill="#ff9700" fill-opacity="0.7"/>
<path d="M338.8 1179.8L342.7 1179.8L342.7 1193.4L338.8 1193.4Z" fill="#ffa500" fill-opacity="0.7"/>
<path d="M342.4 1180.9L344.8 1180.9L344.8 1191.1L342.4 1191.1Z" fill="#ffa500" fill-opacity="0.7"/>
<path d="M344.5 1181.5L347.2 1181.5L347.2 1193.6L344.5 1193.6Z" fill="#ffa500" fill-opacity="0.7"/>
<path d="M346.9 1179.0L349.1 1179.0L349.1 1192.0L346.9 1192.0Z" fill="#ffa500" fill-opacity="0.7"/>
<path d="M348.8 1182.0L350.8 1182.0L350.8 1193.4L348.8 1193.4Z" fill="#ffa500" fill-opacity="0.7"/>
<path d="M350.5 1179.8L353.6 1179.8L353.6 1192.5L350.5 1192.5Z" fill="#ff8300" fill-opacity="0.7"/>
<path d="M353.3 1180.1L356.9 1180.1L356.9 1190.5L353.3 1190.5Z" fill="#ff7b00" fill-opacity="0.7"/>
<path d="M356.6 1181.6L358.8 1181.6L358.8 1192.0L356.6 1192.0Z" fill="#ff6300" fill-opacity="0.7"/>
<path d="M358.5 1182.1L362.2 1182.1L362.2 1192.4L358.5 1192.4Z" fill="#ff8800" fill-opacity="0.7"/>
<path d="M361.9 1182.6L365.4 1182.6L365.4 1191.0L361.9 1191.0Z" fill="#ff9f00" fill-opacity="0.7"/>
<path d="M365.1 1181.0L367.8 1181.0L367.8 1192.7L365.1 1192.7Z" fill="#ff7600" fill-opacity="0.7"/>
<path d="M367.5 1180.8L371.3 1180.8L371.3 1190.6L367.5 1190.6Z" fill="#ff5a00" fill-opacity="0.7"/>
<path d="M371.0 1180.9L374.2 1180.9L374.2 1190.4L371.0 1190.4Z" fill="#ff7300" fill-opacity="0.7"/>
<path d="M373.9 1181.7L378.2 1181.7L378.2 1192.4L373.9 1192.4Z" fill="#ff7a00" fill-opacity="0.7"/>
<path d="M377.9 1178.9L380.7 1178.9L380.7 1193.3L377.9 1193.3Z" fill="#ff8500" fill-opacity="0.7"/>
<path d="M380.4 1180.9L382.3 1180.9L382.3 1190.9L380.4 1190.9Z" fill="#ff9c00" fill-opacity="0.7"/>
<path d="M382.0 1180.8L385.6 1180.8L385.6 1193.8L382.0 1193.8Z" fill="#ff7d00" fill-opacity="0.7"/>
<path d="M385.3 1182.9L387.6 1182.9L387.6 1190.2L385.3 1190.2Z" fill="#ff7000" fill-opacity="0.7"/>
<path d="M387.3 1182.0L390.9 1182.0L390.9 1192.5L387.3 1192.5Z" fill="#ff6500" fill-opacity="0.7"/>
<path d="M390.6 1181.2L394.5 1181.2L394.5 1190.0L390.6 1190.0Z" fill="#ff7600" fill-opacity="0.7"/>
<path d="M62.0 1151.2L428.0 1151.2L428.0 1200.0L395.0 1195.0L390.0 1179.0L250.0 1178.0L100.0 1173.0L62.0 1168.0Z" fill="#ff0000"/>
<path d="M62.0 1151.2L428.0 1151.2L428.0 1185.0L395.0 1180.0L390.0 1167.0L100.0 1165.0L62.0 1163.0Z" fill="#d00000" fill-opacity="0.75"/>
<path d="M418.0 1151.2L428.0 1151.2L428.0 1175.0L418.0 1175.0Z" fill="#ffc700" fill-opacity="0.8"/>
<ellipse cx="215" cy="1228" rx="10" ry="3" fill="#00ffff" fill-opacity="0.6"/>
<ellipse cx="118" cy="1220" rx="3" ry="5" fill="#f2ff00" fill-opacity="0.85"/>
<ellipse cx="135.5" cy="1224" rx="2.5" ry="5" fill="#f2ff00" fill-opacity="0.85"/>
<ellipse cx="167" cy="1218" rx="4" ry="6" fill="#f2ff00" fill-opacity="0.85"/>
<ellipse cx="179" cy="1220" rx="3" ry="5" fill="#f2ff00" fill-opacity="0.8"/>
<ellipse cx="186" cy="1219" rx="3" ry="7" fill="#f2ff00" fill-opacity="0.8"/>
<ellipse cx="225" cy="1218" rx="6" ry="8" fill="#fff400" fill-opacity="0.8"/>
<ellipse cx="262" cy="1216" rx="7" ry="6" fill="#f2ff00" fill-opacity="0.85"/>
<ellipse cx="280" cy="1219" rx="6" ry="6" fill="#f2ff00" fill-opacity="0.85"/>
<ellipse cx="306" cy="1220" rx="2.5" ry="5" fill="#f2ff00" fill-opacity="0.8"/>
<ellipse cx="331" cy="1215" rx="8" ry="3" fill="#f2ff00" fill-opacity="0.8"/>
<ellipse cx="360" cy="1214" rx="6" ry="3" fill="#d8ff00" fill-opacity="0.7"/>
<ellipse cx="107" cy="1214" rx="3" ry="7" fill="#f2ff00" fill-opacity="0.7"/>
</g>
<path d="M134.6 1206.2h1.3v3h-1.3zM76.0 1216.4h1.3v3h-1.3zM235.0 1221.6h1.3v3h-1.3zM142.4 1222.2h1.3v3h-1.3zM377.1 1221.9h1.3v3h-1.3zM422.2 1212.9h1.3v3h-1.3zM211.6 1210.8h1.3v3h-1.3zM91.8 1211.7h1.3v3h-1.3zM86.5 1227.2h1.3v3h-1.3zM241.0 1227.3h1.3v3h-1.3zM198.0 1205.8h1.3v3h-1.3zM419.9 1214.6h1.3v3h-1.3zM261.5 1211.8h1.3v3h-1.3zM233.5 1206.0h1.3v3h-1.3zM208.3 1225.5h1.3v3h-1.3zM168.2 1221.0h1.3v3h-1.3zM342.4 1219.5h1.3v3h-1.3zM235.9 1217.3h1.3v3h-1.3zM142.5 1216.1h1.3v3h-1.3zM339.3 1222.2h1.3v3h-1.3zM156.9 1220.3h1.3v3h-1.3zM303.1 1221.0h1.3v3h-1.3zM221.9 1210.3h1.3v3h-1.3zM81.3 1211.6h1.3v3h-1.3zM304.2 1226.9h1.3v3h-1.3zM153.8 1207.8h1.3v3h-1.3zM295.0 1209.0h1.3v3h-1.3zM354.6 1224.0h1.3v3h-1.3zM132.3 1221.6h1.3v3h-1.3zM147.1 1221.9h1.3v3h-1.3zM79.7 1224.8h1.3v3h-1.3zM142.4 1220.8h1.3v3h-1.3zM72.6 1213.5h1.3v3h-1.3zM140.6 1219.0h1.3v3h-1.3zM182.4 1206.2h1.3v3h-1.3zM91.9 1205.2h1.3v3h-1.3zM383.2 1209.5h1.3v3h-1.3zM155.4 1210.1h1.3v3h-1.3zM220.3 1216.2h1.3v3h-1.3zM232.1 1227.7h1.3v3h-1.3zM307.7 1207.8h1.3v3h-1.3zM349.2 1209.8h1.3v3h-1.3z" fill="#00ff80"/><path d="M111.4 1207.8h1.3v3h-1.3zM356.3 1214.5h1.3v3h-1.3zM68.2 1210.0h1.3v3h-1.3zM261.3 1213.0h1.3v3h-1.3zM154.6 1209.4h1.3v3h-1.3zM354.3 1214.2h1.3v3h-1.3zM109.9 1223.1h1.3v3h-1.3zM274.1 1213.0h1.3v3h-1.3zM159.9 1222.5h1.3v3h-1.3zM316.5 1221.0h1.3v3h-1.3zM138.8 1210.6h1.3v3h-1.3zM359.2 1223.6h1.3v3h-1.3zM387.8 1209.7h1.3v3h-1.3zM237.7 1221.2h1.3v3h-1.3zM392.9 1218.6h1.3v3h-1.3zM260.0 1225.1h1.3v3h-1.3zM291.2 1219.3h1.3v3h-1.3zM401.5 1218.3h1.3v3h-1.3zM263.8 1211.8h1.3v3h-1.3zM411.7 1209.1h1.3v3h-1.3zM224.3 1215.4h1.3v3h-1.3zM398.2 1214.7h1.3v3h-1.3zM262.0 1208.9h1.3v3h-1.3zM134.4 1218.7h1.3v3h-1.3zM97.2 1211.9h1.3v3h-1.3zM276.2 1217.3h1.3v3h-1.3zM177.1 1218.0h1.3v3h-1.3zM363.4 1214.2h1.3v3h-1.3zM153.9 1213.2h1.3v3h-1.3zM320.7 1205.7h1.3v3h-1.3zM205.4 1212.9h1.3v3h-1.3zM135.4 1222.7h1.3v3h-1.3zM294.7 1208.7h1.3v3h-1.3zM350.7 1225.1h1.3v3h-1.3zM331.8 1226.2h1.3v3h-1.3zM100.2 1212.5h1.3v3h-1.3z" fill="#a0ff00"/><path d="M267.1 1227.8h1.3v3h-1.3zM180.4 1210.6h1.3v3h-1.3zM166.9 1206.9h1.3v3h-1.3zM275.3 1212.6h1.3v3h-1.3zM106.9 1207.6h1.3v3h-1.3zM268.6 1210.5h1.3v3h-1.3zM94.2 1210.2h1.3v3h-1.3zM200.7 1219.8h1.3v3h-1.3zM264.6 1227.1h1.3v3h-1.3zM287.3 1221.7h1.3v3h-1.3zM131.2 1214.0h1.3v3h-1.3zM171.4 1213.1h1.3v3h-1.3zM198.7 1221.5h1.3v3h-1.3zM401.2 1210.1h1.3v3h-1.3zM320.7 1212.8h1.3v3h-1.3zM90.2 1226.1h1.3v3h-1.3zM120.5 1208.7h1.3v3h-1.3zM194.8 1221.6h1.3v3h-1.3zM350.9 1224.9h1.3v3h-1.3zM164.4 1217.1h1.3v3h-1.3zM158.0 1214.8h1.3v3h-1.3zM270.9 1226.8h1.3v3h-1.3zM134.5 1207.0h1.3v3h-1.3zM81.3 1209.9h1.3v3h-1.3zM189.5 1221.4h1.3v3h-1.3zM103.4 1219.5h1.3v3h-1.3zM405.6 1227.1h1.3v3h-1.3zM331.8 1224.4h1.3v3h-1.3zM146.0 1208.1h1.3v3h-1.3zM148.9 1228.0h1.3v3h-1.3zM234.1 1213.0h1.3v3h-1.3zM251.5 1214.1h1.3v3h-1.3zM151.7 1207.1h1.3v3h-1.3zM78.5 1214.5h1.3v3h-1.3zM197.6 1224.7h1.3v3h-1.3zM416.8 1217.0h1.3v3h-1.3zM384.2 1209.7h1.3v3h-1.3zM208.9 1215.5h1.3v3h-1.3zM415.5 1221.2h1.3v3h-1.3zM212.5 1222.0h1.3v3h-1.3z" fill="#00ff40"/><path d="M288.9 1208.3h1.3v3h-1.3zM383.8 1208.7h1.3v3h-1.3zM229.9 1211.8h1.3v3h-1.3zM235.1 1226.9h1.3v3h-1.3zM72.5 1208.6h1.3v3h-1.3zM112.0 1212.6h1.3v3h-1.3zM300.8 1226.8h1.3v3h-1.3zM275.3 1206.3h1.3v3h-1.3zM203.3 1213.3h1.3v3h-1.3zM236.1 1219.7h1.3v3h-1.3zM104.4 1210.5h1.3v3h-1.3zM282.1 1207.0h1.3v3h-1.3zM248.6 1211.5h1.3v3h-1.3zM388.3 1211.0h1.3v3h-1.3zM322.2 1226.1h1.3v3h-1.3zM139.3 1223.1h1.3v3h-1.3zM130.8 1207.0h1.3v3h-1.3zM201.3 1214.6h1.3v3h-1.3zM108.9 1205.9h1.3v3h-1.3zM401.0 1205.8h1.3v3h-1.3zM100.6 1209.9h1.3v3h-1.3zM191.6 1225.3h1.3v3h-1.3zM369.2 1205.1h1.3v3h-1.3zM195.0 1219.5h1.3v3h-1.3zM113.3 1222.1h1.3v3h-1.3zM101.0 1218.4h1.3v3h-1.3zM416.5 1223.0h1.3v3h-1.3zM195.5 1211.5h1.3v3h-1.3zM147.5 1206.2h1.3v3h-1.3zM210.2 1222.0h1.3v3h-1.3zM294.2 1223.8h1.3v3h-1.3zM228.7 1214.3h1.3v3h-1.3zM104.3 1217.7h1.3v3h-1.3zM126.6 1223.8h1.3v3h-1.3zM207.9 1216.9h1.3v3h-1.3zM260.9 1212.4h1.3v3h-1.3zM282.8 1205.1h1.3v3h-1.3zM206.5 1209.8h1.3v3h-1.3zM147.6 1212.9h1.3v3h-1.3zM358.7 1221.3h1.3v3h-1.3zM74.9 1206.8h1.3v3h-1.3zM166.0 1222.2h1.3v3h-1.3z" fill="#80ff00"/><path d="M96.2 1227.1h1.3v2h-1.3zM232.5 1232.1h1.3v2h-1.3zM422.9 1229.3h1.3v2h-1.3zM275.4 1231.1h1.3v2h-1.3zM178.6 1230.8h1.3v2h-1.3zM363.8 1227.2h1.3v2h-1.3zM341.4 1231.4h1.3v2h-1.3zM289.6 1228.6h1.3v2h-1.3zM126.3 1226.6h1.3v2h-1.3zM147.4 1229.3h1.3v2h-1.3zM204.6 1232.0h1.3v2h-1.3zM365.9 1227.5h1.3v2h-1.3zM308.6 1228.8h1.3v2h-1.3zM132.5 1231.6h1.3v2h-1.3zM156.3 1227.8h1.3v2h-1.3zM103.5 1227.9h1.3v2h-1.3zM315.2 1226.8h1.3v2h-1.3zM127.8 1228.1h1.3v2h-1.3zM100.3 1230.0h1.3v2h-1.3zM205.7 1229.2h1.3v2h-1.3zM133.2 1231.7h1.3v2h-1.3zM253.5 1231.3h1.3v2h-1.3z" fill="#40ff80"/><path d="M122.2 1232.1h1.3v2h-1.3zM89.0 1226.2h1.3v2h-1.3zM271.1 1229.3h1.3v2h-1.3zM396.3 1230.6h1.3v2h-1.3zM119.6 1227.3h1.3v2h-1.3zM283.3 1229.9h1.3v2h-1.3zM281.7 1227.9h1.3v2h-1.3zM174.3 1228.7h1.3v2h-1.3zM209.6 1229.9h1.3v2h-1.3zM175.6 1228.0h1.3v2h-1.3zM258.9 1232.1h1.3v2h-1.3zM83.6 1230.5h1.3v2h-1.3zM409.8 1227.7h1.3v2h-1.3zM66.1 1226.2h1.3v2h-1.3zM117.2 1226.3h1.3v2h-1.3zM332.4 1231.3h1.3v2h-1.3zM147.3 1230.8h1.3v2h-1.3zM369.5 1232.2h1.3v2h-1.3zM208.0 1232.5h1.3v2h-1.3zM70.6 1227.8h1.3v2h-1.3zM275.8 1227.4h1.3v2h-1.3zM87.8 1231.3h1.3v2h-1.3zM328.9 1231.0h1.3v2h-1.3zM325.6 1229.3h1.3v2h-1.3zM213.5 1231.8h1.3v2h-1.3zM340.1 1230.6h1.3v2h-1.3zM173.6 1232.3h1.3v2h-1.3zM295.3 1230.3h1.3v2h-1.3zM421.6 1230.3h1.3v2h-1.3z" fill="#00ffff"/><path d="M383.7 1230.3h1.3v2h-1.3zM188.2 1231.7h1.3v2h-1.3zM219.8 1229.8h1.3v2h-1.3zM134.6 1231.4h1.3v2h-1.3zM172.1 1229.9h1.3v2h-1.3zM76.5 1231.1h1.3v2h-1.3zM121.9 1228.7h1.3v2h-1.3zM225.9 1226.7h1.3v2h-1.3zM410.5 1230.1h1.3v2h-1.3zM304.9 1228.9h1.3v2h-1.3zM240.6 1227.9h1.3v2h-1.3zM231.1 1227.4h1.3v2h-1.3zM114.4 1227.1h1.3v2h-1.3zM190.5 1227.0h1.3v2h-1.3zM188.5 1229.3h1.3v2h-1.3zM297.9 1229.8h1.3v2h-1.3zM295.9 1230.5h1.3v2h-1.3zM248.5 1228.9h1.3v2h-1.3zM267.0 1226.2h1.3v2h-1.3zM301.7 1228.4h1.3v2h-1.3zM377.9 1232.0h1.3v2h-1.3zM368.6 1230.7h1.3v2h-1.3zM171.4 1227.8h1.3v2h-1.3zM393.2 1229.9h1.3v2h-1.3zM109.8 1231.7h1.3v2h-1.3zM410.4 1230.6h1.3v2h-1.3zM213.5 1232.3h1.3v2h-1.3zM241.6 1232.6h1.3v2h-1.3zM325.9 1232.6h1.3v2h-1.3z" fill="#00c0ff"/>
</g>
<path d="M66.0 60.0 66.5 60.5 67.1 61.2 67.6 57.5 68.2 58.0 68.7 58.3 69.3 57.7 69.8 58.3 70.4 56.6 70.9 57.6 71.5 56.4 72.0 60.1 72.6 57.3 73.1 59.6 73.7 60.9 74.2 60.5 74.8 61.8 75.3 59.5 75.9 58.3 76.4 59.4 77.0 58.1 77.5 57.1 78.1 54.9 78.6 57.4 79.2 55.6 79.7 55.0 80.3 53.5 80.8 56.7 81.4 52.3 81.9 56.1 82.5 53.0 83.0 54.6 83.6 55.4 84.1 54.4 84.7 54.4 85.2 56.5 85.8 56.5 86.3 54.4 86.9 57.5 87.4 55.4 88.0 56.8 88.5 55.2 89.1 55.5 89.6 55.0 90.2 54.7 90.7 55.2 91.3 55.5 91.8 56.0 92.4 54.0 92.9 52.2 93.5 52.9 94.0 52.3 94.6 51.1 95.1 51.3 95.7 49.3 96.2 48.5 96.8 47.5 97.3 45.9 97.9 45.1 98.4 43.6 99.0 44.2 99.5 44.3 100.1 46.8 100.6 46.6 101.2 47.1 101.7 49.7 102.3 48.9 102.8 49.0 103.4 49.7 103.9 49.6 104.5 50.2 105.0 51.7 105.6 53.4 106.1 52.6 106.7 50.6 107.2 50.8 107.8 50.8 108.3 52.7 108.9 51.1 109.4 46.6 110.0 47.0 110.5 46.8 111.1 48.6 111.6 48.6 112.2 46.4 112.7 46.2 113.3 47.0 113.8 47.2 114.4 47.3 114.9 47.2 115.5 47.1 116.0 45.1 116.6 46.3 117.1 45.4 117.7 44.8 118.2 45.8 118.8 45.8 119.3 46.8 119.9 47.3 120.4 45.6 121.0 45.5 121.5 46.8 122.1 45.0 122.6 46.7 123.2 45.8 123.7 49.5 124.3 45.9 124.8 46.0 125.4 48.1 125.9 47.8 126.5 48.1 127.0 48.5 127.6 51.1 128.1 52.0 128.7 53.9 129.2 56.3 129.8 55.3 130.3 56.4 130.9 57.2 131.4 55.9 132.0 57.7 132.5 59.4 133.1 58.2 133.6 59.8 134.2 62.0 134.7 59.4 135.3 63.3 135.8 64.5 136.4 63.3 136.9 63.5 137.5 62.2 138.0 62.4 138.6 61.2 139.1 60.5 139.7 61.6 140.2 57.6 140.8 61.6 141.3 59.7 141.9 57.9 142.4 59.0 143.0 61.5 143.6 59.9 144.1 60.7 144.7 58.9 145.2 58.7 145.8 59.6 146.3 61.0 146.9 61.2 147.4 61.7 148.0 61.5 148.5 59.5 149.1 59.2 149.6 58.0 150.2 55.6 150.7 55.9 151.3 53.0 151.8 54.6 152.4 52.8 152.9 52.6 153.5 50.4 154.0 50.0 154.6 52.4 155.1 54.1 155.7 52.8 156.2 51.6 156.8 53.1 157.3 55.2 157.9 54.4 158.4 56.1 159.0 55.9 159.5 58.6 160.1 59.0 160.6 61.3 161.2 60.5 161.7 59.5 162.3 57.4 162.8 56.6 163.4 54.5 163.9 54.2 164.5 52.7 165.0 53.0 165.6 53.3 166.1 51.5 166.7 50.7 167.2 51.8 167.8 48.8 168.3 51.3 168.9 51.0 169.4 52.6 170.0 51.6 170.5 53.6 171.1 52.0 171.6 53.4 172.2 54.6 172.7 52.6 173.3 52.1 173.8 52.6 174.4 52.4 174.9 53.0 175.5 51.5 176.0 49.1 176.6 52.0 177.1 48.7 177.7 50.6 178.2 48.0 178.8 51.1 179.3 49.7 179.9 50.8 180.4 49.2 181.0 48.3 181.5 47.1 182.1 48.7 182.6 49.3 183.2 47.9 183.7 48.2 184.3 50.5 184.8 46.6 185.4 48.9 185.9 47.3 186.5 45.6 187.0 46.8 187.6 43.3 188.1 45.0 188.7 42.7 189.2 45.0 189.8 44.4 190.3 43.1 190.9 44.6 191.4 45.6 192.0 45.0 192.5 44.9 193.1 46.3 193.6 48.1 194.2 47.8 194.7 48.6 195.3 48.1 195.8 48.2 196.4 47.5 196.9 47.4 197.5 47.1 198.0 48.5 198.6 47.5 199.1 49.7 199.7 49.3 200.2 50.1 200.8 52.3 201.3 49.7 201.9 50.1 202.4 51.4 203.0 51.5 203.5 53.9 204.1 53.3 204.6 53.3 205.2 54.3 205.7 52.7 206.3 51.3 206.8 53.7 207.4 53.7 207.9 54.2 208.5 52.4 209.0 55.4 209.6 55.4 210.1 55.4 210.7 52.6 211.2 52.8 211.8 51.1 212.3 50.3 212.9 49.1 213.4 50.6 214.0 45.9 214.5 45.4 215.1 45.9 215.6 42.6 216.2 41.4 216.7 41.3 217.3 34.3 217.8 37.1 218.4 36.1 218.9 33.8 219.5 33.3 220.0 29.5 220.6 28.2 221.1 29.7 221.7 28.7 222.2 24.8 222.8 26.8 223.3 25.1 223.9 21.3 224.4 23.7 225.0 24.2 225.5 25.2 226.1 28.6 226.6 28.7 227.2 29.3 227.7 31.8 228.3 31.3 228.8 32.3 229.4 33.3 229.9 34.0 230.5 34.2 231.0 35.0 231.6 34.4 232.1 37.7 232.7 37.0 233.2 38.4 233.8 38.7 234.3 38.0 234.9 38.0 235.4 38.2 236.0 44.1 236.5 43.4 237.1 47.6 237.6 48.8 238.2 49.4 238.7 51.0 239.3 51.9 239.8 56.2 240.4 55.3 240.9 59.3 241.5 60.6 242.0 61.8 242.6 63.6 243.1 66.2 243.7 68.8 244.2 70.0 244.8 71.3 245.3 73.6 245.9 74.2 246.4 75.0 247.0 73.0 247.5 72.9 248.1 74.4 248.6 71.7 249.2 72.0 249.7 73.8 250.3 74.0 250.8 75.4 251.4 73.6 251.9 72.8 252.5 75.4 253.0 73.9 253.6 72.0 254.1 72.2 254.7 70.2 255.2 68.0 255.8 66.1 256.3 66.0 256.9 67.1 257.4 66.6 258.0 64.1 258.5 64.5 259.1 64.7 259.6 62.2 260.2 61.2 260.7 63.8 261.3 62.2 261.8 60.9 262.4 59.1 262.9 60.0 263.5 60.5 264.0 58.8 264.6 60.9 265.1 56.9 265.7 58.6 266.2 56.7 266.8 55.0 267.3 52.8 267.9 51.7 268.4 50.5 269.0 49.2 269.5 45.5 270.1 46.8 270.6 47.1 271.2 46.0 271.7 43.0 272.3 43.5 272.8 44.3 273.4 44.3 273.9 43.6 274.5 42.3 275.0 41.4 275.6 41.7 276.1 43.6 276.7 39.6 277.2 41.0 277.8 38.4 278.3 39.1 278.9 38.2 279.4 39.7 280.0 39.0 280.5 39.2 281.1 41.2 281.6 42.2 282.2 38.3 282.7 41.8 283.3 42.4 283.8 42.5 284.4 40.5 284.9 40.9 285.5 41.1 286.0 42.2 286.6 40.8 287.1 41.8 287.7 39.9 288.2 40.1 288.8 40.3 289.3 40.2 289.9 40.2 290.4 41.8 291.0 42.4 291.5 45.4 292.1 43.8 292.6 46.3 293.2 45.4 293.7 48.0 294.3 47.8 294.8 48.9 295.4 45.7 295.9 47.5 296.5 50.6 297.0 49.7 297.6 47.7 298.1 48.5 298.7 48.4 299.2 46.1 299.8 46.0 300.3 46.5 300.9 44.7 301.4 46.1 302.0 46.9 302.5 48.1 303.1 51.2 303.6 51.2 304.2 52.4 304.7 49.7 305.3 52.6 305.8 51.7 306.4 55.1 306.9 54.3 307.5 54.2 308.0 53.9 308.6 54.4 309.1 57.2 309.7 57.0 310.2 56.4 310.8 56.5 311.3 57.5 311.9 59.6 312.4 60.2 313.0 56.9 313.5 58.2 314.1 56.1 314.6 57.6 315.2 56.5 315.7 56.2 316.3 55.3 316.8 56.8 317.4 54.7 317.9 54.4 318.5 52.3 319.0 53.4 319.6 51.7 320.1 53.9 320.7 55.2 321.2 52.2 321.8 54.0 322.3 52.5 322.9 53.4 323.4 54.0 324.0 52.5 324.5 53.4 325.1 51.9 325.6 52.9 326.2 50.8 326.7 49.6 327.3 49.5 327.8 50.1 328.4 53.2 328.9 51.1 329.5 52.7 330.0 49.3 330.6 49.1 331.1 48.8 331.7 49.0 332.2 49.9 332.8 49.4 333.3 52.1 333.9 51.4 334.4 51.3 335.0 52.1 335.5 52.0 336.1 52.5 336.6 52.7 337.2 55.2 337.7 54.3 338.3 53.8 338.8 53.0 339.4 52.7 339.9 55.7 340.5 56.2 341.0 56.0 341.6 56.6 342.1 56.0 342.7 55.3 343.2 54.9 343.8 51.9 344.3 56.3 344.9 53.4 345.4 53.4 346.0 52.6 346.5 52.0 347.1 50.6 347.6 51.1 348.2 51.9 348.7 48.3 349.3 51.0 349.8 49.7 350.4 49.6 350.9 50.0 351.5 49.2 352.0 50.0 352.6 47.5 353.1 48.3 353.7 49.1 354.2 48.3 354.8 49.1 355.3 49.5 355.9 46.9 356.4 49.6 357.0 49.1 357.5 49.1 358.1 47.1 358.6 49.4 359.2 47.2 359.7 49.1 360.3 51.7 360.8 48.9 361.4 50.4 361.9 51.9 362.5 49.1 363.0 49.6 363.6 49.5 364.1 50.0 364.7 53.0 365.2 52.3 365.8 51.8 366.3 51.3 366.9 51.8 367.4 52.3 368.0 52.7 368.5 53.5 369.1 54.5 369.6 56.8 370.2 54.7 370.7 52.8 371.3 56.5 371.8 53.2 372.4 53.0 372.9 52.1 373.5 55.7 374.0 54.0 374.6 51.6 375.1 55.5 375.7 53.4 376.2 55.1 376.8 55.6 377.3 52.4 377.9 54.2 378.4 52.9 379.0 53.5 379.5 53.2 380.1 54.6 380.6 54.0 381.2 53.3 381.7 52.7 382.3 50.6 382.8 50.7 383.4 50.0 383.9 48.6 384.5 50.0 385.0 51.0 385.6 51.8 386.1 49.5 386.7 46.7 387.2 50.1 387.8 49.4 388.3 46.8 388.9 49.4 389.4 44.8 390.0 46.2 390.5 46.5 391.1 43.3 391.6 43.4 392.2 44.4 392.7 43.9 393.3 42.4 393.8 46.0 394.4 43.0 394.9 44.7 395.5 45.9 396.0 45.8 396.6 47.1 397.1 46.8 397.7 46.7 398.2 45.2 398.8 46.1 399.3 42.5 399.9 45.5 400.4 47.0 401.0 42.7 401.5 42.1 402.1 43.4 402.6 42.3 403.2 42.7 403.7 43.2 404.3 44.8 404.8 46.2 405.4 46.8 405.9 43.9 406.5 46.3 407.0 48.7 407.6 47.7 408.1 48.4 408.7 47.5 409.2 47.1 409.8 44.8 410.3 46.7 410.9 49.0 411.4 48.1 412.0 47.4 412.5 44.6 413.1 43.0 413.6 43.0 414.2 45.8 414.7 44.2 415.3 42.6 415.8 42.0 416.4 39.8 416.9 37.1 417.5 35.4 418.0 34.4 418.6 34.5 419.1 34.6 419.7 34.6 420.2 36.7 420.8 39.8 421.3 36.5 421.9 38.9 422.4 37.8 423.0 39.2" stroke="#0000ff" stroke-width="1.45" fill="none" stroke-linejoin="round"/>
<path d="M66.0 61.7 66.5 60.3 67.1 59.5 67.6 56.5 68.2 57.6 68.7 56.8 69.3 55.7 69.8 55.5 70.4 54.9 70.9 54.4 71.5 53.8 72.0 55.1 72.6 54.4 73.1 54.5 73.7 53.3 74.2 54.7 74.8 55.1 75.3 54.4 75.9 54.4 76.4 54.1 77.0 53.1 77.5 54.2 78.1 56.8 78.6 59.3 79.2 59.9 79.7 63.1 80.3 60.2 80.8 62.6 81.4 61.6 81.9 62.2 82.5 63.0 83.0 62.5 83.6 62.6 84.1 63.0 84.7 62.8 85.2 59.7 85.8 59.8 86.3 62.1 86.9 60.5 87.4 59.6 88.0 61.5 88.5 59.2 89.1 59.2 89.6 59.6 90.2 58.4 90.7 58.2 91.3 59.3 91.8 58.8 92.4 61.3 92.9 57.8 93.5 61.5 94.0 57.5 94.6 57.4 95.1 60.3 95.7 58.2 96.2 60.7 96.8 61.0 97.3 59.8 97.9 61.6 98.4 60.8 99.0 59.7 99.5 60.6 100.1 61.0 100.6 59.5 101.2 60.9 101.7 60.3 102.3 61.3 102.8 60.7 103.4 58.8 103.9 59.9 104.5 58.7 105.0 60.6 105.6 60.4 106.1 59.7 106.7 60.1 107.2 59.0 107.8 61.3 108.3 60.7 108.9 60.1 109.4 62.1 110.0 61.2 110.5 61.7 111.1 62.7 111.6 63.7 112.2 62.9 112.7 62.6 113.3 63.8 113.8 67.8 114.4 63.9 114.9 62.7 115.5 62.4 116.0 62.4 116.6 62.5 117.1 64.0 117.7 61.6 118.2 59.1 118.8 58.9 119.3 57.3 119.9 56.2 120.4 55.4 121.0 53.7 121.5 53.2 122.1 50.4 122.6 51.6 123.2 53.1 123.7 52.0 124.3 50.4 124.8 50.9 125.4 49.0 125.9 48.1 126.5 51.2 127.0 50.1 127.6 49.1 128.1 52.8 128.7 51.7 129.2 48.4 129.8 51.8 130.3 51.8 130.9 53.2 131.4 51.3 132.0 53.6 132.5 54.0 133.1 53.7 133.6 57.0 134.2 55.4 134.7 55.7 135.3 58.6 135.8 60.1 136.4 61.7 136.9 60.6 137.5 59.9 138.0 59.4 138.6 59.7 139.1 59.6 139.7 61.5 140.2 60.3 140.8 62.7 141.3 63.1 141.9 63.9 142.4 63.4 143.0 62.8 143.6 63.4 144.1 64.7 144.7 64.7 145.2 64.7 145.8 65.1 146.3 64.7 146.9 63.0 147.4 62.7 148.0 59.6 148.5 60.6 149.1 61.1 149.6 58.7 150.2 57.3 150.7 55.5 151.3 56.1 151.8 56.2 152.4 58.0 152.9 56.6 153.5 56.0 154.0 54.6 154.6 56.5 155.1 55.2 155.7 57.0 156.2 57.8 156.8 59.4 157.3 56.2 157.9 59.9 158.4 60.2 159.0 62.1 159.5 60.6 160.1 62.4 160.6 60.5 161.2 58.9 161.7 61.9 162.3 59.3 162.8 58.8 163.4 56.4 163.9 55.0 164.5 54.5 165.0 53.6 165.6 54.4 166.1 53.2 166.7 53.5 167.2 55.1 167.8 53.7 168.3 53.9 168.9 56.9 169.4 54.9 170.0 55.1 170.5 58.7 171.1 57.2 171.6 55.4 172.2 57.0 172.7 58.0 173.3 57.1 173.8 59.7 174.4 58.6 174.9 58.1 175.5 58.0 176.0 57.4 176.6 58.1 177.1 58.7 177.7 60.6 178.2 57.7 178.8 58.3 179.3 56.8 179.9 56.6 180.4 59.1 181.0 56.7 181.5 55.9 182.1 57.8 182.6 58.6 183.2 55.7 183.7 57.2 184.3 59.0 184.8 57.2 185.4 57.7 185.9 54.7 186.5 58.4 187.0 55.2 187.6 53.7 188.1 51.8 188.7 51.4 189.2 53.5 189.8 53.0 190.3 52.4 190.9 52.5 191.4 52.5 192.0 54.7 192.5 54.9 193.1 54.4 193.6 54.1 194.2 54.7 194.7 55.5 195.3 55.2 195.8 56.6 196.4 52.4 196.9 54.1 197.5 52.5 198.0 54.6 198.6 54.8 199.1 56.0 199.7 54.6 200.2 55.3 200.8 55.8 201.3 57.9 201.9 59.9 202.4 58.4 203.0 59.5 203.5 58.3 204.1 59.7 204.6 58.9 205.2 59.3 205.7 59.7 206.3 58.4 206.8 60.5 207.4 62.4 207.9 59.6 208.5 59.9 209.0 61.2 209.6 60.8 210.1 62.8 210.7 65.0 211.2 65.8 211.8 66.4 212.3 65.7 212.9 65.1 213.4 63.6 214.0 63.2 214.5 63.4 215.1 60.7 215.6 61.5 216.2 62.4 216.7 60.7 217.3 59.7 217.8 59.6 218.4 57.4 218.9 57.2 219.5 55.8 220.0 56.4 220.6 58.3 221.1 52.3 221.7 53.4 222.2 49.9 222.8 49.3 223.3 48.6 223.9 45.6 224.4 42.8 225.0 42.8 225.5 42.4 226.1 42.3 226.6 43.2 227.2 40.0 227.7 39.1 228.3 38.9 228.8 38.0 229.4 37.0 229.9 35.9 230.5 36.2 231.0 33.5 231.6 33.6 232.1 31.0 232.7 28.8 233.2 30.3 233.8 30.6 234.3 31.5 234.9 30.9 235.4 32.6 236.0 37.2 236.5 38.5 237.1 41.2 237.6 45.5 238.2 46.7 238.7 47.1 239.3 52.2 239.8 53.0 240.4 56.3 240.9 59.1 241.5 59.0 242.0 59.7 242.6 61.4 243.1 63.8 243.7 64.2 244.2 63.3 244.8 65.9 245.3 67.8 245.9 65.4 246.4 65.8 247.0 66.0 247.5 65.8 248.1 64.5 248.6 64.6 249.2 64.7 249.7 67.1 250.3 68.0 250.8 72.3 251.4 70.4 251.9 73.3 252.5 74.0 253.0 75.3 253.6 77.1 254.1 75.8 254.7 73.6 255.2 72.7 255.8 68.7 256.3 66.1 256.9 66.7 257.4 63.5 258.0 63.1 258.5 63.0 259.1 61.7 259.6 61.3 260.2 60.7 260.7 57.6 261.3 60.1 261.8 56.9 262.4 59.5 262.9 56.1 263.5 57.6 264.0 55.8 264.6 56.6 265.1 55.2 265.7 51.8 266.2 53.6 266.8 55.3 267.3 50.6 267.9 50.5 268.4 49.7 269.0 46.4 269.5 43.3 270.1 42.4 270.6 39.1 271.2 38.8 271.7 37.3 272.3 37.7 272.8 36.1 273.4 38.4 273.9 39.5 274.5 36.4 275.0 40.4 275.6 40.0 276.1 38.4 276.7 37.0 277.2 39.7 277.8 38.7 278.3 41.4 278.9 41.3 279.4 43.3 280.0 42.7 280.5 45.3 281.1 43.7 281.6 43.9 282.2 44.8 282.7 45.3 283.3 47.2 283.8 50.9 284.4 48.4 284.9 50.2 285.5 50.7 286.0 49.3 286.6 52.7 287.1 53.4 287.7 54.9 288.2 56.0 288.8 57.1 289.3 57.1 289.9 58.0 290.4 57.6 291.0 59.0 291.5 57.8 292.1 58.4 292.6 59.4 293.2 57.7 293.7 59.1 294.3 60.1 294.8 62.6 295.4 60.1 295.9 62.7 296.5 61.9 297.0 62.1 297.6 60.5 298.1 58.0 298.7 59.4 299.2 59.1 299.8 59.1 300.3 60.8 300.9 59.2 301.4 59.3 302.0 56.9 302.5 57.3 303.1 56.7 303.6 57.1 304.2 56.3 304.7 55.2 305.3 54.4 305.8 54.5 306.4 57.1 306.9 57.7 307.5 54.6 308.0 56.0 308.6 55.7 309.1 56.2 309.7 54.0 310.2 52.8 310.8 54.9 311.3 53.1 311.9 53.3 312.4 54.5 313.0 51.5 313.5 51.2 314.1 49.8 314.6 51.5 315.2 53.5 315.7 52.6 316.3 53.7 316.8 54.2 317.4 57.5 317.9 57.2 318.5 57.2 319.0 56.3 319.6 55.2 320.1 54.1 320.7 55.9 321.2 57.6 321.8 56.0 322.3 54.2 322.9 57.8 323.4 56.6 324.0 56.8 324.5 56.6 325.1 55.3 325.6 56.3 326.2 55.1 326.7 54.3 327.3 56.0 327.8 57.0 328.4 58.0 328.9 57.4 329.5 59.2 330.0 57.6 330.6 57.4 331.1 59.7 331.7 59.0 332.2 58.1 332.8 60.8 333.3 60.5 333.9 61.2 334.4 60.2 335.0 59.4 335.5 62.6 336.1 62.4 336.6 63.1 337.2 62.9 337.7 62.5 338.3 62.1 338.8 61.9 339.4 61.7 339.9 63.4 340.5 61.8 341.0 61.0 341.6 61.5 342.1 58.3 342.7 57.6 343.2 58.0 343.8 58.0 344.3 56.3 344.9 59.4 345.4 57.5 346.0 56.2 346.5 59.7 347.1 58.2 347.6 58.4 348.2 58.9 348.7 56.7 349.3 59.2 349.8 56.3 350.4 57.4 350.9 57.8 351.5 58.1 352.0 57.9 352.6 57.2 353.1 58.6 353.7 56.4 354.2 60.3 354.8 57.2 355.3 58.0 355.9 58.7 356.4 57.2 357.0 56.5 357.5 58.4 358.1 56.5 358.6 58.9 359.2 56.8 359.7 58.3 360.3 57.3 360.8 59.5 361.4 57.2 361.9 58.1 362.5 57.4 363.0 58.0 363.6 56.5 364.1 58.6 364.7 60.6 365.2 60.0 365.8 58.1 366.3 59.5 366.9 58.0 367.4 56.7 368.0 57.3 368.5 58.2 369.1 57.3 369.6 57.6 370.2 59.1 370.7 58.4 371.3 60.9 371.8 59.4 372.4 59.1 372.9 59.3 373.5 57.8 374.0 59.9 374.6 57.3 375.1 57.1 375.7 58.7 376.2 57.6 376.8 60.0 377.3 57.9 377.9 58.5 378.4 59.8 379.0 57.8 379.5 58.0 380.1 58.0 380.6 56.0 381.2 58.3 381.7 57.4 382.3 58.1 382.8 57.0 383.4 58.0 383.9 59.5 384.5 59.4 385.0 58.8 385.6 57.9 386.1 60.4 386.7 59.7 387.2 60.7 387.8 60.6 388.3 59.7 388.9 60.8 389.4 61.0 390.0 59.8 390.5 61.4 391.1 60.2 391.6 56.2 392.2 57.6 392.7 56.6 393.3 56.7 393.8 56.3 394.4 56.9 394.9 58.6 395.5 59.6 396.0 59.6 396.6 58.2 397.1 57.5 397.7 57.4 398.2 57.3 398.8 57.9 399.3 56.8 399.9 56.5 400.4 54.7 401.0 55.6 401.5 55.6 402.1 54.8 402.6 54.2 403.2 54.6 403.7 53.5 404.3 49.4 404.8 49.6 405.4 47.4 405.9 48.3 406.5 48.3 407.0 47.4 407.6 47.3 408.1 48.8 408.7 46.7 409.2 46.9 409.8 43.9 410.3 46.4 410.9 47.0 411.4 43.6 412.0 44.5 412.5 44.9 413.1 43.2 413.6 43.8 414.2 41.8 414.7 43.2 415.3 44.3 415.8 43.7 416.4 46.1 416.9 47.5 417.5 47.8 418.0 49.7 418.6 52.1 419.1 51.6 419.7 49.2 420.2 50.1 420.8 51.3 421.3 51.1 421.9 51.3 422.4 51.1 423.0 51.4" stroke="#00ff00" stroke-width="1.45" fill="none" stroke-linejoin="round"/>
<path d="M66.0 52.7 66.5 52.1 67.1 55.0 67.6 53.3 68.2 51.7 68.7 51.9 69.3 50.2 69.8 50.5 70.4 50.2 70.9 50.9 71.5 49.8 72.0 51.6 72.6 50.4 73.1 49.2 73.7 49.3 74.2 49.9 74.8 50.2 75.3 50.6 75.9 51.6 76.4 50.7 77.0 52.7 77.5 51.8 78.1 49.7 78.6 49.9 79.2 49.6 79.7 48.2 80.3 50.6 80.8 46.9 81.4 47.3 81.9 45.7 82.5 48.8 83.0 48.0 83.6 47.3 84.1 46.7 84.7 49.6 85.2 51.8 85.8 50.3 86.3 50.5 86.9 52.8 87.4 49.6 88.0 52.5 88.5 50.4 89.1 53.9 89.6 52.7 90.2 52.6 90.7 52.8 91.3 54.1 91.8 54.3 92.4 55.3 92.9 54.1 93.5 51.4 94.0 51.2 94.6 50.9 95.1 48.2 95.7 52.2 96.2 50.7 96.8 51.2 97.3 50.2 97.9 50.9 98.4 49.5 99.0 48.7 99.5 47.3 100.1 49.6 100.6 48.1 101.2 51.5 101.7 50.3 102.3 51.4 102.8 51.7 103.4 52.3 103.9 50.9 104.5 50.7 105.0 50.6 105.6 50.6 106.1 50.8 106.7 50.4 107.2 52.2 107.8 48.4 108.3 52.0 108.9 50.7 109.4 51.8 110.0 51.6 110.5 50.1 111.1 51.3 111.6 49.9 112.2 51.2 112.7 49.1 113.3 48.1 113.8 47.0 114.4 47.5 114.9 47.9 115.5 46.6 116.0 46.2 116.6 46.4 117.1 48.2 117.7 46.1 118.2 44.1 118.8 46.7 119.3 44.2 119.9 45.4 120.4 46.4 121.0 48.7 121.5 46.1 122.1 44.7 122.6 45.7 123.2 48.2 123.7 46.2 124.3 47.3 124.8 47.5 125.4 47.1 125.9 46.2 126.5 45.8 127.0 45.5 127.6 47.8 128.1 45.7 128.7 43.2 129.2 42.8 129.8 46.0 130.3 46.5 130.9 45.9 131.4 45.3 132.0 44.6 132.5 42.4 133.1 47.5 133.6 48.8 134.2 48.7 134.7 52.7 135.3 56.3 135.8 54.0 136.4 54.2 136.9 55.9 137.5 53.6 138.0 54.3 138.6 56.5 139.1 55.3 139.7 55.2 140.2 58.0 140.8 56.2 141.3 56.9 141.9 58.5 142.4 58.9 143.0 59.0 143.6 60.6 144.1 60.5 144.7 62.2 145.2 63.6 145.8 64.9 146.3 65.8 146.9 64.3 147.4 64.4 148.0 59.7 148.5 61.2 149.1 60.7 149.6 60.8 150.2 57.6 150.7 58.5 151.3 59.4 151.8 56.1 152.4 53.5 152.9 54.1 153.5 56.2 154.0 52.4 154.6 51.9 155.1 51.7 155.7 51.5 156.2 52.3 156.8 50.8 157.3 50.6 157.9 50.4 158.4 50.8 159.0 51.2 159.5 49.4 160.1 48.5 160.6 50.6 161.2 44.7 161.7 48.9 162.3 49.9 162.8 49.8 163.4 48.5 163.9 46.7 164.5 48.1 165.0 45.7 165.6 45.9 166.1 47.5 166.7 48.9 167.2 49.7 167.8 47.7 168.3 47.3 168.9 48.6 169.4 51.5 170.0 51.3 170.5 51.8 171.1 50.7 171.6 51.5 172.2 49.9 172.7 50.8 173.3 50.4 173.8 50.9 174.4 51.9 174.9 53.5 175.5 50.6 176.0 51.4 176.6 53.9 177.1 50.5 177.7 49.3 178.2 48.2 178.8 48.6 179.3 47.1 179.9 47.1 180.4 47.9 181.0 49.2 181.5 47.8 182.1 48.8 182.6 46.6 183.2 46.3 183.7 44.7 184.3 44.7 184.8 44.4 185.4 44.0 185.9 44.3 186.5 43.9 187.0 44.7 187.6 45.3 188.1 44.0 188.7 44.9 189.2 45.6 189.8 45.2 190.3 43.6 190.9 44.9 191.4 45.8 192.0 48.3 192.5 45.2 193.1 46.1 193.6 46.0 194.2 46.4 194.7 46.1 195.3 47.4 195.8 48.3 196.4 49.3 196.9 47.0 197.5 48.5 198.0 49.8 198.6 49.0 199.1 50.3 199.7 52.4 200.2 49.6 200.8 50.4 201.3 54.0 201.9 52.6 202.4 51.2 203.0 52.3 203.5 51.3 204.1 51.7 204.6 52.9 205.2 52.7 205.7 49.2 206.3 54.4 206.8 52.8 207.4 52.8 207.9 54.1 208.5 52.2 209.0 52.0 209.6 51.8 210.1 52.1 210.7 51.3 211.2 48.8 211.8 48.2 212.3 49.8 212.9 48.8 213.4 48.5 214.0 44.7 214.5 43.8 215.1 44.1 215.6 42.6 216.2 41.9 216.7 41.9 217.3 40.8 217.8 38.9 218.4 39.7 218.9 39.2 219.5 37.2 220.0 39.0 220.6 36.5 221.1 36.8 221.7 38.9 222.2 38.8 222.8 39.2 223.3 37.5 223.9 40.9 224.4 39.9 225.0 42.0 225.5 42.7 226.1 42.1 226.6 43.3 227.2 43.0 227.7 42.5 228.3 41.5 228.8 39.6 229.4 42.2 229.9 40.4 230.5 39.5 231.0 43.1 231.6 41.7 232.1 39.6 232.7 38.3 233.2 40.5 233.8 38.5 234.3 37.5 234.9 39.9 235.4 40.6 236.0 41.5 236.5 43.9 237.1 46.5 237.6 50.4 238.2 50.4 238.7 49.2 239.3 48.3 239.8 47.9 240.4 48.0 240.9 50.8 241.5 53.5 242.0 52.6 242.6 57.7 243.1 59.2 243.7 60.4 244.2 62.0 244.8 64.6 245.3 66.5 245.9 67.7 246.4 70.6 247.0 69.9 247.5 68.9 248.1 72.3 248.6 72.1 249.2 71.3 249.7 70.8 250.3 72.0 250.8 73.9 251.4 73.3 251.9 75.1 252.5 72.9 253.0 74.8 253.6 72.5 254.1 72.2 254.7 71.5 255.2 69.6 255.8 69.5 256.3 69.7 256.9 68.4 257.4 67.0 258.0 66.6 258.5 65.2 259.1 64.5 259.6 65.2 260.2 62.6 260.7 61.0 261.3 59.6 261.8 62.0 262.4 63.0 262.9 61.2 263.5 59.9 264.0 58.8 264.6 58.1 265.1 61.6 265.7 56.9 266.2 56.2 266.8 56.5 267.3 54.2 267.9 53.7 268.4 51.4 269.0 49.9 269.5 49.4 270.1 50.5 270.6 46.8 271.2 46.4 271.7 45.4 272.3 46.3 272.8 46.6 273.4 43.4 273.9 42.0 274.5 43.2 275.0 46.0 275.6 44.5 276.1 44.8 276.7 45.4 277.2 44.1 277.8 42.6 278.3 39.2 278.9 38.1 279.4 41.4 280.0 37.4 280.5 39.7 281.1 40.3 281.6 43.0 282.2 42.4 282.7 45.3 283.3 43.0 283.8 41.6 284.4 42.6 284.9 42.3 285.5 40.4 286.0 42.6 286.6 41.7 287.1 42.4 287.7 43.5 288.2 45.1 288.8 47.4 289.3 45.3 289.9 46.6 290.4 48.8 291.0 48.9 291.5 53.1 292.1 53.6 292.6 54.1 293.2 53.4 293.7 56.1 294.3 55.6 294.8 57.7 295.4 55.5 295.9 54.7 296.5 56.0 297.0 57.5 297.6 56.0 298.1 58.2 298.7 55.8 299.2 57.8 299.8 57.7 300.3 57.2 300.9 55.8 301.4 56.2 302.0 56.4 302.5 55.3 303.1 54.7 303.6 57.1 304.2 54.2 304.7 54.7 305.3 53.4 305.8 52.9 306.4 56.0 306.9 54.4 307.5 56.8 308.0 56.0 308.6 56.4 309.1 55.8 309.7 55.4 310.2 56.4 310.8 57.5 311.3 53.1 311.9 53.7 312.4 52.9 313.0 52.5 313.5 52.7 314.1 53.5 314.6 51.5 315.2 51.8 315.7 51.9 316.3 54.4 316.8 54.4 317.4 53.6 317.9 52.6 318.5 53.7 319.0 53.1 319.6 51.2 320.1 49.9 320.7 51.6 321.2 50.8 321.8 48.9 322.3 51.5 322.9 50.2 323.4 50.1 324.0 48.9 324.5 49.9 325.1 46.8 325.6 49.4 326.2 48.0 326.7 50.8 327.3 49.0 327.8 50.3 328.4 48.9 328.9 47.5 329.5 49.1 330.0 47.7 330.6 48.1 331.1 48.3 331.7 45.3 332.2 46.7 332.8 45.6 333.3 45.7 333.9 47.8 334.4 46.9 335.0 47.5 335.5 47.8 336.1 44.9 336.6 46.8 337.2 43.9 337.7 46.7 338.3 44.3 338.8 45.3 339.4 46.4 339.9 45.8 340.5 45.3 341.0 43.2 341.6 44.7 342.1 43.6 342.7 44.1 343.2 46.0 343.8 46.8 344.3 46.0 344.9 46.7 345.4 45.3 346.0 47.4 346.5 44.6 347.1 46.0 347.6 48.6 348.2 46.2 348.7 46.7 349.3 46.1 349.8 45.0 350.4 47.0 350.9 46.3 351.5 45.8 352.0 45.1 352.6 46.6 353.1 48.5 353.7 50.0 354.2 48.4 354.8 49.1 355.3 49.0 355.9 49.8 356.4 49.5 357.0 46.0 357.5 47.7 358.1 48.1 358.6 48.4 359.2 47.3 359.7 47.6 360.3 48.8 360.8 48.1 361.4 45.9 361.9 47.0 362.5 46.7 363.0 44.5 363.6 46.0 364.1 50.2 364.7 49.5 365.2 50.0 365.8 47.4 366.3 51.5 366.9 51.0 367.4 49.9 368.0 50.7 368.5 49.1 369.1 49.4 369.6 47.8 370.2 48.9 370.7 47.8 371.3 49.5 371.8 49.1 372.4 51.0 372.9 48.0 373.5 48.4 374.0 45.5 374.6 48.1 375.1 48.2 375.7 49.0 376.2 49.9 376.8 50.3 377.3 51.3 377.9 52.3 378.4 50.1 379.0 48.6 379.5 48.9 380.1 50.4 380.6 50.5 381.2 51.4 381.7 50.2 382.3 50.8 382.8 52.7 383.4 50.9 383.9 52.2 384.5 51.1 385.0 53.2 385.6 51.4 386.1 50.3 386.7 50.0 387.2 51.3 387.8 51.6 388.3 48.2 388.9 50.2 389.4 48.3 390.0 52.1 390.5 51.0 391.1 50.1 391.6 52.1 392.2 50.7 392.7 51.7 393.3 51.1 393.8 50.0 394.4 50.8 394.9 50.0 395.5 50.5 396.0 48.5 396.6 48.6 397.1 50.3 397.7 49.8 398.2 49.3 398.8 48.1 399.3 48.1 399.9 47.6 400.4 46.9 401.0 48.3 401.5 48.0 402.1 45.9 402.6 49.6 403.2 47.2 403.7 48.2 404.3 46.6 404.8 45.7 405.4 43.7 405.9 43.2 406.5 40.7 407.0 39.4 407.6 36.6 408.1 38.3 408.7 39.6 409.2 40.8 409.8 39.0 410.3 38.2 410.9 41.6 411.4 41.6 412.0 39.7 412.5 39.4 413.1 42.5 413.6 40.8 414.2 40.5 414.7 42.8 415.3 41.2 415.8 43.7 416.4 41.5 416.9 39.4 417.5 37.0 418.0 34.1 418.6 30.4 419.1 30.1 419.7 32.7 420.2 33.3 420.8 34.9 421.3 34.6 421.9 38.6 422.4 37.2 423.0 37.9" stroke="#ff0000" stroke-width="1.45" fill="none" stroke-linejoin="round"/>
<path d="M66.0 127.4 67.0 127.0 68.0 126.6 69.0 126.4 70.0 126.0 71.0 125.9 72.0 126.0 73.0 125.9 74.0 125.7 75.0 125.8 76.0 126.0 77.0 125.8 78.0 126.1 79.0 126.0 80.0 125.6 81.0 125.7 82.0 125.4 83.0 124.9 84.0 124.7 85.0 124.3 86.0 124.2 87.0 124.1 88.0 124.3 89.0 124.2 90.0 124.7 91.0 124.6 92.0 124.6 93.0 124.9 94.0 124.9 95.0 125.3 96.0 125.5 97.0 125.5 98.0 125.7 99.0 126.0 100.0 126.1 101.0 126.3 102.0 126.5 103.0 126.7 104.0 127.0 105.0 127.1 106.0 127.2 107.0 127.2 108.0 127.4 109.0 127.4 110.0 126.9 111.0 126.8 112.0 126.5 113.0 126.5 114.0 126.3 115.0 126.1 116.0 125.9 117.0 125.7 118.0 125.5 119.0 125.3 120.0 125.0 121.0 125.1 122.0 124.8 123.0 124.8 124.0 124.6 125.0 124.8 126.0 124.6 127.0 124.1 128.0 123.7 129.0 123.6 130.0 123.2 131.0 123.1 132.0 122.8 133.0 122.5 134.0 122.4 135.0 121.8 136.0 122.0 137.0 122.2 138.0 122.5 139.0 122.6 140.0 122.8 141.0 122.9 142.0 123.2 143.0 123.4 144.0 123.7 145.0 123.9 146.0 123.9 147.0 124.3 148.0 124.5 149.0 124.7 150.0 125.2 151.0 125.0 152.0 125.1 153.0 125.2 154.0 125.4 155.0 125.6 156.0 125.4 157.0 125.4 158.0 125.1 159.0 124.8 160.0 124.6 161.0 124.5 162.0 124.0 163.0 123.9 164.0 123.7 165.0 123.6 166.0 124.0 167.0 123.8 168.0 123.8 169.0 123.8 170.0 123.8 171.0 123.7 172.0 123.8 173.0 123.6 174.0 123.7 175.0 123.5 176.0 123.3 177.0 123.3 178.0 123.1 179.0 123.1 180.0 123.2 181.0 122.9 182.0 123.0 183.0 122.7 184.0 123.0 185.0 122.6 186.0 122.2 187.0 122.2 188.0 122.4 189.0 122.6 190.0 122.6 191.0 123.0 192.0 122.9 193.0 122.8 194.0 122.6 195.0 122.6 196.0 122.9 197.0 123.2 198.0 123.2 199.0 123.3 200.0 123.7 201.0 123.4 202.0 124.0 203.0 124.0 204.0 124.0 205.0 124.1 206.0 124.5 207.0 124.7 208.0 124.8 209.0 124.8 210.0 124.9 211.0 124.8 212.0 124.8 213.0 125.0 214.0 125.0 215.0 125.1 216.0 125.2 217.0 125.3 218.0 125.5 219.0 125.6 220.0 125.7 221.0 126.4 222.0 126.8 223.0 127.2 224.0 127.7 225.0 128.1 226.0 128.5 227.0 129.0 228.0 128.9 229.0 129.3 230.0 129.4 231.0 129.6 232.0 129.7 233.0 129.6 234.0 130.1 235.0 130.0 236.0 130.1 237.0 130.2 238.0 130.4 239.0 130.7 240.0 130.7 241.0 130.8 242.0 130.9 243.0 130.7 244.0 130.8 245.0 131.3 246.0 132.0 247.0 132.7 248.0 133.4 249.0 133.9 250.0 134.7 251.0 135.4 252.0 135.5 253.0 136.4 254.0 136.8 255.0 137.7 256.0 137.6 257.0 137.9 258.0 137.9 259.0 137.9 260.0 138.0 261.0 138.0 262.0 138.1 263.0 138.1 264.0 138.5 265.0 138.4 266.0 138.6 267.0 139.0 268.0 138.9 269.0 139.1 270.0 139.4 271.0 139.5 272.0 139.7 273.0 139.4 274.0 139.7 275.0 139.4 276.0 139.4 277.0 139.6 278.0 139.6 279.0 139.7 280.0 139.4 281.0 139.7 282.0 139.5 283.0 139.9 284.0 139.9 285.0 140.0 286.0 140.3 287.0 140.5 288.0 141.0 289.0 141.1 290.0 141.4 291.0 141.6 292.0 141.9 293.0 142.0 294.0 142.4 295.0 142.6 296.0 142.9 297.0 142.9 298.0 143.2 299.0 143.7 300.0 143.8 301.0 143.8 302.0 143.6 303.0 143.7 304.0 143.8 305.0 143.8 306.0 144.0 307.0 143.6 308.0 143.9 309.0 143.7 310.0 143.8 311.0 143.9 312.0 143.8 313.0 144.0 314.0 144.0 315.0 144.1 316.0 144.1 317.0 144.3 318.0 144.3 319.0 144.2 320.0 144.2 321.0 143.9 322.0 143.9 323.0 143.8 324.0 143.9 325.0 143.6 326.0 143.5 327.0 143.6 328.0 143.7 329.0 143.8 330.0 144.3 331.0 144.3 332.0 143.8 333.0 144.0 334.0 143.9 335.0 143.3 336.0 142.9 337.0 142.7 338.0 142.3 339.0 141.4 340.0 141.2 341.0 140.7 342.0 140.4 343.0 139.6 344.0 139.1 345.0 138.4 346.0 137.7 347.0 137.5 348.0 136.8 349.0 136.4 350.0 135.5 351.0 134.6 352.0 133.7 353.0 132.8 354.0 132.2 355.0 131.6 356.0 131.4 357.0 131.0 358.0 131.1 359.0 130.9 360.0 130.8 361.0 130.4 362.0 130.2 363.0 129.7 364.0 129.3 365.0 128.8 366.0 128.1 367.0 127.7 368.0 127.3 369.0 126.7 370.0 126.4 371.0 126.1 372.0 125.4 373.0 124.5 374.0 124.3 375.0 123.4 376.0 123.1 377.0 122.5 378.0 121.9 379.0 121.4 380.0 120.7 381.0 120.2 382.0 119.9 383.0 119.5 384.0 118.7 385.0 118.4 386.0 117.7 387.0 117.3 388.0 116.7 389.0 116.5 390.0 116.6 391.0 116.7 392.0 116.8 393.0 116.7 394.0 116.6 395.0 117.2 396.0 117.5 397.0 117.3 398.0 117.4 399.0 117.7 400.0 117.9 401.0 118.1 402.0 118.1 403.0 117.6 404.0 117.0 405.0 116.8 406.0 114.4 407.0 112.4 408.0 110.2 409.0 109.2 410.0 109.6 411.0 109.6 412.0 109.9 413.0 110.9 414.0 112.9 415.0 114.4 416.0 116.2 417.0 120.8 418.0 126.0 419.0 127.3 420.0 129.1 421.0 130.0 422.0 131.6 423.0 132.9" stroke="#202020" stroke-width="0.9" fill="none"/>
<path d="M66.0 239.9 67.0 240.4 68.0 240.8 69.0 240.7 70.0 241.2 71.0 241.0 72.0 241.3 73.0 241.2 74.0 241.3 75.0 241.4 76.0 241.6 77.0 241.3 78.0 241.3 79.0 241.7 80.0 241.6 81.0 241.6 82.0 241.8 83.0 241.9 84.0 242.0 85.0 242.1 86.0 241.9 87.0 241.8 88.0 242.0 89.0 242.0 90.0 241.8 91.0 241.6 92.0 241.4 93.0 241.2 94.0 241.3 95.0 240.9 96.0 241.0 97.0 240.7 98.0 240.6 99.0 240.5 100.0 240.8 101.0 240.6 102.0 240.6 103.0 241.0 104.0 240.5 105.0 240.9 106.0 240.6 107.0 240.8 108.0 240.8 109.0 240.8 110.0 241.2 111.0 241.1 112.0 241.5 113.0 241.4 114.0 241.6 115.0 241.3 116.0 241.5 117.0 241.3 118.0 241.5 119.0 241.3 120.0 241.5 121.0 241.5 122.0 241.5 123.0 241.1 124.0 241.3 125.0 241.5 126.0 241.8 127.0 241.9 128.0 242.3 129.0 242.5 130.0 242.7 131.0 242.9 132.0 243.0 133.0 243.3 134.0 243.3 135.0 243.4 136.0 243.2 137.0 243.2 138.0 242.9 139.0 243.0 140.0 243.0 141.0 243.0 142.0 243.1 143.0 242.9 144.0 243.1 145.0 243.1 146.0 243.0 147.0 243.0 148.0 243.2 149.0 242.9 150.0 242.8 151.0 242.8 152.0 242.9 153.0 242.7 154.0 242.7 155.0 243.0 156.0 243.2 157.0 243.2 158.0 243.4 159.0 243.3 160.0 243.6 161.0 243.9 162.0 244.0 163.0 244.5 164.0 244.7 165.0 244.8 166.0 244.9 167.0 245.2 168.0 245.0 169.0 245.4 170.0 245.3 171.0 245.1 172.0 245.3 173.0 244.9 174.0 244.9 175.0 245.1 176.0 244.8 177.0 244.5 178.0 244.8 179.0 244.6 180.0 244.8 181.0 244.7 182.0 244.6 183.0 244.4 184.0 244.5 185.0 244.1 186.0 244.4 187.0 244.3 188.0 244.5 189.0 244.3 190.0 244.6 191.0 244.4 192.0 244.6 193.0 244.8 194.0 244.9 195.0 244.8 196.0 244.7 197.0 244.5 198.0 244.4 199.0 244.1 200.0 244.1 201.0 244.0 202.0 244.0 203.0 243.6 204.0 243.7 205.0 244.0 206.0 243.9 207.0 244.3 208.0 244.6 209.0 244.6 210.0 245.0 211.0 245.4 212.0 245.3 213.0 245.7 214.0 245.7 215.0 245.9 216.0 246.2 217.0 246.1 218.0 246.3 219.0 245.8 220.0 245.4 221.0 245.3 222.0 244.8 223.0 245.0 224.0 244.1 225.0 243.8 226.0 243.2 227.0 242.4 228.0 241.9 229.0 241.4 230.0 241.2 231.0 241.1 232.0 241.1 233.0 240.8 234.0 240.7 235.0 240.3 236.0 240.2 237.0 240.0 238.0 239.9 239.0 240.2 240.0 240.0 241.0 240.2 242.0 240.3 243.0 240.1 244.0 240.1 245.0 239.7 246.0 239.6 247.0 239.1 248.0 239.0 249.0 239.0 250.0 238.5 251.0 238.2 252.0 238.6 253.0 238.6 254.0 238.4 255.0 238.7 256.0 239.0 257.0 238.8 258.0 238.9 259.0 239.0 260.0 239.3 261.0 239.2 262.0 239.5 263.0 239.4 264.0 239.2 265.0 239.4 266.0 239.1 267.0 239.2 268.0 239.3 269.0 239.2 270.0 239.3 271.0 239.3 272.0 239.2 273.0 238.9 274.0 238.4 275.0 237.6 276.0 237.3 277.0 236.9 278.0 236.3 279.0 236.4 280.0 236.7 281.0 236.8 282.0 237.0 283.0 237.1 284.0 237.2 285.0 237.4 286.0 237.0 287.0 236.9 288.0 236.8 289.0 236.5 290.0 236.3 291.0 235.8 292.0 235.8 293.0 235.6 294.0 235.5 295.0 235.3 296.0 235.0 297.0 234.9 298.0 234.8 299.0 234.7 300.0 234.1 301.0 234.5 302.0 234.6 303.0 234.6 304.0 234.9 305.0 234.8 306.0 235.2 307.0 235.1 308.0 235.4 309.0 235.4 310.0 235.6 311.0 235.4 312.0 235.6 313.0 235.5 314.0 235.5 315.0 235.9 316.0 235.6 317.0 235.7 318.0 235.8 319.0 235.7 320.0 235.8 321.0 236.0 322.0 235.8 323.0 235.8 324.0 236.1 325.0 236.0 326.0 236.0 327.0 236.2 328.0 236.3 329.0 236.3 330.0 236.7 331.0 236.5 332.0 236.3 333.0 236.5 334.0 236.3 335.0 236.9 336.0 236.5 337.0 236.6 338.0 236.8 339.0 236.9 340.0 236.9 341.0 237.0 342.0 237.2 343.0 237.0 344.0 237.1 345.0 237.4 346.0 237.5 347.0 237.6 348.0 237.6 349.0 237.7 350.0 237.6 351.0 237.6 352.0 237.9 353.0 237.8 354.0 237.8 355.0 238.2 356.0 238.0 357.0 238.0 358.0 238.4 359.0 238.5 360.0 239.0 361.0 239.0 362.0 239.3 363.0 239.5 364.0 239.6 365.0 240.0 366.0 240.1 367.0 240.7 368.0 241.0 369.0 241.6 370.0 241.7 371.0 242.0 372.0 242.5 373.0 243.1 374.0 243.5 375.0 243.9 376.0 244.1 377.0 244.5 378.0 245.0 379.0 245.3 380.0 245.8 381.0 246.2 382.0 246.6 383.0 246.9 384.0 247.2 385.0 247.5 386.0 248.0 387.0 248.1 388.0 248.3 389.0 248.3 390.0 248.7 391.0 249.0 392.0 249.4 393.0 249.5 394.0 249.5 395.0 249.2 396.0 249.5 397.0 249.2 398.0 249.1 399.0 249.2 400.0 249.0 401.0 249.2 402.0 249.1 403.0 248.7 404.0 249.4 405.0 249.8 406.0 250.4 407.0 250.7 408.0 251.4 409.0 251.6 410.0 251.4 411.0 250.9 412.0 250.6 413.0 250.0 414.0 249.8 415.0 247.9 416.0 245.3 417.0 243.0 418.0 240.2 419.0 239.4 420.0 238.6 421.0 238.0 422.0 236.8 423.0 236.4" stroke="#2020ff" stroke-width="0.95" fill="none"/>
<path d="M66.0 213.9 67.0 213.9 68.0 213.9 69.0 213.7 70.0 213.6 71.0 213.8 72.0 213.7 73.0 213.8 74.0 213.5 75.0 213.3 76.0 213.1 77.0 212.9 78.0 212.9 79.0 212.4 80.0 212.7 81.0 212.4 82.0 211.9 83.0 211.6 84.0 211.6 85.0 211.6 86.0 211.6 87.0 211.2 88.0 211.3 89.0 211.3 90.0 211.8 91.0 211.6 92.0 211.8 93.0 212.1 94.0 212.1 95.0 212.3 96.0 212.6 97.0 212.6 98.0 212.5 99.0 212.5 100.0 212.5 101.0 212.4 102.0 212.6 103.0 212.3 104.0 212.4 105.0 212.2 106.0 212.3 107.0 212.3 108.0 212.1 109.0 212.1 110.0 212.1 111.0 212.0 112.0 212.0 113.0 211.6 114.0 211.7 115.0 211.6 116.0 211.2 117.0 211.0 118.0 210.9 119.0 210.5 120.0 210.2 121.0 210.0 122.0 210.1 123.0 210.0 124.0 210.0 125.0 210.0 126.0 209.9 127.0 210.0 128.0 209.9 129.0 209.7 130.0 209.9 131.0 209.8 132.0 210.0 133.0 210.1 134.0 210.1 135.0 210.0 136.0 209.9 137.0 210.3 138.0 210.2 139.0 210.1 140.0 210.2 141.0 210.4 142.0 210.5 143.0 210.6 144.0 210.7 145.0 210.6 146.0 210.5 147.0 210.1 148.0 209.8 149.0 209.7 150.0 209.8 151.0 209.7 152.0 209.6 153.0 209.5 154.0 209.4 155.0 209.3 156.0 209.3 157.0 209.2 158.0 209.3 159.0 209.2 160.0 209.3 161.0 209.1 162.0 209.2 163.0 209.1 164.0 209.1 165.0 209.0 166.0 208.8 167.0 209.0 168.0 209.0 169.0 209.0 170.0 208.5 171.0 208.7 172.0 208.6 173.0 208.7 174.0 208.4 175.0 208.7 176.0 208.5 177.0 208.7 178.0 208.3 179.0 208.3 180.0 208.3 181.0 208.4 182.0 208.5 183.0 208.4 184.0 208.4 185.0 208.3 186.0 208.5 187.0 208.2 188.0 208.3 189.0 208.7 190.0 208.5 191.0 208.3 192.0 208.6 193.0 208.6 194.0 208.9 195.0 208.5 196.0 208.8 197.0 209.0 198.0 208.9 199.0 209.1 200.0 209.2 201.0 209.1 202.0 209.2 203.0 209.4 204.0 209.5 205.0 209.2 206.0 209.4 207.0 209.3 208.0 209.1 209.0 209.4 210.0 209.3 211.0 209.2 212.0 209.2 213.0 209.0 214.0 209.1 215.0 209.2 216.0 209.3 217.0 209.4 218.0 209.8 219.0 209.5 220.0 209.6 221.0 209.6 222.0 209.8 223.0 209.9 224.0 210.0 225.0 210.0 226.0 210.1 227.0 209.9 228.0 209.9 229.0 210.0 230.0 210.1 231.0 210.1 232.0 209.9 233.0 210.3 234.0 211.1 235.0 211.6 236.0 211.8 237.0 212.5 238.0 213.0 239.0 212.6 240.0 212.3 241.0 212.1 242.0 211.6 243.0 211.6 244.0 211.4 245.0 212.7 246.0 213.7 247.0 215.0 248.0 215.7 249.0 214.9 250.0 213.9 251.0 213.1 252.0 212.8 253.0 213.4 254.0 214.2 255.0 215.0 256.0 215.1 257.0 215.0 258.0 214.9 259.0 214.9 260.0 214.8 261.0 214.7 262.0 215.0 263.0 215.1 264.0 214.9 265.0 214.9 266.0 215.0 267.0 215.2 268.0 215.2 269.0 215.4 270.0 215.3 271.0 215.2 272.0 215.3 273.0 215.3 274.0 215.3 275.0 215.2 276.0 215.3 277.0 215.6 278.0 215.3 279.0 215.2 280.0 215.5 281.0 215.5 282.0 215.5 283.0 215.7 284.0 215.3 285.0 215.5 286.0 215.4 287.0 215.5 288.0 215.4 289.0 215.5 290.0 215.2 291.0 215.4 292.0 215.4 293.0 215.5 294.0 215.6 295.0 215.5 296.0 215.3 297.0 215.4 298.0 215.2 299.0 215.3 300.0 215.0 301.0 215.3 302.0 215.2 303.0 215.3 304.0 215.1 305.0 215.2 306.0 214.9 307.0 215.1 308.0 215.0 309.0 214.9 310.0 215.0 311.0 214.9 312.0 214.9 313.0 215.2 314.0 215.2 315.0 215.0 316.0 215.4 317.0 215.2 318.0 215.5 319.0 215.6 320.0 215.4 321.0 215.3 322.0 215.0 323.0 214.8 324.0 214.4 325.0 214.1 326.0 214.1 327.0 213.8 328.0 213.0 329.0 212.5 330.0 212.0 331.0 211.4 332.0 211.1 333.0 210.5 334.0 210.0 335.0 209.5 336.0 208.8 337.0 208.2 338.0 207.7 339.0 206.7 340.0 206.3 341.0 205.9 342.0 205.2 343.0 204.8 344.0 204.4 345.0 204.3 346.0 203.7 347.0 203.6 348.0 203.1 349.0 202.2 350.0 202.1 351.0 201.7 352.0 201.9 353.0 201.7 354.0 201.9 355.0 201.7 356.0 201.8 357.0 201.9 358.0 201.6 359.0 201.3 360.0 201.1 361.0 201.1 362.0 200.7 363.0 200.4 364.0 200.7 365.0 200.2 366.0 200.0 367.0 199.7 368.0 199.6 369.0 199.5 370.0 199.1 371.0 198.9 372.0 198.9 373.0 198.8 374.0 198.6 375.0 198.4 376.0 198.3 377.0 198.2 378.0 198.1 379.0 198.3 380.0 198.3 381.0 198.2 382.0 198.1 383.0 198.1 384.0 198.3 385.0 198.1 386.0 198.0 387.0 197.8 388.0 198.0 389.0 197.7 390.0 197.9 391.0 197.6 392.0 197.7 393.0 197.7 394.0 197.4 395.0 197.5 396.0 197.5 397.0 198.0 398.0 197.9 399.0 198.0 400.0 198.1 401.0 198.3 402.0 198.3 403.0 198.5 404.0 196.5 405.0 194.9 406.0 193.2 407.0 191.6 408.0 191.2 409.0 190.7 410.0 190.3 411.0 190.4 412.0 191.1 413.0 191.8 414.0 192.2 415.0 193.9 416.0 195.4 417.0 197.3 418.0 199.1 419.0 199.7 420.0 200.2 421.0 201.0 422.0 201.6 423.0 202.3" stroke="#00e020" stroke-width="0.95" fill="none"/>
<path d="M66.0 189.9 67.0 189.9 68.0 189.6 69.0 190.1 70.0 190.1 71.0 190.2 72.0 190.3 73.0 190.0 74.0 190.2 75.0 190.2 76.0 190.2 77.0 190.1 78.0 190.2 79.0 190.2 80.0 190.3 81.0 190.0 82.0 190.2 83.0 190.2 84.0 190.2 85.0 190.2 86.0 190.0 87.0 190.0 88.0 190.2 89.0 190.3 90.0 190.1 91.0 190.2 92.0 189.9 93.0 189.9 94.0 190.2 95.0 190.2 96.0 190.2 97.0 190.3 98.0 190.2 99.0 190.4 100.0 190.7 101.0 190.8 102.0 190.8 103.0 190.6 104.0 190.7 105.0 190.7 106.0 190.6 107.0 190.7 108.0 190.6 109.0 190.6 110.0 190.9 111.0 190.9 112.0 190.6 113.0 190.5 114.0 190.3 115.0 190.2 116.0 190.1 117.0 189.8 118.0 189.5 119.0 189.7 120.0 189.3 121.0 189.5 122.0 189.7 123.0 189.5 124.0 189.4 125.0 189.5 126.0 189.3 127.0 189.3 128.0 189.6 129.0 189.5 130.0 189.5 131.0 189.6 132.0 189.4 133.0 189.2 134.0 189.1 135.0 189.1 136.0 188.8 137.0 188.6 138.0 188.6 139.0 189.1 140.0 189.4 141.0 189.6 142.0 189.5 143.0 189.7 144.0 190.2 145.0 190.2 146.0 190.3 147.0 190.4 148.0 190.5 149.0 190.7 150.0 190.9 151.0 190.8 152.0 191.0 153.0 191.3 154.0 191.1 155.0 191.3 156.0 191.4 157.0 191.2 158.0 191.6 159.0 191.4 160.0 191.4 161.0 191.7 162.0 191.6 163.0 191.7 164.0 191.7 165.0 191.7 166.0 191.6 167.0 191.8 168.0 191.9 169.0 192.1 170.0 191.9 171.0 191.7 172.0 191.7 173.0 191.7 174.0 191.3 175.0 191.5 176.0 191.3 177.0 191.1 178.0 191.0 179.0 191.0 180.0 190.8 181.0 191.0 182.0 191.1 183.0 190.7 184.0 190.6 185.0 190.7 186.0 190.4 187.0 190.8 188.0 190.4 189.0 190.8 190.0 190.6 191.0 190.7 192.0 190.5 193.0 190.6 194.0 190.4 195.0 190.5 196.0 190.5 197.0 191.0 198.0 190.7 199.0 190.9 200.0 190.7 201.0 190.9 202.0 190.9 203.0 191.1 204.0 190.9 205.0 191.1 206.0 191.5 207.0 191.6 208.0 191.7 209.0 192.0 210.0 192.3 211.0 192.2 212.0 192.7 213.0 193.2 214.0 193.7 215.0 194.4 216.0 194.6 217.0 195.2 218.0 195.8 219.0 195.6 220.0 196.0 221.0 196.0 222.0 195.9 223.0 196.3 224.0 196.2 225.0 195.8 226.0 195.4 227.0 195.1 228.0 194.5 229.0 194.5 230.0 194.4 231.0 194.5 232.0 194.0 233.0 194.2 234.0 193.9 235.0 194.1 236.0 193.8 237.0 193.9 238.0 193.9 239.0 194.1 240.0 193.7 241.0 193.9 242.0 194.3 243.0 194.2 244.0 194.2 245.0 195.0 246.0 195.6 247.0 196.1 248.0 196.8 249.0 197.2 250.0 198.0 251.0 198.7 252.0 199.0 253.0 198.9 254.0 199.7 255.0 199.6 256.0 200.1 257.0 200.2 258.0 200.3 259.0 200.5 260.0 200.7 261.0 200.8 262.0 200.9 263.0 200.9 264.0 200.7 265.0 200.7 266.0 201.0 267.0 201.0 268.0 201.3 269.0 201.1 270.0 201.4 271.0 201.5 272.0 201.4 273.0 201.3 274.0 200.9 275.0 200.7 276.0 200.6 277.0 200.0 278.0 200.0 279.0 199.9 280.0 199.9 281.0 199.8 282.0 199.9 283.0 200.2 284.0 200.1 285.0 200.3 286.0 200.3 287.0 200.4 288.0 200.2 289.0 200.3 290.0 200.6 291.0 200.6 292.0 200.9 293.0 201.0 294.0 200.9 295.0 201.3 296.0 201.3 297.0 201.5 298.0 201.5 299.0 201.8 300.0 201.7 301.0 201.8 302.0 201.9 303.0 202.1 304.0 201.9 305.0 202.1 306.0 202.2 307.0 202.5 308.0 202.4 309.0 202.4 310.0 202.4 311.0 202.7 312.0 202.7 313.0 202.5 314.0 202.8 315.0 202.8 316.0 202.8 317.0 202.7 318.0 202.9 319.0 202.7 320.0 202.9 321.0 203.1 322.0 202.9 323.0 203.2 324.0 203.4 325.0 203.7 326.0 203.7 327.0 203.8 328.0 204.1 329.0 204.3 330.0 204.4 331.0 204.7 332.0 205.0 333.0 204.8 334.0 204.5 335.0 204.0 336.0 203.9 337.0 203.7 338.0 203.4 339.0 203.3 340.0 202.8 341.0 203.1 342.0 202.4 343.0 201.7 344.0 201.4 345.0 201.0 346.0 200.4 347.0 200.0 348.0 199.5 349.0 199.1 350.0 198.3 351.0 197.7 352.0 197.4 353.0 197.2 354.0 196.9 355.0 196.7 356.0 196.6 357.0 196.5 358.0 196.4 359.0 196.3 360.0 196.4 361.0 196.4 362.0 196.3 363.0 196.0 364.0 195.9 365.0 196.0 366.0 195.8 367.0 195.2 368.0 195.5 369.0 195.3 370.0 195.0 371.0 195.0 372.0 195.0 373.0 194.8 374.0 194.4 375.0 194.7 376.0 194.4 377.0 194.5 378.0 194.4 379.0 194.8 380.0 194.9 381.0 194.5 382.0 194.7 383.0 194.6 384.0 194.6 385.0 194.7 386.0 194.9 387.0 194.8 388.0 195.1 389.0 195.5 390.0 195.5 391.0 195.0 392.0 195.7 393.0 195.6 394.0 195.8 395.0 195.9 396.0 196.0 397.0 196.2 398.0 196.4 399.0 196.3 400.0 196.3 401.0 196.5 402.0 196.6 403.0 196.9 404.0 197.0 405.0 197.0 406.0 196.8 407.0 196.5 408.0 196.0 409.0 195.4 410.0 194.9 411.0 194.9 412.0 194.1 413.0 194.4 414.0 194.7 415.0 194.7 416.0 195.0 417.0 195.2 418.0 195.2 419.0 195.3 420.0 195.8 421.0 196.0 422.0 196.4 423.0 196.7" stroke="#ff2020" stroke-width="0.95" fill="none"/>
<path d="M66.0 301.8 66.8 301.8 67.6 302.1 68.4 302.0 69.2 301.8 70.0 302.7 70.8 302.8 71.6 302.6 72.4 302.4 73.2 303.1 74.0 303.2 74.8 303.3 75.6 303.5 76.4 303.3 77.2 303.5 78.0 303.2 78.8 303.2 79.6 303.7 80.4 303.0 81.2 302.6 82.0 302.8 82.8 302.8 83.6 302.0 84.4 302.0 85.2 302.0 86.0 301.9 86.8 302.1 87.6 301.5 88.4 301.6 89.2 301.3 90.0 301.5 90.8 301.2 91.6 301.8 92.4 301.0 93.2 301.2 94.0 300.5 94.8 300.6 95.6 300.2 96.4 300.1 97.2 300.8 98.0 301.0 98.8 300.9 99.6 300.8 100.4 300.8 101.2 300.9 102.0 300.9 102.8 300.6 103.6 301.2 104.4 301.0 105.2 301.3 106.0 301.3 106.8 301.3 107.6 301.3 108.4 300.8 109.2 301.2 110.0 301.1 110.8 300.7 111.6 300.7 112.4 301.2 113.2 301.0 114.0 301.1 114.8 300.7 115.6 301.7 116.4 302.3 117.2 302.4 118.0 303.4 118.8 303.5 119.6 304.1 120.4 303.8 121.2 304.3 122.0 304.3 122.8 303.6 123.6 303.2 124.4 302.5 125.2 302.1 126.0 301.8 126.8 301.6 127.6 300.9 128.4 301.6 129.2 301.6 130.0 300.9 130.8 301.6 131.6 301.6 132.4 301.2 133.2 301.5 134.0 301.1 134.8 301.3 135.6 300.9 136.4 301.2 137.2 301.3 138.0 301.1 138.8 301.1 139.6 301.2 140.4 301.5 141.2 301.0 142.0 300.9 142.8 301.2 143.6 302.2 144.4 302.5 145.2 303.5 146.0 304.1 146.8 304.6 147.6 305.3 148.4 305.4 149.2 305.5 150.0 305.8 150.8 306.0 151.6 306.6 152.4 306.2 153.2 306.5 154.0 306.5 154.8 307.0 155.6 306.8 156.4 306.4 157.2 306.5 158.0 306.4 158.8 306.6 159.6 306.5 160.4 306.7 161.2 306.8 162.0 306.7 162.8 306.7 163.6 306.9 164.4 306.7 165.2 307.2 166.0 307.1 166.8 307.7 167.6 307.7 168.4 307.3 169.2 307.6 170.0 307.8 170.8 308.3 171.6 307.6 172.4 308.0 173.2 308.9 174.0 308.5 174.8 308.4 175.6 308.6 176.4 308.4 177.2 308.8 178.0 307.9 178.8 307.8 179.6 307.2 180.4 307.4 181.2 306.6 182.0 306.1 182.8 306.6 183.6 305.7 184.4 305.7 185.2 305.3 186.0 305.5 186.8 306.0 187.6 306.0 188.4 306.3 189.2 306.5 190.0 306.7 190.8 306.8 191.6 307.6 192.4 307.0 193.2 307.9 194.0 307.8 194.8 308.2 195.6 308.2 196.4 309.0 197.2 309.0 198.0 309.1 198.8 309.2 199.6 308.9 200.4 309.6 201.2 309.2 202.0 309.4 202.8 309.4 203.6 309.8 204.4 309.6 205.2 308.8 206.0 310.0 206.8 310.4 207.6 310.3 208.4 310.2 209.2 310.2 210.0 310.5 210.8 310.4 211.6 310.7 212.4 310.7 213.2 310.4 214.0 310.4 214.8 310.8 215.6 311.0 216.4 310.9 217.2 311.2 218.0 310.9 218.8 311.1 219.6 311.6 220.4 311.3 221.2 311.4 222.0 311.8 222.8 312.0 223.6 311.6 224.4 312.5 225.2 313.2 226.0 312.8 226.8 312.1 227.6 311.6 228.4 310.7 229.2 309.5 230.0 309.2 230.8 308.1 231.6 307.3 232.4 306.3 233.2 305.4 234.0 304.7 234.8 303.7 235.6 301.8 236.4 302.1 237.2 301.1 238.0 301.8 238.8 301.7 239.6 301.4 240.4 301.2 241.2 301.6 242.0 300.7 242.8 301.1 243.6 300.8 244.4 301.4 245.2 301.6 246.0 301.4 246.8 301.3 247.6 300.6 248.4 301.1 249.2 300.6 250.0 301.0 250.8 300.8 251.6 300.4 252.4 300.9 253.2 300.2 254.0 300.5 254.8 300.6 255.6 300.6 256.4 300.8 257.2 300.1 258.0 300.6 258.8 300.8 259.6 299.9 260.4 300.0 261.2 300.2 262.0 299.9 262.8 300.5 263.6 300.8 264.4 300.6 265.2 300.6 266.0 300.4 266.8 300.6 267.6 300.2 268.4 300.6 269.2 300.4 270.0 300.2 270.8 299.8 271.6 299.9 272.4 300.4 273.2 300.4 274.0 300.4 274.8 300.1 275.6 300.3 276.4 300.0 277.2 300.6 278.0 300.9 278.8 300.8 279.6 299.9 280.4 300.3 281.2 300.7 282.0 300.3 282.8 300.4 283.6 300.6 284.4 300.6 285.2 300.5 286.0 300.1 286.8 300.1 287.6 300.5 288.4 300.2 289.2 299.8 290.0 300.5 290.8 300.6 291.6 300.6 292.4 300.3 293.2 300.2 294.0 299.9 294.8 299.5 295.6 299.9 296.4 300.1 297.2 299.6 298.0 300.0 298.8 300.3 299.6 300.0 300.4 300.6 301.2 300.7 302.0 300.3 302.8 301.1 303.6 300.9 304.4 300.8 305.2 301.2 306.0 301.0 306.8 301.4 307.6 300.7 308.4 301.4 309.2 301.2 310.0 301.2 310.8 300.8 311.6 301.2 312.4 301.0 313.2 301.1 314.0 300.6 314.8 300.7 315.6 301.1 316.4 301.2 317.2 301.6 318.0 300.5 318.8 300.8 319.6 300.9 320.4 301.1 321.2 300.8 322.0 301.2 322.8 301.1 323.6 300.5 324.4 300.4 325.2 300.6 326.0 300.5 326.8 300.7 327.6 300.9 328.4 300.5 329.2 300.6 330.0 300.8 330.8 300.8 331.6 301.3 332.4 300.9 333.2 300.9 334.0 301.3 334.8 301.4 335.6 300.9 336.4 301.5 337.2 302.3 338.0 303.7 338.8 303.5 339.6 303.8 340.4 304.4 341.2 304.4 342.0 304.6 342.8 305.0 343.6 305.1 344.4 304.6 345.2 303.8 346.0 303.5 346.8 303.2 347.6 302.8 348.4 302.6 349.2 302.1 350.0 302.4 350.8 301.6 351.6 301.4 352.4 301.0 353.2 301.7 354.0 301.6 354.8 301.4 355.6 301.7 356.4 301.9 357.2 302.0 358.0 301.9 358.8 302.1 359.6 301.7 360.4 301.9 361.2 301.0 362.0 300.3 362.8 300.4 363.6 300.3 364.4 300.1 365.2 300.0 366.0 299.5 366.8 299.5 367.6 299.2 368.4 299.1 369.2 299.1 370.0 298.8 370.8 299.0 371.6 298.7 372.4 298.6 373.2 298.7 374.0 298.6 374.8 298.4 375.6 298.3 376.4 297.7 377.2 297.6 378.0 297.1 378.8 296.9 379.6 295.7 380.4 294.8 381.2 294.7 382.0 294.3 382.8 293.7 383.6 293.4 384.4 292.9 385.2 292.5 386.0 292.2 386.8 290.8 387.6 291.3 388.4 290.3 389.2 290.7 390.0 290.1 390.8 289.7 391.6 289.5 392.4 288.9 393.2 289.2 394.0 288.8 394.8 288.6 395.6 288.8 396.4 289.0 397.2 289.0 398.0 288.8 398.8 288.2 399.6 288.7 400.4 288.3 401.2 288.6 402.0 288.6 402.8 288.8 403.6 289.1 404.4 288.8 405.2 289.4 406.0 290.2 406.8 293.8 407.6 299.6 408.4 306.4 409.2 299.4 410.0 294.3 410.8 298.1 411.6 302.8 412.4 300.1 413.2 296.0 414.0 295.1 414.8 294.2 415.6 295.1 416.4 295.7 417.2 294.3 418.0 293.6 418.8 294.1 419.6 294.0 420.4 294.9 421.2 295.7 422.0 296.9 422.8 298.6" stroke="#101010" stroke-width="1.15" fill="none"/>
<path d="M66.0 389.0 66.6 388.6 67.2 388.1 67.8 388.6 68.4 388.8 69.0 389.0 69.6 389.2 70.2 389.1 70.8 389.2 71.4 389.6 72.0 389.5 72.6 388.6 73.2 388.9 73.8 389.1 74.4 388.6 75.0 388.9 75.6 389.3 76.2 388.9 76.8 388.4 77.4 389.3 78.0 388.9 78.6 388.3 79.2 388.2 79.8 387.8 80.4 388.3 81.0 387.7 81.6 388.6 82.2 388.3 82.8 388.8 83.4 388.4 84.0 388.5 84.6 388.0 85.2 387.9 85.8 387.8 86.4 387.1 87.0 387.3 87.6 387.4 88.2 387.7 88.8 387.6 89.4 387.8 90.0 387.1 90.6 386.9 91.2 387.2 91.8 386.9 92.4 387.5 93.0 386.2 93.6 387.0 94.2 386.2 94.8 387.1 95.4 387.3 96.0 386.6 96.6 386.5 97.2 386.3 97.8 386.3 98.4 386.8 99.0 386.4 99.6 386.8 100.2 387.1 100.8 386.5 101.4 386.6 102.0 386.2 102.6 386.6 103.2 386.6 103.8 386.6 104.4 386.9 105.0 386.7 105.6 386.3 106.2 386.1 106.8 386.0 107.4 386.1 108.0 385.8 108.6 385.6 109.2 385.8 109.8 386.1 110.4 386.0 111.0 385.7 111.6 385.8 112.2 385.3 112.8 385.3 113.4 384.8 114.0 384.8 114.6 384.9 115.2 385.0 115.8 385.0 116.4 384.6 117.0 385.0 117.6 385.0 118.2 385.0 118.8 385.1 119.4 384.1 120.0 384.5 120.6 385.2 121.2 385.1 121.8 384.7 122.4 384.8 123.0 384.9 123.6 384.6 124.2 385.4 124.8 385.3 125.4 385.5 126.0 384.4 126.6 384.7 127.2 385.5 127.8 385.0 128.4 385.5 129.0 385.0 129.6 385.7 130.2 385.3 130.8 385.4 131.4 385.2 132.0 385.5 132.6 386.3 133.2 385.9 133.8 386.0 134.4 385.5 135.0 386.1 135.6 385.6 136.2 385.5 136.8 385.6 137.4 385.9 138.0 385.4 138.6 385.0 139.2 385.5 139.8 385.7 140.4 385.2 141.0 385.0 141.6 384.5 142.2 385.7 142.8 384.8 143.4 385.1 144.0 386.0 144.6 385.0 145.2 384.5 145.8 384.3 146.4 384.5 147.0 384.2 147.6 384.0 148.2 384.0 148.8 384.3 149.4 384.1 150.0 384.7 150.6 384.9 151.2 385.1 151.8 384.3 152.4 385.1 153.0 384.6 153.6 383.7 154.2 384.5 154.8 383.3 155.4 384.5 156.0 383.6 156.6 384.6 157.2 383.9 157.8 383.5 158.4 384.4 159.0 384.3 159.6 383.8 160.2 384.0 160.8 384.1 161.4 384.1 162.0 383.7 162.6 384.2 163.2 383.5 163.8 383.5 164.4 383.3 165.0 383.4 165.6 383.4 166.2 383.9 166.8 383.6 167.4 383.8 168.0 383.1 168.6 382.8 169.2 383.5 169.8 383.3 170.4 383.1 171.0 383.2 171.6 382.7 172.2 383.4 172.8 383.5 173.4 383.5 174.0 383.0 174.6 383.4 175.2 383.2 175.8 382.9 176.4 383.5 177.0 383.4 177.6 382.8 178.2 382.5 178.8 383.1 179.4 382.7 180.0 382.5 180.6 382.4 181.2 382.3 181.8 382.7 182.4 382.9 183.0 383.2 183.6 382.9 184.2 383.4 184.8 382.9 185.4 383.6 186.0 382.5 186.6 382.8 187.2 382.5 187.8 382.6 188.4 382.7 189.0 382.8 189.6 383.0 190.2 382.0 190.8 382.1 191.4 382.6 192.0 382.5 192.6 382.5 193.2 382.4 193.8 383.0 194.4 383.5 195.0 382.1 195.6 382.9 196.2 382.7 196.8 382.6 197.4 382.8 198.0 382.9 198.6 382.4 199.2 383.2 199.8 382.6 200.4 382.5 201.0 383.1 201.6 383.1 202.2 382.7 202.8 383.0 203.4 383.2 204.0 383.2 204.6 383.6 205.2 383.2 205.8 383.4 206.4 383.0 207.0 382.8 207.6 382.9 208.2 383.2 208.8 383.3 209.4 382.7 210.0 383.0 210.6 383.4 211.2 383.6 211.8 383.3 212.4 382.7 213.0 382.9 213.6 382.7 214.2 382.9 214.8 382.7 215.4 382.2 216.0 381.9 216.6 381.6 217.2 382.2 217.8 382.5 218.4 382.1 219.0 382.1 219.6 381.8 220.2 381.6 220.8 381.9 221.4 381.6 222.0 381.2 222.6 382.0 223.2 381.6 223.8 382.5 224.4 382.3 225.0 381.3 225.6 382.1 226.2 381.7 226.8 382.4 227.4 382.5 228.0 382.7 228.6 382.0 229.2 383.2 229.8 383.4 230.4 381.7 231.0 382.4 231.6 382.7 232.2 382.4 232.8 382.9 233.4 382.6 234.0 382.4 234.6 382.8 235.2 383.2 235.8 383.9 236.4 383.2 237.0 383.8 237.6 384.2 238.2 384.6 238.8 384.6 239.4 385.0 240.0 384.9 240.6 384.7 241.2 384.2 241.8 384.3 242.4 383.8 243.0 384.0 243.6 383.5 244.2 384.1 244.8 384.1 245.4 383.9 246.0 384.4 246.6 384.1 247.2 383.6 247.8 383.0 248.4 383.4 249.0 383.8 249.6 383.5 250.2 383.1 250.8 382.5 251.4 382.8 252.0 383.2 252.6 382.3 253.2 382.3 253.8 382.3 254.4 383.2 255.0 382.9 255.6 383.3 256.2 383.6 256.8 383.0 257.4 382.7 258.0 383.7 258.6 383.6 259.2 383.8 259.8 384.2 260.4 385.1 261.0 384.8 261.6 384.3 262.2 385.0 262.8 384.4 263.4 384.4 264.0 384.4 264.6 385.0 265.2 385.1 265.8 385.0 266.4 384.3 267.0 383.9 267.6 384.0 268.2 384.7 268.8 383.8 269.4 383.6 270.0 383.3 270.6 383.9 271.2 384.4 271.8 383.2 272.4 384.6 273.0 383.8 273.6 384.1 274.2 384.5 274.8 384.3 275.4 384.3 276.0 384.8 276.6 383.8 277.2 384.3 277.8 384.5 278.4 384.6 279.0 385.7 279.6 384.9 280.2 385.7 280.8 385.2 281.4 384.8 282.0 384.8 282.6 385.8 283.2 384.7 283.8 385.0 284.4 385.4 285.0 385.7 285.6 386.2 286.2 385.6 286.8 386.2 287.4 385.1 288.0 385.4 288.6 385.4 289.2 385.8 289.8 385.4 290.4 385.7 291.0 385.6 291.6 385.9 292.2 385.6 292.8 385.4 293.4 384.7 294.0 385.3 294.6 385.2 295.2 384.7 295.8 385.7 296.4 386.0 297.0 385.5 297.6 385.1 298.2 385.3 298.8 385.2 299.4 385.5 300.0 385.3 300.6 385.4 301.2 385.0 301.8 385.6 302.4 385.2 303.0 385.5 303.6 384.8 304.2 385.1 304.8 385.5 305.4 385.5 306.0 385.0 306.6 384.6 307.2 385.4 307.8 385.7 308.4 385.3 309.0 385.0 309.6 384.7 310.2 385.9 310.8 386.0 311.4 385.5 312.0 385.2 312.6 385.8 313.2 386.1 313.8 385.7 314.4 386.3 315.0 385.8 315.6 386.5 316.2 385.7 316.8 385.6 317.4 385.7 318.0 385.2 318.6 386.8 319.2 385.9 319.8 386.1 320.4 386.6 321.0 386.1 321.6 386.2 322.2 386.3 322.8 386.8 323.4 386.1 324.0 385.6 324.6 386.2 325.2 385.6 325.8 385.5 326.4 385.8 327.0 386.6 327.6 386.1 328.2 385.9 328.8 385.3 329.4 385.2 330.0 385.3 330.6 385.0 331.2 385.7 331.8 385.9 332.4 385.6 333.0 385.4 333.6 385.1 334.2 385.9 334.8 385.1 335.4 384.8 336.0 383.9 336.6 384.6 337.2 384.9 337.8 384.4 338.4 385.1 339.0 384.6 339.6 384.8 340.2 384.8 340.8 384.1 341.4 384.4 342.0 384.6 342.6 384.1 343.2 384.0 343.8 384.6 344.4 384.1 345.0 383.8 345.6 384.6 346.2 384.2 346.8 383.6 347.4 384.8 348.0 384.3 348.6 383.5 349.2 383.2 349.8 383.6 350.4 383.9 351.0 383.8 351.6 383.2 352.2 382.7 352.8 383.0 353.4 383.6 354.0 383.4 354.6 383.6 355.2 383.3 355.8 383.0 356.4 383.2 357.0 383.5 357.6 383.8 358.2 382.7 358.8 383.1 359.4 383.7 360.0 383.6 360.6 382.8 361.2 383.5 361.8 383.4 362.4 382.5 363.0 382.5 363.6 383.0 364.2 383.2 364.8 383.3 365.4 383.3 366.0 382.6 366.6 382.5 367.2 382.3 367.8 382.3 368.4 382.1 369.0 381.6 369.6 382.1 370.2 382.2 370.8 382.2 371.4 382.6 372.0 382.6 372.6 381.8 373.2 382.2 373.8 382.3 374.4 382.3 375.0 382.1 375.6 382.7 376.2 381.7 376.8 381.6 377.4 381.8 378.0 381.5 378.6 378.8 379.2 379.7 379.8 381.7 380.4 379.9 381.0 381.3 381.6 379.4 382.2 378.9 382.8 377.6 383.4 377.7 384.0 378.7 384.6 379.4 385.2 378.1 385.8 375.7 386.4 377.3 387.0 378.2 387.6 376.1 388.2 376.6 388.8 375.6 389.4 376.3 390.0 373.9 390.6 374.8 391.2 374.4 391.8 372.9 392.4 374.4 393.0 372.1 393.6 376.4 394.2 374.0 394.8 373.0 395.4 372.7 396.0 374.4 396.6 372.9 397.2 372.2 397.8 372.1 398.4 373.1 399.0 373.1 399.6 371.0 400.2 372.0 400.8 374.1 401.4 375.0 402.0 373.3 402.6 373.2 403.2 374.3 403.8 372.7 404.4 375.5 405.0 376.3 405.6 377.1 406.2 376.7 406.8 377.7 407.4 379.1 408.0 378.3 408.6 378.8 409.2 380.4 409.8 378.8 410.4 380.3 411.0 378.8 411.6 378.7 412.2 377.9 412.8 376.1 413.4 376.9 414.0 375.8 414.6 377.6 415.2 376.6 415.8 378.6 416.4 380.3 417.0 380.3 417.6 378.9 418.2 380.4 418.8 378.1 419.4 379.1 420.0 377.3 420.6 379.5 421.2 376.6 421.8 379.9 422.4 378.1 423.0 379.9" stroke="#101010" stroke-width="1.15" fill="none"/>
<path d="M557.0 62.9 557.5 64.3 558.1 64.1 558.6 59.7 559.2 61.5 559.7 58.5 560.3 60.0 560.8 58.7 561.4 58.5 561.9 58.3 562.5 58.9 563.0 55.3 563.6 54.6 564.1 57.3 564.7 56.0 565.2 55.4 565.8 56.4 566.3 56.2 566.9 56.5 567.4 56.7 568.0 54.1 568.5 52.8 569.1 54.2 569.6 54.5 570.2 54.5 570.7 53.5 571.3 53.1 571.8 52.8 572.4 54.8 572.9 52.8 573.5 54.3 574.0 53.1 574.6 53.2 575.1 51.6 575.7 54.1 576.2 52.6 576.8 51.6 577.3 54.9 577.9 50.7 578.4 53.6 579.0 50.7 579.5 51.9 580.1 51.3 580.6 49.8 581.2 52.0 581.7 49.4 582.3 51.6 582.8 49.3 583.4 49.1 583.9 46.3 584.5 47.2 585.0 46.4 585.6 49.5 586.1 49.0 586.7 51.1 587.2 52.9 587.8 53.5 588.3 51.5 588.9 53.7 589.4 53.7 590.0 53.7 590.5 53.2 591.1 54.0 591.6 54.1 592.2 54.1 592.7 54.0 593.3 53.0 593.8 53.3 594.4 53.9 594.9 55.9 595.5 54.5 596.0 53.8 596.6 51.0 597.1 51.9 597.7 51.8 598.2 50.9 598.8 51.2 599.3 48.7 599.9 49.8 600.4 49.6 601.0 48.0 601.5 48.2 602.1 50.5 602.6 49.2 603.2 49.5 603.7 51.0 604.3 53.9 604.8 53.4 605.4 54.6 605.9 56.7 606.5 57.5 607.0 57.1 607.6 57.9 608.1 56.6 608.7 58.4 609.2 60.3 609.8 59.8 610.3 62.6 610.9 63.0 611.4 62.4 612.0 62.1 612.5 63.4 613.1 62.2 613.6 66.0 614.2 65.6 614.7 64.6 615.3 66.9 615.8 63.6 616.4 63.6 616.9 65.5 617.5 62.3 618.0 59.6 618.6 61.6 619.1 59.6 619.7 60.3 620.2 59.9 620.8 59.3 621.3 58.3 621.9 59.3 622.4 56.7 623.0 58.9 623.5 57.9 624.1 60.0 624.6 57.4 625.2 58.9 625.7 56.0 626.3 55.4 626.8 55.4 627.4 54.6 627.9 51.7 628.5 51.0 629.0 49.7 629.6 49.9 630.1 47.7 630.7 48.6 631.2 48.2 631.8 49.4 632.3 46.7 632.9 48.2 633.4 50.0 634.0 47.1 634.5 48.0 635.1 48.0 635.6 45.6 636.2 47.4 636.7 48.4 637.3 45.3 637.8 47.7 638.4 47.6 638.9 48.8 639.5 50.6 640.0 49.5 640.6 52.1 641.1 50.1 641.7 49.3 642.2 51.5 642.8 48.7 643.3 53.0 643.9 50.1 644.4 52.4 645.0 52.0 645.5 50.3 646.1 50.9 646.6 51.1 647.2 50.9 647.7 51.6 648.3 53.5 648.8 52.6 649.4 54.0 649.9 52.8 650.5 53.1 651.0 51.9 651.6 51.6 652.1 54.0 652.7 52.8 653.2 54.7 653.8 55.9 654.3 54.7 654.9 54.4 655.4 53.6 656.0 55.4 656.5 53.6 657.1 54.5 657.6 57.2 658.2 54.2 658.7 54.5 659.3 57.8 659.8 57.5 660.4 54.3 660.9 56.6 661.5 57.8 662.0 55.6 662.6 56.1 663.1 56.4 663.7 58.1 664.2 57.1 664.8 59.6 665.3 58.3 665.9 57.0 666.4 58.6 667.0 56.6 667.5 56.8 668.1 57.6 668.6 56.0 669.2 56.7 669.7 56.3 670.3 55.4 670.8 56.3 671.4 55.9 671.9 52.6 672.5 53.8 673.0 54.9 673.6 52.7 674.1 51.8 674.7 53.7 675.2 53.2 675.8 54.7 676.3 54.9 676.9 54.4 677.4 55.4 678.0 54.2 678.5 55.8 679.1 56.6 679.6 56.2 680.2 57.2 680.7 55.1 681.3 56.6 681.8 57.2 682.4 58.4 682.9 59.0 683.5 57.7 684.0 59.1 684.6 60.7 685.1 61.3 685.7 58.7 686.2 61.8 686.8 61.2 687.3 60.6 687.9 62.3 688.4 60.5 689.0 62.5 689.5 59.7 690.1 61.0 690.6 58.4 691.2 59.4 691.7 56.8 692.3 57.1 692.8 55.5 693.4 54.5 693.9 57.6 694.5 53.5 695.0 52.6 695.6 52.9 696.1 50.0 696.7 49.1 697.2 49.7 697.8 45.9 698.3 44.1 698.9 44.2 699.4 41.8 700.0 39.5 700.5 38.6 701.1 37.5 701.6 35.8 702.2 37.0 702.7 33.9 703.3 30.4 703.8 29.9 704.4 27.0 704.9 30.7 705.5 25.7 706.0 25.3 706.6 25.1 707.1 24.6 707.7 23.5 708.2 23.0 708.8 23.3 709.3 21.2 709.9 21.1 710.4 24.3 711.0 26.9 711.5 29.2 712.1 30.7 712.6 31.6 713.2 29.9 713.7 29.2 714.3 31.1 714.8 29.4 715.4 31.3 715.9 37.3 716.5 38.1 717.0 39.5 717.6 43.6 718.1 44.2 718.7 48.0 719.2 47.5 719.8 50.2 720.3 50.9 720.9 51.3 721.4 54.8 722.0 54.3 722.5 58.2 723.1 58.6 723.6 62.6 724.2 61.7 724.7 62.6 725.3 65.5 725.8 68.5 726.4 70.1 726.9 71.9 727.5 71.3 728.0 72.7 728.6 74.2 729.1 74.7 729.7 76.0 730.2 75.7 730.8 74.9 731.3 73.7 731.9 72.6 732.4 72.7 733.0 73.9 733.5 72.1 734.1 70.9 734.6 68.2 735.2 68.8 735.7 68.0 736.3 68.9 736.8 66.9 737.4 64.3 737.9 61.2 738.5 63.8 739.0 61.2 739.6 59.5 740.1 59.3 740.7 56.9 741.2 57.7 741.8 55.7 742.3 52.1 742.9 51.1 743.4 47.8 744.0 46.5 744.5 42.8 745.1 42.1 745.6 40.7 746.2 40.9 746.7 38.7 747.3 38.0 747.8 35.5 748.4 36.3 748.9 35.3 749.5 33.0 750.0 34.2 750.6 31.2 751.1 30.5 751.7 30.5 752.2 32.1 752.8 28.9 753.3 31.8 753.9 33.1 754.4 32.0 755.0 32.4 755.5 33.0 756.1 34.5 756.6 34.9 757.2 38.7 757.7 38.2 758.3 41.1 758.8 40.3 759.4 42.7 759.9 44.9 760.5 48.3 761.0 48.2 761.6 48.6 762.1 51.7 762.7 54.5 763.2 56.5 763.8 55.9 764.3 57.3 764.9 60.2 765.4 61.5 766.0 62.2 766.5 63.2 767.1 65.0 767.6 66.9 768.2 64.0 768.7 64.2 769.3 63.9 769.8 65.2 770.4 67.2 770.9 66.2 771.5 66.4 772.0 68.4 772.6 65.4 773.1 66.4 773.7 67.7 774.2 66.9 774.8 67.1 775.3 66.8 775.9 65.8 776.4 67.5 777.0 66.4 777.5 65.7 778.1 65.7 778.6 67.5 779.2 65.8 779.7 67.2 780.3 66.5 780.8 64.6 781.4 65.5 781.9 66.4 782.5 63.3 783.0 63.0 783.6 58.9 784.1 61.4 784.7 60.0 785.2 57.9 785.8 56.8 786.3 54.3 786.9 51.1 787.4 47.4 788.0 46.7 788.5 46.4 789.1 45.7 789.6 45.3 790.2 46.8 790.7 46.5 791.3 45.5 791.8 43.4 792.4 46.3 792.9 44.9 793.5 46.3 794.0 46.6 794.6 45.8 795.1 47.1 795.7 48.1 796.2 47.8 796.8 47.5 797.3 46.7 797.9 47.1 798.4 48.2 799.0 48.3 799.5 48.6 800.1 48.8 800.6 48.4 801.2 51.2 801.7 49.8 802.3 49.2 802.8 49.2 803.4 49.8 803.9 49.0 804.5 49.2 805.0 49.2 805.6 49.0 806.1 48.6 806.7 48.5 807.2 46.7 807.8 48.2 808.3 47.9 808.9 47.4 809.4 46.1 810.0 45.1 810.5 41.8 811.1 42.1 811.6 40.4 812.2 37.3 812.7 36.7 813.3 33.9 813.8 35.1 814.4 34.1 814.9 35.1 815.5 35.5 816.0 35.5 816.6 37.0 817.1 37.4 817.7 37.4 818.2 39.5 818.8 38.0 819.3 39.4 819.9 39.8 820.4 41.1 821.0 40.2 821.5 41.2 822.1 40.5 822.6 43.1 823.2 45.4 823.7 45.5 824.3 46.5 824.8 48.2 825.4 46.8 825.9 50.3 826.5 50.8 827.0 50.0 827.6 50.9 828.1 53.2 828.7 53.3 829.2 55.7 829.8 57.0 830.3 57.5 830.9 60.0 831.4 60.9 832.0 61.4 832.5 62.8 833.1 62.4 833.6 65.0 834.2 65.7 834.7 64.1 835.3 64.2 835.8 63.3 836.4 67.1 836.9 67.4 837.5 71.9 838.0 68.2 838.6 66.9 839.1 68.7 839.7 71.1 840.2 71.2 840.8 70.1 841.3 71.2 841.9 70.3 842.4 71.1 843.0 74.2 843.5 72.2 844.1 71.0 844.6 74.0 845.2 72.7 845.7 74.4 846.3 73.4 846.8 72.4 847.4 72.4 847.9 71.1 848.5 69.6 849.0 69.7 849.6 71.4 850.1 69.7 850.7 68.0 851.2 68.1 851.8 68.9 852.3 66.3 852.9 65.1 853.4 65.7 854.0 64.6 854.5 63.1 855.1 64.4 855.6 66.3 856.2 63.9 856.7 63.8 857.3 67.5 857.8 65.2 858.4 63.7 858.9 66.1 859.5 66.0 860.0 65.0 860.6 62.9 861.1 64.1 861.7 62.3 862.2 61.8 862.8 62.2 863.3 60.5 863.9 61.2 864.4 62.4 865.0 58.8 865.5 59.7 866.1 57.5 866.6 56.6 867.2 55.5 867.7 57.2 868.3 55.6 868.8 55.5 869.4 57.0 869.9 56.9 870.5 57.0 871.0 55.1 871.6 54.9 872.1 54.0 872.7 51.0 873.2 49.5 873.8 50.1 874.3 46.0 874.9 47.6 875.4 47.7 876.0 44.4 876.5 43.2 877.1 44.5 877.6 45.2 878.2 44.8 878.7 43.8 879.3 44.7 879.8 42.8 880.4 44.4 880.9 43.3 881.5 43.4 882.0 46.0 882.6 43.7 883.1 43.7 883.7 44.5 884.2 44.5 884.8 45.2 885.3 44.0 885.9 41.9 886.4 40.0 887.0 39.5 887.5 39.5 888.1 39.1 888.6 38.9 889.2 38.7 889.7 38.6 890.3 34.9 890.8 36.0 891.4 34.9 891.9 31.4 892.5 31.0 893.0 32.1 893.6 33.5 894.1 32.0 894.7 30.4 895.2 29.7 895.8 28.1 896.3 30.0 896.9 29.2 897.4 31.3 898.0 32.1 898.5 32.1 899.1 29.3 899.6 30.9 900.2 30.3 900.7 30.6 901.3 32.5 901.8 32.6 902.4 31.7 902.9 33.8 903.5 31.8 904.0 31.6 904.6 34.9 905.1 35.3 905.7 36.3 906.2 36.6 906.8 36.7 907.3 36.7 907.9 35.9 908.4 37.5 909.0 39.3 909.5 38.6 910.1 37.2 910.6 35.6 911.2 37.7 911.7 37.6 912.3 37.7 912.8 37.1 913.4 40.7 913.9 39.3" stroke="#0000ff" stroke-width="1.45" fill="none" stroke-linejoin="round"/>
<path d="M557.0 64.3 557.5 64.7 558.1 65.0 558.6 63.6 559.2 63.9 559.7 65.6 560.3 65.5 560.8 66.2 561.4 63.9 561.9 63.8 562.5 63.1 563.0 62.3 563.6 63.2 564.1 60.7 564.7 63.8 565.2 63.4 565.8 60.1 566.3 59.1 566.9 59.9 567.4 60.7 568.0 60.9 568.5 58.3 569.1 59.8 569.6 59.4 570.2 62.6 570.7 58.8 571.3 59.3 571.8 60.0 572.4 58.7 572.9 59.4 573.5 60.7 574.0 58.6 574.6 57.3 575.1 57.1 575.7 57.0 576.2 56.1 576.8 58.8 577.3 56.4 577.9 56.9 578.4 55.5 579.0 56.4 579.5 56.7 580.1 55.0 580.6 55.7 581.2 55.0 581.7 54.3 582.3 53.7 582.8 50.6 583.4 51.0 583.9 51.5 584.5 51.4 585.0 52.9 585.6 55.1 586.1 54.4 586.7 55.1 587.2 55.3 587.8 57.0 588.3 57.0 588.9 58.4 589.4 59.4 590.0 59.1 590.5 61.0 591.1 60.7 591.6 60.2 592.2 62.1 592.7 61.4 593.3 63.4 593.8 64.5 594.4 64.6 594.9 63.2 595.5 63.0 596.0 66.6 596.6 64.3 597.1 62.6 597.7 62.4 598.2 62.9 598.8 63.0 599.3 62.4 599.9 62.1 600.4 61.3 601.0 62.2 601.5 60.0 602.1 58.4 602.6 58.0 603.2 59.8 603.7 58.5 604.3 57.3 604.8 55.6 605.4 55.0 605.9 53.7 606.5 53.4 607.0 52.5 607.6 54.2 608.1 53.3 608.7 54.6 609.2 53.7 609.8 55.1 610.3 55.4 610.9 55.9 611.4 55.8 612.0 55.5 612.5 57.7 613.1 58.6 613.6 59.5 614.2 56.6 614.7 58.9 615.3 59.2 615.8 60.8 616.4 58.5 616.9 61.0 617.5 60.5 618.0 62.3 618.6 59.4 619.1 60.1 619.7 60.3 620.2 61.7 620.8 64.0 621.3 64.2 621.9 64.8 622.4 65.5 623.0 67.7 623.5 66.3 624.1 67.6 624.6 70.7 625.2 68.9 625.7 66.6 626.3 68.8 626.8 68.1 627.4 69.4 627.9 62.7 628.5 62.6 629.0 62.2 629.6 58.6 630.1 58.9 630.7 59.0 631.2 57.7 631.8 57.4 632.3 58.3 632.9 58.5 633.4 55.9 634.0 57.1 634.5 56.8 635.1 54.5 635.6 56.5 636.2 56.0 636.7 54.4 637.3 54.6 637.8 52.6 638.4 52.9 638.9 52.5 639.5 53.1 640.0 53.0 640.6 56.7 641.1 54.3 641.7 56.0 642.2 56.1 642.8 57.9 643.3 59.1 643.9 60.0 644.4 59.4 645.0 60.6 645.5 58.7 646.1 58.2 646.6 58.4 647.2 59.5 647.7 59.6 648.3 57.6 648.8 58.0 649.4 61.5 649.9 61.4 650.5 59.7 651.0 61.9 651.6 62.1 652.1 61.8 652.7 61.9 653.2 63.4 653.8 61.8 654.3 64.0 654.9 64.5 655.4 64.6 656.0 62.5 656.5 62.3 657.1 62.4 657.6 62.5 658.2 61.3 658.7 61.5 659.3 59.8 659.8 59.4 660.4 60.0 660.9 60.9 661.5 60.0 662.0 59.0 662.6 58.2 663.1 57.6 663.7 57.0 664.2 55.4 664.8 58.8 665.3 59.0 665.9 56.8 666.4 56.8 667.0 57.9 667.5 59.1 668.1 58.6 668.6 60.5 669.2 58.5 669.7 57.4 670.3 58.1 670.8 57.5 671.4 56.6 671.9 55.5 672.5 56.3 673.0 58.3 673.6 55.3 674.1 54.0 674.7 56.2 675.2 55.9 675.8 55.2 676.3 57.2 676.9 54.4 677.4 56.4 678.0 54.8 678.5 56.2 679.1 55.2 679.6 56.5 680.2 54.4 680.7 56.2 681.3 56.7 681.8 57.3 682.4 58.9 682.9 58.1 683.5 56.7 684.0 58.2 684.6 56.0 685.1 57.5 685.7 55.3 686.2 58.6 686.8 58.6 687.3 60.3 687.9 59.1 688.4 60.5 689.0 59.3 689.5 61.9 690.1 61.3 690.6 60.8 691.2 61.9 691.7 60.8 692.3 59.7 692.8 61.7 693.4 61.5 693.9 59.4 694.5 62.4 695.0 60.2 695.6 62.3 696.1 62.3 696.7 61.9 697.2 62.7 697.8 62.0 698.3 61.7 698.9 60.4 699.4 58.8 700.0 60.9 700.5 61.6 701.1 58.3 701.6 58.3 702.2 57.5 702.7 57.0 703.3 58.3 703.8 57.3 704.4 57.3 704.9 57.7 705.5 55.7 706.0 55.1 706.6 54.3 707.1 49.8 707.7 50.3 708.2 51.0 708.8 47.9 709.3 47.4 709.9 46.6 710.4 47.8 711.0 45.2 711.5 47.0 712.1 45.1 712.6 40.3 713.2 41.8 713.7 39.3 714.3 40.6 714.8 37.9 715.4 40.7 715.9 39.5 716.5 41.6 717.0 44.1 717.6 44.8 718.1 44.9 718.7 45.8 719.2 47.8 719.8 47.2 720.3 47.2 720.9 52.5 721.4 51.2 722.0 51.8 722.5 51.4 723.1 52.7 723.6 53.1 724.2 52.3 724.7 51.9 725.3 53.9 725.8 55.5 726.4 55.5 726.9 56.5 727.5 56.1 728.0 56.6 728.6 56.6 729.1 59.3 729.7 61.2 730.2 61.1 730.8 60.9 731.3 62.5 731.9 65.0 732.4 64.8 733.0 63.1 733.5 61.6 734.1 62.4 734.6 59.8 735.2 61.1 735.7 58.5 736.3 59.1 736.8 59.3 737.4 56.0 737.9 54.9 738.5 53.7 739.0 55.7 739.6 53.4 740.1 52.6 740.7 51.5 741.2 51.5 741.8 50.0 742.3 49.4 742.9 47.2 743.4 48.7 744.0 49.2 744.5 48.1 745.1 47.3 745.6 45.8 746.2 45.8 746.7 45.1 747.3 44.7 747.8 44.7 748.4 42.4 748.9 43.9 749.5 40.7 750.0 41.8 750.6 42.8 751.1 42.5 751.7 41.5 752.2 42.8 752.8 43.0 753.3 43.5 753.9 43.1 754.4 43.5 755.0 42.8 755.5 45.3 756.1 45.6 756.6 44.4 757.2 45.0 757.7 47.0 758.3 46.8 758.8 46.1 759.4 50.8 759.9 48.5 760.5 50.8 761.0 51.2 761.6 54.1 762.1 54.8 762.7 54.9 763.2 58.6 763.8 57.8 764.3 61.0 764.9 63.8 765.4 63.4 766.0 62.6 766.5 65.0 767.1 66.9 767.6 66.6 768.2 67.1 768.7 67.9 769.3 68.3 769.8 67.2 770.4 68.3 770.9 68.0 771.5 67.3 772.0 65.3 772.6 66.2 773.1 68.8 773.7 65.1 774.2 65.5 774.8 63.8 775.3 64.4 775.9 62.3 776.4 64.4 777.0 62.0 777.5 62.8 778.1 62.3 778.6 61.3 779.2 60.8 779.7 58.6 780.3 59.0 780.8 56.5 781.4 55.4 781.9 56.5 782.5 57.3 783.0 56.8 783.6 53.5 784.1 51.1 784.7 52.8 785.2 54.0 785.8 52.0 786.3 52.4 786.9 52.3 787.4 49.8 788.0 50.5 788.5 50.2 789.1 50.4 789.6 48.0 790.2 47.9 790.7 47.2 791.3 48.7 791.8 47.5 792.4 46.6 792.9 45.1 793.5 46.1 794.0 48.9 794.6 47.8 795.1 47.8 795.7 49.2 796.2 47.8 796.8 49.8 797.3 52.2 797.9 52.4 798.4 54.1 799.0 54.7 799.5 56.2 800.1 56.1 800.6 56.7 801.2 56.9 801.7 59.2 802.3 56.4 802.8 58.4 803.4 58.9 803.9 57.3 804.5 59.0 805.0 60.3 805.6 60.7 806.1 60.1 806.7 62.2 807.2 62.2 807.8 63.9 808.3 64.9 808.9 65.1 809.4 63.3 810.0 62.7 810.5 61.9 811.1 60.2 811.6 61.1 812.2 61.1 812.7 58.5 813.3 56.3 813.8 57.0 814.4 56.5 814.9 56.9 815.5 54.5 816.0 54.7 816.6 53.7 817.1 55.3 817.7 53.2 818.2 52.7 818.8 52.8 819.3 54.2 819.9 51.1 820.4 54.1 821.0 52.1 821.5 52.3 822.1 52.7 822.6 56.5 823.2 55.1 823.7 52.1 824.3 52.7 824.8 53.5 825.4 54.1 825.9 52.4 826.5 55.6 827.0 54.4 827.6 57.1 828.1 55.6 828.7 57.8 829.2 58.7 829.8 58.5 830.3 59.6 830.9 59.6 831.4 61.1 832.0 60.0 832.5 61.4 833.1 61.2 833.6 60.8 834.2 61.4 834.7 62.8 835.3 63.0 835.8 64.1 836.4 63.1 836.9 63.6 837.5 65.5 838.0 63.6 838.6 64.2 839.1 64.9 839.7 64.1 840.2 62.9 840.8 62.9 841.3 64.7 841.9 64.1 842.4 63.5 843.0 64.1 843.5 61.5 844.1 65.3 844.6 62.3 845.2 66.2 845.7 65.9 846.3 65.0 846.8 64.6 847.4 65.5 847.9 65.9 848.5 67.4 849.0 67.1 849.6 65.4 850.1 64.6 850.7 64.3 851.2 65.3 851.8 66.2 852.3 66.4 852.9 66.1 853.4 63.4 854.0 66.8 854.5 67.5 855.1 68.6 855.6 66.3 856.2 67.4 856.7 69.2 857.3 67.4 857.8 66.2 858.4 68.3 858.9 67.4 859.5 69.0 860.0 65.8 860.6 64.8 861.1 65.5 861.7 65.4 862.2 63.1 862.8 66.6 863.3 63.5 863.9 63.0 864.4 63.6 865.0 62.2 865.5 61.7 866.1 63.8 866.6 63.3 867.2 62.6 867.7 63.6 868.3 63.4 868.8 61.6 869.4 61.8 869.9 60.4 870.5 57.8 871.0 59.5 871.6 59.1 872.1 60.1 872.7 56.6 873.2 56.8 873.8 57.7 874.3 59.4 874.9 57.8 875.4 59.3 876.0 58.0 876.5 56.2 877.1 57.0 877.6 57.1 878.2 56.7 878.7 55.9 879.3 56.1 879.8 54.7 880.4 53.2 880.9 52.9 881.5 53.7 882.0 50.8 882.6 52.2 883.1 52.6 883.7 53.6 884.2 53.1 884.8 51.9 885.3 51.8 885.9 50.4 886.4 49.7 887.0 49.8 887.5 48.3 888.1 48.1 888.6 47.8 889.2 48.0 889.7 47.9 890.3 46.5 890.8 47.6 891.4 47.8 891.9 47.2 892.5 45.1 893.0 47.8 893.6 46.5 894.1 45.2 894.7 44.2 895.2 45.4 895.8 44.7 896.3 45.9 896.9 46.0 897.4 46.4 898.0 46.7 898.5 45.2 899.1 45.8 899.6 47.7 900.2 47.8 900.7 50.1 901.3 49.0 901.8 50.8 902.4 49.8 902.9 50.5 903.5 50.6 904.0 50.5 904.6 52.8 905.1 50.8 905.7 53.1 906.2 55.4 906.8 54.4 907.3 52.2 907.9 52.1 908.4 53.4 909.0 52.3 909.5 51.7 910.1 51.3 910.6 51.4 911.2 49.1 911.7 50.1 912.3 51.8 912.8 47.6 913.4 48.7 913.9 51.5" stroke="#00ff00" stroke-width="1.45" fill="none" stroke-linejoin="round"/>
<path d="M557.0 53.5 557.5 53.3 558.1 49.8 558.6 53.3 559.2 52.5 559.7 52.5 560.3 52.5 560.8 49.7 561.4 51.3 561.9 51.0 562.5 50.8 563.0 49.4 563.6 49.8 564.1 49.2 564.7 50.2 565.2 48.0 565.8 49.6 566.3 50.2 566.9 50.4 567.4 51.2 568.0 50.0 568.5 49.9 569.1 51.9 569.6 53.2 570.2 51.6 570.7 52.8 571.3 50.0 571.8 48.5 572.4 50.7 572.9 49.8 573.5 48.8 574.0 49.4 574.6 47.4 575.1 48.8 575.7 50.5 576.2 51.2 576.8 50.9 577.3 49.4 577.9 49.6 578.4 49.3 579.0 48.4 579.5 49.0 580.1 47.3 580.6 46.9 581.2 47.8 581.7 47.6 582.3 45.1 582.8 45.1 583.4 44.4 583.9 44.2 584.5 45.5 585.0 43.9 585.6 43.4 586.1 46.4 586.7 45.2 587.2 46.3 587.8 48.0 588.3 46.2 588.9 45.3 589.4 46.1 590.0 44.1 590.5 44.6 591.1 46.6 591.6 46.4 592.2 46.8 592.7 49.7 593.3 48.9 593.8 48.6 594.4 48.3 594.9 48.7 595.5 46.4 596.0 44.7 596.6 42.5 597.1 44.2 597.7 45.6 598.2 45.7 598.8 43.4 599.3 43.6 599.9 46.7 600.4 45.4 601.0 45.7 601.5 45.4 602.1 45.7 602.6 47.3 603.2 48.2 603.7 47.1 604.3 47.9 604.8 51.2 605.4 48.1 605.9 49.8 606.5 49.4 607.0 47.4 607.6 50.7 608.1 49.5 608.7 49.8 609.2 52.8 609.8 52.7 610.3 54.5 610.9 55.0 611.4 54.4 612.0 52.6 612.5 54.1 613.1 53.8 613.6 55.0 614.2 54.2 614.7 53.1 615.3 53.2 615.8 54.4 616.4 51.6 616.9 54.1 617.5 52.9 618.0 51.8 618.6 51.2 619.1 51.4 619.7 50.3 620.2 52.8 620.8 54.8 621.3 53.1 621.9 53.1 622.4 55.4 623.0 54.0 623.5 57.6 624.1 54.9 624.6 59.1 625.2 57.7 625.7 57.3 626.3 55.3 626.8 55.3 627.4 52.9 627.9 53.1 628.5 52.4 629.0 55.0 629.6 51.9 630.1 52.3 630.7 49.9 631.2 51.2 631.8 50.5 632.3 51.1 632.9 48.7 633.4 48.8 634.0 49.9 634.5 48.8 635.1 47.3 635.6 47.7 636.2 48.0 636.7 45.0 637.3 46.6 637.8 46.2 638.4 46.3 638.9 47.8 639.5 46.1 640.0 47.4 640.6 50.2 641.1 47.1 641.7 50.3 642.2 49.1 642.8 46.3 643.3 47.2 643.9 48.8 644.4 47.6 645.0 46.2 645.5 46.1 646.1 43.6 646.6 45.8 647.2 45.2 647.7 47.5 648.3 43.8 648.8 46.4 649.4 43.9 649.9 46.7 650.5 45.0 651.0 44.9 651.6 45.0 652.1 46.8 652.7 43.2 653.2 44.8 653.8 48.1 654.3 46.5 654.9 47.1 655.4 49.6 656.0 49.9 656.5 49.8 657.1 50.8 657.6 50.4 658.2 53.0 658.7 54.2 659.3 53.4 659.8 51.3 660.4 56.6 660.9 54.6 661.5 57.4 662.0 56.6 662.6 56.2 663.1 56.2 663.7 57.2 664.2 56.8 664.8 56.3 665.3 54.7 665.9 51.0 666.4 50.1 667.0 50.8 667.5 49.3 668.1 50.5 668.6 47.3 669.2 48.7 669.7 48.8 670.3 46.7 670.8 47.3 671.4 45.4 671.9 46.1 672.5 46.9 673.0 44.6 673.6 46.2 674.1 44.9 674.7 44.9 675.2 44.3 675.8 45.2 676.3 47.7 676.9 46.9 677.4 49.5 678.0 49.2 678.5 50.4 679.1 48.6 679.6 49.7 680.2 52.7 680.7 52.1 681.3 54.4 681.8 53.6 682.4 52.1 682.9 55.0 683.5 54.1 684.0 54.6 684.6 53.4 685.1 55.0 685.7 52.9 686.2 52.3 686.8 52.6 687.3 54.0 687.9 51.6 688.4 51.7 689.0 52.1 689.5 53.7 690.1 52.2 690.6 51.3 691.2 50.7 691.7 53.2 692.3 52.0 692.8 49.7 693.4 51.9 693.9 51.6 694.5 50.7 695.0 48.7 695.6 49.7 696.1 47.3 696.7 47.4 697.2 47.6 697.8 43.8 698.3 44.7 698.9 44.8 699.4 46.2 700.0 44.0 700.5 42.6 701.1 42.4 701.6 40.6 702.2 38.9 702.7 38.0 703.3 38.5 703.8 37.4 704.4 35.7 704.9 32.7 705.5 33.3 706.0 32.4 706.6 31.4 707.1 31.4 707.7 28.1 708.2 31.9 708.8 29.0 709.3 26.4 709.9 28.2 710.4 27.7 711.0 26.7 711.5 28.5 712.1 30.0 712.6 31.6 713.2 30.8 713.7 30.8 714.3 33.6 714.8 35.6 715.4 34.9 715.9 35.0 716.5 36.0 717.0 38.6 717.6 40.6 718.1 42.6 718.7 45.9 719.2 49.1 719.8 50.1 720.3 50.6 720.9 51.9 721.4 55.2 722.0 56.2 722.5 53.2 723.1 57.9 723.6 58.6 724.2 58.2 724.7 60.7 725.3 63.1 725.8 63.6 726.4 62.3 726.9 67.2 727.5 65.3 728.0 66.7 728.6 67.0 729.1 70.6 729.7 72.8 730.2 69.9 730.8 72.6 731.3 71.5 731.9 70.3 732.4 70.1 733.0 70.2 733.5 68.1 734.1 68.5 734.6 70.7 735.2 68.7 735.7 62.5 736.3 66.3 736.8 63.5 737.4 63.1 737.9 61.7 738.5 61.1 739.0 60.6 739.6 60.1 740.1 57.3 740.7 54.0 741.2 53.3 741.8 51.1 742.3 50.5 742.9 48.7 743.4 45.9 744.0 46.3 744.5 44.6 745.1 42.5 745.6 39.5 746.2 37.0 746.7 39.0 747.3 34.9 747.8 36.6 748.4 36.4 748.9 33.8 749.5 34.7 750.0 33.7 750.6 31.7 751.1 29.4 751.7 30.9 752.2 30.5 752.8 30.8 753.3 31.3 753.9 31.0 754.4 32.2 755.0 31.6 755.5 33.0 756.1 34.5 756.6 33.7 757.2 34.3 757.7 34.7 758.3 39.3 758.8 39.3 759.4 41.3 759.9 45.0 760.5 44.2 761.0 47.1 761.6 48.6 762.1 50.1 762.7 54.3 763.2 53.8 763.8 56.8 764.3 56.1 764.9 57.7 765.4 58.2 766.0 59.6 766.5 62.9 767.1 61.8 767.6 60.8 768.2 63.9 768.7 64.1 769.3 62.7 769.8 62.4 770.4 66.4 770.9 63.7 771.5 68.7 772.0 65.9 772.6 65.1 773.1 65.1 773.7 66.2 774.2 66.1 774.8 67.5 775.3 68.7 775.9 66.9 776.4 68.5 777.0 66.7 777.5 67.2 778.1 69.4 778.6 65.4 779.2 66.0 779.7 67.6 780.3 65.8 780.8 65.0 781.4 62.4 781.9 61.3 782.5 61.1 783.0 59.8 783.6 58.5 784.1 59.1 784.7 56.8 785.2 56.8 785.8 54.1 786.3 55.7 786.9 51.3 787.4 51.5 788.0 49.1 788.5 47.7 789.1 46.7 789.6 47.0 790.2 45.0 790.7 44.0 791.3 44.2 791.8 40.6 792.4 41.7 792.9 43.4 793.5 44.7 794.0 43.8 794.6 43.5 795.1 45.2 795.7 43.9 796.2 46.1 796.8 43.6 797.3 44.5 797.9 44.5 798.4 43.0 799.0 44.0 799.5 44.1 800.1 44.1 800.6 44.5 801.2 43.4 801.7 44.2 802.3 44.2 802.8 44.1 803.4 44.1 803.9 43.2 804.5 44.9 805.0 42.7 805.6 45.2 806.1 46.0 806.7 44.3 807.2 45.6 807.8 41.7 808.3 41.9 808.9 44.9 809.4 42.5 810.0 41.4 810.5 41.8 811.1 37.8 811.6 38.6 812.2 39.5 812.7 37.3 813.3 35.4 813.8 35.1 814.4 34.7 814.9 34.3 815.5 34.0 816.0 35.2 816.6 37.4 817.1 37.0 817.7 37.1 818.2 37.5 818.8 38.0 819.3 36.6 819.9 38.2 820.4 35.7 821.0 36.2 821.5 39.8 822.1 40.2 822.6 40.4 823.2 42.0 823.7 42.3 824.3 40.8 824.8 43.4 825.4 45.0 825.9 47.2 826.5 46.1 827.0 49.1 827.6 48.8 828.1 49.9 828.7 50.8 829.2 51.4 829.8 53.9 830.3 53.8 830.9 52.9 831.4 53.1 832.0 55.8 832.5 55.2 833.1 55.7 833.6 56.3 834.2 54.4 834.7 58.3 835.3 59.0 835.8 57.8 836.4 57.7 836.9 57.2 837.5 57.5 838.0 60.1 838.6 58.3 839.1 58.6 839.7 58.3 840.2 59.1 840.8 56.9 841.3 57.5 841.9 56.9 842.4 55.8 843.0 57.0 843.5 55.3 844.1 55.3 844.6 54.6 845.2 57.9 845.7 55.1 846.3 57.4 846.8 57.7 847.4 56.8 847.9 56.7 848.5 56.6 849.0 57.3 849.6 56.7 850.1 57.4 850.7 58.3 851.2 55.8 851.8 57.5 852.3 59.8 852.9 58.2 853.4 57.7 854.0 56.9 854.5 57.2 855.1 60.1 855.6 58.5 856.2 57.6 856.7 58.1 857.3 58.0 857.8 56.6 858.4 58.1 858.9 55.7 859.5 56.8 860.0 55.6 860.6 55.8 861.1 57.2 861.7 56.6 862.2 57.7 862.8 56.5 863.3 54.1 863.9 55.7 864.4 55.5 865.0 55.6 865.5 53.1 866.1 52.4 866.6 52.2 867.2 51.8 867.7 48.6 868.3 50.4 868.8 49.0 869.4 51.2 869.9 47.3 870.5 48.1 871.0 50.3 871.6 50.3 872.1 47.6 872.7 50.7 873.2 47.4 873.8 45.1 874.3 47.2 874.9 48.8 875.4 46.0 876.0 46.5 876.5 43.7 877.1 43.9 877.6 44.0 878.2 43.4 878.7 41.7 879.3 40.5 879.8 38.6 880.4 39.7 880.9 40.1 881.5 40.4 882.0 40.4 882.6 40.7 883.1 42.9 883.7 42.2 884.2 42.1 884.8 39.7 885.3 44.4 885.9 42.6 886.4 42.7 887.0 40.3 887.5 40.2 888.1 40.0 888.6 40.6 889.2 40.6 889.7 40.1 890.3 39.2 890.8 38.1 891.4 39.6 891.9 38.4 892.5 38.8 893.0 38.5 893.6 38.5 894.1 38.6 894.7 38.8 895.2 40.4 895.8 40.4 896.3 42.9 896.9 41.3 897.4 40.6 898.0 41.9 898.5 42.5 899.1 42.4 899.6 42.6 900.2 42.7 900.7 42.7 901.3 44.4 901.8 42.2 902.4 43.3 902.9 43.3 903.5 42.4 904.0 40.0 904.6 42.6 905.1 41.1 905.7 42.5 906.2 42.5 906.8 44.2 907.3 43.5 907.9 45.1 908.4 42.1 909.0 43.4 909.5 43.1 910.1 44.0 910.6 43.6 911.2 44.6 911.7 43.2 912.3 42.5 912.8 44.2 913.4 43.0 913.9 43.6" stroke="#ff0000" stroke-width="1.45" fill="none" stroke-linejoin="round"/>
<path d="M557.0 121.9 558.0 121.6 559.0 121.2 560.0 121.1 561.0 120.8 562.0 120.6 563.0 120.2 564.0 120.0 565.0 120.1 566.0 119.8 567.0 119.8 568.0 119.7 569.0 119.8 570.0 119.9 571.0 120.0 572.0 119.8 573.0 120.1 574.0 120.0 575.0 120.2 576.0 120.7 577.0 120.8 578.0 120.8 579.0 120.8 580.0 120.9 581.0 121.1 582.0 121.1 583.0 121.5 584.0 121.1 585.0 121.1 586.0 120.6 587.0 120.1 588.0 119.9 589.0 119.6 590.0 119.0 591.0 118.7 592.0 118.8 593.0 118.8 594.0 118.6 595.0 118.6 596.0 118.4 597.0 118.6 598.0 118.4 599.0 118.2 600.0 118.2 601.0 118.1 602.0 117.7 603.0 117.2 604.0 117.4 605.0 117.1 606.0 117.0 607.0 116.9 608.0 116.5 609.0 116.7 610.0 116.4 611.0 116.4 612.0 115.9 613.0 115.8 614.0 115.9 615.0 115.5 616.0 115.6 617.0 115.6 618.0 115.4 619.0 115.8 620.0 115.7 621.0 115.3 622.0 115.6 623.0 115.9 624.0 115.7 625.0 115.9 626.0 116.4 627.0 116.6 628.0 117.1 629.0 117.4 630.0 117.8 631.0 117.9 632.0 118.0 633.0 117.7 634.0 118.0 635.0 117.9 636.0 117.9 637.0 118.2 638.0 118.1 639.0 117.9 640.0 117.8 641.0 117.8 642.0 117.6 643.0 117.5 644.0 117.0 645.0 117.6 646.0 116.9 647.0 116.9 648.0 116.4 649.0 116.3 650.0 116.4 651.0 116.2 652.0 116.0 653.0 115.8 654.0 115.8 655.0 116.1 656.0 116.1 657.0 115.9 658.0 116.0 659.0 115.9 660.0 116.0 661.0 116.3 662.0 116.4 663.0 116.5 664.0 116.3 665.0 116.4 666.0 116.0 667.0 116.1 668.0 116.0 669.0 115.8 670.0 115.9 671.0 115.7 672.0 115.5 673.0 115.3 674.0 115.4 675.0 115.4 676.0 115.5 677.0 115.4 678.0 115.6 679.0 115.8 680.0 115.7 681.0 116.1 682.0 115.8 683.0 116.1 684.0 115.7 685.0 115.8 686.0 115.9 687.0 116.1 688.0 116.3 689.0 116.3 690.0 116.4 691.0 116.5 692.0 116.7 693.0 116.5 694.0 116.6 695.0 116.7 696.0 116.7 697.0 116.8 698.0 117.6 699.0 117.7 700.0 118.0 701.0 118.4 702.0 118.4 703.0 119.1 704.0 119.2 705.0 119.4 706.0 120.2 707.0 120.6 708.0 121.0 709.0 121.3 710.0 121.8 711.0 121.9 712.0 122.1 713.0 122.1 714.0 122.1 715.0 122.4 716.0 122.3 717.0 122.7 718.0 123.2 719.0 123.4 720.0 123.8 721.0 124.0 722.0 124.1 723.0 124.4 724.0 124.6 725.0 124.8 726.0 125.1 727.0 125.2 728.0 125.4 729.0 125.7 730.0 125.7 731.0 126.0 732.0 126.5 733.0 127.2 734.0 128.1 735.0 129.0 736.0 129.3 737.0 129.6 738.0 129.7 739.0 130.3 740.0 130.6 741.0 131.0 742.0 131.2 743.0 131.3 744.0 131.1 745.0 131.0 746.0 130.8 747.0 130.8 748.0 130.9 749.0 130.7 750.0 130.8 751.0 130.6 752.0 130.8 753.0 130.8 754.0 130.7 755.0 130.8 756.0 130.7 757.0 130.5 758.0 130.7 759.0 130.8 760.0 131.1 761.0 131.4 762.0 131.4 763.0 131.6 764.0 131.8 765.0 132.0 766.0 132.5 767.0 132.5 768.0 132.9 769.0 133.0 770.0 133.3 771.0 133.7 772.0 133.8 773.0 134.1 774.0 133.9 775.0 134.2 776.0 134.1 777.0 134.0 778.0 134.2 779.0 134.4 780.0 134.6 781.0 134.5 782.0 134.6 783.0 135.2 784.0 135.3 785.0 135.5 786.0 135.9 787.0 136.2 788.0 136.4 789.0 136.8 790.0 136.9 791.0 136.3 792.0 136.3 793.0 135.9 794.0 135.7 795.0 135.5 796.0 135.1 797.0 134.8 798.0 134.9 799.0 134.9 800.0 134.6 801.0 134.8 802.0 134.9 803.0 134.8 804.0 135.1 805.0 135.0 806.0 134.8 807.0 135.4 808.0 135.4 809.0 135.5 810.0 135.9 811.0 136.1 812.0 136.1 813.0 136.4 814.0 136.6 815.0 137.0 816.0 136.8 817.0 137.0 818.0 137.1 819.0 137.0 820.0 137.3 821.0 137.3 822.0 137.3 823.0 137.4 824.0 137.2 825.0 137.3 826.0 136.6 827.0 136.6 828.0 136.3 829.0 136.1 830.0 135.7 831.0 135.3 832.0 135.1 833.0 134.9 834.0 134.9 835.0 134.7 836.0 134.9 837.0 134.7 838.0 134.6 839.0 134.8 840.0 134.7 841.0 134.6 842.0 134.4 843.0 134.1 844.0 134.3 845.0 134.0 846.0 134.0 847.0 133.7 848.0 133.7 849.0 133.5 850.0 133.4 851.0 133.0 852.0 133.0 853.0 133.4 854.0 133.1 855.0 133.3 856.0 132.8 857.0 133.1 858.0 132.9 859.0 133.0 860.0 132.5 861.0 132.7 862.0 132.5 863.0 132.5 864.0 132.4 865.0 132.5 866.0 132.2 867.0 132.5 868.0 132.3 869.0 132.4 870.0 132.2 871.0 132.2 872.0 132.0 873.0 132.1 874.0 132.1 875.0 132.0 876.0 132.2 877.0 132.1 878.0 132.2 879.0 132.0 880.0 132.1 881.0 132.2 882.0 132.3 883.0 132.0 884.0 132.0 885.0 132.2 886.0 131.9 887.0 132.0 888.0 132.0 889.0 131.7 890.0 131.9 891.0 131.8 892.0 131.6 893.0 131.8 894.0 131.6 895.0 131.4 896.0 131.5 897.0 131.2 898.0 130.8 899.0 130.7 900.0 130.4 901.0 130.2 902.0 130.0 903.0 129.6 904.0 129.9 905.0 130.1 906.0 130.4 907.0 130.7 908.0 131.1 909.0 131.2 910.0 131.3 911.0 131.2 912.0 131.4 913.0 131.7 914.0 131.6" stroke="#202020" stroke-width="0.9" fill="none"/>
<path d="M557.0 241.0 558.0 241.1 559.0 241.2 560.0 241.2 561.0 241.3 562.0 241.5 563.0 241.9 564.0 241.8 565.0 241.9 566.0 241.9 567.0 241.9 568.0 241.9 569.0 241.9 570.0 241.7 571.0 241.9 572.0 242.0 573.0 241.7 574.0 242.0 575.0 241.8 576.0 241.7 577.0 241.5 578.0 241.6 579.0 241.6 580.0 241.4 581.0 241.3 582.0 241.1 583.0 241.2 584.0 241.2 585.0 241.2 586.0 241.3 587.0 241.2 588.0 241.2 589.0 241.2 590.0 241.6 591.0 241.5 592.0 241.6 593.0 241.6 594.0 241.3 595.0 241.7 596.0 241.7 597.0 241.4 598.0 241.5 599.0 241.9 600.0 241.5 601.0 241.7 602.0 241.9 603.0 241.9 604.0 241.7 605.0 242.1 606.0 242.0 607.0 241.8 608.0 242.0 609.0 241.9 610.0 242.1 611.0 242.0 612.0 242.2 613.0 242.2 614.0 242.3 615.0 242.4 616.0 242.3 617.0 242.6 618.0 242.6 619.0 242.6 620.0 242.7 621.0 242.7 622.0 242.7 623.0 242.6 624.0 242.4 625.0 242.5 626.0 242.2 627.0 242.2 628.0 242.2 629.0 241.8 630.0 242.2 631.0 242.2 632.0 241.9 633.0 241.8 634.0 241.7 635.0 242.0 636.0 242.0 637.0 241.8 638.0 241.8 639.0 241.9 640.0 241.8 641.0 241.7 642.0 241.7 643.0 241.6 644.0 241.7 645.0 241.9 646.0 242.0 647.0 241.8 648.0 241.8 649.0 242.0 650.0 242.5 651.0 242.3 652.0 242.4 653.0 242.0 654.0 242.3 655.0 242.4 656.0 242.3 657.0 242.4 658.0 242.6 659.0 242.8 660.0 242.5 661.0 242.4 662.0 242.7 663.0 242.6 664.0 242.5 665.0 242.5 666.0 242.5 667.0 242.4 668.0 242.8 669.0 242.9 670.0 242.8 671.0 242.8 672.0 242.9 673.0 242.8 674.0 242.9 675.0 242.9 676.0 242.7 677.0 243.2 678.0 242.9 679.0 242.8 680.0 242.9 681.0 242.7 682.0 242.7 683.0 242.3 684.0 242.4 685.0 242.5 686.0 242.3 687.0 242.6 688.0 242.5 689.0 242.9 690.0 242.5 691.0 242.8 692.0 242.7 693.0 242.7 694.0 242.7 695.0 242.8 696.0 242.6 697.0 242.8 698.0 242.5 699.0 242.5 700.0 242.4 701.0 242.3 702.0 242.4 703.0 242.2 704.0 242.2 705.0 242.3 706.0 242.2 707.0 242.0 708.0 241.6 709.0 241.4 710.0 241.2 711.0 240.9 712.0 240.6 713.0 240.3 714.0 240.4 715.0 240.2 716.0 240.2 717.0 240.1 718.0 239.4 719.0 239.5 720.0 239.4 721.0 239.4 722.0 239.2 723.0 238.9 724.0 239.1 725.0 238.8 726.0 238.8 727.0 238.8 728.0 239.2 729.0 238.9 730.0 238.9 731.0 239.1 732.0 239.1 733.0 239.1 734.0 239.3 735.0 239.4 736.0 239.2 737.0 239.1 738.0 238.6 739.0 238.6 740.0 238.4 741.0 238.3 742.0 238.1 743.0 238.2 744.0 238.1 745.0 238.2 746.0 238.6 747.0 238.5 748.0 238.7 749.0 238.8 750.0 238.4 751.0 238.3 752.0 238.1 753.0 238.1 754.0 237.9 755.0 237.7 756.0 237.7 757.0 237.4 758.0 237.4 759.0 237.5 760.0 236.9 761.0 237.0 762.0 236.9 763.0 236.7 764.0 236.9 765.0 236.9 766.0 237.0 767.0 236.6 768.0 236.3 769.0 236.4 770.0 236.4 771.0 236.4 772.0 236.5 773.0 236.7 774.0 236.5 775.0 236.3 776.0 236.6 777.0 236.6 778.0 236.7 779.0 236.2 780.0 236.0 781.0 236.1 782.0 236.2 783.0 235.6 784.0 235.7 785.0 235.9 786.0 235.6 787.0 235.6 788.0 235.5 789.0 235.8 790.0 235.7 791.0 235.8 792.0 235.9 793.0 235.8 794.0 235.8 795.0 235.7 796.0 236.0 797.0 236.0 798.0 235.9 799.0 235.9 800.0 235.6 801.0 235.8 802.0 235.7 803.0 235.3 804.0 235.3 805.0 235.6 806.0 235.4 807.0 235.5 808.0 235.2 809.0 235.2 810.0 235.2 811.0 234.8 812.0 234.7 813.0 234.7 814.0 234.8 815.0 234.7 816.0 234.5 817.0 234.5 818.0 234.6 819.0 234.6 820.0 234.4 821.0 234.4 822.0 234.4 823.0 234.7 824.0 234.6 825.0 234.7 826.0 234.7 827.0 234.9 828.0 235.2 829.0 235.1 830.0 234.9 831.0 235.2 832.0 235.2 833.0 235.3 834.0 235.3 835.0 235.5 836.0 235.5 837.0 235.6 838.0 235.7 839.0 236.0 840.0 236.1 841.0 236.0 842.0 236.2 843.0 236.1 844.0 236.4 845.0 236.3 846.0 236.5 847.0 236.6 848.0 236.6 849.0 236.5 850.0 237.0 851.0 237.1 852.0 236.9 853.0 237.6 854.0 237.5 855.0 237.6 856.0 237.5 857.0 237.8 858.0 237.7 859.0 237.8 860.0 237.9 861.0 237.8 862.0 237.9 863.0 237.8 864.0 237.8 865.0 238.0 866.0 238.1 867.0 238.1 868.0 238.1 869.0 238.3 870.0 238.3 871.0 238.4 872.0 238.2 873.0 238.3 874.0 238.1 875.0 238.0 876.0 238.3 877.0 238.1 878.0 238.1 879.0 238.1 880.0 238.0 881.0 237.7 882.0 237.9 883.0 237.9 884.0 237.8 885.0 237.9 886.0 237.7 887.0 237.5 888.0 237.6 889.0 237.1 890.0 237.2 891.0 237.0 892.0 236.8 893.0 236.3 894.0 236.3 895.0 235.9 896.0 235.9 897.0 235.9 898.0 235.5 899.0 234.9 900.0 235.1 901.0 234.6 902.0 234.2 903.0 234.2 904.0 233.8 905.0 233.9 906.0 233.2 907.0 233.2 908.0 233.2 909.0 232.9 910.0 233.1 911.0 232.9 912.0 232.5 913.0 232.5 914.0 232.2" stroke="#2020ff" stroke-width="0.95" fill="none"/>
<path d="M557.0 211.5 558.0 211.1 559.0 210.8 560.0 210.6 561.0 210.6 562.0 210.3 563.0 210.2 564.0 209.8 565.0 209.6 566.0 209.8 567.0 209.7 568.0 209.8 569.0 209.6 570.0 209.9 571.0 209.7 572.0 209.8 573.0 209.7 574.0 209.9 575.0 210.1 576.0 210.3 577.0 210.3 578.0 210.3 579.0 210.2 580.0 210.6 581.0 210.6 582.0 210.4 583.0 210.8 584.0 210.7 585.0 210.5 586.0 210.6 587.0 210.1 588.0 210.1 589.0 210.0 590.0 209.7 591.0 209.8 592.0 209.4 593.0 209.3 594.0 209.3 595.0 209.3 596.0 209.3 597.0 208.8 598.0 208.7 599.0 208.6 600.0 208.5 601.0 208.5 602.0 208.5 603.0 208.1 604.0 208.3 605.0 208.3 606.0 208.2 607.0 207.9 608.0 208.0 609.0 208.1 610.0 207.8 611.0 207.6 612.0 207.5 613.0 207.4 614.0 207.2 615.0 207.0 616.0 207.0 617.0 207.1 618.0 206.9 619.0 206.8 620.0 207.1 621.0 207.2 622.0 207.2 623.0 207.3 624.0 207.6 625.0 207.6 626.0 207.9 627.0 208.0 628.0 207.9 629.0 207.7 630.0 207.6 631.0 207.7 632.0 207.4 633.0 207.3 634.0 207.4 635.0 207.5 636.0 207.3 637.0 207.1 638.0 206.9 639.0 207.0 640.0 206.7 641.0 207.0 642.0 206.7 643.0 206.5 644.0 206.5 645.0 206.6 646.0 206.6 647.0 206.3 648.0 206.4 649.0 206.3 650.0 206.4 651.0 206.3 652.0 206.0 653.0 206.3 654.0 206.0 655.0 206.1 656.0 206.0 657.0 206.1 658.0 206.2 659.0 206.1 660.0 206.2 661.0 205.9 662.0 205.9 663.0 206.1 664.0 206.2 665.0 205.9 666.0 206.0 667.0 205.7 668.0 205.7 669.0 205.7 670.0 205.7 671.0 205.7 672.0 205.3 673.0 205.2 674.0 205.2 675.0 205.1 676.0 205.3 677.0 205.8 678.0 205.5 679.0 205.3 680.0 205.7 681.0 205.6 682.0 205.8 683.0 205.8 684.0 205.9 685.0 205.9 686.0 206.2 687.0 206.2 688.0 206.3 689.0 206.4 690.0 206.4 691.0 206.6 692.0 206.1 693.0 206.5 694.0 206.5 695.0 206.5 696.0 206.7 697.0 206.7 698.0 206.7 699.0 206.6 700.0 206.7 701.0 206.6 702.0 206.5 703.0 206.8 704.0 206.9 705.0 206.7 706.0 206.8 707.0 206.9 708.0 206.8 709.0 206.8 710.0 206.8 711.0 206.9 712.0 206.9 713.0 207.1 714.0 206.7 715.0 207.0 716.0 207.0 717.0 207.5 718.0 208.0 719.0 208.6 720.0 208.7 721.0 208.9 722.0 209.1 723.0 209.2 724.0 209.2 725.0 209.4 726.0 209.5 727.0 209.7 728.0 209.9 729.0 210.1 730.0 210.3 731.0 210.4 732.0 210.4 733.0 210.9 734.0 210.9 735.0 211.1 736.0 211.1 737.0 211.2 738.0 210.9 739.0 210.6 740.0 210.4 741.0 210.3 742.0 210.6 743.0 210.4 744.0 210.1 745.0 210.2 746.0 210.2 747.0 209.9 748.0 209.9 749.0 209.9 750.0 210.0 751.0 209.8 752.0 210.0 753.0 210.1 754.0 209.8 755.0 210.3 756.0 210.3 757.0 210.3 758.0 210.5 759.0 210.4 760.0 210.6 761.0 210.7 762.0 210.8 763.0 210.7 764.0 210.7 765.0 210.5 766.0 210.9 767.0 211.0 768.0 211.0 769.0 211.2 770.0 211.1 771.0 211.2 772.0 211.4 773.0 211.3 774.0 211.5 775.0 211.4 776.0 211.5 777.0 211.5 778.0 211.4 779.0 211.6 780.0 211.9 781.0 211.5 782.0 211.8 783.0 211.8 784.0 212.1 785.0 212.1 786.0 212.2 787.0 212.1 788.0 212.0 789.0 212.0 790.0 212.1 791.0 212.2 792.0 211.9 793.0 211.7 794.0 211.7 795.0 211.7 796.0 212.0 797.0 211.7 798.0 211.6 799.0 211.5 800.0 211.4 801.0 211.4 802.0 211.2 803.0 211.4 804.0 211.1 805.0 211.3 806.0 211.2 807.0 211.3 808.0 211.2 809.0 211.3 810.0 211.2 811.0 211.2 812.0 211.0 813.0 211.4 814.0 211.3 815.0 211.0 816.0 210.7 817.0 210.6 818.0 210.5 819.0 210.5 820.0 210.9 821.0 210.9 822.0 210.8 823.0 211.0 824.0 211.0 825.0 211.0 826.0 211.2 827.0 211.0 828.0 210.4 829.0 210.1 830.0 209.6 831.0 209.1 832.0 208.4 833.0 208.8 834.0 208.6 835.0 208.3 836.0 208.6 837.0 208.4 838.0 208.1 839.0 208.2 840.0 208.1 841.0 208.5 842.0 208.1 843.0 208.2 844.0 208.4 845.0 208.4 846.0 208.3 847.0 208.4 848.0 208.4 849.0 208.3 850.0 208.5 851.0 208.3 852.0 208.1 853.0 208.4 854.0 208.3 855.0 208.1 856.0 208.1 857.0 208.1 858.0 208.2 859.0 208.1 860.0 207.9 861.0 207.7 862.0 207.7 863.0 207.5 864.0 207.8 865.0 207.4 866.0 207.4 867.0 207.5 868.0 207.1 869.0 207.4 870.0 207.4 871.0 207.2 872.0 207.3 873.0 207.4 874.0 206.9 875.0 207.2 876.0 207.0 877.0 207.0 878.0 206.9 879.0 207.1 880.0 206.9 881.0 206.6 882.0 206.8 883.0 206.5 884.0 206.6 885.0 206.3 886.0 206.1 887.0 206.1 888.0 205.5 889.0 205.1 890.0 205.0 891.0 204.7 892.0 204.4 893.0 203.9 894.0 203.7 895.0 203.5 896.0 203.3 897.0 202.8 898.0 202.4 899.0 202.1 900.0 201.8 901.0 201.4 902.0 201.2 903.0 201.0 904.0 200.5 905.0 201.0 906.0 200.6 907.0 200.9 908.0 201.0 909.0 200.8 910.0 201.0 911.0 200.9 912.0 201.0 913.0 200.7 914.0 200.9" stroke="#00e020" stroke-width="0.95" fill="none"/>
<path d="M557.0 190.6 558.0 190.8 559.0 191.0 560.0 190.8 561.0 190.9 562.0 190.9 563.0 191.1 564.0 191.0 565.0 191.3 566.0 191.1 567.0 191.0 568.0 191.0 569.0 191.2 570.0 191.0 571.0 191.0 572.0 191.0 573.0 191.2 574.0 191.1 575.0 191.1 576.0 191.4 577.0 191.2 578.0 191.5 579.0 191.5 580.0 191.7 581.0 191.8 582.0 192.5 583.0 192.1 584.0 191.9 585.0 191.6 586.0 191.6 587.0 191.3 588.0 191.0 589.0 190.8 590.0 190.6 591.0 190.5 592.0 190.3 593.0 190.1 594.0 190.3 595.0 189.9 596.0 189.7 597.0 189.8 598.0 190.0 599.0 189.5 600.0 189.5 601.0 189.3 602.0 189.4 603.0 189.1 604.0 189.0 605.0 189.0 606.0 188.9 607.0 188.8 608.0 188.8 609.0 188.6 610.0 188.6 611.0 188.7 612.0 188.9 613.0 188.9 614.0 189.1 615.0 188.9 616.0 189.0 617.0 188.9 618.0 189.3 619.0 189.0 620.0 189.0 621.0 189.2 622.0 189.1 623.0 189.4 624.0 189.3 625.0 189.5 626.0 189.8 627.0 189.6 628.0 189.8 629.0 189.9 630.0 190.1 631.0 190.0 632.0 190.2 633.0 190.1 634.0 190.3 635.0 190.5 636.0 190.2 637.0 190.3 638.0 190.3 639.0 190.4 640.0 190.4 641.0 190.2 642.0 190.0 643.0 190.0 644.0 190.0 645.0 190.0 646.0 189.9 647.0 189.8 648.0 189.6 649.0 189.7 650.0 189.8 651.0 189.8 652.0 189.7 653.0 189.6 654.0 189.4 655.0 189.7 656.0 189.6 657.0 189.9 658.0 190.0 659.0 189.9 660.0 189.6 661.0 189.7 662.0 189.6 663.0 189.6 664.0 189.7 665.0 189.5 666.0 189.8 667.0 189.7 668.0 189.7 669.0 189.9 670.0 189.9 671.0 189.7 672.0 189.7 673.0 189.6 674.0 190.0 675.0 190.1 676.0 190.0 677.0 190.1 678.0 189.7 679.0 190.2 680.0 189.6 681.0 189.6 682.0 189.7 683.0 189.5 684.0 189.5 685.0 189.8 686.0 189.8 687.0 189.6 688.0 189.8 689.0 189.7 690.0 189.8 691.0 189.9 692.0 189.9 693.0 190.0 694.0 190.2 695.0 190.3 696.0 190.6 697.0 190.7 698.0 191.3 699.0 191.2 700.0 191.5 701.0 191.7 702.0 192.2 703.0 192.4 704.0 192.5 705.0 193.3 706.0 193.5 707.0 193.8 708.0 194.2 709.0 194.2 710.0 193.8 711.0 193.4 712.0 192.7 713.0 192.5 714.0 192.3 715.0 192.1 716.0 192.6 717.0 193.1 718.0 193.1 719.0 193.6 720.0 193.3 721.0 193.5 722.0 193.6 723.0 193.4 724.0 193.5 725.0 193.6 726.0 193.3 727.0 193.5 728.0 193.9 729.0 194.2 730.0 194.6 731.0 195.0 732.0 195.3 733.0 195.7 734.0 196.1 735.0 196.2 736.0 196.3 737.0 196.3 738.0 196.7 739.0 196.6 740.0 197.0 741.0 196.6 742.0 197.2 743.0 197.3 744.0 197.1 745.0 197.4 746.0 197.4 747.0 197.6 748.0 197.9 749.0 198.0 750.0 198.1 751.0 198.1 752.0 197.9 753.0 197.4 754.0 197.3 755.0 197.0 756.0 196.9 757.0 196.6 758.0 196.4 759.0 196.3 760.0 196.2 761.0 196.3 762.0 196.7 763.0 196.8 764.0 197.0 765.0 197.2 766.0 197.5 767.0 197.7 768.0 197.9 769.0 198.0 770.0 198.1 771.0 198.5 772.0 198.3 773.0 198.8 774.0 198.8 775.0 198.7 776.0 198.9 777.0 198.7 778.0 199.2 779.0 199.4 780.0 199.4 781.0 199.3 782.0 199.8 783.0 199.7 784.0 199.6 785.0 199.7 786.0 199.8 787.0 200.0 788.0 199.9 789.0 200.0 790.0 200.1 791.0 199.9 792.0 199.8 793.0 199.6 794.0 199.9 795.0 199.7 796.0 199.5 797.0 199.7 798.0 199.9 799.0 199.7 800.0 199.4 801.0 199.8 802.0 199.7 803.0 199.9 804.0 199.8 805.0 199.9 806.0 200.0 807.0 200.0 808.0 200.0 809.0 200.2 810.0 200.2 811.0 200.5 812.0 200.4 813.0 200.3 814.0 200.4 815.0 200.3 816.0 200.3 817.0 200.1 818.0 200.5 819.0 200.2 820.0 200.1 821.0 200.1 822.0 200.1 823.0 199.8 824.0 200.0 825.0 199.9 826.0 199.7 827.0 199.7 828.0 199.5 829.0 199.7 830.0 199.7 831.0 199.8 832.0 199.4 833.0 199.7 834.0 199.6 835.0 199.8 836.0 199.8 837.0 199.8 838.0 199.6 839.0 199.5 840.0 199.6 841.0 199.7 842.0 199.5 843.0 199.7 844.0 199.6 845.0 199.5 846.0 199.7 847.0 199.7 848.0 199.9 849.0 200.1 850.0 199.8 851.0 199.9 852.0 199.9 853.0 200.0 854.0 200.3 855.0 200.0 856.0 200.1 857.0 200.2 858.0 200.2 859.0 200.4 860.0 200.4 861.0 200.5 862.0 200.5 863.0 200.6 864.0 200.5 865.0 200.6 866.0 200.6 867.0 200.8 868.0 200.8 869.0 200.7 870.0 200.7 871.0 200.9 872.0 201.1 873.0 200.8 874.0 200.9 875.0 201.0 876.0 201.0 877.0 200.7 878.0 201.1 879.0 201.0 880.0 200.8 881.0 200.8 882.0 201.1 883.0 201.0 884.0 201.1 885.0 200.8 886.0 200.9 887.0 200.5 888.0 200.5 889.0 200.3 890.0 200.3 891.0 200.1 892.0 200.2 893.0 200.3 894.0 199.9 895.0 199.9 896.0 199.6 897.0 199.6 898.0 199.6 899.0 199.4 900.0 199.5 901.0 199.3 902.0 199.1 903.0 198.9 904.0 199.0 905.0 198.5 906.0 198.8 907.0 198.4 908.0 198.6 909.0 198.6 910.0 198.5 911.0 198.2 912.0 198.3 913.0 198.1 914.0 198.1" stroke="#ff2020" stroke-width="0.95" fill="none"/>
<path d="M557.0 332.8 557.8 332.7 558.6 332.6 559.4 332.8 560.2 332.9 561.0 333.0 561.8 332.7 562.6 333.0 563.4 332.5 564.2 332.8 565.0 332.9 565.8 332.5 566.6 332.9 567.4 332.8 568.2 333.0 569.0 333.2 569.8 333.0 570.6 332.3 571.4 332.6 572.2 332.9 573.0 332.6 573.8 332.6 574.6 332.9 575.4 332.6 576.2 333.1 577.0 332.7 577.8 332.5 578.6 333.1 579.4 332.8 580.2 333.4 581.0 333.2 581.8 333.4 582.6 333.1 583.4 333.1 584.2 333.6 585.0 332.9 585.8 333.6 586.6 333.6 587.4 334.0 588.2 333.2 589.0 333.6 589.8 333.7 590.6 333.4 591.4 333.1 592.2 333.6 593.0 333.4 593.8 333.4 594.6 333.7 595.4 334.0 596.2 333.6 597.0 333.3 597.8 333.8 598.6 333.4 599.4 333.4 600.2 333.5 601.0 333.5 601.8 333.2 602.6 333.1 603.4 333.6 604.2 332.9 605.0 333.1 605.8 333.1 606.6 332.7 607.4 332.4 608.2 332.7 609.0 332.8 609.8 332.2 610.6 332.6 611.4 333.3 612.2 333.3 613.0 332.9 613.8 333.1 614.6 332.7 615.4 332.6 616.2 332.8 617.0 333.2 617.8 332.4 618.6 333.0 619.4 333.0 620.2 333.2 621.0 332.5 621.8 333.0 622.6 332.5 623.4 332.3 624.2 332.4 625.0 332.8 625.8 333.0 626.6 332.5 627.4 332.7 628.2 332.3 629.0 332.1 629.8 332.6 630.6 332.1 631.4 332.2 632.2 332.5 633.0 332.3 633.8 332.2 634.6 332.2 635.4 332.1 636.2 332.3 637.0 331.9 637.8 331.9 638.6 332.1 639.4 332.3 640.2 332.5 641.0 332.1 641.8 332.2 642.6 332.4 643.4 332.1 644.2 332.3 645.0 332.2 645.8 331.5 646.6 332.5 647.4 332.3 648.2 332.3 649.0 331.9 649.8 332.1 650.6 331.5 651.4 331.7 652.2 331.7 653.0 331.4 653.8 330.9 654.6 330.8 655.4 331.2 656.2 330.6 657.0 330.8 657.8 330.7 658.6 331.6 659.4 330.7 660.2 331.1 661.0 330.8 661.8 330.8 662.6 330.4 663.4 330.7 664.2 330.5 665.0 330.0 665.8 329.5 666.6 329.6 667.4 330.1 668.2 330.0 669.0 329.9 669.8 329.6 670.6 330.0 671.4 329.6 672.2 329.6 673.0 329.4 673.8 329.4 674.6 329.3 675.4 329.4 676.2 329.4 677.0 329.6 677.8 329.7 678.6 329.5 679.4 329.3 680.2 329.3 681.0 329.5 681.8 329.0 682.6 329.4 683.4 329.2 684.2 329.8 685.0 328.9 685.8 329.8 686.6 328.4 687.4 328.7 688.2 328.8 689.0 328.1 689.8 328.0 690.6 328.0 691.4 327.5 692.2 327.6 693.0 327.6 693.8 326.9 694.6 327.1 695.4 327.1 696.2 327.1 697.0 325.8 697.8 326.4 698.6 325.9 699.4 326.1 700.2 325.8 701.0 325.5 701.8 325.3 702.6 326.0 703.4 326.0 704.2 325.2 705.0 325.4 705.8 325.6 706.6 325.6 707.4 326.1 708.2 325.4 709.0 326.0 709.8 326.2 710.6 326.4 711.4 326.3 712.2 327.3 713.0 327.1 713.8 327.7 714.6 328.6 715.4 329.3 716.2 329.7 717.0 330.5 717.8 331.0 718.6 331.8 719.4 332.1 720.2 333.1 721.0 333.9 721.8 333.8 722.6 333.5 723.4 333.9 724.2 334.1 725.0 333.6 725.8 333.9 726.6 334.2 727.4 334.1 728.2 334.0 729.0 333.7 729.8 333.2 730.6 333.3 731.4 334.0 732.2 333.3 733.0 333.2 733.8 333.6 734.6 333.6 735.4 333.4 736.2 333.1 737.0 333.3 737.8 333.0 738.6 332.5 739.4 333.2 740.2 332.6 741.0 332.4 741.8 332.4 742.6 332.2 743.4 332.5 744.2 332.0 745.0 332.4 745.8 332.6 746.6 332.6 747.4 332.5 748.2 332.0 749.0 332.1 749.8 332.2 750.6 332.6 751.4 332.0 752.2 331.8 753.0 332.2 753.8 332.1 754.6 331.4 755.4 331.3 756.2 331.7 757.0 331.8 757.8 330.9 758.6 331.3 759.4 330.9 760.2 331.3 761.0 331.8 761.8 331.7 762.6 331.2 763.4 331.5 764.2 331.4 765.0 331.6 765.8 331.2 766.6 331.2 767.4 331.4 768.2 331.0 769.0 331.6 769.8 331.2 770.6 331.5 771.4 331.3 772.2 331.7 773.0 331.1 773.8 331.6 774.6 331.8 775.4 331.9 776.2 331.7 777.0 331.2 777.8 331.8 778.6 332.2 779.4 332.4 780.2 333.3 781.0 332.8 781.8 333.0 782.6 333.3 783.4 332.8 784.2 333.6 785.0 333.3 785.8 333.7 786.6 333.2 787.4 333.8 788.2 333.8 789.0 333.7 789.8 333.4 790.6 333.9 791.4 334.0 792.2 333.2 793.0 333.7 793.8 334.1 794.6 333.8 795.4 333.7 796.2 333.5 797.0 333.9 797.8 333.5 798.6 333.7 799.4 333.3 800.2 333.5 801.0 333.6 801.8 333.1 802.6 333.3 803.4 333.3 804.2 333.0 805.0 333.3 805.8 332.8 806.6 332.5 807.4 333.0 808.2 333.2 809.0 332.3 809.8 332.6 810.6 332.7 811.4 332.9 812.2 332.6 813.0 332.3 813.8 332.5 814.6 332.6 815.4 332.4 816.2 332.4 817.0 332.1 817.8 331.8 818.6 332.3 819.4 332.6 820.2 332.4 821.0 332.8 821.8 332.1 822.6 332.4 823.4 332.5 824.2 331.9 825.0 332.2 825.8 332.4 826.6 332.1 827.4 332.3 828.2 332.3 829.0 332.6 829.8 332.8 830.6 332.2 831.4 332.6 832.2 332.2 833.0 331.8 833.8 331.8 834.6 332.5 835.4 332.1 836.2 331.7 837.0 331.7 837.8 332.1 838.6 331.7 839.4 331.7 840.2 331.5 841.0 331.4 841.8 331.6 842.6 331.7 843.4 331.0 844.2 331.0 845.0 331.1 845.8 331.2 846.6 331.0 847.4 331.2 848.2 331.2 849.0 330.7 849.8 330.2 850.6 329.7 851.4 330.0 852.2 329.9 853.0 329.4 853.8 328.8 854.6 328.5 855.4 328.5 856.2 328.3 857.0 327.9 857.8 327.4 858.6 327.5 859.4 327.7 860.2 327.1 861.0 326.8 861.8 326.6 862.6 326.9 863.4 326.1 864.2 326.7 865.0 326.8 865.8 325.6 866.6 325.8 867.4 325.5 868.2 325.5 869.0 324.7 869.8 324.9 870.6 324.5 871.4 324.3 872.2 324.7 873.0 324.8 873.8 324.8 874.6 324.5 875.4 324.4 876.2 324.5 877.0 324.0 877.8 324.4 878.6 324.4 879.4 324.4 880.2 324.6 881.0 324.9 881.8 325.2 882.6 324.8 883.4 325.7 884.2 325.4 885.0 326.1 885.8 325.8 886.6 325.7 887.4 325.9 888.2 326.7 889.0 326.6 889.8 326.3 890.6 327.0 891.4 327.0 892.2 327.4 893.0 327.4 893.8 327.5 894.6 327.4 895.4 326.6 896.2 325.8 897.0 325.6 897.8 325.3 898.6 325.0 899.4 324.0 900.2 324.1 901.0 324.2 901.8 323.5 902.6 323.6 903.4 322.6 904.2 323.2 905.0 323.5 905.8 323.7 906.6 323.8 907.4 323.8 908.2 323.7 909.0 324.2 909.8 324.5 910.6 324.8 911.4 324.6 912.2 325.0 913.0 325.8 913.8 326.2" stroke="#101010" stroke-width="1.15" fill="none"/>
<path d="M557.0 365.5 557.6 365.7 558.2 364.4 558.8 365.6 559.4 363.8 560.0 364.2 560.6 363.6 561.2 363.6 561.8 364.7 562.4 365.0 563.0 363.4 563.6 363.8 564.2 363.2 564.8 364.3 565.4 364.0 566.0 364.0 566.6 364.1 567.2 361.8 567.8 363.7 568.4 363.1 569.0 362.3 569.6 363.5 570.2 363.4 570.8 363.8 571.4 363.3 572.0 363.6 572.6 363.4 573.2 364.1 573.8 364.6 574.4 363.4 575.0 364.0 575.6 362.3 576.2 361.1 576.8 364.3 577.4 362.0 578.0 362.1 578.6 363.0 579.2 363.2 579.8 363.2 580.4 362.0 581.0 361.0 581.6 363.9 582.2 363.1 582.8 363.7 583.4 362.9 584.0 363.4 584.6 362.8 585.2 362.5 585.8 361.3 586.4 361.7 587.0 362.7 587.6 361.4 588.2 364.0 588.8 361.8 589.4 361.4 590.0 363.4 590.6 362.3 591.2 363.2 591.8 363.5 592.4 361.9 593.0 362.1 593.6 363.1 594.2 363.1 594.8 362.7 595.4 364.5 596.0 359.6 596.6 358.5 597.2 358.6 597.8 356.6 598.4 352.8 599.0 356.4 599.6 356.6 600.2 354.4 600.8 355.4 601.4 355.6 602.0 357.1 602.6 358.5 603.2 361.3 603.8 360.9 604.4 360.6 605.0 362.9 605.6 360.6 606.2 361.1 606.8 360.1 607.4 360.7 608.0 361.5 608.6 362.4 609.2 361.3 609.8 362.2 610.4 361.3 611.0 362.9 611.6 361.8 612.2 362.0 612.8 361.8 613.4 362.5 614.0 360.9 614.6 362.6 615.2 362.3 615.8 362.8 616.4 361.3 617.0 360.3 617.6 361.9 618.2 361.3 618.8 362.1 619.4 362.4 620.0 361.3 620.6 360.7 621.2 359.2 621.8 359.4 622.4 358.8 623.0 360.0 623.6 358.8 624.2 358.8 624.8 357.5 625.4 357.9 626.0 357.6 626.6 357.3 627.2 357.9 627.8 356.9 628.4 356.6 629.0 355.8 629.6 358.1 630.2 356.0 630.8 358.0 631.4 356.6 632.0 359.5 632.6 356.9 633.2 357.0 633.8 358.2 634.4 358.2 635.0 357.2 635.6 356.9 636.2 355.6 636.8 355.4 637.4 354.4 638.0 354.3 638.6 355.3 639.2 354.7 639.8 353.7 640.4 354.3 641.0 356.2 641.6 356.2 642.2 356.5 642.8 355.9 643.4 356.0 644.0 357.5 644.6 357.4 645.2 356.4 645.8 357.3 646.4 356.3 647.0 355.4 647.6 355.7 648.2 356.5 648.8 357.0 649.4 355.5 650.0 356.7 650.6 355.6 651.2 355.1 651.8 354.9 652.4 355.1 653.0 357.3 653.6 356.5 654.2 356.2 654.8 355.8 655.4 356.7 656.0 356.5 656.6 356.8 657.2 356.6 657.8 358.9 658.4 358.4 659.0 359.2 659.6 359.9 660.2 358.5 660.8 357.8 661.4 357.5 662.0 357.6 662.6 357.0 663.2 357.6 663.8 357.4 664.4 357.2 665.0 357.8 665.6 357.8 666.2 356.8 666.8 359.1 667.4 357.7 668.0 357.7 668.6 357.6 669.2 358.9 669.8 357.8 670.4 357.7 671.0 356.7 671.6 356.6 672.2 356.6 672.8 355.4 673.4 356.3 674.0 354.2 674.6 355.1 675.2 355.2 675.8 354.4 676.4 355.4 677.0 353.8 677.6 355.0 678.2 355.9 678.8 353.1 679.4 355.9 680.0 354.5 680.6 355.4 681.2 354.2 681.8 356.4 682.4 355.7 683.0 356.3 683.6 355.4 684.2 357.1 684.8 356.3 685.4 356.0 686.0 357.1 686.6 357.4 687.2 355.3 687.8 356.5 688.4 357.8 689.0 354.4 689.6 354.8 690.2 356.3 690.8 355.9 691.4 355.1 692.0 354.7 692.6 354.9 693.2 353.2 693.8 355.7 694.4 352.3 695.0 352.9 695.6 353.2 696.2 351.2 696.8 350.9 697.4 351.0 698.0 347.8 698.6 348.8 699.2 349.5 699.8 347.0 700.4 347.8 701.0 346.6 701.6 346.3 702.2 346.2 702.8 343.6 703.4 345.9 704.0 344.3 704.6 347.7 705.2 344.0 705.8 344.7 706.4 343.4 707.0 345.1 707.6 345.8 708.2 344.6 708.8 346.4 709.4 345.3 710.0 348.0 710.6 347.8 711.2 347.4 711.8 347.9 712.4 350.2 713.0 348.0 713.6 350.2 714.2 349.2 714.8 349.4 715.4 350.5 716.0 351.4 716.6 353.0 717.2 353.9 717.8 355.8 718.4 356.4 719.0 357.3 719.6 357.5 720.2 359.1 720.8 359.9 721.4 361.1 722.0 361.6 722.6 360.5 723.2 359.6 723.8 360.1 724.4 359.7 725.0 359.1 725.6 357.8 726.2 356.5 726.8 357.5 727.4 353.2 728.0 354.6 728.6 352.7 729.2 352.1 729.8 352.4 730.4 351.5 731.0 353.1 731.6 352.2 732.2 351.9 732.8 353.4 733.4 351.4 734.0 353.7 734.6 353.8 735.2 353.2 735.8 354.6 736.4 357.1 737.0 357.2 737.6 358.2 738.2 357.4 738.8 359.9 739.4 361.1 740.0 360.2 740.6 360.7 741.2 360.0 741.8 360.5 742.4 360.1 743.0 360.8 743.6 357.9 744.2 356.0 744.8 356.1 745.4 352.7 746.0 352.4 746.6 350.5 747.2 349.1 747.8 349.8 748.4 348.5 749.0 349.1 749.6 349.1 750.2 351.1 750.8 348.8 751.4 347.8 752.0 347.7 752.6 347.1 753.2 348.1 753.8 348.8 754.4 349.9 755.0 350.2 755.6 348.9 756.2 352.7 756.8 352.9 757.4 356.2 758.0 356.5 758.6 358.9 759.2 360.8 759.8 360.3 760.4 362.3 761.0 361.3 761.6 362.0 762.2 362.3 762.8 364.7 763.4 361.9 764.0 362.6 764.6 362.5 765.2 361.8 765.8 360.2 766.4 360.7 767.0 359.8 767.6 358.2 768.2 358.2 768.8 357.4 769.4 357.8 770.0 356.4 770.6 356.2 771.2 356.8 771.8 355.4 772.4 354.5 773.0 354.3 773.6 354.6 774.2 355.3 774.8 353.4 775.4 353.9 776.0 353.4 776.6 352.8 777.2 353.4 777.8 353.6 778.4 353.5 779.0 351.4 779.6 354.3 780.2 354.2 780.8 354.3 781.4 356.1 782.0 355.1 782.6 355.9 783.2 357.5 783.8 356.6 784.4 356.5 785.0 356.3 785.6 357.6 786.2 358.4 786.8 358.6 787.4 358.6 788.0 359.5 788.6 359.2 789.2 359.3 789.8 359.3 790.4 359.5 791.0 359.6 791.6 359.9 792.2 361.2 792.8 360.6 793.4 360.8 794.0 362.2 794.6 362.2 795.2 361.4 795.8 361.3 796.4 362.3 797.0 361.0 797.6 361.0 798.2 360.7 798.8 360.9 799.4 360.0 800.0 362.8 800.6 361.5 801.2 360.3 801.8 362.1 802.4 360.8 803.0 360.8 803.6 360.3 804.2 359.1 804.8 357.4 805.4 356.8 806.0 358.2 806.6 358.1 807.2 357.7 807.8 354.4 808.4 355.4 809.0 354.4 809.6 355.5 810.2 352.7 810.8 351.9 811.4 350.5 812.0 350.4 812.6 349.7 813.2 347.4 813.8 347.1 814.4 348.2 815.0 349.0 815.6 350.2 816.2 350.8 816.8 348.4 817.4 349.7 818.0 350.9 818.6 350.7 819.2 351.6 819.8 352.6 820.4 353.5 821.0 354.0 821.6 353.8 822.2 356.9 822.8 356.2 823.4 357.7 824.0 355.9 824.6 357.4 825.2 358.8 825.8 360.9 826.4 358.7 827.0 361.2 827.6 359.8 828.2 359.1 828.8 360.4 829.4 360.1 830.0 362.9 830.6 362.1 831.2 360.4 831.8 360.3 832.4 360.3 833.0 358.0 833.6 358.3 834.2 359.2 834.8 359.6 835.4 359.9 836.0 359.3 836.6 359.7 837.2 358.0 837.8 358.9 838.4 359.7 839.0 359.7 839.6 358.2 840.2 357.9 840.8 358.7 841.4 358.4 842.0 357.7 842.6 359.1 843.2 359.4 843.8 358.2 844.4 360.1 845.0 357.5 845.6 357.7 846.2 357.7 846.8 356.2 847.4 358.5 848.0 356.4 848.6 358.0 849.2 357.2 849.8 357.6 850.4 359.2 851.0 358.3 851.6 359.3 852.2 357.9 852.8 356.8 853.4 357.2 854.0 357.2 854.6 355.3 855.2 355.9 855.8 355.0 856.4 355.0 857.0 353.5 857.6 352.6 858.2 355.0 858.8 354.4 859.4 354.5 860.0 354.4 860.6 352.7 861.2 353.5 861.8 352.3 862.4 353.8 863.0 351.3 863.6 353.6 864.2 352.3 864.8 350.8 865.4 352.1 866.0 352.2 866.6 351.1 867.2 351.5 867.8 351.4 868.4 351.1 869.0 351.2 869.6 350.5 870.2 350.1 870.8 350.6 871.4 351.3 872.0 350.1 872.6 350.8 873.2 349.2 873.8 350.7 874.4 351.0 875.0 349.4 875.6 349.1 876.2 350.4 876.8 348.1 877.4 349.1 878.0 350.8 878.6 350.1 879.2 350.0 879.8 350.4 880.4 349.9 881.0 348.6 881.6 349.1 882.2 347.9 882.8 349.9 883.4 350.0 884.0 348.6 884.6 347.8 885.2 347.7 885.8 348.8 886.4 349.2 887.0 349.2 887.6 348.5 888.2 348.0 888.8 347.7 889.4 348.1 890.0 347.0 890.6 347.0 891.2 346.7 891.8 347.5 892.4 348.5 893.0 348.3 893.6 348.1 894.2 346.4 894.8 345.8 895.4 346.2 896.0 345.7 896.6 347.2 897.2 346.2 897.8 346.9 898.4 346.6 899.0 346.2 899.6 345.3 900.2 344.6 900.8 345.9 901.4 344.1 902.0 345.9 902.6 345.9 903.2 345.6 903.8 345.7 904.4 346.9 905.0 348.1 905.6 347.5 906.2 348.1 906.8 346.4 907.4 347.7 908.0 348.3 908.6 349.3 909.2 348.1 909.8 348.1 910.4 346.6 911.0 349.1 911.6 349.8 912.2 350.4 912.8 351.6 913.4 350.4 914.0 351.1" stroke="#101010" stroke-width="1.3" fill="none"/>
<path d="M66.0 708.5 66.5 708.5 67.1 708.2 67.6 706.3 68.2 706.0 68.7 707.1 69.3 707.4 69.8 709.2 70.4 708.0 70.9 709.0 71.5 709.4 72.0 709.7 72.6 711.7 73.1 709.6 73.7 712.9 74.2 712.4 74.8 708.9 75.3 707.7 75.9 708.3 76.4 708.9 77.0 709.3 77.5 707.0 78.1 708.8 78.6 708.6 79.2 712.1 79.7 708.8 80.3 709.7 80.8 710.8 81.4 709.9 81.9 711.1 82.5 713.0 83.0 711.5 83.6 710.7 84.1 711.0 84.7 711.3 85.2 710.9 85.8 714.0 86.3 712.0 86.9 712.2 87.4 710.3 88.0 710.9 88.5 710.8 89.1 708.8 89.6 709.4 90.2 708.8 90.7 708.2 91.3 707.7 91.8 704.7 92.4 705.3 92.9 705.3 93.5 703.9 94.0 704.2 94.6 705.2 95.1 703.3 95.7 703.0 96.2 702.2 96.8 702.9 97.3 702.0 97.9 702.5 98.4 702.8 99.0 701.8 99.5 703.0 100.1 702.1 100.6 701.8 101.2 704.1 101.7 703.8 102.3 706.4 102.8 708.0 103.4 708.7 103.9 707.8 104.5 707.6 105.0 711.2 105.6 709.6 106.1 708.9 106.7 709.6 107.2 711.0 107.8 711.6 108.3 710.2 108.9 709.2 109.4 707.7 110.0 707.8 110.5 705.0 111.1 702.9 111.6 702.3 112.2 704.3 112.7 703.1 113.3 702.2 113.8 700.6 114.4 699.8 114.9 698.2 115.5 697.6 116.0 696.5 116.6 697.6 117.1 695.9 117.7 696.3 118.2 695.6 118.8 697.2 119.3 697.6 119.9 698.3 120.4 698.4 121.0 698.0 121.5 700.4 122.1 702.1 122.6 703.7 123.2 701.6 123.7 704.5 124.3 706.0 124.8 708.9 125.4 707.7 125.9 711.2 126.5 711.6 127.0 714.3 127.6 712.3 128.1 713.9 128.7 715.0 129.2 716.8 129.8 719.2 130.3 719.6 130.9 720.3 131.4 721.2 132.0 723.5 132.5 722.3 133.1 723.6 133.6 726.9 134.2 725.1 134.7 722.9 135.3 725.0 135.8 724.4 136.4 725.7 136.9 719.6 137.5 720.0 138.0 720.2 138.6 717.1 139.1 717.4 139.7 717.1 140.2 715.3 140.8 714.7 141.3 715.1 141.9 714.9 142.4 712.0 143.0 712.8 143.6 712.0 144.1 709.6 144.7 711.9 145.2 711.7 145.8 710.4 146.3 710.8 146.9 709.2 147.4 709.7 148.0 709.6 148.5 710.4 149.1 710.1 149.6 712.9 150.2 709.5 150.7 710.3 151.3 709.6 151.8 710.4 152.4 710.7 152.9 711.5 153.5 711.3 154.0 712.9 154.6 711.4 155.1 711.4 155.7 712.0 156.2 713.5 156.8 713.1 157.3 710.4 157.9 710.0 158.4 712.5 159.0 711.4 159.5 708.8 160.1 710.1 160.6 708.9 161.2 707.3 161.7 706.1 162.3 706.2 162.8 703.7 163.4 705.4 163.9 705.6 164.5 705.9 165.0 704.1 165.6 704.2 166.1 704.5 166.7 704.9 167.2 703.9 167.8 704.4 168.3 702.8 168.9 702.6 169.4 704.1 170.0 705.8 170.5 705.7 171.1 705.5 171.6 705.6 172.2 705.8 172.7 705.7 173.3 703.6 173.8 706.6 174.4 706.4 174.9 703.8 175.5 703.4 176.0 704.1 176.6 704.8 177.1 703.9 177.7 705.6 178.2 704.0 178.8 703.3 179.3 704.4 179.9 704.2 180.4 703.7 181.0 703.0 181.5 704.1 182.1 706.4 182.6 703.5 183.2 702.5 183.7 704.8 184.3 704.3 184.8 702.8 185.4 703.9 185.9 700.3 186.5 701.4 187.0 699.1 187.6 699.7 188.1 697.8 188.7 698.3 189.2 695.6 189.8 697.4 190.3 698.0 190.9 698.6 191.4 700.2 192.0 699.3 192.5 698.0 193.1 699.5 193.6 697.2 194.2 698.8 194.7 696.9 195.3 700.5 195.8 700.8 196.4 702.7 196.9 701.9 197.5 703.5 198.0 702.6 198.6 705.5 199.1 705.2 199.7 705.1 200.2 706.6 200.8 705.9 201.3 705.2 201.9 707.6 202.4 707.8 203.0 706.2 203.5 709.6 204.1 707.6 204.6 709.5 205.2 709.2 205.7 708.6 206.3 709.0 206.8 708.1 207.4 707.5 207.9 705.9 208.5 704.1 209.0 705.8 209.6 705.7 210.1 701.6 210.7 700.8 211.2 699.1 211.8 697.8 212.3 698.2 212.9 696.4 213.4 695.6 214.0 695.2 214.5 693.3 215.1 692.6 215.6 691.8 216.2 687.3 216.7 687.9 217.3 688.6 217.8 685.4 218.4 684.5 218.9 683.3 219.5 684.2 220.0 681.1 220.6 682.6 221.1 680.3 221.7 676.0 222.2 679.1 222.8 678.1 223.3 681.0 223.9 679.8 224.4 682.6 225.0 681.3 225.5 683.1 226.1 685.3 226.6 685.6 227.2 685.2 227.7 685.8 228.3 687.5 228.8 686.5 229.4 686.1 229.9 691.0 230.5 689.4 231.0 689.6 231.6 688.9 232.1 690.2 232.7 690.7 233.2 691.8 233.8 693.3 234.3 697.1 234.9 700.4 235.4 702.1 236.0 704.8 236.5 706.0 237.1 708.1 237.6 709.8 238.2 714.1 238.7 717.7 239.3 718.6 239.8 718.9 240.4 721.1 240.9 724.1 241.5 724.6 242.0 725.0 242.6 725.5 243.1 727.8 243.7 726.7 244.2 729.5 244.8 728.4 245.3 730.4 245.9 732.0 246.4 730.1 247.0 730.3 247.5 730.3 248.1 733.5 248.6 732.5 249.2 731.6 249.7 729.2 250.3 728.1 250.8 725.6 251.4 723.9 251.9 721.9 252.5 723.6 253.0 724.3 253.6 723.4 254.1 722.6 254.7 720.9 255.2 720.7 255.8 719.4 256.3 718.5 256.9 717.9 257.4 715.0 258.0 716.0 258.5 712.3 259.1 712.7 259.6 712.7 260.2 711.5 260.7 709.5 261.3 709.8 261.8 709.0 262.4 708.6 262.9 707.2 263.5 706.7 264.0 704.9 264.6 706.0 265.1 704.9 265.7 702.4 266.2 701.6 266.8 702.2 267.3 700.7 267.9 698.5 268.4 701.9 269.0 698.1 269.5 698.5 270.1 697.0 270.6 698.1 271.2 696.8 271.7 695.1 272.3 696.9 272.8 694.3 273.4 696.1 273.9 697.5 274.5 696.2 275.0 694.6 275.6 696.2 276.1 697.2 276.7 696.8 277.2 697.6 277.8 698.7 278.3 699.3 278.9 698.6 279.4 700.0 280.0 700.1 280.5 699.7 281.1 698.1 281.6 699.6 282.2 703.2 282.7 700.4 283.3 701.9 283.8 701.4 284.4 703.0 284.9 702.1 285.5 705.2 286.0 704.0 286.6 706.0 287.1 706.7 287.7 706.8 288.2 707.3 288.8 706.1 289.3 707.4 289.9 705.8 290.4 705.7 291.0 707.8 291.5 709.5 292.1 709.9 292.6 707.3 293.2 705.2 293.7 707.3 294.3 708.9 294.8 707.2 295.4 708.0 295.9 708.3 296.5 706.3 297.0 707.7 297.6 708.1 298.1 709.0 298.7 707.2 299.2 707.9 299.8 707.8 300.3 710.0 300.9 709.5 301.4 709.1 302.0 707.9 302.5 709.2 303.1 712.2 303.6 711.4 304.2 711.6 304.7 713.0 305.3 711.5 305.8 713.5 306.4 715.9 306.9 716.1 307.5 717.8 308.0 718.5 308.6 719.9 309.1 719.7 309.7 719.5 310.2 718.8 310.8 720.3 311.3 716.7 311.9 717.8 312.4 717.5 313.0 715.1 313.5 716.0 314.1 716.3 314.6 715.5 315.2 713.5 315.7 714.3 316.3 713.0 316.8 713.4 317.4 713.0 317.9 712.2 318.5 710.1 319.0 709.2 319.6 708.2 320.1 706.2 320.7 706.9 321.2 706.5 321.8 703.7 322.3 701.2 322.9 701.6 323.4 700.5 324.0 700.4 324.5 698.3 325.1 698.9 325.6 698.4 326.2 700.4 326.7 698.7 327.3 698.6 327.8 699.1 328.4 700.6 328.9 697.6 329.5 700.2 330.0 697.7 330.6 697.5 331.1 697.5 331.7 700.9 332.2 699.0 332.8 695.7 333.3 696.6 333.9 697.9 334.4 698.1 335.0 695.9 335.5 698.7 336.1 697.1 336.6 699.2 337.2 697.3 337.7 699.1 338.3 700.2 338.8 700.1 339.4 701.3 339.9 701.4 340.5 703.1 341.0 702.1 341.6 703.7 342.1 703.6 342.7 703.3 343.2 703.3 343.8 704.0 344.3 703.5 344.9 703.9 345.4 702.2 346.0 702.0 346.5 703.2 347.1 700.7 347.6 700.6 348.2 701.6 348.7 701.2 349.3 700.4 349.8 700.7 350.4 703.0 350.9 702.9 351.5 702.6 352.0 703.7 352.6 701.5 353.1 705.7 353.7 703.1 354.2 707.4 354.8 707.5 355.3 707.0 355.9 707.0 356.4 708.3 357.0 709.2 357.5 711.1 358.1 710.8 358.6 709.0 359.2 708.0 359.7 707.5 360.3 708.4 360.8 709.2 361.4 709.3 361.9 708.8 362.5 706.0 363.0 709.0 363.6 709.2 364.1 709.8 364.7 707.0 365.2 707.5 365.8 708.8 366.3 706.6 366.9 705.5 367.4 707.9 368.0 707.6 368.5 710.1 369.1 707.7 369.6 707.5 370.2 709.0 370.7 709.8 371.3 708.3 371.8 712.3 372.4 709.6 372.9 709.2 373.5 709.7 374.0 708.1 374.6 707.5 375.1 709.5 375.7 708.8 376.2 708.0 376.8 709.3 377.3 709.7 377.9 708.3 378.4 708.8 379.0 707.6 379.5 705.3 380.1 707.3 380.6 707.2 381.2 708.5 381.7 704.9 382.3 704.8 382.8 705.5 383.4 707.0 383.9 705.3 384.5 706.6 385.0 705.2 385.6 703.3 386.1 704.0 386.7 704.1 387.2 703.8 387.8 703.1 388.3 703.2 388.9 701.6 389.4 700.0 390.0 699.5 390.5 700.2 391.1 697.2 391.6 698.4 392.2 698.5 392.7 699.3 393.3 699.3 393.8 698.5 394.4 699.0 394.9 698.0 395.5 697.7 396.0 698.3 396.6 697.5 397.1 698.2 397.7 698.9 398.2 700.0 398.8 701.0 399.3 700.5 399.9 702.5 400.4 703.6 401.0 703.8 401.5 702.3 402.1 705.4 402.6 704.4 403.2 703.5 403.7 702.9 404.3 705.0 404.8 705.4 405.4 707.7 405.9 709.0 406.5 709.7 407.0 708.3 407.6 705.2 408.1 704.1 408.7 704.4 409.2 704.2 409.8 706.5 410.3 705.5 410.9 707.4 411.4 706.4 412.0 707.1 412.5 707.1 413.1 706.6 413.6 708.3 414.2 705.8 414.7 707.5 415.3 709.2 415.8 707.7 416.4 705.1 416.9 705.2 417.5 706.7 418.0 706.0 418.6 705.7 419.1 705.7 419.7 706.2 420.2 704.1 420.8 705.1 421.3 706.8 421.9 702.6 422.4 703.7 423.0 706.5" stroke="#0000ff" stroke-width="1.45" fill="none" stroke-linejoin="round"/>
<path d="M66.0 710.5 66.5 710.8 67.1 707.9 67.6 711.9 68.2 711.7 68.7 712.3 69.3 712.9 69.8 710.7 70.4 713.0 70.9 713.3 71.5 713.7 72.0 713.0 72.6 714.0 73.1 714.1 73.7 715.7 74.2 713.8 74.8 715.4 75.3 715.9 75.9 716.0 76.4 716.8 77.0 715.2 77.5 714.7 78.1 716.2 78.6 717.1 79.2 715.5 79.7 716.9 80.3 714.4 80.8 713.2 81.4 715.6 81.9 715.2 82.5 714.6 83.0 715.6 83.6 714.0 84.1 715.7 84.7 717.4 85.2 718.0 85.8 717.8 86.3 716.3 86.9 716.1 87.4 715.4 88.0 714.1 88.5 714.3 89.1 712.4 89.6 712.6 90.2 714.0 90.7 714.4 91.3 712.4 91.8 713.2 92.4 713.3 92.9 713.5 93.5 714.8 94.0 713.1 94.6 712.5 95.1 715.5 95.7 714.2 96.2 715.2 96.8 716.6 97.3 714.5 97.9 713.1 98.4 713.3 99.0 710.6 99.5 710.4 100.1 711.7 100.6 710.7 101.2 710.5 101.7 713.1 102.3 712.3 102.8 712.3 103.4 713.0 103.9 714.6 104.5 713.4 105.0 712.8 105.6 711.8 106.1 714.8 106.7 717.0 107.2 717.5 107.8 715.6 108.3 716.2 108.9 719.6 109.4 718.6 110.0 719.3 110.5 719.0 111.1 719.1 111.6 719.8 112.2 719.1 112.7 716.3 113.3 715.5 113.8 717.1 114.4 713.4 114.9 714.4 115.5 713.5 116.0 711.0 116.6 713.4 117.1 710.6 117.7 709.2 118.2 710.6 118.8 708.8 119.3 708.4 119.9 706.6 120.4 704.5 121.0 701.7 121.5 702.7 122.1 703.3 122.6 705.5 123.2 705.6 123.7 705.4 124.3 706.3 124.8 708.2 125.4 706.2 125.9 709.7 126.5 709.6 127.0 709.6 127.6 710.1 128.1 711.3 128.7 711.3 129.2 714.0 129.8 715.8 130.3 713.9 130.9 713.9 131.4 716.0 132.0 714.5 132.5 718.0 133.1 715.1 133.6 719.1 134.2 718.4 134.7 719.3 135.3 718.5 135.8 719.8 136.4 718.5 136.9 718.6 137.5 717.9 138.0 720.5 138.6 717.3 139.1 717.6 139.7 714.8 140.2 716.0 140.8 715.7 141.3 716.7 141.9 714.7 142.4 715.2 143.0 716.8 143.6 716.1 144.1 715.0 144.7 715.8 145.2 716.6 145.8 713.5 146.3 715.2 146.9 714.9 147.4 715.0 148.0 715.9 148.5 713.4 149.1 713.8 149.6 715.8 150.2 711.8 150.7 714.4 151.3 712.6 151.8 710.0 152.4 711.4 152.9 713.4 153.5 712.7 154.0 711.6 154.6 712.0 155.1 709.8 155.7 711.8 156.2 710.9 156.8 713.0 157.3 709.0 157.9 711.3 158.4 708.6 159.0 711.3 159.5 709.9 160.1 710.2 160.6 710.2 161.2 712.0 161.7 708.3 162.3 709.9 162.8 713.1 163.4 711.5 163.9 711.9 164.5 713.5 165.0 712.8 165.6 711.8 166.1 711.9 166.7 710.6 167.2 712.3 167.8 712.8 168.3 711.7 168.9 709.3 169.4 714.2 170.0 711.8 170.5 714.2 171.1 713.0 171.6 712.2 172.2 711.8 172.7 712.7 173.3 713.1 173.8 713.2 174.4 712.9 174.9 710.4 175.5 710.8 176.0 712.7 176.6 712.4 177.1 714.9 177.7 712.8 178.2 715.2 178.8 716.2 179.3 714.4 179.9 715.3 180.4 713.8 181.0 714.7 181.5 715.4 182.1 712.6 182.6 713.7 183.2 711.9 183.7 711.4 184.3 710.2 184.8 710.3 185.4 711.9 185.9 710.3 186.5 712.0 187.0 710.9 187.6 711.3 188.1 708.6 188.7 709.0 189.2 711.3 189.8 710.3 190.3 712.1 190.9 711.0 191.4 709.1 192.0 711.5 192.5 710.2 193.1 710.3 193.6 708.7 194.2 710.1 194.7 708.7 195.3 708.6 195.8 709.4 196.4 711.4 196.9 709.5 197.5 710.1 198.0 711.1 198.6 713.2 199.1 712.3 199.7 712.0 200.2 711.9 200.8 714.9 201.3 714.3 201.9 712.6 202.4 715.3 203.0 715.5 203.5 715.2 204.1 713.8 204.6 715.7 205.2 714.0 205.7 715.0 206.3 716.0 206.8 713.0 207.4 714.8 207.9 715.7 208.5 717.9 209.0 716.6 209.6 716.4 210.1 717.4 210.7 716.9 211.2 716.5 211.8 716.8 212.3 718.5 212.9 718.6 213.4 718.2 214.0 716.4 214.5 717.2 215.1 716.4 215.6 715.6 216.2 715.8 216.7 712.7 217.3 716.7 217.8 713.9 218.4 711.1 218.9 712.7 219.5 712.1 220.0 710.9 220.6 711.2 221.1 710.5 221.7 709.5 222.2 705.3 222.8 702.0 223.3 701.9 223.9 701.1 224.4 697.6 225.0 694.9 225.5 692.9 226.1 692.4 226.6 691.5 227.2 690.4 227.7 690.7 228.3 691.4 228.8 689.8 229.4 689.1 229.9 689.5 230.5 691.8 231.0 691.9 231.6 687.9 232.1 691.2 232.7 690.5 233.2 688.8 233.8 689.8 234.3 693.6 234.9 696.2 235.4 697.1 236.0 704.2 236.5 704.0 237.1 705.3 237.6 705.4 238.2 708.8 238.7 710.8 239.3 707.8 239.8 710.2 240.4 709.5 240.9 709.6 241.5 710.8 242.0 712.1 242.6 711.3 243.1 712.9 243.7 716.4 244.2 716.3 244.8 712.3 245.3 718.3 245.9 717.9 246.4 719.7 247.0 720.5 247.5 722.2 248.1 723.5 248.6 724.9 249.2 724.3 249.7 723.6 250.3 725.0 250.8 723.4 251.4 723.5 251.9 722.5 252.5 720.3 253.0 721.4 253.6 720.4 254.1 718.9 254.7 716.3 255.2 714.2 255.8 716.6 256.3 712.9 256.9 715.0 257.4 715.3 258.0 712.9 258.5 714.0 259.1 713.0 259.6 711.0 260.2 708.6 260.7 709.2 261.3 707.7 261.8 707.0 262.4 706.5 262.9 705.1 263.5 705.4 264.0 703.5 264.6 703.0 265.1 702.6 265.7 699.9 266.2 698.7 266.8 697.2 267.3 700.0 267.9 697.6 268.4 696.8 269.0 697.9 269.5 695.1 270.1 696.0 270.6 695.5 271.2 695.1 271.7 697.5 272.3 695.5 272.8 696.9 273.4 694.6 273.9 694.7 274.5 694.6 275.0 695.3 275.6 699.0 276.1 698.2 276.7 697.6 277.2 701.1 277.8 701.8 278.3 700.8 278.9 700.9 279.4 705.8 280.0 703.9 280.5 709.8 281.1 708.0 281.6 708.2 282.2 709.1 282.7 711.2 283.3 712.1 283.8 714.4 284.4 715.3 284.9 713.2 285.5 714.9 286.0 713.4 286.6 714.2 287.1 716.7 287.7 713.0 288.2 713.8 288.8 715.7 289.3 714.4 289.9 714.2 290.4 712.6 291.0 712.7 291.5 713.7 292.1 713.6 292.6 713.5 293.2 715.2 293.7 714.1 294.3 715.9 294.8 715.0 295.4 718.5 295.9 715.9 296.5 717.9 297.0 717.4 297.6 717.7 298.1 717.1 298.7 717.7 299.2 715.9 299.8 715.0 300.3 715.2 300.9 711.8 301.4 713.0 302.0 714.4 302.5 715.4 303.1 714.2 303.6 713.7 304.2 715.1 304.7 713.7 305.3 715.8 305.8 713.1 306.4 713.8 306.9 713.7 307.5 712.1 308.0 712.9 308.6 713.0 309.1 712.7 309.7 712.7 310.2 711.3 310.8 711.6 311.3 711.2 311.9 710.7 312.4 710.2 313.0 708.9 313.5 710.3 314.1 707.8 314.6 710.6 315.2 711.7 315.7 710.4 316.3 712.1 316.8 708.5 317.4 709.2 317.9 712.6 318.5 711.1 319.0 710.8 319.6 712.5 320.1 709.7 320.7 711.7 321.2 713.9 321.8 712.9 322.3 712.3 322.9 712.8 323.4 712.3 324.0 711.8 324.5 710.8 325.1 711.3 325.6 712.8 326.2 711.7 326.7 711.5 327.3 711.9 327.8 712.4 328.4 711.1 328.9 712.8 329.5 710.3 330.0 710.8 330.6 713.6 331.1 712.8 331.7 711.8 332.2 712.2 332.8 711.2 333.3 708.5 333.9 709.8 334.4 710.2 335.0 711.2 335.5 708.8 336.1 710.5 336.6 709.0 337.2 708.9 337.7 708.5 338.3 707.9 338.8 709.2 339.4 708.6 339.9 707.5 340.5 707.3 341.0 709.8 341.6 708.9 342.1 709.1 342.7 709.4 343.2 707.3 343.8 710.9 344.3 711.3 344.9 709.8 345.4 709.5 346.0 708.7 346.5 708.7 347.1 711.0 347.6 709.0 348.2 709.0 348.7 708.5 349.3 709.5 349.8 707.9 350.4 709.2 350.9 709.1 351.5 708.7 352.0 710.5 352.6 709.4 353.1 710.1 353.7 709.9 354.2 713.6 354.8 710.8 355.3 713.2 355.9 713.6 356.4 712.7 357.0 712.7 357.5 712.7 358.1 713.5 358.6 712.9 359.2 713.4 359.7 713.7 360.3 710.6 360.8 711.8 361.4 713.5 361.9 711.4 362.5 710.4 363.0 709.0 363.6 708.7 364.1 711.5 364.7 710.3 365.2 709.9 365.8 710.7 366.3 711.1 366.9 710.1 367.4 712.0 368.0 710.1 368.5 711.6 369.1 710.7 369.6 711.2 370.2 712.9 370.7 712.5 371.3 713.8 371.8 713.0 372.4 710.9 372.9 712.7 373.5 712.8 374.0 713.2 374.6 711.3 375.1 711.2 375.7 711.5 376.2 711.6 376.8 709.0 377.3 711.4 377.9 710.5 378.4 713.3 379.0 709.8 379.5 710.7 380.1 713.1 380.6 713.2 381.2 710.7 381.7 713.9 382.3 710.7 382.8 708.6 383.4 710.8 383.9 712.6 384.5 710.4 385.0 711.4 385.6 709.2 386.1 709.9 386.7 710.6 387.2 710.5 387.8 709.3 388.3 708.7 388.9 707.3 389.4 708.1 390.0 708.3 390.5 708.3 391.1 708.0 391.6 708.0 392.2 709.9 392.7 709.0 393.3 708.6 393.8 706.0 394.4 710.3 394.9 708.2 395.5 708.0 396.0 705.2 396.6 704.8 397.1 704.3 397.7 704.9 398.2 706.0 398.8 706.6 399.3 706.7 399.9 706.5 400.4 708.9 401.0 708.6 401.5 709.2 402.1 707.8 402.6 706.6 403.2 705.1 403.7 703.9 404.3 703.9 404.8 702.3 405.4 703.9 405.9 701.8 406.5 700.7 407.0 701.5 407.6 701.7 408.1 701.1 408.7 700.8 409.2 700.9 409.8 700.9 410.3 702.5 410.9 700.4 411.4 701.4 412.0 701.4 412.5 700.5 413.1 698.2 413.6 700.9 414.2 699.0 414.7 699.9 415.3 699.2 415.8 700.3 416.4 699.0 416.9 700.4 417.5 697.1 418.0 698.2 418.6 697.6 419.1 699.0 419.7 699.5 420.2 701.4 420.8 700.9 421.3 701.2 421.9 703.6 422.4 703.2 423.0 704.5" stroke="#00ff00" stroke-width="1.45" fill="none" stroke-linejoin="round"/>
<path d="M66.0 707.6 66.5 707.0 67.1 706.0 67.6 704.4 68.2 703.2 68.7 703.8 69.3 705.3 69.8 703.5 70.4 703.4 70.9 704.0 71.5 704.6 72.0 704.4 72.6 704.5 73.1 703.0 73.7 704.8 74.2 706.5 74.8 703.7 75.3 706.9 75.9 704.8 76.4 704.2 77.0 703.1 77.5 704.2 78.1 704.9 78.6 703.9 79.2 704.1 79.7 703.7 80.3 705.3 80.8 705.3 81.4 705.7 81.9 706.7 82.5 706.5 83.0 706.3 83.6 707.2 84.1 710.9 84.7 710.0 85.2 711.4 85.8 711.3 86.3 708.3 86.9 712.1 87.4 712.4 88.0 709.6 88.5 710.2 89.1 712.6 89.6 708.8 90.2 710.1 90.7 711.1 91.3 710.7 91.8 708.9 92.4 711.2 92.9 710.3 93.5 708.7 94.0 710.3 94.6 709.2 95.1 710.9 95.7 709.6 96.2 710.9 96.8 710.4 97.3 710.9 97.9 711.5 98.4 709.3 99.0 711.2 99.5 711.0 100.1 710.0 100.6 710.7 101.2 710.4 101.7 711.0 102.3 711.3 102.8 710.5 103.4 711.9 103.9 711.1 104.5 712.0 105.0 713.3 105.6 709.4 106.1 713.4 106.7 713.2 107.2 710.4 107.8 709.1 108.3 707.7 108.9 710.4 109.4 709.0 110.0 706.5 110.5 706.2 111.1 705.3 111.6 703.1 112.2 701.1 112.7 699.8 113.3 698.1 113.8 697.5 114.4 699.3 114.9 699.0 115.5 696.9 116.0 695.9 116.6 697.6 117.1 701.2 117.7 699.8 118.2 699.9 118.8 696.8 119.3 699.3 119.9 699.7 120.4 699.2 121.0 700.2 121.5 702.0 122.1 705.1 122.6 703.1 123.2 703.3 123.7 706.3 124.3 706.5 124.8 705.8 125.4 706.2 125.9 707.1 126.5 706.6 127.0 710.4 127.6 710.9 128.1 710.1 128.7 709.7 129.2 710.6 129.8 709.4 130.3 711.0 130.9 711.1 131.4 709.8 132.0 715.7 132.5 713.9 133.1 714.3 133.6 716.4 134.2 715.4 134.7 715.0 135.3 711.8 135.8 712.7 136.4 713.4 136.9 711.9 137.5 713.8 138.0 714.2 138.6 717.8 139.1 715.9 139.7 718.7 140.2 719.1 140.8 719.6 141.3 720.5 141.9 722.6 142.4 721.2 143.0 723.0 143.6 720.3 144.1 719.9 144.7 719.7 145.2 718.4 145.8 719.7 146.3 718.1 146.9 718.3 147.4 718.9 148.0 717.9 148.5 717.5 149.1 715.4 149.6 715.2 150.2 714.7 150.7 714.3 151.3 713.3 151.8 711.1 152.4 712.1 152.9 711.8 153.5 711.8 154.0 712.0 154.6 706.5 155.1 707.5 155.7 707.6 156.2 708.8 156.8 707.7 157.3 706.0 157.9 708.0 158.4 706.3 159.0 706.4 159.5 705.3 160.1 707.6 160.6 704.5 161.2 702.9 161.7 703.9 162.3 703.4 162.8 702.5 163.4 703.9 163.9 705.3 164.5 705.0 165.0 706.4 165.6 703.6 166.1 705.5 166.7 705.7 167.2 706.9 167.8 707.1 168.3 708.7 168.9 707.2 169.4 707.6 170.0 710.7 170.5 708.8 171.1 710.6 171.6 711.8 172.2 709.0 172.7 709.2 173.3 708.0 173.8 709.5 174.4 708.6 174.9 707.1 175.5 708.4 176.0 706.0 176.6 707.2 177.1 707.7 177.7 703.4 178.2 704.2 178.8 703.5 179.3 702.7 179.9 704.1 180.4 704.4 181.0 706.2 181.5 702.8 182.1 700.3 182.6 701.4 183.2 701.5 183.7 701.2 184.3 702.3 184.8 703.0 185.4 701.5 185.9 699.1 186.5 702.1 187.0 701.8 187.6 701.9 188.1 698.1 188.7 697.4 189.2 699.0 189.8 701.1 190.3 697.4 190.9 699.5 191.4 702.5 192.0 701.2 192.5 702.9 193.1 702.9 193.6 705.5 194.2 704.1 194.7 705.8 195.3 706.0 195.8 705.2 196.4 705.5 196.9 704.5 197.5 707.4 198.0 708.0 198.6 707.8 199.1 709.1 199.7 707.0 200.2 709.1 200.8 709.2 201.3 706.9 201.9 707.9 202.4 711.1 203.0 710.4 203.5 712.0 204.1 710.7 204.6 711.0 205.2 711.2 205.7 708.7 206.3 708.2 206.8 708.4 207.4 709.4 207.9 709.1 208.5 707.2 209.0 707.2 209.6 707.0 210.1 705.6 210.7 703.0 211.2 702.0 211.8 700.6 212.3 702.3 212.9 699.9 213.4 700.2 214.0 697.8 214.5 697.6 215.1 698.0 215.6 695.4 216.2 691.8 216.7 693.3 217.3 692.1 217.8 692.7 218.4 691.6 218.9 693.0 219.5 692.7 220.0 693.0 220.6 694.1 221.1 697.8 221.7 699.3 222.2 699.1 222.8 700.9 223.3 700.4 223.9 703.7 224.4 701.5 225.0 701.5 225.5 701.2 226.1 700.1 226.6 698.1 227.2 700.6 227.7 700.2 228.3 696.3 228.8 700.8 229.4 698.3 229.9 697.7 230.5 695.9 231.0 697.1 231.6 694.9 232.1 695.7 232.7 695.7 233.2 694.0 233.8 694.1 234.3 694.5 234.9 696.9 235.4 700.9 236.0 704.6 236.5 706.4 237.1 707.9 237.6 711.5 238.2 712.9 238.7 715.4 239.3 715.0 239.8 718.1 240.4 718.3 240.9 718.5 241.5 722.5 242.0 721.3 242.6 722.5 243.1 723.3 243.7 723.5 244.2 722.2 244.8 725.3 245.3 726.1 245.9 726.6 246.4 728.9 247.0 728.2 247.5 728.1 248.1 729.4 248.6 726.6 249.2 729.7 249.7 729.7 250.3 729.9 250.8 726.5 251.4 727.1 251.9 725.0 252.5 725.5 253.0 726.3 253.6 723.9 254.1 720.0 254.7 723.0 255.2 719.0 255.8 717.5 256.3 717.8 256.9 716.3 257.4 718.2 258.0 713.2 258.5 714.6 259.1 714.0 259.6 711.6 260.2 713.5 260.7 711.8 261.3 708.1 261.8 707.8 262.4 705.8 262.9 706.4 263.5 707.5 264.0 706.8 264.6 705.1 265.1 702.9 265.7 704.0 266.2 703.1 266.8 703.6 267.3 701.8 267.9 704.1 268.4 702.1 269.0 701.6 269.5 700.9 270.1 700.6 270.6 701.2 271.2 700.2 271.7 699.3 272.3 698.9 272.8 698.7 273.4 698.7 273.9 697.6 274.5 696.3 275.0 695.5 275.6 695.1 276.1 694.9 276.7 694.5 277.2 695.9 277.8 696.9 278.3 698.1 278.9 698.7 279.4 700.0 280.0 702.4 280.5 700.5 281.1 700.3 281.6 702.6 282.2 704.5 282.7 703.4 283.3 704.7 283.8 704.5 284.4 706.1 284.9 705.1 285.5 705.7 286.0 704.5 286.6 704.9 287.1 707.6 287.7 706.6 288.2 708.6 288.8 710.7 289.3 708.2 289.9 707.9 290.4 707.6 291.0 712.0 291.5 711.1 292.1 712.1 292.6 712.8 293.2 712.8 293.7 713.5 294.3 714.0 294.8 713.7 295.4 713.5 295.9 711.9 296.5 713.1 297.0 712.3 297.6 713.1 298.1 714.0 298.7 710.9 299.2 712.0 299.8 713.9 300.3 715.2 300.9 714.5 301.4 714.4 302.0 713.4 302.5 712.2 303.1 713.6 303.6 714.1 304.2 713.9 304.7 714.4 305.3 715.2 305.8 717.0 306.4 713.4 306.9 716.6 307.5 713.4 308.0 714.6 308.6 715.2 309.1 712.0 309.7 714.1 310.2 713.5 310.8 713.2 311.3 712.2 311.9 713.3 312.4 712.3 313.0 713.5 313.5 709.3 314.1 710.5 314.6 710.3 315.2 710.5 315.7 710.4 316.3 711.0 316.8 709.4 317.4 711.1 317.9 710.0 318.5 709.5 319.0 708.0 319.6 708.3 320.1 707.6 320.7 705.3 321.2 705.2 321.8 703.2 322.3 701.6 322.9 702.8 323.4 700.7 324.0 702.8 324.5 702.0 325.1 702.1 325.6 704.3 326.2 703.0 326.7 702.5 327.3 701.5 327.8 702.8 328.4 701.6 328.9 705.3 329.5 701.2 330.0 700.2 330.6 700.9 331.1 702.2 331.7 701.0 332.2 701.1 332.8 699.2 333.3 700.3 333.9 701.0 334.4 698.8 335.0 698.9 335.5 702.6 336.1 700.6 336.6 700.0 337.2 700.6 337.7 700.4 338.3 700.3 338.8 701.5 339.4 699.4 339.9 698.6 340.5 699.5 341.0 699.7 341.6 699.3 342.1 700.2 342.7 701.8 343.2 702.7 343.8 703.3 344.3 701.6 344.9 700.7 345.4 701.4 346.0 701.3 346.5 701.5 347.1 699.8 347.6 701.9 348.2 704.0 348.7 702.5 349.3 703.2 349.8 702.5 350.4 705.2 350.9 704.1 351.5 701.7 352.0 704.4 352.6 704.5 353.1 704.8 353.7 703.6 354.2 704.9 354.8 706.6 355.3 706.9 355.9 706.1 356.4 708.0 357.0 708.2 357.5 707.6 358.1 705.8 358.6 703.7 359.2 706.7 359.7 706.1 360.3 704.1 360.8 703.8 361.4 704.5 361.9 702.8 362.5 703.9 363.0 702.1 363.6 700.3 364.1 703.5 364.7 703.8 365.2 703.9 365.8 704.6 366.3 705.1 366.9 704.0 367.4 705.3 368.0 706.7 368.5 704.9 369.1 707.3 369.6 706.1 370.2 708.7 370.7 706.4 371.3 707.4 371.8 707.2 372.4 706.7 372.9 708.3 373.5 708.3 374.0 708.1 374.6 708.7 375.1 710.6 375.7 709.8 376.2 709.8 376.8 710.1 377.3 710.9 377.9 712.2 378.4 710.9 379.0 708.4 379.5 710.1 380.1 708.4 380.6 711.4 381.2 709.5 381.7 709.6 382.3 709.9 382.8 710.0 383.4 707.6 383.9 708.3 384.5 708.8 385.0 706.2 385.6 705.8 386.1 707.8 386.7 707.6 387.2 707.1 387.8 706.5 388.3 705.9 388.9 708.6 389.4 706.4 390.0 708.8 390.5 707.5 391.1 706.9 391.6 708.8 392.2 708.7 392.7 707.0 393.3 705.2 393.8 705.6 394.4 703.7 394.9 704.5 395.5 703.2 396.0 700.8 396.6 700.3 397.1 701.1 397.7 701.5 398.2 700.8 398.8 702.4 399.3 701.3 399.9 701.4 400.4 699.4 401.0 700.8 401.5 701.3 402.1 698.3 402.6 698.9 403.2 694.7 403.7 691.4 404.3 694.4 404.8 692.9 405.4 693.5 405.9 695.0 406.5 694.2 407.0 694.8 407.6 695.2 408.1 697.0 408.7 697.5 409.2 698.0 409.8 698.3 410.3 696.4 410.9 698.8 411.4 699.8 412.0 699.9 412.5 700.2 413.1 698.1 413.6 697.4 414.2 693.8 414.7 692.4 415.3 691.0 415.8 693.8 416.4 694.9 416.9 694.5 417.5 698.1 418.0 699.2 418.6 698.0 419.1 700.9 419.7 699.2 420.2 700.2 420.8 700.0 421.3 700.5 421.9 700.5 422.4 703.9 423.0 701.9" stroke="#ff0000" stroke-width="1.45" fill="none" stroke-linejoin="round"/>
<path d="M66.0 769.3 67.0 768.7 68.0 768.9 69.0 768.7 70.0 768.3 71.0 768.4 72.0 768.3 73.0 768.0 74.0 767.9 75.0 767.4 76.0 767.2 77.0 766.8 78.0 766.5 79.0 766.2 80.0 766.0 81.0 765.9 82.0 765.5 83.0 765.2 84.0 765.1 85.0 764.7 86.0 764.9 87.0 764.6 88.0 764.8 89.0 765.3 90.0 765.5 91.0 765.8 92.0 766.0 93.0 766.4 94.0 766.4 95.0 766.6 96.0 766.6 97.0 766.6 98.0 766.4 99.0 766.6 100.0 766.6 101.0 766.6 102.0 766.3 103.0 766.4 104.0 766.0 105.0 766.0 106.0 766.0 107.0 766.2 108.0 766.1 109.0 766.1 110.0 765.9 111.0 765.8 112.0 765.6 113.0 765.4 114.0 765.1 115.0 764.8 116.0 764.6 117.0 764.6 118.0 764.4 119.0 764.1 120.0 763.9 121.0 764.4 122.0 764.0 123.0 763.7 124.0 763.6 125.0 763.8 126.0 763.5 127.0 763.2 128.0 763.2 129.0 762.7 130.0 762.2 131.0 762.5 132.0 762.3 133.0 762.0 134.0 761.7 135.0 761.1 136.0 761.6 137.0 762.0 138.0 762.7 139.0 762.9 140.0 763.2 141.0 763.6 142.0 764.2 143.0 764.4 144.0 764.7 145.0 764.5 146.0 764.8 147.0 765.1 148.0 765.1 149.0 765.3 150.0 765.5 151.0 765.8 152.0 765.9 153.0 765.7 154.0 765.3 155.0 765.3 156.0 765.3 157.0 765.1 158.0 764.8 159.0 764.5 160.0 764.4 161.0 764.2 162.0 764.1 163.0 763.8 164.0 763.7 165.0 763.7 166.0 763.5 167.0 763.3 168.0 763.3 169.0 763.6 170.0 763.4 171.0 763.3 172.0 763.6 173.0 763.7 174.0 763.7 175.0 763.9 176.0 763.8 177.0 763.9 178.0 763.4 179.0 763.2 180.0 763.0 181.0 762.8 182.0 762.4 183.0 762.4 184.0 762.0 185.0 761.9 186.0 762.0 187.0 761.9 188.0 761.9 189.0 761.7 190.0 761.6 191.0 761.4 192.0 761.7 193.0 761.8 194.0 762.2 195.0 762.2 196.0 762.7 197.0 762.8 198.0 763.1 199.0 763.3 200.0 763.5 201.0 763.7 202.0 763.6 203.0 763.7 204.0 763.9 205.0 764.0 206.0 764.2 207.0 764.4 208.0 764.5 209.0 764.6 210.0 764.8 211.0 765.0 212.0 765.3 213.0 765.5 214.0 765.5 215.0 766.0 216.0 766.5 217.0 767.0 218.0 767.3 219.0 767.6 220.0 768.3 221.0 769.3 222.0 769.8 223.0 770.8 224.0 771.1 225.0 771.3 226.0 772.0 227.0 772.3 228.0 772.5 229.0 772.7 230.0 772.7 231.0 772.8 232.0 772.7 233.0 772.8 234.0 773.0 235.0 773.1 236.0 773.1 237.0 773.2 238.0 773.7 239.0 773.6 240.0 773.8 241.0 774.1 242.0 774.1 243.0 774.5 244.0 774.5 245.0 774.9 246.0 775.6 247.0 776.5 248.0 776.8 249.0 777.6 250.0 778.1 251.0 779.1 252.0 779.2 253.0 779.8 254.0 779.8 255.0 780.0 256.0 780.3 257.0 780.4 258.0 780.7 259.0 780.8 260.0 780.9 261.0 781.1 262.0 781.1 263.0 781.1 264.0 781.2 265.0 781.3 266.0 781.2 267.0 781.5 268.0 781.4 269.0 781.4 270.0 781.4 271.0 781.5 272.0 781.2 273.0 781.1 274.0 781.1 275.0 781.1 276.0 780.8 277.0 780.9 278.0 780.9 279.0 780.9 280.0 781.3 281.0 781.4 282.0 781.7 283.0 781.6 284.0 781.9 285.0 782.1 286.0 782.3 287.0 782.5 288.0 782.6 289.0 783.2 290.0 783.4 291.0 783.5 292.0 783.9 293.0 784.0 294.0 784.3 295.0 784.8 296.0 785.0 297.0 785.3 298.0 785.5 299.0 785.8 300.0 786.5 301.0 786.3 302.0 786.6 303.0 786.9 304.0 786.5 305.0 786.2 306.0 786.7 307.0 786.6 308.0 786.7 309.0 786.5 310.0 786.3 311.0 786.3 312.0 786.1 313.0 786.0 314.0 785.9 315.0 785.8 316.0 785.8 317.0 785.9 318.0 786.0 319.0 786.2 320.0 786.4 321.0 786.5 322.0 786.7 323.0 786.8 324.0 786.9 325.0 787.1 326.0 787.4 327.0 787.7 328.0 787.7 329.0 787.8 330.0 788.0 331.0 788.1 332.0 788.0 333.0 788.0 334.0 787.6 335.0 787.4 336.0 787.0 337.0 786.6 338.0 786.5 339.0 786.0 340.0 785.7 341.0 785.3 342.0 785.0 343.0 784.7 344.0 784.1 345.0 783.9 346.0 783.4 347.0 783.3 348.0 782.9 349.0 782.5 350.0 782.3 351.0 781.9 352.0 781.6 353.0 781.3 354.0 780.8 355.0 780.5 356.0 780.3 357.0 779.9 358.0 779.7 359.0 779.4 360.0 778.9 361.0 778.2 362.0 777.3 363.0 776.6 364.0 775.7 365.0 774.8 366.0 774.4 367.0 773.9 368.0 773.7 369.0 773.5 370.0 773.1 371.0 772.7 372.0 772.4 373.0 772.3 374.0 772.0 375.0 771.7 376.0 771.3 377.0 771.2 378.0 771.0 379.0 770.4 380.0 770.5 381.0 770.2 382.0 770.2 383.0 769.8 384.0 769.3 385.0 769.3 386.0 768.9 387.0 768.3 388.0 768.2 389.0 768.1 390.0 767.7 391.0 767.2 392.0 766.7 393.0 766.5 394.0 765.9 395.0 765.4 396.0 765.0 397.0 764.5 398.0 764.0 399.0 763.3 400.0 762.7 401.0 762.1 402.0 761.5 403.0 760.9 404.0 760.2 405.0 759.5 406.0 760.2 407.0 760.6 408.0 761.1 409.0 761.5 410.0 760.9 411.0 760.7 412.0 760.5 413.0 760.8 414.0 761.2 415.0 761.8 416.0 762.2 417.0 761.5 418.0 760.2 419.0 759.1 420.0 758.5 421.0 758.5 422.0 759.2 423.0 759.3" stroke="#202020" stroke-width="0.9" fill="none"/>
<path d="M66.0 902.1 67.0 901.9 68.0 902.0 69.0 902.1 70.0 902.4 71.0 902.4 72.0 902.6 73.0 902.5 74.0 902.6 75.0 902.9 76.0 903.0 77.0 903.3 78.0 903.3 79.0 903.7 80.0 903.7 81.0 904.0 82.0 904.0 83.0 904.3 84.0 904.2 85.0 904.2 86.0 904.0 87.0 903.7 88.0 903.4 89.0 903.5 90.0 903.3 91.0 902.9 92.0 903.0 93.0 902.9 94.0 902.7 95.0 902.8 96.0 902.3 97.0 902.6 98.0 902.6 99.0 902.4 100.0 902.7 101.0 902.5 102.0 902.6 103.0 902.7 104.0 902.9 105.0 903.0 106.0 902.6 107.0 902.5 108.0 902.5 109.0 902.5 110.0 902.5 111.0 902.6 112.0 902.2 113.0 902.5 114.0 902.5 115.0 902.5 116.0 902.3 117.0 902.6 118.0 902.9 119.0 902.9 120.0 903.0 121.0 903.2 122.0 903.4 123.0 903.5 124.0 903.6 125.0 903.9 126.0 904.2 127.0 904.1 128.0 904.1 129.0 904.3 130.0 904.2 131.0 904.1 132.0 904.1 133.0 904.2 134.0 904.1 135.0 904.3 136.0 904.2 137.0 903.9 138.0 903.7 139.0 903.6 140.0 903.8 141.0 903.4 142.0 903.3 143.0 903.5 144.0 903.9 145.0 904.1 146.0 904.2 147.0 904.4 148.0 904.9 149.0 904.6 150.0 904.8 151.0 904.4 152.0 904.0 153.0 903.8 154.0 903.8 155.0 904.2 156.0 904.2 157.0 904.6 158.0 904.8 159.0 905.2 160.0 905.4 161.0 905.5 162.0 906.1 163.0 906.0 164.0 906.5 165.0 906.7 166.0 906.6 167.0 906.6 168.0 906.4 169.0 906.4 170.0 906.0 171.0 905.8 172.0 906.0 173.0 906.0 174.0 905.6 175.0 905.7 176.0 905.3 177.0 905.5 178.0 905.6 179.0 905.7 180.0 905.9 181.0 905.6 182.0 905.7 183.0 905.9 184.0 905.8 185.0 906.0 186.0 906.5 187.0 906.1 188.0 905.9 189.0 906.3 190.0 906.1 191.0 906.3 192.0 906.2 193.0 906.3 194.0 906.2 195.0 906.5 196.0 906.3 197.0 906.1 198.0 906.1 199.0 905.9 200.0 905.9 201.0 905.3 202.0 905.4 203.0 905.3 204.0 905.0 205.0 905.3 206.0 905.6 207.0 905.7 208.0 905.8 209.0 906.2 210.0 906.3 211.0 906.5 212.0 906.9 213.0 907.2 214.0 907.2 215.0 907.4 216.0 907.7 217.0 907.8 218.0 907.5 219.0 906.9 220.0 906.4 221.0 905.8 222.0 905.3 223.0 904.4 224.0 904.2 225.0 903.7 226.0 903.2 227.0 902.7 228.0 902.2 229.0 901.4 230.0 901.0 231.0 900.6 232.0 900.0 233.0 899.7 234.0 900.0 235.0 900.1 236.0 900.3 237.0 900.5 238.0 900.7 239.0 900.3 240.0 899.9 241.0 899.4 242.0 899.3 243.0 898.8 244.0 898.5 245.0 898.7 246.0 899.0 247.0 898.8 248.0 898.8 249.0 898.8 250.0 898.9 251.0 899.4 252.0 899.3 253.0 899.1 254.0 899.3 255.0 899.3 256.0 899.0 257.0 899.1 258.0 899.2 259.0 899.3 260.0 899.3 261.0 899.7 262.0 900.0 263.0 899.8 264.0 900.3 265.0 900.5 266.0 900.6 267.0 900.5 268.0 899.8 269.0 899.5 270.0 899.1 271.0 898.7 272.0 898.1 273.0 898.5 274.0 898.7 275.0 899.6 276.0 899.8 277.0 899.1 278.0 898.4 279.0 897.5 280.0 897.1 281.0 897.1 282.0 896.8 283.0 896.9 284.0 896.5 285.0 896.5 286.0 896.3 287.0 896.0 288.0 896.0 289.0 896.0 290.0 895.4 291.0 895.5 292.0 895.3 293.0 895.3 294.0 895.1 295.0 895.0 296.0 895.0 297.0 894.8 298.0 894.8 299.0 894.8 300.0 894.9 301.0 894.7 302.0 894.6 303.0 894.7 304.0 894.8 305.0 895.3 306.0 895.2 307.0 895.3 308.0 895.4 309.0 895.5 310.0 895.6 311.0 895.6 312.0 895.7 313.0 895.5 314.0 895.6 315.0 895.6 316.0 895.6 317.0 895.6 318.0 895.6 319.0 895.6 320.0 895.7 321.0 895.6 322.0 895.9 323.0 895.9 324.0 895.7 325.0 895.4 326.0 895.3 327.0 895.2 328.0 895.2 329.0 895.5 330.0 895.4 331.0 895.2 332.0 895.2 333.0 895.3 334.0 895.2 335.0 895.3 336.0 895.2 337.0 895.2 338.0 895.3 339.0 895.2 340.0 895.2 341.0 895.0 342.0 895.6 343.0 895.5 344.0 895.3 345.0 895.6 346.0 895.4 347.0 895.2 348.0 895.4 349.0 895.3 350.0 895.7 351.0 895.3 352.0 895.4 353.0 895.6 354.0 895.6 355.0 895.5 356.0 895.6 357.0 895.7 358.0 895.8 359.0 896.2 360.0 896.2 361.0 896.2 362.0 896.7 363.0 896.8 364.0 896.8 365.0 897.2 366.0 897.4 367.0 897.9 368.0 898.1 369.0 898.2 370.0 898.5 371.0 898.8 372.0 898.9 373.0 899.5 374.0 899.5 375.0 899.8 376.0 900.3 377.0 900.3 378.0 900.9 379.0 901.3 380.0 901.4 381.0 901.9 382.0 902.4 383.0 902.3 384.0 902.9 385.0 903.1 386.0 903.5 387.0 903.8 388.0 904.4 389.0 904.6 390.0 904.7 391.0 905.3 392.0 905.4 393.0 905.9 394.0 906.1 395.0 906.5 396.0 907.2 397.0 907.2 398.0 907.4 399.0 908.0 400.0 908.2 401.0 908.6 402.0 908.7 403.0 909.1 404.0 909.7 405.0 910.0 406.0 909.6 407.0 909.2 408.0 908.8 409.0 908.5 410.0 908.2 411.0 908.0 412.0 907.8 413.0 907.2 414.0 907.4 415.0 906.8 416.0 906.8 417.0 906.6 418.0 906.1 419.0 906.1 420.0 905.8 421.0 905.6 422.0 905.1 423.0 905.1" stroke="#2020ff" stroke-width="0.95" fill="none"/>
<path d="M66.0 863.0 67.0 863.0 68.0 863.0 69.0 862.6 70.0 862.5 71.0 862.3 72.0 862.3 73.0 862.0 74.0 862.0 75.0 861.7 76.0 861.4 77.0 861.2 78.0 861.2 79.0 860.8 80.0 860.6 81.0 860.3 82.0 860.3 83.0 860.2 84.0 860.2 85.0 860.5 86.0 860.4 87.0 860.7 88.0 860.7 89.0 861.0 90.0 861.1 91.0 861.9 92.0 861.5 93.0 861.7 94.0 861.8 95.0 861.8 96.0 861.7 97.0 861.5 98.0 861.4 99.0 861.4 100.0 861.3 101.0 861.3 102.0 861.2 103.0 861.4 104.0 861.0 105.0 860.8 106.0 860.8 107.0 861.0 108.0 860.5 109.0 860.5 110.0 860.3 111.0 860.3 112.0 860.0 113.0 859.8 114.0 859.6 115.0 859.4 116.0 859.0 117.0 858.9 118.0 858.5 119.0 858.4 120.0 858.3 121.0 858.5 122.0 858.5 123.0 858.7 124.0 858.5 125.0 858.6 126.0 858.6 127.0 858.9 128.0 858.7 129.0 858.7 130.0 858.7 131.0 858.4 132.0 858.4 133.0 858.1 134.0 858.0 135.0 858.0 136.0 857.5 137.0 857.4 138.0 857.7 139.0 858.1 140.0 858.4 141.0 858.8 142.0 859.0 143.0 859.3 144.0 859.4 145.0 859.0 146.0 859.0 147.0 859.0 148.0 858.9 149.0 858.9 150.0 858.7 151.0 858.6 152.0 858.6 153.0 858.6 154.0 858.6 155.0 858.5 156.0 858.5 157.0 858.3 158.0 858.4 159.0 858.4 160.0 858.4 161.0 858.2 162.0 858.1 163.0 857.8 164.0 858.1 165.0 858.0 166.0 858.1 167.0 858.2 168.0 858.1 169.0 857.8 170.0 857.9 171.0 857.6 172.0 857.5 173.0 857.5 174.0 857.2 175.0 857.3 176.0 857.1 177.0 857.0 178.0 856.9 179.0 856.8 180.0 856.4 181.0 856.2 182.0 855.9 183.0 856.3 184.0 856.5 185.0 856.5 186.0 856.7 187.0 856.4 188.0 857.0 189.0 856.5 190.0 856.6 191.0 856.8 192.0 856.7 193.0 856.7 194.0 857.0 195.0 857.0 196.0 856.9 197.0 857.1 198.0 857.0 199.0 857.2 200.0 857.3 201.0 857.3 202.0 857.4 203.0 857.5 204.0 857.4 205.0 857.6 206.0 857.5 207.0 857.9 208.0 857.6 209.0 857.8 210.0 857.9 211.0 858.0 212.0 857.9 213.0 857.8 214.0 858.4 215.0 858.5 216.0 858.6 217.0 858.8 218.0 859.1 219.0 859.3 220.0 859.5 221.0 859.7 222.0 860.1 223.0 860.7 224.0 860.6 225.0 861.1 226.0 861.4 227.0 861.2 228.0 861.4 229.0 861.0 230.0 861.2 231.0 861.3 232.0 861.2 233.0 861.5 234.0 862.0 235.0 862.1 236.0 862.7 237.0 863.1 238.0 863.5 239.0 863.5 240.0 863.5 241.0 863.3 242.0 863.3 243.0 863.3 244.0 863.0 245.0 863.3 246.0 863.4 247.0 864.0 248.0 864.0 249.0 864.5 250.0 864.3 251.0 865.0 252.0 865.2 253.0 864.9 254.0 865.2 255.0 865.0 256.0 865.1 257.0 865.3 258.0 865.3 259.0 865.2 260.0 865.5 261.0 865.5 262.0 865.3 263.0 865.4 264.0 865.4 265.0 865.6 266.0 865.5 267.0 865.5 268.0 865.3 269.0 865.1 270.0 864.8 271.0 864.8 272.0 864.5 273.0 864.3 274.0 864.2 275.0 864.4 276.0 864.4 277.0 864.5 278.0 864.5 279.0 864.6 280.0 864.9 281.0 864.8 282.0 865.1 283.0 865.0 284.0 864.9 285.0 864.9 286.0 864.6 287.0 865.1 288.0 865.2 289.0 865.0 290.0 864.9 291.0 865.3 292.0 865.1 293.0 865.0 294.0 865.1 295.0 865.2 296.0 865.4 297.0 865.3 298.0 865.5 299.0 865.8 300.0 865.7 301.0 865.6 302.0 865.5 303.0 865.7 304.0 865.6 305.0 865.4 306.0 865.5 307.0 865.6 308.0 865.4 309.0 865.0 310.0 865.3 311.0 865.2 312.0 865.3 313.0 865.1 314.0 865.1 315.0 865.2 316.0 865.1 317.0 864.9 318.0 865.1 319.0 864.9 320.0 865.1 321.0 864.9 322.0 864.7 323.0 864.7 324.0 864.4 325.0 864.3 326.0 864.0 327.0 864.2 328.0 863.8 329.0 863.6 330.0 863.4 331.0 863.2 332.0 862.8 333.0 862.8 334.0 862.4 335.0 862.0 336.0 861.8 337.0 861.4 338.0 861.4 339.0 861.1 340.0 860.9 341.0 860.3 342.0 860.3 343.0 859.9 344.0 859.8 345.0 859.5 346.0 859.2 347.0 858.7 348.0 858.3 349.0 858.0 350.0 857.7 351.0 857.2 352.0 857.1 353.0 856.6 354.0 856.1 355.0 855.9 356.0 855.5 357.0 855.3 358.0 855.1 359.0 854.4 360.0 854.2 361.0 853.7 362.0 853.4 363.0 853.3 364.0 852.6 365.0 852.3 366.0 852.0 367.0 851.8 368.0 851.7 369.0 851.4 370.0 851.4 371.0 851.1 372.0 850.9 373.0 850.6 374.0 850.5 375.0 850.3 376.0 850.4 377.0 850.3 378.0 850.1 379.0 850.1 380.0 850.2 381.0 850.3 382.0 849.9 383.0 850.1 384.0 850.1 385.0 850.1 386.0 849.8 387.0 850.0 388.0 849.8 389.0 849.5 390.0 849.5 391.0 849.6 392.0 849.5 393.0 849.5 394.0 849.0 395.0 849.2 396.0 848.8 397.0 848.8 398.0 848.6 399.0 848.5 400.0 848.3 401.0 848.4 402.0 848.5 403.0 848.0 404.0 848.0 405.0 847.8 406.0 847.8 407.0 847.7 408.0 847.5 409.0 847.4 410.0 846.5 411.0 845.7 412.0 844.8 413.0 844.3 414.0 843.3 415.0 843.1 416.0 842.2 417.0 842.2 418.0 842.2 419.0 842.0 420.0 841.6 421.0 841.7 422.0 841.5 423.0 841.4" stroke="#00e020" stroke-width="0.95" fill="none"/>
<path d="M66.0 838.9 67.0 838.9 68.0 838.5 69.0 838.5 70.0 838.3 71.0 838.5 72.0 838.3 73.0 838.3 74.0 838.0 75.0 838.0 76.0 838.3 77.0 838.1 78.0 838.1 79.0 838.1 80.0 838.2 81.0 838.2 82.0 838.1 83.0 838.2 84.0 838.3 85.0 838.2 86.0 838.0 87.0 837.9 88.0 837.8 89.0 838.0 90.0 837.5 91.0 837.7 92.0 837.7 93.0 838.0 94.0 837.8 95.0 837.9 96.0 837.9 97.0 838.1 98.0 837.8 99.0 838.1 100.0 838.0 101.0 838.1 102.0 838.1 103.0 837.8 104.0 837.5 105.0 837.6 106.0 837.3 107.0 837.3 108.0 837.1 109.0 836.8 110.0 837.0 111.0 836.8 112.0 836.2 113.0 836.5 114.0 836.1 115.0 836.1 116.0 836.2 117.0 836.0 118.0 836.0 119.0 835.7 120.0 835.6 121.0 835.6 122.0 835.7 123.0 835.9 124.0 835.8 125.0 835.8 126.0 836.4 127.0 836.1 128.0 836.0 129.0 836.0 130.0 836.0 131.0 835.9 132.0 835.7 133.0 835.3 134.0 835.1 135.0 834.8 136.0 835.1 137.0 835.6 138.0 835.9 139.0 836.3 140.0 836.7 141.0 836.9 142.0 837.0 143.0 837.0 144.0 837.8 145.0 838.0 146.0 838.1 147.0 838.4 148.0 838.9 149.0 839.3 150.0 839.3 151.0 839.5 152.0 839.3 153.0 839.4 154.0 839.3 155.0 839.4 156.0 839.4 157.0 839.2 158.0 838.9 159.0 839.2 160.0 839.5 161.0 839.4 162.0 839.7 163.0 839.5 164.0 839.7 165.0 840.0 166.0 839.6 167.0 839.4 168.0 839.4 169.0 839.2 170.0 839.1 171.0 839.0 172.0 838.6 173.0 838.7 174.0 838.6 175.0 838.3 176.0 838.4 177.0 838.5 178.0 838.5 179.0 838.6 180.0 838.2 181.0 838.2 182.0 838.4 183.0 837.9 184.0 838.1 185.0 837.8 186.0 837.8 187.0 837.9 188.0 837.7 189.0 837.7 190.0 837.8 191.0 838.0 192.0 838.1 193.0 838.1 194.0 838.3 195.0 838.4 196.0 838.6 197.0 838.8 198.0 838.8 199.0 838.8 200.0 838.9 201.0 838.7 202.0 838.8 203.0 838.9 204.0 838.9 205.0 838.8 206.0 838.6 207.0 839.1 208.0 839.6 209.0 840.4 210.0 840.6 211.0 841.5 212.0 841.5 213.0 842.1 214.0 842.5 215.0 842.8 216.0 843.1 217.0 843.4 218.0 843.8 219.0 844.3 220.0 844.2 221.0 844.2 222.0 844.2 223.0 843.9 224.0 843.6 225.0 843.7 226.0 843.6 227.0 843.3 228.0 843.4 229.0 843.1 230.0 843.0 231.0 842.8 232.0 842.6 233.0 842.4 234.0 842.3 235.0 842.8 236.0 842.3 237.0 842.3 238.0 842.1 239.0 842.4 240.0 842.3 241.0 841.9 242.0 842.0 243.0 841.9 244.0 841.8 245.0 842.7 246.0 843.4 247.0 844.1 248.0 845.1 249.0 845.4 250.0 846.5 251.0 846.9 252.0 847.4 253.0 847.6 254.0 847.7 255.0 848.0 256.0 848.0 257.0 847.9 258.0 848.2 259.0 848.4 260.0 848.8 261.0 848.9 262.0 849.3 263.0 849.2 264.0 849.1 265.0 849.4 266.0 849.6 267.0 849.7 268.0 849.4 269.0 849.1 270.0 849.0 271.0 848.6 272.0 848.1 273.0 847.8 274.0 847.8 275.0 847.7 276.0 847.6 277.0 847.6 278.0 848.1 279.0 848.2 280.0 848.4 281.0 848.2 282.0 848.4 283.0 848.3 284.0 848.1 285.0 848.0 286.0 848.1 287.0 848.4 288.0 848.4 289.0 848.1 290.0 848.2 291.0 848.5 292.0 848.4 293.0 848.5 294.0 848.9 295.0 849.0 296.0 849.2 297.0 849.7 298.0 850.0 299.0 850.5 300.0 850.7 301.0 850.8 302.0 851.0 303.0 850.7 304.0 850.8 305.0 851.0 306.0 851.1 307.0 851.1 308.0 851.2 309.0 850.9 310.0 851.2 311.0 851.0 312.0 851.2 313.0 851.2 314.0 851.3 315.0 851.6 316.0 851.5 317.0 851.7 318.0 851.9 319.0 852.0 320.0 852.1 321.0 852.2 322.0 852.5 323.0 852.4 324.0 852.7 325.0 852.8 326.0 853.1 327.0 853.3 328.0 853.3 329.0 853.3 330.0 853.7 331.0 853.6 332.0 853.3 333.0 853.3 334.0 852.8 335.0 852.7 336.0 852.7 337.0 852.4 338.0 852.4 339.0 852.4 340.0 852.2 341.0 851.9 342.0 851.6 343.0 851.3 344.0 851.4 345.0 850.9 346.0 850.6 347.0 850.4 348.0 850.3 349.0 850.0 350.0 850.0 351.0 849.8 352.0 849.3 353.0 848.9 354.0 849.0 355.0 848.7 356.0 848.5 357.0 848.5 358.0 847.9 359.0 847.7 360.0 847.5 361.0 847.1 362.0 847.3 363.0 847.0 364.0 846.8 365.0 846.6 366.0 846.4 367.0 846.5 368.0 846.2 369.0 846.1 370.0 846.2 371.0 845.9 372.0 845.8 373.0 845.7 374.0 845.5 375.0 845.5 376.0 845.5 377.0 845.8 378.0 845.7 379.0 845.9 380.0 845.8 381.0 845.8 382.0 845.6 383.0 845.9 384.0 846.0 385.0 846.0 386.0 846.1 387.0 846.1 388.0 846.0 389.0 845.9 390.0 845.8 391.0 845.9 392.0 845.8 393.0 845.8 394.0 845.7 395.0 845.6 396.0 845.5 397.0 845.5 398.0 845.7 399.0 845.6 400.0 845.5 401.0 845.5 402.0 845.4 403.0 845.3 404.0 845.4 405.0 845.1 406.0 845.2 407.0 845.0 408.0 844.9 409.0 845.2 410.0 845.0 411.0 844.6 412.0 844.9 413.0 844.6 414.0 844.7 415.0 844.2 416.0 844.5 417.0 844.3 418.0 844.2 419.0 844.0 420.0 844.1 421.0 844.0 422.0 844.2 423.0 843.8" stroke="#ff2020" stroke-width="0.95" fill="none"/>
<path d="M66.0 953.5 66.8 953.1 67.6 953.1 68.4 953.4 69.2 953.1 70.0 953.5 70.8 953.3 71.6 952.8 72.4 953.3 73.2 953.4 74.0 953.4 74.8 953.6 75.6 953.4 76.4 953.4 77.2 953.2 78.0 953.4 78.8 953.2 79.6 952.9 80.4 952.6 81.2 952.5 82.0 952.4 82.8 952.7 83.6 952.5 84.4 952.5 85.2 951.8 86.0 951.8 86.8 952.0 87.6 951.5 88.4 951.7 89.2 951.7 90.0 951.8 90.8 951.7 91.6 951.3 92.4 951.1 93.2 952.0 94.0 951.4 94.8 950.9 95.6 951.0 96.4 951.2 97.2 951.5 98.0 950.6 98.8 950.9 99.6 950.8 100.4 951.0 101.2 951.1 102.0 950.7 102.8 950.8 103.6 951.0 104.4 950.9 105.2 950.8 106.0 950.7 106.8 950.9 107.6 950.8 108.4 950.0 109.2 949.9 110.0 949.6 110.8 949.1 111.6 948.7 112.4 948.1 113.2 948.7 114.0 948.5 114.8 948.6 115.6 948.3 116.4 948.4 117.2 948.5 118.0 948.7 118.8 948.4 119.6 948.7 120.4 948.4 121.2 948.5 122.0 948.4 122.8 948.5 123.6 948.4 124.4 948.5 125.2 948.7 126.0 948.4 126.8 948.3 127.6 948.4 128.4 948.3 129.2 948.2 130.0 948.4 130.8 947.8 131.6 948.6 132.4 948.2 133.2 948.1 134.0 948.6 134.8 947.8 135.6 948.3 136.4 948.6 137.2 948.8 138.0 949.0 138.8 949.0 139.6 948.6 140.4 949.1 141.2 948.8 142.0 948.8 142.8 949.2 143.6 949.1 144.4 949.7 145.2 949.2 146.0 949.0 146.8 949.0 147.6 949.3 148.4 948.8 149.2 949.3 150.0 949.5 150.8 949.0 151.6 949.6 152.4 949.2 153.2 949.4 154.0 949.3 154.8 949.1 155.6 948.9 156.4 949.2 157.2 949.2 158.0 949.2 158.8 949.3 159.6 948.9 160.4 948.9 161.2 948.8 162.0 948.2 162.8 949.1 163.6 948.5 164.4 948.2 165.2 948.6 166.0 949.2 166.8 948.6 167.6 948.0 168.4 949.1 169.2 948.6 170.0 948.7 170.8 949.2 171.6 948.4 172.4 948.5 173.2 949.1 174.0 948.0 174.8 948.7 175.6 948.7 176.4 948.6 177.2 948.3 178.0 948.4 178.8 947.7 179.6 947.8 180.4 948.5 181.2 947.9 182.0 947.9 182.8 948.0 183.6 948.0 184.4 947.1 185.2 947.8 186.0 947.4 186.8 947.7 187.6 947.6 188.4 947.5 189.2 947.2 190.0 947.4 190.8 947.7 191.6 947.8 192.4 947.9 193.2 948.2 194.0 948.3 194.8 948.1 195.6 948.0 196.4 948.2 197.2 948.5 198.0 948.2 198.8 948.9 199.6 948.5 200.4 948.7 201.2 948.4 202.0 948.4 202.8 947.9 203.6 948.1 204.4 947.8 205.2 947.5 206.0 948.1 206.8 948.0 207.6 948.1 208.4 947.5 209.2 948.2 210.0 948.2 210.8 947.7 211.6 947.3 212.4 948.1 213.2 947.7 214.0 947.8 214.8 948.1 215.6 947.4 216.4 947.9 217.2 948.0 218.0 947.9 218.8 947.7 219.6 948.1 220.4 948.8 221.2 947.7 222.0 947.9 222.8 948.6 223.6 948.5 224.4 948.2 225.2 948.4 226.0 948.4 226.8 948.4 227.6 948.9 228.4 949.0 229.2 949.2 230.0 949.2 230.8 949.7 231.6 949.6 232.4 949.5 233.2 949.2 234.0 949.8 234.8 949.8 235.6 949.7 236.4 949.4 237.2 949.7 238.0 949.0 238.8 949.4 239.6 949.3 240.4 949.9 241.2 949.5 242.0 949.7 242.8 950.0 243.6 949.4 244.4 949.8 245.2 949.6 246.0 949.8 246.8 949.8 247.6 949.9 248.4 949.7 249.2 949.6 250.0 949.9 250.8 949.6 251.6 949.5 252.4 949.7 253.2 949.0 254.0 949.5 254.8 949.4 255.6 948.9 256.4 949.3 257.2 949.1 258.0 949.0 258.8 948.8 259.6 949.0 260.4 949.0 261.2 948.5 262.0 948.5 262.8 948.9 263.6 948.6 264.4 948.5 265.2 948.7 266.0 948.2 266.8 948.2 267.6 948.6 268.4 948.8 269.2 948.5 270.0 948.5 270.8 948.6 271.6 949.3 272.4 949.5 273.2 949.2 274.0 949.5 274.8 949.7 275.6 949.8 276.4 950.2 277.2 950.1 278.0 950.1 278.8 950.1 279.6 950.2 280.4 950.5 281.2 950.8 282.0 950.3 282.8 949.9 283.6 949.8 284.4 950.0 285.2 949.7 286.0 950.0 286.8 949.7 287.6 950.0 288.4 949.9 289.2 949.9 290.0 949.7 290.8 949.5 291.6 949.7 292.4 949.6 293.2 949.4 294.0 949.6 294.8 949.2 295.6 949.1 296.4 949.6 297.2 949.4 298.0 949.4 298.8 949.6 299.6 949.9 300.4 949.9 301.2 949.4 302.0 949.4 302.8 949.5 303.6 949.1 304.4 949.6 305.2 949.4 306.0 949.8 306.8 949.4 307.6 949.6 308.4 949.2 309.2 949.1 310.0 949.2 310.8 949.1 311.6 949.0 312.4 949.4 313.2 948.8 314.0 949.1 314.8 948.8 315.6 948.5 316.4 949.2 317.2 949.8 318.0 949.2 318.8 949.0 319.6 949.8 320.4 949.7 321.2 948.9 322.0 949.3 322.8 949.9 323.6 949.5 324.4 949.0 325.2 948.6 326.0 949.4 326.8 949.0 327.6 949.0 328.4 949.4 329.2 949.3 330.0 949.1 330.8 949.6 331.6 949.0 332.4 949.1 333.2 950.1 334.0 949.4 334.8 949.9 335.6 949.6 336.4 950.0 337.2 949.9 338.0 949.8 338.8 950.2 339.6 949.7 340.4 950.1 341.2 950.6 342.0 950.4 342.8 950.3 343.6 950.4 344.4 950.2 345.2 950.7 346.0 949.8 346.8 950.7 347.6 950.6 348.4 950.3 349.2 949.8 350.0 950.3 350.8 950.4 351.6 950.3 352.4 949.7 353.2 949.9 354.0 949.9 354.8 949.3 355.6 949.5 356.4 949.2 357.2 948.7 358.0 948.5 358.8 948.5 359.6 948.3 360.4 948.2 361.2 948.5 362.0 948.2 362.8 947.7 363.6 947.2 364.4 947.3 365.2 947.4 366.0 947.1 366.8 947.1 367.6 947.4 368.4 946.5 369.2 946.7 370.0 946.9 370.8 947.2 371.6 945.7 372.4 946.1 373.2 946.1 374.0 946.2 374.8 946.2 375.6 945.6 376.4 945.7 377.2 945.5 378.0 946.0 378.8 946.0 379.6 946.4 380.4 946.7 381.2 946.5 382.0 946.2 382.8 946.5 383.6 946.3 384.4 946.2 385.2 946.1 386.0 946.4 386.8 946.4 387.6 946.6 388.4 946.9 389.2 947.1 390.0 945.2 390.8 945.3 391.6 943.3 392.4 945.3 393.2 944.4 394.0 943.7 394.8 943.7 395.6 941.2 396.4 940.6 397.2 938.3 398.0 938.5 398.8 938.3 399.6 938.1 400.4 939.0 401.2 939.5 402.0 938.5 402.8 940.3 403.6 938.6 404.4 940.4 405.2 938.5 406.0 940.3 406.8 940.1 407.6 939.7 408.4 940.3 409.2 942.1 410.0 940.6 410.8 939.7 411.6 941.5 412.4 940.9 413.2 941.5 414.0 941.5 414.8 940.1 415.6 938.8 416.4 940.9 417.2 941.4 418.0 941.2 418.8 944.0 419.6 944.1 420.4 944.7 421.2 946.4 422.0 946.3 422.8 946.5" stroke="#101010" stroke-width="1.15" fill="none"/>
<path d="M66.0 1042.6 66.6 1041.8 67.2 1041.9 67.8 1041.9 68.4 1042.6 69.0 1043.0 69.6 1042.7 70.2 1043.1 70.8 1042.8 71.4 1042.9 72.0 1041.6 72.6 1043.2 73.2 1041.8 73.8 1041.9 74.4 1042.0 75.0 1042.3 75.6 1041.9 76.2 1043.1 76.8 1042.4 77.4 1042.5 78.0 1042.3 78.6 1041.7 79.2 1041.5 79.8 1041.5 80.4 1042.4 81.0 1041.8 81.6 1041.7 82.2 1041.7 82.8 1041.2 83.4 1041.6 84.0 1041.3 84.6 1041.3 85.2 1041.6 85.8 1041.5 86.4 1040.8 87.0 1042.1 87.6 1041.4 88.2 1041.9 88.8 1042.0 89.4 1041.1 90.0 1041.0 90.6 1041.5 91.2 1041.6 91.8 1041.1 92.4 1041.5 93.0 1041.2 93.6 1040.8 94.2 1040.8 94.8 1040.8 95.4 1041.7 96.0 1041.1 96.6 1041.5 97.2 1041.4 97.8 1041.1 98.4 1041.9 99.0 1041.6 99.6 1041.2 100.2 1041.2 100.8 1040.9 101.4 1041.3 102.0 1041.3 102.6 1040.0 103.2 1040.8 103.8 1040.5 104.4 1041.0 105.0 1041.3 105.6 1041.7 106.2 1041.2 106.8 1041.2 107.4 1041.5 108.0 1040.8 108.6 1040.8 109.2 1041.4 109.8 1040.6 110.4 1041.2 111.0 1040.2 111.6 1040.1 112.2 1040.0 112.8 1039.3 113.4 1038.4 114.0 1038.8 114.6 1038.1 115.2 1038.7 115.8 1037.9 116.4 1037.4 117.0 1038.3 117.6 1037.8 118.2 1038.4 118.8 1037.6 119.4 1037.8 120.0 1036.9 120.6 1037.8 121.2 1038.0 121.8 1038.3 122.4 1038.8 123.0 1039.1 123.6 1039.0 124.2 1038.7 124.8 1040.2 125.4 1039.2 126.0 1039.6 126.6 1039.3 127.2 1040.8 127.8 1039.6 128.4 1040.9 129.0 1040.2 129.6 1040.5 130.2 1039.9 130.8 1040.1 131.4 1039.6 132.0 1039.0 132.6 1039.2 133.2 1038.3 133.8 1038.5 134.4 1038.1 135.0 1037.6 135.6 1037.6 136.2 1037.9 136.8 1039.0 137.4 1038.8 138.0 1039.4 138.6 1038.1 139.2 1039.1 139.8 1039.3 140.4 1037.9 141.0 1038.3 141.6 1038.7 142.2 1038.9 142.8 1038.4 143.4 1038.6 144.0 1039.1 144.6 1038.4 145.2 1037.8 145.8 1038.2 146.4 1038.2 147.0 1038.3 147.6 1038.3 148.2 1038.6 148.8 1037.9 149.4 1038.1 150.0 1037.8 150.6 1037.8 151.2 1038.0 151.8 1037.5 152.4 1037.4 153.0 1037.8 153.6 1037.7 154.2 1037.4 154.8 1037.2 155.4 1037.6 156.0 1037.3 156.6 1037.3 157.2 1037.7 157.8 1037.5 158.4 1038.2 159.0 1037.5 159.6 1037.6 160.2 1037.8 160.8 1038.1 161.4 1037.4 162.0 1038.9 162.6 1038.3 163.2 1037.4 163.8 1036.8 164.4 1037.0 165.0 1037.2 165.6 1038.0 166.2 1037.3 166.8 1037.4 167.4 1037.2 168.0 1037.1 168.6 1036.9 169.2 1037.4 169.8 1037.9 170.4 1036.8 171.0 1037.4 171.6 1037.2 172.2 1037.6 172.8 1036.8 173.4 1036.9 174.0 1035.8 174.6 1036.6 175.2 1036.7 175.8 1036.2 176.4 1036.0 177.0 1036.1 177.6 1036.5 178.2 1036.5 178.8 1036.0 179.4 1036.7 180.0 1035.9 180.6 1036.1 181.2 1036.9 181.8 1036.4 182.4 1036.3 183.0 1035.4 183.6 1035.1 184.2 1036.7 184.8 1036.0 185.4 1036.3 186.0 1036.6 186.6 1036.4 187.2 1035.7 187.8 1036.8 188.4 1036.5 189.0 1036.5 189.6 1036.7 190.2 1036.7 190.8 1036.4 191.4 1036.6 192.0 1035.9 192.6 1036.3 193.2 1036.8 193.8 1037.3 194.4 1037.1 195.0 1037.5 195.6 1036.5 196.2 1036.4 196.8 1036.9 197.4 1036.9 198.0 1036.6 198.6 1037.1 199.2 1036.8 199.8 1037.1 200.4 1037.2 201.0 1036.6 201.6 1036.4 202.2 1036.2 202.8 1036.8 203.4 1036.9 204.0 1037.3 204.6 1036.6 205.2 1036.6 205.8 1036.5 206.4 1037.0 207.0 1036.4 207.6 1036.7 208.2 1036.3 208.8 1036.3 209.4 1036.4 210.0 1036.3 210.6 1036.4 211.2 1035.6 211.8 1035.8 212.4 1035.6 213.0 1035.2 213.6 1035.0 214.2 1034.6 214.8 1034.6 215.4 1035.0 216.0 1033.9 216.6 1034.6 217.2 1034.5 217.8 1035.4 218.4 1034.1 219.0 1033.7 219.6 1034.2 220.2 1034.3 220.8 1033.9 221.4 1034.4 222.0 1034.8 222.6 1035.0 223.2 1034.8 223.8 1034.6 224.4 1035.5 225.0 1035.5 225.6 1035.2 226.2 1035.7 226.8 1036.1 227.4 1035.9 228.0 1035.9 228.6 1035.9 229.2 1035.6 229.8 1036.8 230.4 1036.7 231.0 1036.7 231.6 1036.5 232.2 1035.8 232.8 1036.5 233.4 1036.6 234.0 1037.6 234.6 1038.3 235.2 1038.6 235.8 1039.3 236.4 1039.8 237.0 1040.0 237.6 1040.9 238.2 1041.1 238.8 1041.6 239.4 1040.4 240.0 1040.6 240.6 1040.3 241.2 1040.2 241.8 1039.3 242.4 1038.9 243.0 1038.9 243.6 1038.5 244.2 1038.5 244.8 1038.9 245.4 1039.0 246.0 1038.3 246.6 1038.4 247.2 1038.0 247.8 1038.5 248.4 1038.3 249.0 1038.5 249.6 1038.4 250.2 1037.8 250.8 1038.0 251.4 1037.6 252.0 1037.6 252.6 1038.1 253.2 1038.1 253.8 1038.7 254.4 1038.7 255.0 1038.5 255.6 1039.0 256.2 1038.7 256.8 1038.0 257.4 1039.4 258.0 1039.3 258.6 1039.5 259.2 1039.2 259.8 1038.7 260.4 1038.9 261.0 1039.2 261.6 1039.2 262.2 1039.5 262.8 1039.0 263.4 1039.4 264.0 1038.3 264.6 1038.4 265.2 1038.3 265.8 1038.7 266.4 1038.1 267.0 1037.5 267.6 1037.6 268.2 1038.1 268.8 1037.4 269.4 1037.3 270.0 1036.9 270.6 1037.5 271.2 1037.1 271.8 1037.7 272.4 1037.2 273.0 1037.8 273.6 1038.5 274.2 1039.3 274.8 1038.6 275.4 1039.0 276.0 1039.4 276.6 1039.1 277.2 1039.4 277.8 1039.6 278.4 1039.1 279.0 1040.0 279.6 1040.0 280.2 1040.0 280.8 1040.7 281.4 1040.0 282.0 1040.0 282.6 1040.3 283.2 1040.3 283.8 1040.9 284.4 1040.0 285.0 1039.9 285.6 1040.0 286.2 1039.9 286.8 1040.2 287.4 1039.7 288.0 1039.9 288.6 1040.1 289.2 1040.0 289.8 1039.5 290.4 1039.5 291.0 1040.0 291.6 1039.6 292.2 1039.6 292.8 1039.6 293.4 1039.1 294.0 1039.2 294.6 1039.5 295.2 1040.1 295.8 1039.4 296.4 1039.1 297.0 1038.5 297.6 1038.6 298.2 1038.0 298.8 1038.4 299.4 1038.6 300.0 1038.1 300.6 1037.8 301.2 1038.5 301.8 1038.4 302.4 1037.8 303.0 1038.3 303.6 1038.5 304.2 1038.2 304.8 1038.8 305.4 1038.3 306.0 1038.8 306.6 1038.9 307.2 1038.9 307.8 1039.0 308.4 1038.6 309.0 1038.9 309.6 1039.0 310.2 1039.6 310.8 1039.2 311.4 1039.0 312.0 1039.2 312.6 1038.8 313.2 1039.5 313.8 1039.9 314.4 1039.3 315.0 1039.5 315.6 1039.2 316.2 1040.1 316.8 1039.1 317.4 1039.7 318.0 1039.6 318.6 1039.2 319.2 1039.1 319.8 1039.9 320.4 1039.1 321.0 1039.8 321.6 1039.3 322.2 1039.4 322.8 1038.8 323.4 1039.0 324.0 1038.7 324.6 1038.8 325.2 1038.2 325.8 1038.5 326.4 1037.8 327.0 1038.9 327.6 1038.3 328.2 1038.7 328.8 1038.2 329.4 1038.7 330.0 1038.1 330.6 1039.2 331.2 1038.4 331.8 1037.9 332.4 1038.0 333.0 1039.1 333.6 1038.9 334.2 1038.7 334.8 1039.0 335.4 1038.3 336.0 1038.1 336.6 1038.2 337.2 1038.0 337.8 1037.7 338.4 1038.3 339.0 1037.7 339.6 1038.0 340.2 1037.3 340.8 1037.6 341.4 1037.6 342.0 1038.0 342.6 1038.0 343.2 1038.0 343.8 1038.1 344.4 1037.1 345.0 1037.7 345.6 1037.6 346.2 1038.3 346.8 1037.9 347.4 1037.8 348.0 1037.1 348.6 1037.9 349.2 1037.5 349.8 1036.9 350.4 1037.3 351.0 1037.1 351.6 1037.1 352.2 1037.1 352.8 1037.4 353.4 1037.1 354.0 1036.4 354.6 1035.5 355.2 1036.1 355.8 1036.4 356.4 1036.0 357.0 1036.1 357.6 1035.4 358.2 1036.1 358.8 1035.9 359.4 1034.7 360.0 1035.6 360.6 1035.1 361.2 1035.3 361.8 1034.7 362.4 1034.1 363.0 1034.6 363.6 1034.6 364.2 1035.1 364.8 1034.7 365.4 1034.8 366.0 1034.6 366.6 1035.1 367.2 1034.5 367.8 1034.8 368.4 1034.6 369.0 1034.1 369.6 1033.8 370.2 1034.1 370.8 1034.2 371.4 1033.9 372.0 1034.4 372.6 1034.8 373.2 1033.8 373.8 1034.6 374.4 1034.6 375.0 1034.4 375.6 1033.8 376.2 1034.0 376.8 1033.8 377.4 1033.7 378.0 1035.3 378.6 1033.8 379.2 1033.4 379.8 1033.4 380.4 1036.5 381.0 1035.6 381.6 1035.5 382.2 1033.8 382.8 1035.0 383.4 1036.9 384.0 1034.2 384.6 1033.7 385.2 1031.2 385.8 1034.0 386.4 1033.7 387.0 1031.7 387.6 1031.1 388.2 1033.6 388.8 1033.0 389.4 1032.1 390.0 1031.1 390.6 1031.5 391.2 1030.5 391.8 1032.0 392.4 1031.6 393.0 1031.2 393.6 1029.6 394.2 1028.1 394.8 1027.2 395.4 1026.9 396.0 1026.0 396.6 1026.2 397.2 1022.5 397.8 1021.6 398.4 1023.7 399.0 1024.3 399.6 1024.5 400.2 1023.9 400.8 1025.0 401.4 1023.2 402.0 1024.3 402.6 1024.5 403.2 1023.5 403.8 1024.8 404.4 1025.8 405.0 1025.8 405.6 1025.3 406.2 1025.3 406.8 1024.7 407.4 1024.0 408.0 1025.1 408.6 1026.3 409.2 1025.8 409.8 1026.5 410.4 1026.0 411.0 1026.6 411.6 1026.8 412.2 1027.9 412.8 1025.3 413.4 1026.7 414.0 1027.1 414.6 1026.1 415.2 1026.5 415.8 1024.9 416.4 1026.0 417.0 1026.3 417.6 1026.5 418.2 1027.7 418.8 1027.0 419.4 1027.9 420.0 1027.8 420.6 1030.2 421.2 1027.6 421.8 1027.0 422.4 1028.3 423.0 1029.2" stroke="#101010" stroke-width="1.15" fill="none"/>
<rect x="223.3" y="18.3" width="29.40" height="559.30" fill="#bcb4b4" fill-opacity="0.5"/>
<path d="M223.3 18.3V577.6M252.7 577.6V18.3" stroke="#707070" stroke-width="0.9"/>
<path d="M185.0 18.3V577.6" stroke="#303030" stroke-width="1" stroke-dasharray="3.6 3.1"/>
<rect x="709.3" y="18.3" width="24.30" height="559.30" fill="#bcb4b4" fill-opacity="0.5"/>
<path d="M709.3 18.3V577.6M733.6 577.6V18.3" stroke="#707070" stroke-width="0.9"/>
<path d="M675.5 18.3V577.6" stroke="#303030" stroke-width="1" stroke-dasharray="3.6 3.1"/>
<rect x="221.3" y="673.3" width="29.50" height="559.30" fill="#bcb4b4" fill-opacity="0.5"/>
<path d="M221.3 673.3V1232.6M250.8 1232.6V673.3" stroke="#707070" stroke-width="0.9"/>
<path d="M185.0 673.3V1232.6" stroke="#303030" stroke-width="1" stroke-dasharray="3.6 3.1"/>
<text x="239.05" y="10.5" font-size="14" text-anchor="middle" fill="#000" style="font-family:'Liberation Sans', sans-serif" >THEMIS-A Observations</text>
<path d="M65.5 94.4h6M423.6 94.4h-6M65.5 90.59h3M423.6 90.59h-3M65.5 86.79h3M423.6 86.79h-3M65.5 82.98h3M423.6 82.98h-3M65.5 79.18h3M423.6 79.18h-3M65.5 75.38h6M423.6 75.38h-6M65.5 71.57h3M423.6 71.57h-3M65.5 67.77h3M423.6 67.77h-3M65.5 63.96h3M423.6 63.96h-3M65.5 60.16h3M423.6 60.16h-3M65.5 56.35h6M423.6 56.35h-6M65.5 52.54h3M423.6 52.54h-3M65.5 48.74h3M423.6 48.74h-3M65.5 44.93h3M423.6 44.93h-3M65.5 41.13h3M423.6 41.13h-3M65.5 37.33h6M423.6 37.33h-6M65.5 33.52h3M423.6 33.52h-3M65.5 29.72h3M423.6 29.72h-3M65.5 25.91h3M423.6 25.91h-3M65.5 22.11h3M423.6 22.11h-3M65.5 18.3h6M423.6 18.3h-6" stroke="#8a8a8a" stroke-width="0.7" fill="none"/>
<text transform="translate(62,25.96) scale(0.97,1)" font-size="12.0" text-anchor="end" fill="#000" style="font-family:'Liberation Sans', sans-serif" >100</text>
<text transform="translate(62,41.59) scale(0.97,1)" font-size="12.0" text-anchor="end" fill="#000" style="font-family:'Liberation Sans', sans-serif" >50</text>
<text transform="translate(62,60.61) scale(0.97,1)" font-size="12.0" text-anchor="end" fill="#000" style="font-family:'Liberation Sans', sans-serif" >0</text>
<text transform="translate(62,79.64) scale(0.97,1)" font-size="12.0" text-anchor="end" fill="#000" style="font-family:'Liberation Sans', sans-serif" >-50</text>
<text transform="translate(62,95.26) scale(0.97,1)" font-size="12.0" text-anchor="end" fill="#000" style="font-family:'Liberation Sans', sans-serif" >-100</text>
<text transform="translate(21,57.4) rotate(-90)" text-anchor="middle" style="font-family:'Liberation Serif', serif" fill="#000"><tspan font-size="15">V</tspan><tspan font-size="10.5"> </tspan><tspan font-size="10.5">[km/s]</tspan></text>
<path d="M65.5 175h6M423.6 175h-6M65.5 173.74h3M423.6 173.74h-3M65.5 172.47h3M423.6 172.47h-3M65.5 171.21h3M423.6 171.21h-3M65.5 169.95h3M423.6 169.95h-3M65.5 168.68h3M423.6 168.68h-3M65.5 167.42h3M423.6 167.42h-3M65.5 166.16h3M423.6 166.16h-3M65.5 164.89h3M423.6 164.89h-3M65.5 163.63h3M423.6 163.63h-3M65.5 162.37h6M423.6 162.37h-6M65.5 161.1h3M423.6 161.1h-3M65.5 159.84h3M423.6 159.84h-3M65.5 158.58h3M423.6 158.58h-3M65.5 157.31h3M423.6 157.31h-3M65.5 156.05h3M423.6 156.05h-3M65.5 154.79h3M423.6 154.79h-3M65.5 153.52h3M423.6 153.52h-3M65.5 152.26h3M423.6 152.26h-3M65.5 151h3M423.6 151h-3M65.5 149.73h6M423.6 149.73h-6M65.5 148.47h3M423.6 148.47h-3M65.5 147.21h3M423.6 147.21h-3M65.5 145.94h3M423.6 145.94h-3M65.5 144.68h3M423.6 144.68h-3M65.5 143.42h3M423.6 143.42h-3M65.5 142.15h3M423.6 142.15h-3M65.5 140.89h3M423.6 140.89h-3M65.5 139.63h3M423.6 139.63h-3M65.5 138.36h3M423.6 138.36h-3M65.5 137.1h6M423.6 137.1h-6M65.5 135.84h3M423.6 135.84h-3M65.5 134.57h3M423.6 134.57h-3M65.5 133.31h3M423.6 133.31h-3M65.5 132.05h3M423.6 132.05h-3M65.5 130.78h3M423.6 130.78h-3M65.5 129.52h3M423.6 129.52h-3M65.5 128.26h3M423.6 128.26h-3M65.5 126.99h3M423.6 126.99h-3M65.5 125.73h3M423.6 125.73h-3M65.5 124.47h6M423.6 124.47h-6M65.5 123.2h3M423.6 123.2h-3M65.5 121.94h3M423.6 121.94h-3M65.5 120.68h3M423.6 120.68h-3M65.5 119.41h3M423.6 119.41h-3M65.5 118.15h3M423.6 118.15h-3M65.5 116.89h3M423.6 116.89h-3M65.5 115.62h3M423.6 115.62h-3M65.5 114.36h3M423.6 114.36h-3M65.5 113.1h3M423.6 113.1h-3M65.5 111.83h6M423.6 111.83h-6M65.5 110.57h3M423.6 110.57h-3M65.5 109.31h3M423.6 109.31h-3M65.5 108.04h3M423.6 108.04h-3M65.5 106.78h3M423.6 106.78h-3M65.5 105.52h3M423.6 105.52h-3M65.5 104.25h3M423.6 104.25h-3M65.5 102.99h3M423.6 102.99h-3M65.5 101.73h3M423.6 101.73h-3M65.5 100.46h3M423.6 100.46h-3M65.5 99.2h6M423.6 99.2h-6" stroke="#8a8a8a" stroke-width="0.7" fill="none"/>
<text transform="translate(62,106.86) scale(0.97,1)" font-size="12.0" text-anchor="end" fill="#000" style="font-family:'Liberation Sans', sans-serif" >60</text>
<text transform="translate(62,116.09) scale(0.97,1)" font-size="12.0" text-anchor="end" fill="#000" style="font-family:'Liberation Sans', sans-serif" >50</text>
<text transform="translate(62,128.73) scale(0.97,1)" font-size="12.0" text-anchor="end" fill="#000" style="font-family:'Liberation Sans', sans-serif" >40</text>
<text transform="translate(62,141.36) scale(0.97,1)" font-size="12.0" text-anchor="end" fill="#000" style="font-family:'Liberation Sans', sans-serif" >30</text>
<text transform="translate(62,153.99) scale(0.97,1)" font-size="12.0" text-anchor="end" fill="#000" style="font-family:'Liberation Sans', sans-serif" >20</text>
<text transform="translate(62,166.63) scale(0.97,1)" font-size="12.0" text-anchor="end" fill="#000" style="font-family:'Liberation Sans', sans-serif" >10</text>
<text transform="translate(62,175.86) scale(0.97,1)" font-size="12.0" text-anchor="end" fill="#000" style="font-family:'Liberation Sans', sans-serif" >0</text>
<text transform="translate(21,136.5) rotate(-90)" text-anchor="middle" style="font-family:'Liberation Serif', serif" fill="#000"><tspan font-size="15">B</tspan><tspan font-size="10" dy="1">t</tspan><tspan font-size="10.5" dy="-1"> </tspan><tspan font-size="10.5">[nT]</tspan></text>
<path d="M65.5 255.5h6M423.6 255.5h-6M65.5 250.75h3M423.6 250.75h-3M65.5 246h3M423.6 246h-3M65.5 241.25h3M423.6 241.25h-3M65.5 236.5h6M423.6 236.5h-6M65.5 231.75h3M423.6 231.75h-3M65.5 227h3M423.6 227h-3M65.5 222.25h3M423.6 222.25h-3M65.5 217.5h6M423.6 217.5h-6M65.5 212.75h3M423.6 212.75h-3M65.5 208h3M423.6 208h-3M65.5 203.25h3M423.6 203.25h-3M65.5 198.5h6M423.6 198.5h-6M65.5 193.75h3M423.6 193.75h-3M65.5 189h3M423.6 189h-3M65.5 184.25h3M423.6 184.25h-3M65.5 179.5h6M423.6 179.5h-6" stroke="#8a8a8a" stroke-width="0.7" fill="none"/>
<text transform="translate(62,187.16) scale(0.97,1)" font-size="12.0" text-anchor="end" fill="#000" style="font-family:'Liberation Sans', sans-serif" >40</text>
<text transform="translate(62,202.76) scale(0.97,1)" font-size="12.0" text-anchor="end" fill="#000" style="font-family:'Liberation Sans', sans-serif" >20</text>
<text transform="translate(62,221.76) scale(0.97,1)" font-size="12.0" text-anchor="end" fill="#000" style="font-family:'Liberation Sans', sans-serif" >0</text>
<text transform="translate(62,240.76) scale(0.97,1)" font-size="12.0" text-anchor="end" fill="#000" style="font-family:'Liberation Sans', sans-serif" >-20</text>
<text transform="translate(62,256.36) scale(0.97,1)" font-size="12.0" text-anchor="end" fill="#000" style="font-family:'Liberation Sans', sans-serif" >-40</text>
<text transform="translate(21,217) rotate(-90)" text-anchor="middle" style="font-family:'Liberation Serif', serif" fill="#000"><tspan font-size="15">B</tspan><tspan font-size="10.5"> </tspan><tspan font-size="10.5">[nT]</tspan></text>
<path d="M65.5 336.4h6M423.6 336.4h-6M65.5 313.46h3M423.6 313.46h-3M65.5 300.04h3M423.6 300.04h-3M65.5 290.52h3M423.6 290.52h-3M65.5 283.14h3M423.6 283.14h-3M65.5 277.1h3M423.6 277.1h-3M65.5 272h3M423.6 272h-3M65.5 267.58h3M423.6 267.58h-3M65.5 263.69h3M423.6 263.69h-3M65.5 260.2h6M423.6 260.2h-6" stroke="#8a8a8a" stroke-width="0.7" fill="none"/>
<text transform="translate(62,267.86) scale(0.97,1)" font-size="12.0" text-anchor="end" fill="#000" style="font-family:'Liberation Sans', sans-serif" >10</text>
<text transform="translate(62,337.26) scale(0.97,1)" font-size="12.0" text-anchor="end" fill="#000" style="font-family:'Liberation Sans', sans-serif" >1</text>
<text transform="translate(21,305) rotate(-90)" text-anchor="middle" style="font-family:'Liberation Serif', serif" fill="#000"><tspan font-size="15">N</tspan><tspan font-size="12" dy="1.5">e</tspan><tspan font-size="10.5" dy="-1.5"> </tspan><tspan font-size="10.5">[cm</tspan><tspan font-size="6.5" dy="-4">-3</tspan><tspan font-size="10.5" dy="4">]</tspan></text>
<path d="M65.5 416.7h6M423.6 416.7h-6M65.5 405.25h3M423.6 405.25h-3M65.5 398.55h3M423.6 398.55h-3M65.5 393.79h3M423.6 393.79h-3M65.5 390.1h3M423.6 390.1h-3M65.5 387.09h3M423.6 387.09h-3M65.5 384.54h3M423.6 384.54h-3M65.5 382.34h3M423.6 382.34h-3M65.5 380.39h3M423.6 380.39h-3M65.5 378.65h6M423.6 378.65h-6M65.5 367.2h3M423.6 367.2h-3M65.5 360.5h3M423.6 360.5h-3M65.5 355.74h3M423.6 355.74h-3M65.5 352.05h3M423.6 352.05h-3M65.5 349.04h3M423.6 349.04h-3M65.5 346.49h3M423.6 346.49h-3M65.5 344.29h3M423.6 344.29h-3M65.5 342.34h3M423.6 342.34h-3M65.5 340.6h6M423.6 340.6h-6" stroke="#8a8a8a" stroke-width="0.7" fill="none"/>
<text transform="translate(62,348.26) scale(0.97,1)" font-size="12.0" text-anchor="end" fill="#000" style="font-family:'Liberation Sans', sans-serif" >10.0</text>
<text transform="translate(62,382.91) scale(0.97,1)" font-size="12.0" text-anchor="end" fill="#000" style="font-family:'Liberation Sans', sans-serif" >1.0</text>
<text transform="translate(62,417.56) scale(0.97,1)" font-size="12.0" text-anchor="end" fill="#000" style="font-family:'Liberation Sans', sans-serif" >0.1</text>
<text transform="translate(21,383.65) rotate(-90)" text-anchor="middle" style="font-family:'Liberation Serif', serif" fill="#000"><tspan font-size="15">N</tspan><tspan font-size="12" dy="1.5">i</tspan><tspan font-size="10.5" dy="-1.5"> </tspan><tspan font-size="10.5">[cm</tspan><tspan font-size="6.5" dy="-4">-3</tspan><tspan font-size="10.5" dy="4">]</tspan></text>
<path d="M65.5 496.78h2.5M423.6 496.78h-2.5M65.5 495.59h2.5M423.6 495.59h-2.5M65.5 494.54h2.5M423.6 494.54h-2.5M65.5 493.6h5M423.6 493.6h-5M65.5 487.42h2.5M423.6 487.42h-2.5M65.5 483.8h2.5M423.6 483.8h-2.5M65.5 481.24h2.5M423.6 481.24h-2.5M65.5 479.25h2.5M423.6 479.25h-2.5M65.5 477.62h2.5M423.6 477.62h-2.5M65.5 476.24h2.5M423.6 476.24h-2.5M65.5 475.05h2.5M423.6 475.05h-2.5M65.5 474h2.5M423.6 474h-2.5M65.5 473.06h5M423.6 473.06h-5M65.5 466.88h2.5M423.6 466.88h-2.5M65.5 463.26h2.5M423.6 463.26h-2.5M65.5 460.7h2.5M423.6 460.7h-2.5M65.5 458.7h2.5M423.6 458.7h-2.5M65.5 457.08h2.5M423.6 457.08h-2.5M65.5 455.7h2.5M423.6 455.7h-2.5M65.5 454.51h2.5M423.6 454.51h-2.5M65.5 453.46h2.5M423.6 453.46h-2.5M65.5 452.52h5M423.6 452.52h-5M65.5 446.34h2.5M423.6 446.34h-2.5M65.5 442.72h2.5M423.6 442.72h-2.5M65.5 440.15h2.5M423.6 440.15h-2.5M65.5 438.16h2.5M423.6 438.16h-2.5M65.5 436.54h2.5M423.6 436.54h-2.5M65.5 435.16h2.5M423.6 435.16h-2.5M65.5 433.97h2.5M423.6 433.97h-2.5M65.5 432.92h2.5M423.6 432.92h-2.5M65.5 431.98h5M423.6 431.98h-5M65.5 425.8h2.5M423.6 425.8h-2.5M65.5 422.18h2.5M423.6 422.18h-2.5" stroke="#8a8a8a" stroke-width="0.7" fill="none"/>
<text transform="translate(62,436.24) scale(0.97,1)" font-size="12.0" text-anchor="end" fill="#000" style="font-family:'Liberation Sans', sans-serif" >10000</text>
<text transform="translate(62,456.78) scale(0.97,1)" font-size="12.0" text-anchor="end" fill="#000" style="font-family:'Liberation Sans', sans-serif" >1000</text>
<text transform="translate(62,477.32) scale(0.97,1)" font-size="12.0" text-anchor="end" fill="#000" style="font-family:'Liberation Sans', sans-serif" >100</text>
<text transform="translate(62,497.86) scale(0.97,1)" font-size="12.0" text-anchor="end" fill="#000" style="font-family:'Liberation Sans', sans-serif" >10</text>
<text transform="translate(21,463.2) rotate(-90)" text-anchor="middle" style="font-family:'Liberation Serif', serif" fill="#000"><tspan font-size="15">E</tspan><tspan font-size="13" dy="3.5">e</tspan><tspan font-size="10.5" dy="-3.5"> </tspan><tspan font-size="10.5">[ev]</tspan></text>
<path d="M65.5 577.19h2.5M423.6 577.19h-2.5M65.5 576h2.5M423.6 576h-2.5M65.5 574.96h2.5M423.6 574.96h-2.5M65.5 574.03h5M423.6 574.03h-5M65.5 567.88h2.5M423.6 567.88h-2.5M65.5 564.29h2.5M423.6 564.29h-2.5M65.5 561.74h2.5M423.6 561.74h-2.5M65.5 559.76h2.5M423.6 559.76h-2.5M65.5 558.15h2.5M423.6 558.15h-2.5M65.5 556.78h2.5M423.6 556.78h-2.5M65.5 555.6h2.5M423.6 555.6h-2.5M65.5 554.56h2.5M423.6 554.56h-2.5M65.5 553.62h5M423.6 553.62h-5M65.5 547.48h2.5M423.6 547.48h-2.5M65.5 543.89h2.5M423.6 543.89h-2.5M65.5 541.34h2.5M423.6 541.34h-2.5M65.5 539.36h2.5M423.6 539.36h-2.5M65.5 537.74h2.5M423.6 537.74h-2.5M65.5 536.38h2.5M423.6 536.38h-2.5M65.5 535.19h2.5M423.6 535.19h-2.5M65.5 534.15h2.5M423.6 534.15h-2.5M65.5 533.22h5M423.6 533.22h-5M65.5 527.07h2.5M423.6 527.07h-2.5M65.5 523.48h2.5M423.6 523.48h-2.5M65.5 520.93h2.5M423.6 520.93h-2.5M65.5 518.95h2.5M423.6 518.95h-2.5M65.5 517.34h2.5M423.6 517.34h-2.5M65.5 515.97h2.5M423.6 515.97h-2.5M65.5 514.79h2.5M423.6 514.79h-2.5M65.5 513.74h2.5M423.6 513.74h-2.5M65.5 512.81h5M423.6 512.81h-5M65.5 506.67h2.5M423.6 506.67h-2.5M65.5 503.07h2.5M423.6 503.07h-2.5" stroke="#8a8a8a" stroke-width="0.7" fill="none"/>
<text transform="translate(62,517.07) scale(0.97,1)" font-size="12.0" text-anchor="end" fill="#000" style="font-family:'Liberation Sans', sans-serif" >10000</text>
<text transform="translate(62,537.48) scale(0.97,1)" font-size="12.0" text-anchor="end" fill="#000" style="font-family:'Liberation Sans', sans-serif" >1000</text>
<text transform="translate(62,557.88) scale(0.97,1)" font-size="12.0" text-anchor="end" fill="#000" style="font-family:'Liberation Sans', sans-serif" >100</text>
<text transform="translate(62,578.29) scale(0.97,1)" font-size="12.0" text-anchor="end" fill="#000" style="font-family:'Liberation Sans', sans-serif" >10</text>
<text transform="translate(21,542.05) rotate(-90)" text-anchor="middle" style="font-family:'Liberation Serif', serif" fill="#000"><tspan font-size="15">E</tspan><tspan font-size="13" dy="3.5">i</tspan><tspan font-size="10.5" dy="-3.5"> </tspan><tspan font-size="10.5">[ev]</tspan></text>
<rect x="65.5" y="18.3" width="358.1" height="76.1" fill="none" stroke="#8a8a8a" stroke-width="1"/>
<path d="M90.19 18.3v2.5M90.19 94.4v-2.5M149.7 18.3v2.5M149.7 94.4v-2.5M209.21 18.3v2.5M209.21 94.4v-2.5M268.73 18.3v2.5M268.73 94.4v-2.5M328.24 18.3v2.5M328.24 94.4v-2.5M387.76 18.3v2.5M387.76 94.4v-2.5" stroke="#8a8a8a" stroke-width="0.8" fill="none"/>
<rect x="65.5" y="99.2" width="358.1" height="75.8" fill="none" stroke="#8a8a8a" stroke-width="1"/>
<path d="M90.19 99.2v2.5M90.19 175v-2.5M149.7 99.2v2.5M149.7 175v-2.5M209.21 99.2v2.5M209.21 175v-2.5M268.73 99.2v2.5M268.73 175v-2.5M328.24 99.2v2.5M328.24 175v-2.5M387.76 99.2v2.5M387.76 175v-2.5" stroke="#8a8a8a" stroke-width="0.8" fill="none"/>
<rect x="65.5" y="179.5" width="358.1" height="76" fill="none" stroke="#8a8a8a" stroke-width="1"/>
<path d="M90.19 179.5v2.5M90.19 255.5v-2.5M149.7 179.5v2.5M149.7 255.5v-2.5M209.21 179.5v2.5M209.21 255.5v-2.5M268.73 179.5v2.5M268.73 255.5v-2.5M328.24 179.5v2.5M328.24 255.5v-2.5M387.76 179.5v2.5M387.76 255.5v-2.5" stroke="#8a8a8a" stroke-width="0.8" fill="none"/>
<rect x="65.5" y="260.2" width="358.1" height="76.2" fill="none" stroke="#8a8a8a" stroke-width="1"/>
<path d="M90.19 260.2v2.5M90.19 336.4v-2.5M149.7 260.2v2.5M149.7 336.4v-2.5M209.21 260.2v2.5M209.21 336.4v-2.5M268.73 260.2v2.5M268.73 336.4v-2.5M328.24 260.2v2.5M328.24 336.4v-2.5M387.76 260.2v2.5M387.76 336.4v-2.5" stroke="#8a8a8a" stroke-width="0.8" fill="none"/>
<rect x="65.5" y="340.6" width="358.1" height="76.1" fill="none" stroke="#8a8a8a" stroke-width="1"/>
<path d="M90.19 340.6v2.5M90.19 416.7v-2.5M149.7 340.6v2.5M149.7 416.7v-2.5M209.21 340.6v2.5M209.21 416.7v-2.5M268.73 340.6v2.5M268.73 416.7v-2.5M328.24 340.6v2.5M328.24 416.7v-2.5M387.76 340.6v2.5M387.76 416.7v-2.5" stroke="#8a8a8a" stroke-width="0.8" fill="none"/>
<rect x="65.5" y="421.3" width="358.1" height="76" fill="none" stroke="#8a8a8a" stroke-width="1"/>
<path d="M90.19 421.3v2.5M90.19 497.3v-2.5M149.7 421.3v2.5M149.7 497.3v-2.5M209.21 421.3v2.5M209.21 497.3v-2.5M268.73 421.3v2.5M268.73 497.3v-2.5M328.24 421.3v2.5M328.24 497.3v-2.5M387.76 421.3v2.5M387.76 497.3v-2.5" stroke="#8a8a8a" stroke-width="0.8" fill="none"/>
<rect x="65.5" y="502.2" width="358.1" height="75.5" fill="none" stroke="#8a8a8a" stroke-width="1"/>
<path d="M90.19 502.2v2.5M90.19 577.7v-2.5M149.7 502.2v2.5M149.7 577.7v-2.5M209.21 502.2v2.5M209.21 577.7v-2.5M268.73 502.2v2.5M268.73 577.7v-2.5M328.24 502.2v2.5M328.24 577.7v-2.5M387.76 502.2v2.5M387.76 577.7v-2.5" stroke="#8a8a8a" stroke-width="0.8" fill="none"/>
<text x="393.2" y="39.4" font-size="27" text-anchor="start" fill="#000" style="font-family:'Liberation Serif', serif" stroke="#000" stroke-width="0.25">a</text>
<text x="394.7" y="164.3" font-size="27" text-anchor="start" fill="#000" style="font-family:'Liberation Serif', serif" stroke="#000" stroke-width="0.25">b</text>
<text x="393.7" y="216.3" font-size="27" text-anchor="start" fill="#000" style="font-family:'Liberation Serif', serif" stroke="#000" stroke-width="0.25">c</text>
<text x="393.2" y="280.8" font-size="27" text-anchor="start" fill="#000" style="font-family:'Liberation Serif', serif" stroke="#000" stroke-width="0.25">d</text>
<text x="394.7" y="357.3" font-size="27" text-anchor="start" fill="#000" style="font-family:'Liberation Serif', serif" stroke="#000" stroke-width="0.25">e</text>
<text x="395.2" y="446.3" font-size="27" text-anchor="start" fill="#000" style="font-family:'Liberation Serif', serif" stroke="#000" stroke-width="0.25">f</text>
<text x="396.2" y="523.6" font-size="27" text-anchor="start" fill="#000" style="font-family:'Liberation Serif', serif" stroke="#000" stroke-width="0.25">g</text>
<text transform="translate(430.2,39.5) scale(1.1,1)" font-size="10.5" text-anchor="start" fill="#0000ff" style="font-family:'Liberation Sans', sans-serif" >Vx</text>
<text transform="translate(430.2,61.4) scale(1.1,1)" font-size="10.5" text-anchor="start" fill="#00ee00" style="font-family:'Liberation Sans', sans-serif" >Vy</text>
<text transform="translate(430.2,81.5) scale(1.1,1)" font-size="10.5" text-anchor="start" fill="#ff0000" style="font-family:'Liberation Sans', sans-serif" >Vz</text>
<text transform="translate(430.7,136.4) scale(1.1,1)" font-size="10.5" text-anchor="start" fill="#000" style="font-family:'Liberation Sans', sans-serif" >IBI</text>
<text transform="translate(430.7,192.8) scale(1.1,1)" font-size="10.5" text-anchor="start" fill="#ff0000" style="font-family:'Liberation Sans', sans-serif" >Bz</text>
<text transform="translate(430.7,217.8) scale(1.1,1)" font-size="10.5" text-anchor="start" fill="#00ee00" style="font-family:'Liberation Sans', sans-serif" >By</text>
<text transform="translate(430.7,243.8) scale(1.1,1)" font-size="10.5" text-anchor="start" fill="#0000ff" style="font-family:'Liberation Sans', sans-serif" >Bx</text>
<text transform="translate(0.5,591.7) scale(1.1,1)" font-size="10.5" style="font-family:'Liberation Sans', sans-serif">X [R<tspan font-size="7" dy="2">E</tspan><tspan dy="-2">]</tspan></text>
<text transform="translate(0.5,600.9) scale(1.1,1)" font-size="10.5" style="font-family:'Liberation Sans', sans-serif">Y [R<tspan font-size="7" dy="2">E</tspan><tspan dy="-2">]</tspan></text>
<text transform="translate(0.5,610.5) scale(1.1,1)" font-size="10.5" style="font-family:'Liberation Sans', sans-serif">Z [R<tspan font-size="7" dy="2">E</tspan><tspan dy="-2">]</tspan></text>
<text transform="translate(0.5,620) scale(1.1,1)" font-size="10.5" text-anchor="start" fill="#000" style="font-family:'Liberation Sans', sans-serif" >hhmm</text>
<text transform="translate(0.5,629.2) scale(1.1,1)" font-size="10.5" text-anchor="start" fill="#000" style="font-family:'Liberation Sans', sans-serif" >2015 Jan 03</text>
<text transform="translate(149.7,592.4) scale(1.08,1)" font-size="10.5" text-anchor="middle" fill="#000" style="font-family:'Liberation Sans', sans-serif" >-4.0</text>
<text transform="translate(149.7,601.6) scale(1.08,1)" font-size="10.5" text-anchor="middle" fill="#000" style="font-family:'Liberation Sans', sans-serif" >11.3</text>
<text transform="translate(149.7,611.2) scale(1.08,1)" font-size="10.5" text-anchor="middle" fill="#000" style="font-family:'Liberation Sans', sans-serif" >0.6</text>
<text transform="translate(149.7,620.7) scale(1.08,1)" font-size="10.5" text-anchor="middle" fill="#000" style="font-family:'Liberation Sans', sans-serif" >0500</text>
<text transform="translate(268.7,592.4) scale(1.08,1)" font-size="10.5" text-anchor="middle" fill="#000" style="font-family:'Liberation Sans', sans-serif" >-4.2</text>
<text transform="translate(268.7,601.6) scale(1.08,1)" font-size="10.5" text-anchor="middle" fill="#000" style="font-family:'Liberation Sans', sans-serif" >11.3</text>
<text transform="translate(268.7,611.2) scale(1.08,1)" font-size="10.5" text-anchor="middle" fill="#000" style="font-family:'Liberation Sans', sans-serif" >0.3</text>
<text transform="translate(268.7,620.7) scale(1.08,1)" font-size="10.5" text-anchor="middle" fill="#000" style="font-family:'Liberation Sans', sans-serif" >0520</text>
<text transform="translate(387.8,592.4) scale(1.08,1)" font-size="10.5" text-anchor="middle" fill="#000" style="font-family:'Liberation Sans', sans-serif" >-4.3</text>
<text transform="translate(387.8,601.6) scale(1.08,1)" font-size="10.5" text-anchor="middle" fill="#000" style="font-family:'Liberation Sans', sans-serif" >11.3</text>
<text transform="translate(387.8,611.2) scale(1.08,1)" font-size="10.5" text-anchor="middle" fill="#000" style="font-family:'Liberation Sans', sans-serif" >0.1</text>
<text transform="translate(387.8,620.7) scale(1.08,1)" font-size="10.5" text-anchor="middle" fill="#000" style="font-family:'Liberation Sans', sans-serif" >0540</text>
<text x="730.05" y="10.5" font-size="14" text-anchor="middle" fill="#000" style="font-family:'Liberation Sans', sans-serif" >THEMIS-D Observations</text>
<path d="M556.5 94.4h6M914.6 94.4h-6M556.5 90.59h3M914.6 90.59h-3M556.5 86.79h3M914.6 86.79h-3M556.5 82.98h3M914.6 82.98h-3M556.5 79.18h3M914.6 79.18h-3M556.5 75.38h6M914.6 75.38h-6M556.5 71.57h3M914.6 71.57h-3M556.5 67.77h3M914.6 67.77h-3M556.5 63.96h3M914.6 63.96h-3M556.5 60.16h3M914.6 60.16h-3M556.5 56.35h6M914.6 56.35h-6M556.5 52.54h3M914.6 52.54h-3M556.5 48.74h3M914.6 48.74h-3M556.5 44.93h3M914.6 44.93h-3M556.5 41.13h3M914.6 41.13h-3M556.5 37.33h6M914.6 37.33h-6M556.5 33.52h3M914.6 33.52h-3M556.5 29.72h3M914.6 29.72h-3M556.5 25.91h3M914.6 25.91h-3M556.5 22.11h3M914.6 22.11h-3M556.5 18.3h6M914.6 18.3h-6" stroke="#8a8a8a" stroke-width="0.7" fill="none"/>
<text transform="translate(553,25.96) scale(0.97,1)" font-size="12.0" text-anchor="end" fill="#000" style="font-family:'Liberation Sans', sans-serif" >100</text>
<text transform="translate(553,41.59) scale(0.97,1)" font-size="12.0" text-anchor="end" fill="#000" style="font-family:'Liberation Sans', sans-serif" >50</text>
<text transform="translate(553,60.61) scale(0.97,1)" font-size="12.0" text-anchor="end" fill="#000" style="font-family:'Liberation Sans', sans-serif" >0</text>
<text transform="translate(553,79.64) scale(0.97,1)" font-size="12.0" text-anchor="end" fill="#000" style="font-family:'Liberation Sans', sans-serif" >-50</text>
<text transform="translate(553,95.26) scale(0.97,1)" font-size="12.0" text-anchor="end" fill="#000" style="font-family:'Liberation Sans', sans-serif" >-100</text>
<text transform="translate(516.7,52.85) rotate(-90)" text-anchor="middle" style="font-family:'Liberation Serif', serif" fill="#000"><tspan font-size="15">V</tspan><tspan font-size="10.5"> </tspan><tspan font-size="10.5">[km/s]</tspan></text>
<path d="M556.5 175h6M914.6 175h-6M556.5 171.21h3M914.6 171.21h-3M556.5 167.42h3M914.6 167.42h-3M556.5 163.63h3M914.6 163.63h-3M556.5 159.84h3M914.6 159.84h-3M556.5 156.05h6M914.6 156.05h-6M556.5 152.26h3M914.6 152.26h-3M556.5 148.47h3M914.6 148.47h-3M556.5 144.68h3M914.6 144.68h-3M556.5 140.89h3M914.6 140.89h-3M556.5 137.1h6M914.6 137.1h-6M556.5 133.31h3M914.6 133.31h-3M556.5 129.52h3M914.6 129.52h-3M556.5 125.73h3M914.6 125.73h-3M556.5 121.94h3M914.6 121.94h-3M556.5 118.15h6M914.6 118.15h-6M556.5 114.36h3M914.6 114.36h-3M556.5 110.57h3M914.6 110.57h-3M556.5 106.78h3M914.6 106.78h-3M556.5 102.99h3M914.6 102.99h-3M556.5 99.2h6M914.6 99.2h-6" stroke="#8a8a8a" stroke-width="0.7" fill="none"/>
<text transform="translate(553,106.86) scale(0.97,1)" font-size="12.0" text-anchor="end" fill="#000" style="font-family:'Liberation Sans', sans-serif" >80</text>
<text transform="translate(553,122.41) scale(0.97,1)" font-size="12.0" text-anchor="end" fill="#000" style="font-family:'Liberation Sans', sans-serif" >60</text>
<text transform="translate(553,141.36) scale(0.97,1)" font-size="12.0" text-anchor="end" fill="#000" style="font-family:'Liberation Sans', sans-serif" >40</text>
<text transform="translate(553,160.31) scale(0.97,1)" font-size="12.0" text-anchor="end" fill="#000" style="font-family:'Liberation Sans', sans-serif" >20</text>
<text transform="translate(553,175.86) scale(0.97,1)" font-size="12.0" text-anchor="end" fill="#000" style="font-family:'Liberation Sans', sans-serif" >0</text>
<text transform="translate(516.7,132) rotate(-90)" text-anchor="middle" style="font-family:'Liberation Serif', serif" fill="#000"><tspan font-size="15">B</tspan><tspan font-size="10" dy="1">t</tspan><tspan font-size="10.5" dy="-1"> </tspan><tspan font-size="10.5">[nT]</tspan></text>
<path d="M556.5 255.5h6M914.6 255.5h-6M556.5 252.33h3M914.6 252.33h-3M556.5 249.17h3M914.6 249.17h-3M556.5 246h3M914.6 246h-3M556.5 242.83h6M914.6 242.83h-6M556.5 239.67h3M914.6 239.67h-3M556.5 236.5h3M914.6 236.5h-3M556.5 233.33h3M914.6 233.33h-3M556.5 230.17h6M914.6 230.17h-6M556.5 227h3M914.6 227h-3M556.5 223.83h3M914.6 223.83h-3M556.5 220.67h3M914.6 220.67h-3M556.5 217.5h6M914.6 217.5h-6M556.5 214.33h3M914.6 214.33h-3M556.5 211.17h3M914.6 211.17h-3M556.5 208h3M914.6 208h-3M556.5 204.83h6M914.6 204.83h-6M556.5 201.67h3M914.6 201.67h-3M556.5 198.5h3M914.6 198.5h-3M556.5 195.33h3M914.6 195.33h-3M556.5 192.17h6M914.6 192.17h-6M556.5 189h3M914.6 189h-3M556.5 185.83h3M914.6 185.83h-3M556.5 182.67h3M914.6 182.67h-3M556.5 179.5h6M914.6 179.5h-6" stroke="#8a8a8a" stroke-width="0.7" fill="none"/>
<text transform="translate(553,187.16) scale(0.97,1)" font-size="12.0" text-anchor="end" fill="#000" style="font-family:'Liberation Sans', sans-serif" >60</text>
<text transform="translate(553,196.43) scale(0.97,1)" font-size="12.0" text-anchor="end" fill="#000" style="font-family:'Liberation Sans', sans-serif" >40</text>
<text transform="translate(553,209.09) scale(0.97,1)" font-size="12.0" text-anchor="end" fill="#000" style="font-family:'Liberation Sans', sans-serif" >20</text>
<text transform="translate(553,221.76) scale(0.97,1)" font-size="12.0" text-anchor="end" fill="#000" style="font-family:'Liberation Sans', sans-serif" >0</text>
<text transform="translate(553,234.43) scale(0.97,1)" font-size="12.0" text-anchor="end" fill="#000" style="font-family:'Liberation Sans', sans-serif" >-20</text>
<text transform="translate(553,247.09) scale(0.97,1)" font-size="12.0" text-anchor="end" fill="#000" style="font-family:'Liberation Sans', sans-serif" >-40</text>
<text transform="translate(553,256.36) scale(0.97,1)" font-size="12.0" text-anchor="end" fill="#000" style="font-family:'Liberation Sans', sans-serif" >-60</text>
<text transform="translate(516.7,213) rotate(-90)" text-anchor="middle" style="font-family:'Liberation Serif', serif" fill="#000"><tspan font-size="15">B</tspan><tspan font-size="10.5"> </tspan><tspan font-size="10.5">[nT]</tspan></text>
<path d="M556.5 336.4h6M914.6 336.4h-6M556.5 313.46h3M914.6 313.46h-3M556.5 300.04h3M914.6 300.04h-3M556.5 290.52h3M914.6 290.52h-3M556.5 283.14h3M914.6 283.14h-3M556.5 277.1h3M914.6 277.1h-3M556.5 272h3M914.6 272h-3M556.5 267.58h3M914.6 267.58h-3M556.5 263.69h3M914.6 263.69h-3M556.5 260.2h6M914.6 260.2h-6" stroke="#8a8a8a" stroke-width="0.7" fill="none"/>
<text transform="translate(553,267.86) scale(0.97,1)" font-size="12.0" text-anchor="end" fill="#000" style="font-family:'Liberation Sans', sans-serif" >10</text>
<text transform="translate(553,337.26) scale(0.97,1)" font-size="12.0" text-anchor="end" fill="#000" style="font-family:'Liberation Sans', sans-serif" >1</text>
<text transform="translate(516.7,300.6) rotate(-90)" text-anchor="middle" style="font-family:'Liberation Serif', serif" fill="#000"><tspan font-size="15">N</tspan><tspan font-size="12" dy="1.5">e</tspan><tspan font-size="10.5" dy="-1.5"> </tspan><tspan font-size="10.5">[cm</tspan><tspan font-size="6.5" dy="-4">-3</tspan><tspan font-size="10.5" dy="4">]</tspan></text>
<path d="M556.5 416.7h6M914.6 416.7h-6M556.5 393.79h3M914.6 393.79h-3M556.5 380.39h3M914.6 380.39h-3M556.5 370.88h3M914.6 370.88h-3M556.5 363.51h3M914.6 363.51h-3M556.5 357.48h3M914.6 357.48h-3M556.5 352.39h3M914.6 352.39h-3M556.5 347.97h3M914.6 347.97h-3M556.5 344.08h3M914.6 344.08h-3M556.5 340.6h6M914.6 340.6h-6" stroke="#8a8a8a" stroke-width="0.7" fill="none"/>
<text transform="translate(553,348.26) scale(0.97,1)" font-size="12.0" text-anchor="end" fill="#000" style="font-family:'Liberation Sans', sans-serif" >1.0</text>
<text transform="translate(553,417.56) scale(0.97,1)" font-size="12.0" text-anchor="end" fill="#000" style="font-family:'Liberation Sans', sans-serif" >0.1</text>
<text transform="translate(516.7,378.95) rotate(-90)" text-anchor="middle" style="font-family:'Liberation Serif', serif" fill="#000"><tspan font-size="15">N</tspan><tspan font-size="12" dy="1.5">i</tspan><tspan font-size="10.5" dy="-1.5"> </tspan><tspan font-size="10.5">[cm</tspan><tspan font-size="6.5" dy="-4">-3</tspan><tspan font-size="10.5" dy="4">]</tspan></text>
<path d="M556.5 496.78h2.5M914.6 496.78h-2.5M556.5 495.59h2.5M914.6 495.59h-2.5M556.5 494.54h2.5M914.6 494.54h-2.5M556.5 493.6h5M914.6 493.6h-5M556.5 487.42h2.5M914.6 487.42h-2.5M556.5 483.8h2.5M914.6 483.8h-2.5M556.5 481.24h2.5M914.6 481.24h-2.5M556.5 479.25h2.5M914.6 479.25h-2.5M556.5 477.62h2.5M914.6 477.62h-2.5M556.5 476.24h2.5M914.6 476.24h-2.5M556.5 475.05h2.5M914.6 475.05h-2.5M556.5 474h2.5M914.6 474h-2.5M556.5 473.06h5M914.6 473.06h-5M556.5 466.88h2.5M914.6 466.88h-2.5M556.5 463.26h2.5M914.6 463.26h-2.5M556.5 460.7h2.5M914.6 460.7h-2.5M556.5 458.7h2.5M914.6 458.7h-2.5M556.5 457.08h2.5M914.6 457.08h-2.5M556.5 455.7h2.5M914.6 455.7h-2.5M556.5 454.51h2.5M914.6 454.51h-2.5M556.5 453.46h2.5M914.6 453.46h-2.5M556.5 452.52h5M914.6 452.52h-5M556.5 446.34h2.5M914.6 446.34h-2.5M556.5 442.72h2.5M914.6 442.72h-2.5M556.5 440.15h2.5M914.6 440.15h-2.5M556.5 438.16h2.5M914.6 438.16h-2.5M556.5 436.54h2.5M914.6 436.54h-2.5M556.5 435.16h2.5M914.6 435.16h-2.5M556.5 433.97h2.5M914.6 433.97h-2.5M556.5 432.92h2.5M914.6 432.92h-2.5M556.5 431.98h5M914.6 431.98h-5M556.5 425.8h2.5M914.6 425.8h-2.5M556.5 422.18h2.5M914.6 422.18h-2.5" stroke="#8a8a8a" stroke-width="0.7" fill="none"/>
<text transform="translate(553,436.24) scale(0.97,1)" font-size="12.0" text-anchor="end" fill="#000" style="font-family:'Liberation Sans', sans-serif" >10000</text>
<text transform="translate(553,456.78) scale(0.97,1)" font-size="12.0" text-anchor="end" fill="#000" style="font-family:'Liberation Sans', sans-serif" >1000</text>
<text transform="translate(553,477.32) scale(0.97,1)" font-size="12.0" text-anchor="end" fill="#000" style="font-family:'Liberation Sans', sans-serif" >100</text>
<text transform="translate(553,497.86) scale(0.97,1)" font-size="12.0" text-anchor="end" fill="#000" style="font-family:'Liberation Sans', sans-serif" >10</text>
<text transform="translate(516.7,459.1) rotate(-90)" text-anchor="middle" style="font-family:'Liberation Serif', serif" fill="#000"><tspan font-size="15">E</tspan><tspan font-size="13" dy="3.5">e</tspan><tspan font-size="10.5" dy="-3.5"> </tspan><tspan font-size="10.5">[ev]</tspan></text>
<path d="M556.5 577.19h2.5M914.6 577.19h-2.5M556.5 576h2.5M914.6 576h-2.5M556.5 574.96h2.5M914.6 574.96h-2.5M556.5 574.03h5M914.6 574.03h-5M556.5 567.88h2.5M914.6 567.88h-2.5M556.5 564.29h2.5M914.6 564.29h-2.5M556.5 561.74h2.5M914.6 561.74h-2.5M556.5 559.76h2.5M914.6 559.76h-2.5M556.5 558.15h2.5M914.6 558.15h-2.5M556.5 556.78h2.5M914.6 556.78h-2.5M556.5 555.6h2.5M914.6 555.6h-2.5M556.5 554.56h2.5M914.6 554.56h-2.5M556.5 553.62h5M914.6 553.62h-5M556.5 547.48h2.5M914.6 547.48h-2.5M556.5 543.89h2.5M914.6 543.89h-2.5M556.5 541.34h2.5M914.6 541.34h-2.5M556.5 539.36h2.5M914.6 539.36h-2.5M556.5 537.74h2.5M914.6 537.74h-2.5M556.5 536.38h2.5M914.6 536.38h-2.5M556.5 535.19h2.5M914.6 535.19h-2.5M556.5 534.15h2.5M914.6 534.15h-2.5M556.5 533.22h5M914.6 533.22h-5M556.5 527.07h2.5M914.6 527.07h-2.5M556.5 523.48h2.5M914.6 523.48h-2.5M556.5 520.93h2.5M914.6 520.93h-2.5M556.5 518.95h2.5M914.6 518.95h-2.5M556.5 517.34h2.5M914.6 517.34h-2.5M556.5 515.97h2.5M914.6 515.97h-2.5M556.5 514.79h2.5M914.6 514.79h-2.5M556.5 513.74h2.5M914.6 513.74h-2.5M556.5 512.81h5M914.6 512.81h-5M556.5 506.67h2.5M914.6 506.67h-2.5M556.5 503.07h2.5M914.6 503.07h-2.5" stroke="#8a8a8a" stroke-width="0.7" fill="none"/>
<text transform="translate(553,517.07) scale(0.97,1)" font-size="12.0" text-anchor="end" fill="#000" style="font-family:'Liberation Sans', sans-serif" >10000</text>
<text transform="translate(553,537.48) scale(0.97,1)" font-size="12.0" text-anchor="end" fill="#000" style="font-family:'Liberation Sans', sans-serif" >1000</text>
<text transform="translate(553,557.88) scale(0.97,1)" font-size="12.0" text-anchor="end" fill="#000" style="font-family:'Liberation Sans', sans-serif" >100</text>
<text transform="translate(553,578.29) scale(0.97,1)" font-size="12.0" text-anchor="end" fill="#000" style="font-family:'Liberation Sans', sans-serif" >10</text>
<text transform="translate(516.7,537.45) rotate(-90)" text-anchor="middle" style="font-family:'Liberation Serif', serif" fill="#000"><tspan font-size="15">E</tspan><tspan font-size="13" dy="3.5">i</tspan><tspan font-size="10.5" dy="-3.5"> </tspan><tspan font-size="10.5">[ev]</tspan></text>
<rect x="556.5" y="18.3" width="358.1" height="76.1" fill="none" stroke="#8a8a8a" stroke-width="1"/>
<path d="M581.19 18.3v2.5M581.19 94.4v-2.5M640.7 18.3v2.5M640.7 94.4v-2.5M700.21 18.3v2.5M700.21 94.4v-2.5M759.73 18.3v2.5M759.73 94.4v-2.5M819.24 18.3v2.5M819.24 94.4v-2.5M878.76 18.3v2.5M878.76 94.4v-2.5" stroke="#8a8a8a" stroke-width="0.8" fill="none"/>
<rect x="556.5" y="99.2" width="358.1" height="75.8" fill="none" stroke="#8a8a8a" stroke-width="1"/>
<path d="M581.19 99.2v2.5M581.19 175v-2.5M640.7 99.2v2.5M640.7 175v-2.5M700.21 99.2v2.5M700.21 175v-2.5M759.73 99.2v2.5M759.73 175v-2.5M819.24 99.2v2.5M819.24 175v-2.5M878.76 99.2v2.5M878.76 175v-2.5" stroke="#8a8a8a" stroke-width="0.8" fill="none"/>
<rect x="556.5" y="179.5" width="358.1" height="76" fill="none" stroke="#8a8a8a" stroke-width="1"/>
<path d="M581.19 179.5v2.5M581.19 255.5v-2.5M640.7 179.5v2.5M640.7 255.5v-2.5M700.21 179.5v2.5M700.21 255.5v-2.5M759.73 179.5v2.5M759.73 255.5v-2.5M819.24 179.5v2.5M819.24 255.5v-2.5M878.76 179.5v2.5M878.76 255.5v-2.5" stroke="#8a8a8a" stroke-width="0.8" fill="none"/>
<rect x="556.5" y="260.2" width="358.1" height="76.2" fill="none" stroke="#8a8a8a" stroke-width="1"/>
<path d="M581.19 260.2v2.5M581.19 336.4v-2.5M640.7 260.2v2.5M640.7 336.4v-2.5M700.21 260.2v2.5M700.21 336.4v-2.5M759.73 260.2v2.5M759.73 336.4v-2.5M819.24 260.2v2.5M819.24 336.4v-2.5M878.76 260.2v2.5M878.76 336.4v-2.5" stroke="#8a8a8a" stroke-width="0.8" fill="none"/>
<rect x="556.5" y="340.6" width="358.1" height="76.1" fill="none" stroke="#8a8a8a" stroke-width="1"/>
<path d="M581.19 340.6v2.5M581.19 416.7v-2.5M640.7 340.6v2.5M640.7 416.7v-2.5M700.21 340.6v2.5M700.21 416.7v-2.5M759.73 340.6v2.5M759.73 416.7v-2.5M819.24 340.6v2.5M819.24 416.7v-2.5M878.76 340.6v2.5M878.76 416.7v-2.5" stroke="#8a8a8a" stroke-width="0.8" fill="none"/>
<rect x="556.5" y="421.3" width="358.1" height="76" fill="none" stroke="#8a8a8a" stroke-width="1"/>
<path d="M581.19 421.3v2.5M581.19 497.3v-2.5M640.7 421.3v2.5M640.7 497.3v-2.5M700.21 421.3v2.5M700.21 497.3v-2.5M759.73 421.3v2.5M759.73 497.3v-2.5M819.24 421.3v2.5M819.24 497.3v-2.5M878.76 421.3v2.5M878.76 497.3v-2.5" stroke="#8a8a8a" stroke-width="0.8" fill="none"/>
<rect x="556.5" y="502.2" width="358.1" height="75.5" fill="none" stroke="#8a8a8a" stroke-width="1"/>
<path d="M581.19 502.2v2.5M581.19 577.7v-2.5M640.7 502.2v2.5M640.7 577.7v-2.5M700.21 502.2v2.5M700.21 577.7v-2.5M759.73 502.2v2.5M759.73 577.7v-2.5M819.24 502.2v2.5M819.24 577.7v-2.5M878.76 502.2v2.5M878.76 577.7v-2.5" stroke="#8a8a8a" stroke-width="0.8" fill="none"/>
<text x="887" y="73.1" font-size="27" text-anchor="start" fill="#000" style="font-family:'Liberation Serif', serif" stroke="#000" stroke-width="0.25">h</text>
<text x="888.7" y="121.8" font-size="27" text-anchor="start" fill="#000" style="font-family:'Liberation Serif', serif" stroke="#000" stroke-width="0.25">i</text>
<text x="886.2" y="226.3" font-size="27" text-anchor="start" fill="#000" style="font-family:'Liberation Serif', serif" stroke="#000" stroke-width="0.25">j</text>
<text x="888.7" y="283.3" font-size="27" text-anchor="start" fill="#000" style="font-family:'Liberation Serif', serif" stroke="#000" stroke-width="0.25">k</text>
<text x="889.7" y="371" font-size="27" text-anchor="start" fill="#000" style="font-family:'Liberation Serif', serif" stroke="#000" stroke-width="0.25">l</text>
<text x="887.2" y="448.1" font-size="27" text-anchor="start" fill="#000" style="font-family:'Liberation Serif', serif" stroke="#000" stroke-width="0.25">m</text>
<text x="890.2" y="530.3" font-size="27" text-anchor="start" fill="#000" style="font-family:'Liberation Serif', serif" stroke="#000" stroke-width="0.25">n</text>
<text transform="translate(919.6,39.5) scale(1.1,1)" font-size="10.5" text-anchor="start" fill="#0000ff" style="font-family:'Liberation Sans', sans-serif" >Vx</text>
<text transform="translate(919.6,60.6) scale(1.1,1)" font-size="10.5" text-anchor="start" fill="#00ee00" style="font-family:'Liberation Sans', sans-serif" >Vy</text>
<text transform="translate(919.6,81.3) scale(1.1,1)" font-size="10.5" text-anchor="start" fill="#ff0000" style="font-family:'Liberation Sans', sans-serif" >Vz</text>
<text transform="translate(920.1,137.3) scale(1.1,1)" font-size="10.5" text-anchor="start" fill="#000" style="font-family:'Liberation Sans', sans-serif" >IBI</text>
<text transform="translate(919.6,195.7) scale(1.1,1)" font-size="10.5" text-anchor="start" fill="#ff0000" style="font-family:'Liberation Sans', sans-serif" >Bz</text>
<text transform="translate(919.6,221.6) scale(1.1,1)" font-size="10.5" text-anchor="start" fill="#00ee00" style="font-family:'Liberation Sans', sans-serif" >By</text>
<text transform="translate(919.6,246.6) scale(1.1,1)" font-size="10.5" text-anchor="start" fill="#0000ff" style="font-family:'Liberation Sans', sans-serif" >Bx</text>
<text transform="translate(491,591.7) scale(1.1,1)" font-size="10.5" style="font-family:'Liberation Sans', sans-serif">X [R<tspan font-size="7" dy="2">E</tspan><tspan dy="-2">]</tspan></text>
<text transform="translate(491,600.9) scale(1.1,1)" font-size="10.5" style="font-family:'Liberation Sans', sans-serif">Y [R<tspan font-size="7" dy="2">E</tspan><tspan dy="-2">]</tspan></text>
<text transform="translate(491,610.5) scale(1.1,1)" font-size="10.5" style="font-family:'Liberation Sans', sans-serif">Z [R<tspan font-size="7" dy="2">E</tspan><tspan dy="-2">]</tspan></text>
<text transform="translate(491,620) scale(1.1,1)" font-size="10.5" text-anchor="start" fill="#000" style="font-family:'Liberation Sans', sans-serif" >hhmm</text>
<text transform="translate(491,629.2) scale(1.1,1)" font-size="10.5" text-anchor="start" fill="#000" style="font-family:'Liberation Sans', sans-serif" >2015 Jan 03</text>
<text transform="translate(640.7,592.4) scale(1.08,1)" font-size="10.5" text-anchor="middle" fill="#000" style="font-family:'Liberation Sans', sans-serif" >-1.2</text>
<text transform="translate(640.7,601.6) scale(1.08,1)" font-size="10.5" text-anchor="middle" fill="#000" style="font-family:'Liberation Sans', sans-serif" >10.3</text>
<text transform="translate(640.7,611.2) scale(1.08,1)" font-size="10.5" text-anchor="middle" fill="#000" style="font-family:'Liberation Sans', sans-serif" >0.8</text>
<text transform="translate(640.7,620.7) scale(1.08,1)" font-size="10.5" text-anchor="middle" fill="#000" style="font-family:'Liberation Sans', sans-serif" >0500</text>
<text transform="translate(759.7,592.4) scale(1.08,1)" font-size="10.5" text-anchor="middle" fill="#000" style="font-family:'Liberation Sans', sans-serif" >-1.4</text>
<text transform="translate(759.7,601.6) scale(1.08,1)" font-size="10.5" text-anchor="middle" fill="#000" style="font-family:'Liberation Sans', sans-serif" >10.5</text>
<text transform="translate(759.7,611.2) scale(1.08,1)" font-size="10.5" text-anchor="middle" fill="#000" style="font-family:'Liberation Sans', sans-serif" >0.6</text>
<text transform="translate(759.7,620.7) scale(1.08,1)" font-size="10.5" text-anchor="middle" fill="#000" style="font-family:'Liberation Sans', sans-serif" >0520</text>
<text transform="translate(878.8,592.4) scale(1.08,1)" font-size="10.5" text-anchor="middle" fill="#000" style="font-family:'Liberation Sans', sans-serif" >-1.6</text>
<text transform="translate(878.8,601.6) scale(1.08,1)" font-size="10.5" text-anchor="middle" fill="#000" style="font-family:'Liberation Sans', sans-serif" >10.6</text>
<text transform="translate(878.8,611.2) scale(1.08,1)" font-size="10.5" text-anchor="middle" fill="#000" style="font-family:'Liberation Sans', sans-serif" >0.4</text>
<text transform="translate(878.8,620.7) scale(1.08,1)" font-size="10.5" text-anchor="middle" fill="#000" style="font-family:'Liberation Sans', sans-serif" >0540</text>
<text x="239.15" y="665.5" font-size="14" text-anchor="middle" fill="#000" style="font-family:'Liberation Sans', sans-serif" >THEMIS-E Observations</text>
<path d="M65.5 749.4h6M423.8 749.4h-6M65.5 745.6h3M423.8 745.6h-3M65.5 741.79h3M423.8 741.79h-3M65.5 737.99h3M423.8 737.99h-3M65.5 734.18h3M423.8 734.18h-3M65.5 730.38h6M423.8 730.38h-6M65.5 726.57h3M423.8 726.57h-3M65.5 722.76h3M423.8 722.76h-3M65.5 718.96h3M423.8 718.96h-3M65.5 715.15h3M423.8 715.15h-3M65.5 711.35h6M423.8 711.35h-6M65.5 707.54h3M423.8 707.54h-3M65.5 703.74h3M423.8 703.74h-3M65.5 699.93h3M423.8 699.93h-3M65.5 696.13h3M423.8 696.13h-3M65.5 692.32h6M423.8 692.32h-6M65.5 688.52h3M423.8 688.52h-3M65.5 684.71h3M423.8 684.71h-3M65.5 680.91h3M423.8 680.91h-3M65.5 677.11h3M423.8 677.11h-3M65.5 673.3h6M423.8 673.3h-6" stroke="#8a8a8a" stroke-width="0.7" fill="none"/>
<text transform="translate(62,680.96) scale(0.97,1)" font-size="12.0" text-anchor="end" fill="#000" style="font-family:'Liberation Sans', sans-serif" >100</text>
<text transform="translate(62,696.58) scale(0.97,1)" font-size="12.0" text-anchor="end" fill="#000" style="font-family:'Liberation Sans', sans-serif" >50</text>
<text transform="translate(62,715.61) scale(0.97,1)" font-size="12.0" text-anchor="end" fill="#000" style="font-family:'Liberation Sans', sans-serif" >0</text>
<text transform="translate(62,734.63) scale(0.97,1)" font-size="12.0" text-anchor="end" fill="#000" style="font-family:'Liberation Sans', sans-serif" >-50</text>
<text transform="translate(62,750.26) scale(0.97,1)" font-size="12.0" text-anchor="end" fill="#000" style="font-family:'Liberation Sans', sans-serif" >-100</text>
<text transform="translate(21,712.35) rotate(-90)" text-anchor="middle" style="font-family:'Liberation Serif', serif" fill="#000"><tspan font-size="15">V</tspan><tspan font-size="10.5"> </tspan><tspan font-size="10.5">[km/s]</tspan></text>
<path d="M65.5 830h6M423.8 830h-6M65.5 824.95h3M423.8 824.95h-3M65.5 819.89h3M423.8 819.89h-3M65.5 814.84h3M423.8 814.84h-3M65.5 809.79h3M423.8 809.79h-3M65.5 804.73h6M423.8 804.73h-6M65.5 799.68h3M423.8 799.68h-3M65.5 794.63h3M423.8 794.63h-3M65.5 789.57h3M423.8 789.57h-3M65.5 784.52h3M423.8 784.52h-3M65.5 779.47h6M423.8 779.47h-6M65.5 774.41h3M423.8 774.41h-3M65.5 769.36h3M423.8 769.36h-3M65.5 764.31h3M423.8 764.31h-3M65.5 759.25h3M423.8 759.25h-3M65.5 754.2h6M423.8 754.2h-6" stroke="#8a8a8a" stroke-width="0.7" fill="none"/>
<text transform="translate(62,761.86) scale(0.97,1)" font-size="12.0" text-anchor="end" fill="#000" style="font-family:'Liberation Sans', sans-serif" >60</text>
<text transform="translate(62,783.73) scale(0.97,1)" font-size="12.0" text-anchor="end" fill="#000" style="font-family:'Liberation Sans', sans-serif" >40</text>
<text transform="translate(62,808.99) scale(0.97,1)" font-size="12.0" text-anchor="end" fill="#000" style="font-family:'Liberation Sans', sans-serif" >20</text>
<text transform="translate(62,830.86) scale(0.97,1)" font-size="12.0" text-anchor="end" fill="#000" style="font-family:'Liberation Sans', sans-serif" >0</text>
<text transform="translate(21,791.4) rotate(-90)" text-anchor="middle" style="font-family:'Liberation Serif', serif" fill="#000"><tspan font-size="15">B</tspan><tspan font-size="10" dy="1">t</tspan><tspan font-size="10.5" dy="-1"> </tspan><tspan font-size="10.5">[nT]</tspan></text>
<path d="M65.5 910.5h6M423.8 910.5h-6M65.5 905.75h3M423.8 905.75h-3M65.5 901h3M423.8 901h-3M65.5 896.25h3M423.8 896.25h-3M65.5 891.5h6M423.8 891.5h-6M65.5 886.75h3M423.8 886.75h-3M65.5 882h3M423.8 882h-3M65.5 877.25h3M423.8 877.25h-3M65.5 872.5h6M423.8 872.5h-6M65.5 867.75h3M423.8 867.75h-3M65.5 863h3M423.8 863h-3M65.5 858.25h3M423.8 858.25h-3M65.5 853.5h6M423.8 853.5h-6M65.5 848.75h3M423.8 848.75h-3M65.5 844h3M423.8 844h-3M65.5 839.25h3M423.8 839.25h-3M65.5 834.5h6M423.8 834.5h-6" stroke="#8a8a8a" stroke-width="0.7" fill="none"/>
<text transform="translate(62,842.16) scale(0.97,1)" font-size="12.0" text-anchor="end" fill="#000" style="font-family:'Liberation Sans', sans-serif" >40</text>
<text transform="translate(62,857.76) scale(0.97,1)" font-size="12.0" text-anchor="end" fill="#000" style="font-family:'Liberation Sans', sans-serif" >20</text>
<text transform="translate(62,876.76) scale(0.97,1)" font-size="12.0" text-anchor="end" fill="#000" style="font-family:'Liberation Sans', sans-serif" >0</text>
<text transform="translate(62,895.76) scale(0.97,1)" font-size="12.0" text-anchor="end" fill="#000" style="font-family:'Liberation Sans', sans-serif" >-20</text>
<text transform="translate(62,911.36) scale(0.97,1)" font-size="12.0" text-anchor="end" fill="#000" style="font-family:'Liberation Sans', sans-serif" >-40</text>
<text transform="translate(21,872.1) rotate(-90)" text-anchor="middle" style="font-family:'Liberation Serif', serif" fill="#000"><tspan font-size="15">B</tspan><tspan font-size="10.5"> </tspan><tspan font-size="10.5">[nT]</tspan></text>
<path d="M65.5 991.4h6M423.8 991.4h-6M65.5 979.93h3M423.8 979.93h-3M65.5 973.22h3M423.8 973.22h-3M65.5 968.46h3M423.8 968.46h-3M65.5 964.77h3M423.8 964.77h-3M65.5 961.75h3M423.8 961.75h-3M65.5 959.2h3M423.8 959.2h-3M65.5 956.99h3M423.8 956.99h-3M65.5 955.04h3M423.8 955.04h-3M65.5 953.3h6M423.8 953.3h-6M65.5 941.83h3M423.8 941.83h-3M65.5 935.12h3M423.8 935.12h-3M65.5 930.36h3M423.8 930.36h-3M65.5 926.67h3M423.8 926.67h-3M65.5 923.65h3M423.8 923.65h-3M65.5 921.1h3M423.8 921.1h-3M65.5 918.89h3M423.8 918.89h-3M65.5 916.94h3M423.8 916.94h-3M65.5 915.2h6M423.8 915.2h-6" stroke="#8a8a8a" stroke-width="0.7" fill="none"/>
<text transform="translate(62,922.86) scale(0.97,1)" font-size="12.0" text-anchor="end" fill="#000" style="font-family:'Liberation Sans', sans-serif" >10.0</text>
<text transform="translate(62,957.56) scale(0.97,1)" font-size="12.0" text-anchor="end" fill="#000" style="font-family:'Liberation Sans', sans-serif" >1.0</text>
<text transform="translate(62,992.26) scale(0.97,1)" font-size="12.0" text-anchor="end" fill="#000" style="font-family:'Liberation Sans', sans-serif" >0.1</text>
<text transform="translate(21,959.6) rotate(-90)" text-anchor="middle" style="font-family:'Liberation Serif', serif" fill="#000"><tspan font-size="15">N</tspan><tspan font-size="12" dy="1.5">e</tspan><tspan font-size="10.5" dy="-1.5"> </tspan><tspan font-size="10.5">[cm</tspan><tspan font-size="6.5" dy="-4">-3</tspan><tspan font-size="10.5" dy="4">]</tspan></text>
<path d="M65.5 1071.7h6M423.8 1071.7h-6M65.5 1060.25h3M423.8 1060.25h-3M65.5 1053.55h3M423.8 1053.55h-3M65.5 1048.79h3M423.8 1048.79h-3M65.5 1045.1h3M423.8 1045.1h-3M65.5 1042.09h3M423.8 1042.09h-3M65.5 1039.54h3M423.8 1039.54h-3M65.5 1037.34h3M423.8 1037.34h-3M65.5 1035.39h3M423.8 1035.39h-3M65.5 1033.65h6M423.8 1033.65h-6M65.5 1022.2h3M423.8 1022.2h-3M65.5 1015.5h3M423.8 1015.5h-3M65.5 1010.74h3M423.8 1010.74h-3M65.5 1007.05h3M423.8 1007.05h-3M65.5 1004.04h3M423.8 1004.04h-3M65.5 1001.49h3M423.8 1001.49h-3M65.5 999.29h3M423.8 999.29h-3M65.5 997.34h3M423.8 997.34h-3M65.5 995.6h6M423.8 995.6h-6" stroke="#8a8a8a" stroke-width="0.7" fill="none"/>
<text transform="translate(62,1003.26) scale(0.97,1)" font-size="12.0" text-anchor="end" fill="#000" style="font-family:'Liberation Sans', sans-serif" >10.0</text>
<text transform="translate(62,1037.91) scale(0.97,1)" font-size="12.0" text-anchor="end" fill="#000" style="font-family:'Liberation Sans', sans-serif" >1.0</text>
<text transform="translate(62,1072.56) scale(0.97,1)" font-size="12.0" text-anchor="end" fill="#000" style="font-family:'Liberation Sans', sans-serif" >0.1</text>
<text transform="translate(21,1038.05) rotate(-90)" text-anchor="middle" style="font-family:'Liberation Serif', serif" fill="#000"><tspan font-size="15">N</tspan><tspan font-size="12" dy="1.5">i</tspan><tspan font-size="10.5" dy="-1.5"> </tspan><tspan font-size="10.5">[cm</tspan><tspan font-size="6.5" dy="-4">-3</tspan><tspan font-size="10.5" dy="4">]</tspan></text>
<path d="M65.5 1151.78h2.5M423.8 1151.78h-2.5M65.5 1150.59h2.5M423.8 1150.59h-2.5M65.5 1149.54h2.5M423.8 1149.54h-2.5M65.5 1148.6h5M423.8 1148.6h-5M65.5 1142.42h2.5M423.8 1142.42h-2.5M65.5 1138.8h2.5M423.8 1138.8h-2.5M65.5 1136.24h2.5M423.8 1136.24h-2.5M65.5 1134.25h2.5M423.8 1134.25h-2.5M65.5 1132.62h2.5M423.8 1132.62h-2.5M65.5 1131.24h2.5M423.8 1131.24h-2.5M65.5 1130.05h2.5M423.8 1130.05h-2.5M65.5 1129h2.5M423.8 1129h-2.5M65.5 1128.06h5M423.8 1128.06h-5M65.5 1121.88h2.5M423.8 1121.88h-2.5M65.5 1118.26h2.5M423.8 1118.26h-2.5M65.5 1115.7h2.5M423.8 1115.7h-2.5M65.5 1113.7h2.5M423.8 1113.7h-2.5M65.5 1112.08h2.5M423.8 1112.08h-2.5M65.5 1110.7h2.5M423.8 1110.7h-2.5M65.5 1109.51h2.5M423.8 1109.51h-2.5M65.5 1108.46h2.5M423.8 1108.46h-2.5M65.5 1107.52h5M423.8 1107.52h-5M65.5 1101.34h2.5M423.8 1101.34h-2.5M65.5 1097.72h2.5M423.8 1097.72h-2.5M65.5 1095.15h2.5M423.8 1095.15h-2.5M65.5 1093.16h2.5M423.8 1093.16h-2.5M65.5 1091.54h2.5M423.8 1091.54h-2.5M65.5 1090.16h2.5M423.8 1090.16h-2.5M65.5 1088.97h2.5M423.8 1088.97h-2.5M65.5 1087.92h2.5M423.8 1087.92h-2.5M65.5 1086.98h5M423.8 1086.98h-5M65.5 1080.8h2.5M423.8 1080.8h-2.5M65.5 1077.18h2.5M423.8 1077.18h-2.5" stroke="#8a8a8a" stroke-width="0.7" fill="none"/>
<text transform="translate(62,1091.24) scale(0.97,1)" font-size="12.0" text-anchor="end" fill="#000" style="font-family:'Liberation Sans', sans-serif" >10000</text>
<text transform="translate(62,1111.78) scale(0.97,1)" font-size="12.0" text-anchor="end" fill="#000" style="font-family:'Liberation Sans', sans-serif" >1000</text>
<text transform="translate(62,1132.32) scale(0.97,1)" font-size="12.0" text-anchor="end" fill="#000" style="font-family:'Liberation Sans', sans-serif" >100</text>
<text transform="translate(62,1152.86) scale(0.97,1)" font-size="12.0" text-anchor="end" fill="#000" style="font-family:'Liberation Sans', sans-serif" >10</text>
<text transform="translate(21,1117.9) rotate(-90)" text-anchor="middle" style="font-family:'Liberation Serif', serif" fill="#000"><tspan font-size="15">E</tspan><tspan font-size="13" dy="3.5">e</tspan><tspan font-size="10.5" dy="-3.5"> </tspan><tspan font-size="10.5">[ev]</tspan></text>
<path d="M65.5 1232.19h2.5M423.8 1232.19h-2.5M65.5 1231h2.5M423.8 1231h-2.5M65.5 1229.96h2.5M423.8 1229.96h-2.5M65.5 1229.03h5M423.8 1229.03h-5M65.5 1222.88h2.5M423.8 1222.88h-2.5M65.5 1219.29h2.5M423.8 1219.29h-2.5M65.5 1216.74h2.5M423.8 1216.74h-2.5M65.5 1214.76h2.5M423.8 1214.76h-2.5M65.5 1213.15h2.5M423.8 1213.15h-2.5M65.5 1211.78h2.5M423.8 1211.78h-2.5M65.5 1210.6h2.5M423.8 1210.6h-2.5M65.5 1209.56h2.5M423.8 1209.56h-2.5M65.5 1208.62h5M423.8 1208.62h-5M65.5 1202.48h2.5M423.8 1202.48h-2.5M65.5 1198.89h2.5M423.8 1198.89h-2.5M65.5 1196.34h2.5M423.8 1196.34h-2.5M65.5 1194.36h2.5M423.8 1194.36h-2.5M65.5 1192.74h2.5M423.8 1192.74h-2.5M65.5 1191.38h2.5M423.8 1191.38h-2.5M65.5 1190.19h2.5M423.8 1190.19h-2.5M65.5 1189.15h2.5M423.8 1189.15h-2.5M65.5 1188.22h5M423.8 1188.22h-5M65.5 1182.07h2.5M423.8 1182.07h-2.5M65.5 1178.48h2.5M423.8 1178.48h-2.5M65.5 1175.93h2.5M423.8 1175.93h-2.5M65.5 1173.95h2.5M423.8 1173.95h-2.5M65.5 1172.34h2.5M423.8 1172.34h-2.5M65.5 1170.97h2.5M423.8 1170.97h-2.5M65.5 1169.79h2.5M423.8 1169.79h-2.5M65.5 1168.74h2.5M423.8 1168.74h-2.5M65.5 1167.81h5M423.8 1167.81h-5M65.5 1161.67h2.5M423.8 1161.67h-2.5M65.5 1158.07h2.5M423.8 1158.07h-2.5" stroke="#8a8a8a" stroke-width="0.7" fill="none"/>
<text transform="translate(62,1172.07) scale(0.97,1)" font-size="12.0" text-anchor="end" fill="#000" style="font-family:'Liberation Sans', sans-serif" >10000</text>
<text transform="translate(62,1192.48) scale(0.97,1)" font-size="12.0" text-anchor="end" fill="#000" style="font-family:'Liberation Sans', sans-serif" >1000</text>
<text transform="translate(62,1212.88) scale(0.97,1)" font-size="12.0" text-anchor="end" fill="#000" style="font-family:'Liberation Sans', sans-serif" >100</text>
<text transform="translate(62,1233.29) scale(0.97,1)" font-size="12.0" text-anchor="end" fill="#000" style="font-family:'Liberation Sans', sans-serif" >10</text>
<text transform="translate(21,1196.85) rotate(-90)" text-anchor="middle" style="font-family:'Liberation Serif', serif" fill="#000"><tspan font-size="15">E</tspan><tspan font-size="13" dy="3.5">i</tspan><tspan font-size="10.5" dy="-3.5"> </tspan><tspan font-size="10.5">[ev]</tspan></text>
<rect x="65.5" y="673.3" width="358.3" height="76.1" fill="none" stroke="#8a8a8a" stroke-width="1"/>
<path d="M90.15 673.3v2.5M90.15 749.4v-2.5M149.7 673.3v2.5M149.7 749.4v-2.5M209.25 673.3v2.5M209.25 749.4v-2.5M268.8 673.3v2.5M268.8 749.4v-2.5M328.34 673.3v2.5M328.34 749.4v-2.5M387.89 673.3v2.5M387.89 749.4v-2.5" stroke="#8a8a8a" stroke-width="0.8" fill="none"/>
<rect x="65.5" y="754.2" width="358.3" height="75.8" fill="none" stroke="#8a8a8a" stroke-width="1"/>
<path d="M90.15 754.2v2.5M90.15 830v-2.5M149.7 754.2v2.5M149.7 830v-2.5M209.25 754.2v2.5M209.25 830v-2.5M268.8 754.2v2.5M268.8 830v-2.5M328.34 754.2v2.5M328.34 830v-2.5M387.89 754.2v2.5M387.89 830v-2.5" stroke="#8a8a8a" stroke-width="0.8" fill="none"/>
<rect x="65.5" y="834.5" width="358.3" height="76" fill="none" stroke="#8a8a8a" stroke-width="1"/>
<path d="M90.15 834.5v2.5M90.15 910.5v-2.5M149.7 834.5v2.5M149.7 910.5v-2.5M209.25 834.5v2.5M209.25 910.5v-2.5M268.8 834.5v2.5M268.8 910.5v-2.5M328.34 834.5v2.5M328.34 910.5v-2.5M387.89 834.5v2.5M387.89 910.5v-2.5" stroke="#8a8a8a" stroke-width="0.8" fill="none"/>
<rect x="65.5" y="915.2" width="358.3" height="76.2" fill="none" stroke="#8a8a8a" stroke-width="1"/>
<path d="M90.15 915.2v2.5M90.15 991.4v-2.5M149.7 915.2v2.5M149.7 991.4v-2.5M209.25 915.2v2.5M209.25 991.4v-2.5M268.8 915.2v2.5M268.8 991.4v-2.5M328.34 915.2v2.5M328.34 991.4v-2.5M387.89 915.2v2.5M387.89 991.4v-2.5" stroke="#8a8a8a" stroke-width="0.8" fill="none"/>
<rect x="65.5" y="995.6" width="358.3" height="76.1" fill="none" stroke="#8a8a8a" stroke-width="1"/>
<path d="M90.15 995.6v2.5M90.15 1071.7v-2.5M149.7 995.6v2.5M149.7 1071.7v-2.5M209.25 995.6v2.5M209.25 1071.7v-2.5M268.8 995.6v2.5M268.8 1071.7v-2.5M328.34 995.6v2.5M328.34 1071.7v-2.5M387.89 995.6v2.5M387.89 1071.7v-2.5" stroke="#8a8a8a" stroke-width="0.8" fill="none"/>
<rect x="65.5" y="1076.3" width="358.3" height="76" fill="none" stroke="#8a8a8a" stroke-width="1"/>
<path d="M90.15 1076.3v2.5M90.15 1152.3v-2.5M149.7 1076.3v2.5M149.7 1152.3v-2.5M209.25 1076.3v2.5M209.25 1152.3v-2.5M268.8 1076.3v2.5M268.8 1152.3v-2.5M328.34 1076.3v2.5M328.34 1152.3v-2.5M387.89 1076.3v2.5M387.89 1152.3v-2.5" stroke="#8a8a8a" stroke-width="0.8" fill="none"/>
<rect x="65.5" y="1157.2" width="358.3" height="75.5" fill="none" stroke="#8a8a8a" stroke-width="1"/>
<path d="M90.15 1157.2v2.5M90.15 1232.7v-2.5M149.7 1157.2v2.5M149.7 1232.7v-2.5M209.25 1157.2v2.5M209.25 1232.7v-2.5M268.8 1157.2v2.5M268.8 1232.7v-2.5M328.34 1157.2v2.5M328.34 1232.7v-2.5M387.89 1157.2v2.5M387.89 1232.7v-2.5" stroke="#8a8a8a" stroke-width="0.8" fill="none"/>
<text x="396.1" y="691" font-size="27" text-anchor="start" fill="#000" style="font-family:'Liberation Serif', serif" stroke="#000" stroke-width="0.25">o</text>
<text x="396.1" y="820.7" font-size="27" text-anchor="start" fill="#000" style="font-family:'Liberation Serif', serif" stroke="#000" stroke-width="0.25">p</text>
<text x="396.4" y="871.3" font-size="27" text-anchor="start" fill="#000" style="font-family:'Liberation Serif', serif" stroke="#000" stroke-width="0.25">q</text>
<text x="396.2" y="935.4" font-size="27" text-anchor="start" fill="#000" style="font-family:'Liberation Serif', serif" stroke="#000" stroke-width="0.25">r</text>
<text x="397.8" y="1012.7" font-size="27" text-anchor="start" fill="#000" style="font-family:'Liberation Serif', serif" stroke="#000" stroke-width="0.25">s</text>
<text x="397.8" y="1100.6" font-size="27" text-anchor="start" fill="#000" style="font-family:'Liberation Serif', serif" stroke="#000" stroke-width="0.25">t</text>
<text x="399.3" y="1180.4" font-size="27" text-anchor="start" fill="#000" style="font-family:'Liberation Serif', serif" stroke="#000" stroke-width="0.25">u</text>
<text transform="translate(429.3,695.6) scale(1.1,1)" font-size="10.5" text-anchor="start" fill="#0000ff" style="font-family:'Liberation Sans', sans-serif" >Vx</text>
<text transform="translate(429.3,716.6) scale(1.1,1)" font-size="10.5" text-anchor="start" fill="#00ee00" style="font-family:'Liberation Sans', sans-serif" >Vy</text>
<text transform="translate(429.3,737.8) scale(1.1,1)" font-size="10.5" text-anchor="start" fill="#ff0000" style="font-family:'Liberation Sans', sans-serif" >Vz</text>
<text transform="translate(429.8,792.3) scale(1.1,1)" font-size="10.5" text-anchor="start" fill="#000" style="font-family:'Liberation Sans', sans-serif" >IBI</text>
<text transform="translate(427,851.2) scale(1.1,1)" font-size="10.5" text-anchor="start" fill="#ff0000" style="font-family:'Liberation Sans', sans-serif" >Bz</text>
<text transform="translate(427,876.6) scale(1.1,1)" font-size="10.5" text-anchor="start" fill="#00ee00" style="font-family:'Liberation Sans', sans-serif" >By</text>
<text transform="translate(427,901.6) scale(1.1,1)" font-size="10.5" text-anchor="start" fill="#0000ff" style="font-family:'Liberation Sans', sans-serif" >Bx</text>
<text transform="translate(0.5,1246.7) scale(1.1,1)" font-size="10.5" style="font-family:'Liberation Sans', sans-serif">X [R<tspan font-size="7" dy="2">E</tspan><tspan dy="-2">]</tspan></text>
<text transform="translate(0.5,1255.9) scale(1.1,1)" font-size="10.5" style="font-family:'Liberation Sans', sans-serif">Y [R<tspan font-size="7" dy="2">E</tspan><tspan dy="-2">]</tspan></text>
<text transform="translate(0.5,1265.5) scale(1.1,1)" font-size="10.5" style="font-family:'Liberation Sans', sans-serif">Z [R<tspan font-size="7" dy="2">E</tspan><tspan dy="-2">]</tspan></text>
<text transform="translate(0.5,1275) scale(1.1,1)" font-size="10.5" text-anchor="start" fill="#000" style="font-family:'Liberation Sans', sans-serif" >hhmm</text>
<text transform="translate(0.5,1284.2) scale(1.1,1)" font-size="10.5" text-anchor="start" fill="#000" style="font-family:'Liberation Sans', sans-serif" >2015 Jan 03</text>
<text transform="translate(149.7,1247.4) scale(1.08,1)" font-size="10.5" text-anchor="middle" fill="#000" style="font-family:'Liberation Sans', sans-serif" >-2.6</text>
<text transform="translate(149.7,1256.6) scale(1.08,1)" font-size="10.5" text-anchor="middle" fill="#000" style="font-family:'Liberation Sans', sans-serif" >11.1</text>
<text transform="translate(149.7,1266.2) scale(1.08,1)" font-size="10.5" text-anchor="middle" fill="#000" style="font-family:'Liberation Sans', sans-serif" >0.4</text>
<text transform="translate(149.7,1275.7) scale(1.08,1)" font-size="10.5" text-anchor="middle" fill="#000" style="font-family:'Liberation Sans', sans-serif" >0500</text>
<text transform="translate(268.7,1247.4) scale(1.08,1)" font-size="10.5" text-anchor="middle" fill="#000" style="font-family:'Liberation Sans', sans-serif" >-2.9</text>
<text transform="translate(268.7,1256.6) scale(1.08,1)" font-size="10.5" text-anchor="middle" fill="#000" style="font-family:'Liberation Sans', sans-serif" >11.2</text>
<text transform="translate(268.7,1266.2) scale(1.08,1)" font-size="10.5" text-anchor="middle" fill="#000" style="font-family:'Liberation Sans', sans-serif" >0.1</text>
<text transform="translate(268.7,1275.7) scale(1.08,1)" font-size="10.5" text-anchor="middle" fill="#000" style="font-family:'Liberation Sans', sans-serif" >0520</text>
<text transform="translate(387.8,1247.4) scale(1.08,1)" font-size="10.5" text-anchor="middle" fill="#000" style="font-family:'Liberation Sans', sans-serif" >-3.1</text>
<text transform="translate(387.8,1256.6) scale(1.08,1)" font-size="10.5" text-anchor="middle" fill="#000" style="font-family:'Liberation Sans', sans-serif" >11.2</text>
<text transform="translate(387.8,1266.2) scale(1.08,1)" font-size="10.5" text-anchor="middle" fill="#000" style="font-family:'Liberation Sans', sans-serif" >-0.1</text>
<text transform="translate(387.8,1275.7) scale(1.08,1)" font-size="10.5" text-anchor="middle" fill="#000" style="font-family:'Liberation Sans', sans-serif" >0540</text>
<rect x="429.9" y="421.2" width="5.90" height="76.10" fill="url(#cbg)" stroke="#202020" stroke-width="0.6"/>
<rect x="429.9" y="502.0" width="5.90" height="76.00" fill="url(#cbg)" stroke="#202020" stroke-width="0.6"/>
<text transform="translate(439.5,427.98) scale(1.03,1)" font-size="10.5" style="font-family:'Liberation Sans', sans-serif">10<tspan font-size="6.8" dy="-4.8">8</tspan></text>
<text transform="translate(439.5,437.78) scale(1.03,1)" font-size="10.5" style="font-family:'Liberation Sans', sans-serif">10<tspan font-size="6.8" dy="-4.8">7</tspan></text>
<text transform="translate(439.5,448.78) scale(1.03,1)" font-size="10.5" style="font-family:'Liberation Sans', sans-serif">10<tspan font-size="6.8" dy="-4.8">6</tspan></text>
<text transform="translate(439.5,460.18) scale(1.03,1)" font-size="10.5" style="font-family:'Liberation Sans', sans-serif">10<tspan font-size="6.8" dy="-4.8">5</tspan></text>
<text transform="translate(439.5,471.28) scale(1.03,1)" font-size="10.5" style="font-family:'Liberation Sans', sans-serif">10<tspan font-size="6.8" dy="-4.8">4</tspan></text>
<text transform="translate(439.5,482.48) scale(1.03,1)" font-size="10.5" style="font-family:'Liberation Sans', sans-serif">10<tspan font-size="6.8" dy="-4.8">3</tspan></text>
<text transform="translate(439.5,493.68) scale(1.03,1)" font-size="10.5" style="font-family:'Liberation Sans', sans-serif">10<tspan font-size="6.8" dy="-4.8">2</tspan></text>
<text transform="translate(439.5,515.48) scale(1.03,1)" font-size="10.5" style="font-family:'Liberation Sans', sans-serif">10<tspan font-size="6.8" dy="-4.8">6</tspan></text>
<text transform="translate(439.5,531.48) scale(1.03,1)" font-size="10.5" style="font-family:'Liberation Sans', sans-serif">10<tspan font-size="6.8" dy="-4.8">5</tspan></text>
<text transform="translate(439.5,547.48) scale(1.03,1)" font-size="10.5" style="font-family:'Liberation Sans', sans-serif">10<tspan font-size="6.8" dy="-4.8">4</tspan></text>
<text transform="translate(439.5,563.48) scale(1.03,1)" font-size="10.5" style="font-family:'Liberation Sans', sans-serif">10<tspan font-size="6.8" dy="-4.8">3</tspan></text>
<text transform="translate(439.5,577.68) scale(1.03,1)" font-size="10.5" style="font-family:'Liberation Sans', sans-serif">10<tspan font-size="6.8" dy="-4.8">2</tspan></text>
<rect x="920.5" y="421.2" width="6.30" height="76.10" fill="url(#cbg)" stroke="#202020" stroke-width="0.6"/>
<rect x="920.5" y="502.0" width="6.30" height="76.00" fill="url(#cbg)" stroke="#202020" stroke-width="0.6"/>
<text transform="translate(930.5,439.88) scale(1.03,1)" font-size="10.5" style="font-family:'Liberation Sans', sans-serif">10<tspan font-size="6.8" dy="-4.8">7</tspan></text>
<text transform="translate(930.5,454.38) scale(1.03,1)" font-size="10.5" style="font-family:'Liberation Sans', sans-serif">10<tspan font-size="6.8" dy="-4.8">6</tspan></text>
<text transform="translate(930.5,468.88) scale(1.03,1)" font-size="10.5" style="font-family:'Liberation Sans', sans-serif">10<tspan font-size="6.8" dy="-4.8">5</tspan></text>
<text transform="translate(930.5,483.38) scale(1.03,1)" font-size="10.5" style="font-family:'Liberation Sans', sans-serif">10<tspan font-size="6.8" dy="-4.8">4</tspan></text>
<text transform="translate(930.5,496.98) scale(1.03,1)" font-size="10.5" style="font-family:'Liberation Sans', sans-serif">10<tspan font-size="6.8" dy="-4.8">3</tspan></text>
<text transform="translate(930.5,514.08) scale(1.03,1)" font-size="10.5" style="font-family:'Liberation Sans', sans-serif">10<tspan font-size="6.8" dy="-4.8">6</tspan></text>
<text transform="translate(930.5,526.98) scale(1.03,1)" font-size="10.5" style="font-family:'Liberation Sans', sans-serif">10<tspan font-size="6.8" dy="-4.8">5</tspan></text>
<text transform="translate(930.5,539.98) scale(1.03,1)" font-size="10.5" style="font-family:'Liberation Sans', sans-serif">10<tspan font-size="6.8" dy="-4.8">4</tspan></text>
<text transform="translate(930.5,552.98) scale(1.03,1)" font-size="10.5" style="font-family:'Liberation Sans', sans-serif">10<tspan font-size="6.8" dy="-4.8">3</tspan></text>
<text transform="translate(930.5,565.68) scale(1.03,1)" font-size="10.5" style="font-family:'Liberation Sans', sans-serif">10<tspan font-size="6.8" dy="-4.8">2</tspan></text>
<text transform="translate(930.5,577.28) scale(1.03,1)" font-size="10.5" style="font-family:'Liberation Sans', sans-serif">10<tspan font-size="6.8" dy="-4.8">1</tspan></text>
<rect x="430.1" y="1076.2" width="5.60" height="76.10" fill="url(#cbg)" stroke="#202020" stroke-width="0.6"/>
<rect x="430.1" y="1157.0" width="5.60" height="76.00" fill="url(#cbg)" stroke="#202020" stroke-width="0.6"/>
<text transform="translate(439.4,1082.98) scale(1.03,1)" font-size="10.5" style="font-family:'Liberation Sans', sans-serif">10<tspan font-size="6.8" dy="-4.8">8</tspan></text>
<text transform="translate(439.4,1092.78) scale(1.03,1)" font-size="10.5" style="font-family:'Liberation Sans', sans-serif">10<tspan font-size="6.8" dy="-4.8">7</tspan></text>
<text transform="translate(439.4,1103.78) scale(1.03,1)" font-size="10.5" style="font-family:'Liberation Sans', sans-serif">10<tspan font-size="6.8" dy="-4.8">6</tspan></text>
<text transform="translate(439.4,1115.18) scale(1.03,1)" font-size="10.5" style="font-family:'Liberation Sans', sans-serif">10<tspan font-size="6.8" dy="-4.8">5</tspan></text>
<text transform="translate(439.4,1126.28) scale(1.03,1)" font-size="10.5" style="font-family:'Liberation Sans', sans-serif">10<tspan font-size="6.8" dy="-4.8">4</tspan></text>
<text transform="translate(439.4,1137.48) scale(1.03,1)" font-size="10.5" style="font-family:'Liberation Sans', sans-serif">10<tspan font-size="6.8" dy="-4.8">3</tspan></text>
<text transform="translate(439.4,1148.68) scale(1.03,1)" font-size="10.5" style="font-family:'Liberation Sans', sans-serif">10<tspan font-size="6.8" dy="-4.8">2</tspan></text>
<text transform="translate(439.4,1169.38) scale(1.03,1)" font-size="10.5" style="font-family:'Liberation Sans', sans-serif">10<tspan font-size="6.8" dy="-4.8">6</tspan></text>
<text transform="translate(439.4,1183.68) scale(1.03,1)" font-size="10.5" style="font-family:'Liberation Sans', sans-serif">10<tspan font-size="6.8" dy="-4.8">5</tspan></text>
<text transform="translate(439.4,1197.58) scale(1.03,1)" font-size="10.5" style="font-family:'Liberation Sans', sans-serif">10<tspan font-size="6.8" dy="-4.8">4</tspan></text>
<text transform="translate(439.4,1211.48) scale(1.03,1)" font-size="10.5" style="font-family:'Liberation Sans', sans-serif">10<tspan font-size="6.8" dy="-4.8">3</tspan></text>
<text transform="translate(439.4,1225.58) scale(1.03,1)" font-size="10.5" style="font-family:'Liberation Sans', sans-serif">10<tspan font-size="6.8" dy="-4.8">2</tspan></text>
<text transform="translate(469.6,497.4) rotate(-90)" font-size="11.3" text-anchor="middle" style="font-family:'Liberation Sans', sans-serif">[eV/(cm^2-s-sr-eV)]</text>
<text transform="translate(959.6,502.6) rotate(-90)" font-size="11.3" text-anchor="middle" style="font-family:'Liberation Sans', sans-serif">[eV/(cm^2-s-sr-eV)]</text>
<text transform="translate(469.6,1152.4) rotate(-90)" font-size="11.3" text-anchor="middle" style="font-family:'Liberation Sans', sans-serif">[eV/(cm^2-s-sr-eV)]</text>
<rect x="424.0" y="510.5" width="5.2" height="66" fill="#ffffff"/>
<text transform="translate(428.70000000000005,543.5) rotate(-90)" font-size="5.9" text-anchor="middle" fill="#333" style="font-family:'Liberation Sans', sans-serif" textLength="65" lengthAdjust="spacingAndGlyphs">Tue Sep 23 15:10:49 2025</text>
<rect x="915.0" y="510.5" width="5.2" height="66" fill="#ffffff"/>
<text transform="translate(919.7,543.5) rotate(-90)" font-size="5.9" text-anchor="middle" fill="#333" style="font-family:'Liberation Sans', sans-serif" textLength="65" lengthAdjust="spacingAndGlyphs">Tue Sep 23 15:12:24 2025</text>
<rect x="424.0" y="1165.5" width="5.2" height="66" fill="#ffffff"/>
<text transform="translate(428.70000000000005,1198.5) rotate(-90)" font-size="5.9" text-anchor="middle" fill="#333" style="font-family:'Liberation Sans', sans-serif" textLength="65" lengthAdjust="spacingAndGlyphs">Tue Sep 23 15:15:30 2025</text>
<text transform="translate(737.2,658.3) scale(1.04,1)" font-size="21.5" text-anchor="middle" style="font-family:'Liberation Sans', sans-serif">2015-01-03/05:10:00</text>
<path d="M869.60 666.2v5.5M869.60 929.4v-5.5M863.03 666.2v2.4M863.03 929.4v-2.4M856.46 666.2v2.4M856.46 929.4v-2.4M849.88 666.2v2.4M849.88 929.4v-2.4M843.31 666.2v2.4M843.31 929.4v-2.4M836.74 666.2v2.4M836.74 929.4v-2.4M830.17 666.2v2.4M830.17 929.4v-2.4M823.59 666.2v2.4M823.59 929.4v-2.4M817.02 666.2v2.4M817.02 929.4v-2.4M810.45 666.2v2.4M810.45 929.4v-2.4M803.88 666.2v5.5M803.88 929.4v-5.5M797.30 666.2v2.4M797.30 929.4v-2.4M790.73 666.2v2.4M790.73 929.4v-2.4M784.16 666.2v2.4M784.16 929.4v-2.4M777.59 666.2v2.4M777.59 929.4v-2.4M771.01 666.2v2.4M771.01 929.4v-2.4M764.44 666.2v2.4M764.44 929.4v-2.4M757.87 666.2v2.4M757.87 929.4v-2.4M751.30 666.2v2.4M751.30 929.4v-2.4M744.72 666.2v2.4M744.72 929.4v-2.4M738.15 666.2v5.5M738.15 929.4v-5.5M731.58 666.2v2.4M731.58 929.4v-2.4M725.00 666.2v2.4M725.00 929.4v-2.4M718.43 666.2v2.4M718.43 929.4v-2.4M711.86 666.2v2.4M711.86 929.4v-2.4M705.29 666.2v2.4M705.29 929.4v-2.4M698.72 666.2v2.4M698.72 929.4v-2.4M692.14 666.2v2.4M692.14 929.4v-2.4M685.57 666.2v2.4M685.57 929.4v-2.4M679.00 666.2v2.4M679.00 929.4v-2.4M672.43 666.2v5.5M672.43 929.4v-5.5M665.85 666.2v2.4M665.85 929.4v-2.4M659.28 666.2v2.4M659.28 929.4v-2.4M652.71 666.2v2.4M652.71 929.4v-2.4M646.13 666.2v2.4M646.13 929.4v-2.4M639.56 666.2v2.4M639.56 929.4v-2.4M632.99 666.2v2.4M632.99 929.4v-2.4M626.42 666.2v2.4M626.42 929.4v-2.4M619.85 666.2v2.4M619.85 929.4v-2.4M613.27 666.2v2.4M613.27 929.4v-2.4M606.70 666.2v5.5M606.70 929.4v-5.5M606.7 666.20h5.5M869.6 666.20h-5.5M606.7 672.78h2.4M869.6 672.78h-2.4M606.7 679.36h2.4M869.6 679.36h-2.4M606.7 685.94h2.4M869.6 685.94h-2.4M606.7 692.52h2.4M869.6 692.52h-2.4M606.7 699.10h2.4M869.6 699.10h-2.4M606.7 705.68h2.4M869.6 705.68h-2.4M606.7 712.26h2.4M869.6 712.26h-2.4M606.7 718.84h2.4M869.6 718.84h-2.4M606.7 725.42h2.4M869.6 725.42h-2.4M606.7 732.00h5.5M869.6 732.00h-5.5M606.7 738.58h2.4M869.6 738.58h-2.4M606.7 745.16h2.4M869.6 745.16h-2.4M606.7 751.74h2.4M869.6 751.74h-2.4M606.7 758.32h2.4M869.6 758.32h-2.4M606.7 764.90h2.4M869.6 764.90h-2.4M606.7 771.48h2.4M869.6 771.48h-2.4M606.7 778.06h2.4M869.6 778.06h-2.4M606.7 784.64h2.4M869.6 784.64h-2.4M606.7 791.22h2.4M869.6 791.22h-2.4M606.7 797.80h5.5M869.6 797.80h-5.5M606.7 804.38h2.4M869.6 804.38h-2.4M606.7 810.96h2.4M869.6 810.96h-2.4M606.7 817.54h2.4M869.6 817.54h-2.4M606.7 824.12h2.4M869.6 824.12h-2.4M606.7 830.70h2.4M869.6 830.70h-2.4M606.7 837.28h2.4M869.6 837.28h-2.4M606.7 843.86h2.4M869.6 843.86h-2.4M606.7 850.44h2.4M869.6 850.44h-2.4M606.7 857.02h2.4M869.6 857.02h-2.4M606.7 863.60h5.5M869.6 863.60h-5.5M606.7 870.18h2.4M869.6 870.18h-2.4M606.7 876.76h2.4M869.6 876.76h-2.4M606.7 883.34h2.4M869.6 883.34h-2.4M606.7 889.92h2.4M869.6 889.92h-2.4M606.7 896.50h2.4M869.6 896.50h-2.4M606.7 903.08h2.4M869.6 903.08h-2.4M606.7 909.66h2.4M869.6 909.66h-2.4M606.7 916.24h2.4M869.6 916.24h-2.4M606.7 922.82h2.4M869.6 922.82h-2.4M606.7 929.40h5.5M869.6 929.40h-5.5" stroke="#000" stroke-width="1.1" fill="none"/>
<rect x="606.7" y="666.2" width="262.90" height="263.20" fill="none" stroke="#000" stroke-width="1.5"/>
<text transform="translate(606.70,952.50)" font-size="18" text-anchor="middle" style="font-family:'Liberation Sans', sans-serif">-1</text>
<text transform="translate(672.43,952.50)" font-size="18" text-anchor="middle" style="font-family:'Liberation Sans', sans-serif">-2</text>
<text transform="translate(738.15,952.50)" font-size="18" text-anchor="middle" style="font-family:'Liberation Sans', sans-serif">-3</text>
<text transform="translate(803.88,952.50)" font-size="18" text-anchor="middle" style="font-family:'Liberation Sans', sans-serif">-4</text>
<text transform="translate(869.60,952.50)" font-size="18" text-anchor="middle" style="font-family:'Liberation Sans', sans-serif">-5</text>
<text transform="translate(601.00,676.70)" font-size="18" text-anchor="end" style="font-family:'Liberation Sans', sans-serif">9</text>
<text transform="translate(601.00,738.40)" font-size="18" text-anchor="end" style="font-family:'Liberation Sans', sans-serif">10</text>
<text transform="translate(601.00,804.30)" font-size="18" text-anchor="end" style="font-family:'Liberation Sans', sans-serif">11</text>
<text transform="translate(601.00,870.00)" font-size="18" text-anchor="end" style="font-family:'Liberation Sans', sans-serif">12</text>
<text transform="translate(601.00,930.00)" font-size="18" text-anchor="end" style="font-family:'Liberation Sans', sans-serif">13</text>
<text x="736.9" y="971.8" font-size="17.5" text-anchor="middle" style="font-family:'Liberation Serif', serif">X_gsm [RE]</text>
<text transform="translate(568.7,799.0) rotate(-90)" font-size="17.5" text-anchor="middle" style="font-family:'Liberation Serif', serif">Y_gsm [RE]</text>
<text x="840.2" y="692.9" font-size="27.5" style="font-family:'Liberation Serif', serif">v</text>
<circle cx="624.5" cy="755.75" r="2.4" fill="#00e8e8"/>
<text x="628.0" y="749.2" font-size="13" text-anchor="middle" fill="#00e8e8" style="font-family:'Liberation Serif', serif">THD</text>
<circle cx="721.75" cy="807.0" r="2.4" fill="#0000f0"/>
<text x="722.5" y="798.75" font-size="13" text-anchor="middle" fill="#0000f0" style="font-family:'Liberation Serif', serif">THE</text>
<circle cx="810.0" cy="818.75" r="2.4" fill="#ff00ff"/>
<text x="810.25" y="811.75" font-size="13" text-anchor="middle" fill="#ff00ff" style="font-family:'Liberation Serif', serif">THA</text>
<path d="M606.70 986.6v5.5M606.70 1249.3v-5.5M613.27 986.6v2.4M613.27 1249.3v-2.4M619.85 986.6v2.4M619.85 1249.3v-2.4M626.42 986.6v2.4M626.42 1249.3v-2.4M632.99 986.6v2.4M632.99 1249.3v-2.4M639.56 986.6v2.4M639.56 1249.3v-2.4M646.13 986.6v2.4M646.13 1249.3v-2.4M652.71 986.6v2.4M652.71 1249.3v-2.4M659.28 986.6v2.4M659.28 1249.3v-2.4M665.85 986.6v2.4M665.85 1249.3v-2.4M672.43 986.6v5.5M672.43 1249.3v-5.5M679.00 986.6v2.4M679.00 1249.3v-2.4M685.57 986.6v2.4M685.57 1249.3v-2.4M692.14 986.6v2.4M692.14 1249.3v-2.4M698.72 986.6v2.4M698.72 1249.3v-2.4M705.29 986.6v2.4M705.29 1249.3v-2.4M711.86 986.6v2.4M711.86 1249.3v-2.4M718.43 986.6v2.4M718.43 1249.3v-2.4M725.01 986.6v2.4M725.01 1249.3v-2.4M731.58 986.6v2.4M731.58 1249.3v-2.4M738.15 986.6v5.5M738.15 1249.3v-5.5M744.72 986.6v2.4M744.72 1249.3v-2.4M751.29 986.6v2.4M751.29 1249.3v-2.4M757.87 986.6v2.4M757.87 1249.3v-2.4M764.44 986.6v2.4M764.44 1249.3v-2.4M771.01 986.6v2.4M771.01 1249.3v-2.4M777.59 986.6v2.4M777.59 1249.3v-2.4M784.16 986.6v2.4M784.16 1249.3v-2.4M790.73 986.6v2.4M790.73 1249.3v-2.4M797.30 986.6v2.4M797.30 1249.3v-2.4M803.88 986.6v5.5M803.88 1249.3v-5.5M810.45 986.6v2.4M810.45 1249.3v-2.4M817.02 986.6v2.4M817.02 1249.3v-2.4M823.59 986.6v2.4M823.59 1249.3v-2.4M830.17 986.6v2.4M830.17 1249.3v-2.4M836.74 986.6v2.4M836.74 1249.3v-2.4M843.31 986.6v2.4M843.31 1249.3v-2.4M849.88 986.6v2.4M849.88 1249.3v-2.4M856.46 986.6v2.4M856.46 1249.3v-2.4M863.03 986.6v2.4M863.03 1249.3v-2.4M869.60 986.6v5.5M869.60 1249.3v-5.5M606.7 1249.30h5.5M869.6 1249.30h-5.5M606.7 1242.73h2.4M869.6 1242.73h-2.4M606.7 1236.16h2.4M869.6 1236.16h-2.4M606.7 1229.60h2.4M869.6 1229.60h-2.4M606.7 1223.03h2.4M869.6 1223.03h-2.4M606.7 1216.46h2.4M869.6 1216.46h-2.4M606.7 1209.89h2.4M869.6 1209.89h-2.4M606.7 1203.33h2.4M869.6 1203.33h-2.4M606.7 1196.76h2.4M869.6 1196.76h-2.4M606.7 1190.19h2.4M869.6 1190.19h-2.4M606.7 1183.62h5.5M869.6 1183.62h-5.5M606.7 1177.06h2.4M869.6 1177.06h-2.4M606.7 1170.49h2.4M869.6 1170.49h-2.4M606.7 1163.92h2.4M869.6 1163.92h-2.4M606.7 1157.36h2.4M869.6 1157.36h-2.4M606.7 1150.79h2.4M869.6 1150.79h-2.4M606.7 1144.22h2.4M869.6 1144.22h-2.4M606.7 1137.65h2.4M869.6 1137.65h-2.4M606.7 1131.09h2.4M869.6 1131.09h-2.4M606.7 1124.52h2.4M869.6 1124.52h-2.4M606.7 1117.95h5.5M869.6 1117.95h-5.5M606.7 1111.38h2.4M869.6 1111.38h-2.4M606.7 1104.82h2.4M869.6 1104.82h-2.4M606.7 1098.25h2.4M869.6 1098.25h-2.4M606.7 1091.68h2.4M869.6 1091.68h-2.4M606.7 1085.11h2.4M869.6 1085.11h-2.4M606.7 1078.55h2.4M869.6 1078.55h-2.4M606.7 1071.98h2.4M869.6 1071.98h-2.4M606.7 1065.41h2.4M869.6 1065.41h-2.4M606.7 1058.84h2.4M869.6 1058.84h-2.4M606.7 1052.28h5.5M869.6 1052.28h-5.5M606.7 1045.71h2.4M869.6 1045.71h-2.4M606.7 1039.14h2.4M869.6 1039.14h-2.4M606.7 1032.57h2.4M869.6 1032.57h-2.4M606.7 1026.00h2.4M869.6 1026.00h-2.4M606.7 1019.44h2.4M869.6 1019.44h-2.4M606.7 1012.87h2.4M869.6 1012.87h-2.4M606.7 1006.30h2.4M869.6 1006.30h-2.4M606.7 999.74h2.4M869.6 999.74h-2.4M606.7 993.17h2.4M869.6 993.17h-2.4M606.7 986.60h5.5M869.6 986.60h-5.5" stroke="#000" stroke-width="1.1" fill="none"/>
<rect x="606.7" y="986.6" width="262.90" height="262.70" fill="none" stroke="#000" stroke-width="1.5"/>
<text transform="translate(606.70,1271.80)" font-size="18" text-anchor="middle" style="font-family:'Liberation Sans', sans-serif">9</text>
<text transform="translate(672.43,1271.80)" font-size="18" text-anchor="middle" style="font-family:'Liberation Sans', sans-serif">10</text>
<text transform="translate(738.15,1271.80)" font-size="18" text-anchor="middle" style="font-family:'Liberation Sans', sans-serif">11</text>
<text transform="translate(803.88,1271.80)" font-size="18" text-anchor="middle" style="font-family:'Liberation Sans', sans-serif">12</text>
<text transform="translate(869.60,1271.80)" font-size="18" text-anchor="middle" style="font-family:'Liberation Sans', sans-serif">13</text>
<text transform="translate(601.00,997.20)" font-size="18" text-anchor="end" style="font-family:'Liberation Sans', sans-serif">2</text>
<text transform="translate(601.00,1058.70)" font-size="18" text-anchor="end" style="font-family:'Liberation Sans', sans-serif">1</text>
<text transform="translate(601.00,1124.40)" font-size="18" text-anchor="end" style="font-family:'Liberation Sans', sans-serif">0</text>
<text transform="translate(601.00,1190.00)" font-size="18" text-anchor="end" style="font-family:'Liberation Sans', sans-serif">-1</text>
<text transform="translate(601.00,1249.40)" font-size="18" text-anchor="end" style="font-family:'Liberation Sans', sans-serif">-2</text>
<text x="736.9" y="1291.7" font-size="17.5" text-anchor="middle" style="font-family:'Liberation Serif', serif">Y_gsm [RE]</text>
<text transform="translate(571.0,1120.0) rotate(-90)" font-size="17.5" text-anchor="middle" style="font-family:'Liberation Serif', serif">Z_gsm [RE]</text>
<text x="843.0" y="1015.9" font-size="27.5" style="font-family:'Liberation Serif', serif">w</text>
<circle cx="695.6" cy="1071.2" r="2.4" fill="#00e8e8"/>
<text x="698.4" y="1062.8" font-size="13" text-anchor="middle" fill="#00e8e8" style="font-family:'Liberation Serif', serif">THD</text>
<circle cx="758.6" cy="1089.0" r="2.4" fill="#ff00ff"/>
<text x="759.5" y="1080.6" font-size="13" text-anchor="middle" fill="#ff00ff" style="font-family:'Liberation Serif', serif">THA</text>
<circle cx="746.7" cy="1101.1" r="2.4" fill="#0000f0"/>
<text x="746.6" y="1118.75" font-size="13" text-anchor="middle" fill="#0000f0" style="font-family:'Liberation Serif', serif">THE</text>
</svg></body></html>
